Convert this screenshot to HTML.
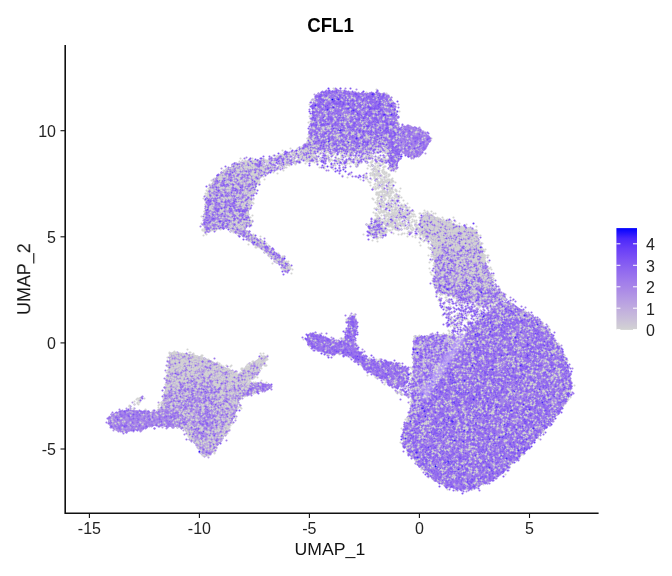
<!DOCTYPE html>
<html><head><meta charset="utf-8"><style>
html,body{margin:0;padding:0;background:#fff;width:672px;height:576px;overflow:hidden}
svg{display:block}
</style></head><body>
<svg width="672" height="576" viewBox="0 0 672 576">
<defs><filter id="bl1" x="-50%" y="-50%" width="200%" height="200%"><feGaussianBlur stdDeviation="2"/></filter><linearGradient id="cb" x1="0" y1="0" x2="0" y2="1"><stop offset="0.00" stop-color="#0000FF"/><stop offset="0.10" stop-color="#4926FB"/><stop offset="0.20" stop-color="#673DF8"/><stop offset="0.30" stop-color="#7C51F4"/><stop offset="0.40" stop-color="#8E65F0"/><stop offset="0.50" stop-color="#9D77EC"/><stop offset="0.60" stop-color="#AA89E7"/><stop offset="0.70" stop-color="#B69CE3"/><stop offset="0.80" stop-color="#C1AEDE"/><stop offset="0.90" stop-color="#CAC0D9"/><stop offset="1.00" stop-color="#D3D3D3"/></linearGradient></defs>
<rect width="672" height="576" fill="#fff"/>
<g><linearGradient id="g0" gradientUnits="userSpaceOnUse" x1="215.0" y1="205.0" x2="262.0" y2="165.0"><stop offset="0" stop-color="#B09BE2"/><stop offset="1" stop-color="#BDAFDC"/></linearGradient><path d="M250.0,161.5C246.3,160.9 243.3,161.5 240.0,162.5C236.7,163.5 233.2,165.8 230.0,167.5C226.8,169.2 223.7,170.8 221.0,173.0C218.3,175.2 216.0,177.8 214.0,180.5C212.0,183.2 210.2,186.0 209.0,189.0C207.8,192.0 207.2,195.3 206.5,198.5C205.8,201.7 205.3,204.8 205.0,208.0C204.7,211.2 204.7,214.7 204.5,218.0C204.3,221.3 203.8,225.7 204.0,228.0C204.2,230.3 204.6,231.6 206.0,232.0C207.4,232.4 209.9,231.1 212.4,230.5C214.9,229.9 218.1,228.8 221.0,228.5C223.9,228.2 227.4,227.9 229.7,228.5C231.9,229.1 231.7,230.7 234.5,232.3C237.3,234.0 242.5,236.0 246.6,238.4C250.7,240.8 254.8,243.8 258.8,246.8C262.9,249.8 267.3,253.6 270.9,256.6C274.5,259.7 278.0,262.5 280.6,265.1C283.2,267.7 285.1,272.0 286.7,272.4C288.3,272.8 290.7,269.6 290.3,267.6C289.9,265.6 286.8,262.9 284.2,260.3C281.6,257.7 278.1,254.9 274.5,251.8C270.9,248.8 266.4,245.0 262.4,242.0C258.3,239.0 253.1,235.9 250.2,233.6C247.3,231.3 244.9,229.6 245.0,228.0C245.1,226.4 250.4,226.3 251.0,224.0C251.6,221.7 248.9,217.5 248.8,214.0C248.7,210.5 249.7,206.5 250.5,203.0C251.3,199.5 252.6,196.3 253.8,193.0C255.0,189.7 256.0,186.2 257.5,183.0C259.0,179.8 262.1,176.8 262.9,174.0C263.6,171.2 264.1,168.1 262.0,166.0C259.9,163.9 253.7,162.1 250.0,161.5Z" fill="url(#g0)"/><linearGradient id="g1423" gradientUnits="userSpaceOnUse" x1="350.0" y1="100.0" x2="350.0" y2="160.0"><stop offset="0" stop-color="#9E80E9"/><stop offset="1" stop-color="#AC95E3"/></linearGradient><path d="M311.5,120.0C312.1,114.5 312.0,109.5 312.5,106.0C313.0,102.5 313.4,100.9 314.5,99.0C315.6,97.1 316.9,95.8 319.0,94.5C321.1,93.2 323.8,92.2 327.0,91.5C330.2,90.8 334.1,90.4 338.4,90.5C342.7,90.6 348.6,91.5 353.0,92.0C357.4,92.5 361.1,93.3 365.1,93.5C369.2,93.7 373.7,92.8 377.3,93.0C380.9,93.2 384.4,93.2 387.0,94.5C389.6,95.8 391.6,98.8 393.0,101.0C394.4,103.2 394.8,104.5 395.5,107.5C396.2,110.5 396.4,115.2 397.0,119.0C397.6,122.8 398.6,125.7 399.0,130.0C399.4,134.3 399.4,141.3 399.5,145.0C399.6,148.7 399.8,149.5 399.5,152.0C399.2,154.5 398.0,157.7 397.5,160.0C397.0,162.3 397.3,164.5 396.6,166.0C395.9,167.5 394.4,169.5 393.3,169.2C392.2,168.9 390.8,166.8 390.0,164.3C389.2,161.8 389.2,156.8 388.5,154.0C387.8,151.2 387.4,148.6 385.8,147.5C384.2,146.4 381.2,147.2 378.6,147.5C376.0,147.8 373.1,148.8 370.4,149.5C367.7,150.2 364.9,151.0 362.2,151.5C359.5,152.0 356.7,152.3 354.0,152.5C351.3,152.7 348.5,152.8 345.8,152.5C343.1,152.2 340.6,151.5 337.6,151.0C334.6,150.5 331.3,149.7 327.8,149.5C324.3,149.3 319.7,149.9 316.4,150.0C313.1,150.1 310.3,150.4 308.2,150.0C306.1,149.6 303.9,149.3 304.0,147.5C304.1,145.7 307.8,143.6 309.0,139.0C310.2,134.4 310.9,125.5 311.5,120.0Z" fill="url(#g1423)"/><path d="M389.0,145.0C390.2,142.5 395.4,143.3 397.0,145.0C398.6,146.7 398.3,152.0 398.5,155.0C398.7,158.0 398.5,160.7 398.0,163.0C397.5,165.3 396.6,168.1 395.5,169.0C394.4,169.9 392.5,170.0 391.5,168.5C390.5,167.0 389.9,163.9 389.5,160.0C389.1,156.1 387.8,147.5 389.0,145.0Z" fill="#9571EC"/><path d="M401.0,127.5C402.0,125.5 404.2,126.2 406.0,126.0C407.8,125.8 409.5,125.8 412.0,126.5C414.5,127.2 418.3,128.5 421.0,130.0C423.7,131.5 426.6,133.6 428.0,135.5C429.4,137.4 429.9,139.3 429.5,141.5C429.1,143.7 427.2,146.2 425.5,148.5C423.8,150.8 421.8,154.0 419.5,155.5C417.2,157.0 414.4,157.7 412.0,157.5C409.6,157.3 406.8,155.8 405.0,154.5C403.2,153.2 401.8,152.8 401.0,150.0C400.2,147.2 400.0,141.8 400.0,138.0C400.0,134.2 400.0,129.5 401.0,127.5Z" fill="#A585E8"/><linearGradient id="g3592" gradientUnits="userSpaceOnUse" x1="460.0" y1="225.0" x2="460.0" y2="305.0"><stop offset="0" stop-color="#C6BFD8"/><stop offset="1" stop-color="#AB94E4"/></linearGradient><path d="M425.0,214.0C428.4,212.0 436.9,218.3 441.3,219.8C445.8,221.3 448.2,221.7 451.7,222.9C455.1,224.1 458.6,226.1 462.0,227.0C465.4,227.9 469.6,227.7 472.0,228.5C474.4,229.3 475.2,229.8 476.5,232.0C477.8,234.2 478.7,238.4 479.8,241.7C480.9,245.0 482.0,248.5 483.0,252.0C484.0,255.5 484.8,258.7 486.0,262.5C487.2,266.3 489.0,271.2 490.3,275.0C491.6,278.8 492.6,282.6 494.0,285.4C495.4,288.1 497.0,289.4 499.0,291.5C501.0,293.6 506.3,296.2 506.0,298.0C505.7,299.8 500.7,301.2 497.0,302.0C493.3,302.8 488.5,303.4 484.0,303.0C479.5,302.6 474.7,300.6 470.0,299.5C465.3,298.4 459.7,297.3 456.0,296.5C452.3,295.7 450.5,295.2 448.0,294.5C445.5,293.8 442.9,293.6 441.0,292.5C439.1,291.4 437.5,290.1 436.5,288.0C435.5,285.9 435.3,283.8 435.0,280.0C434.7,276.2 434.9,270.0 434.5,265.0C434.1,260.0 433.2,254.5 432.5,250.0C431.8,245.5 431.9,241.0 430.0,238.0C428.1,235.0 421.8,236.0 421.0,232.0C420.2,228.0 421.6,216.0 425.0,214.0Z" fill="url(#g3592)"/><linearGradient id="g4733" gradientUnits="userSpaceOnUse" x1="500.0" y1="300.0" x2="500.0" y2="345.0"><stop offset="0" stop-color="#AB93E4"/><stop offset="1" stop-color="#A286E7"/></linearGradient><path d="M497.0,305.0C499.3,304.0 504.0,301.3 508.0,302.0C512.0,302.7 516.3,306.3 521.0,309.0C525.7,311.7 531.8,314.7 536.0,318.0C540.2,321.3 543.6,325.6 546.5,329.0C549.4,332.4 551.2,334.9 553.5,338.5C555.8,342.1 558.4,346.4 560.5,350.4C562.6,354.4 564.8,358.6 566.4,362.6C568.0,366.7 569.1,371.0 570.0,374.7C570.9,378.4 571.5,381.6 571.5,385.0C571.5,388.4 570.8,392.0 569.8,395.0C568.8,398.0 567.2,400.1 565.5,403.0C563.8,405.9 561.8,409.1 559.5,412.2C557.2,415.3 554.6,418.2 551.8,421.6C549.0,425.0 545.6,429.1 542.5,432.5C539.4,435.9 536.3,438.6 533.2,442.0C530.1,445.4 527.1,449.3 523.8,452.6C520.5,455.9 517.1,458.6 513.5,462.0C509.9,465.4 506.1,469.7 502.0,473.0C497.9,476.3 493.5,479.4 489.0,481.8C484.5,484.2 479.1,486.1 474.8,487.4C470.6,488.7 468.2,489.9 463.5,489.7C458.8,489.5 451.7,487.8 446.5,486.0C441.3,484.2 436.6,482.1 432.4,479.0C428.2,475.9 424.7,471.5 421.1,467.6C417.5,463.7 413.8,459.1 411.0,455.5C408.2,451.9 405.9,449.1 404.5,446.0C403.1,442.9 402.5,440.2 402.5,437.0C402.5,433.8 403.4,430.3 404.5,427.0C405.6,423.7 406.9,419.8 409.0,417.0C411.1,414.2 414.5,413.7 417.0,410.0C419.5,406.3 421.7,399.8 424.0,395.0C426.3,390.2 428.7,385.2 431.0,381.0C433.3,376.8 435.5,373.8 438.0,370.0C440.5,366.2 443.2,361.8 446.0,358.0C448.8,354.2 452.5,350.0 455.0,347.0C457.5,344.0 458.8,342.5 461.0,340.0C463.2,337.5 465.5,334.8 468.0,332.0C470.5,329.2 473.0,326.0 476.0,323.0C479.0,320.0 483.0,316.5 486.0,314.0C489.0,311.5 492.2,309.5 494.0,308.0C495.8,306.5 494.7,306.0 497.0,305.0Z" fill="url(#g4733)"/><path d="M414.0,338.0C415.9,335.7 421.2,336.5 425.0,336.0C428.8,335.5 433.2,335.2 437.0,335.0C440.8,334.8 444.7,334.7 448.0,335.0C451.3,335.3 454.8,336.2 457.0,337.0C459.2,337.8 461.3,338.3 461.0,340.0C460.7,341.7 457.5,344.0 455.0,347.0C452.5,350.0 448.8,354.2 446.0,358.0C443.2,361.8 440.5,366.2 438.0,370.0C435.5,373.8 433.3,376.8 431.0,381.0C428.7,385.2 426.2,390.5 424.0,395.0C421.8,399.5 420.0,404.5 418.0,408.0C416.0,411.5 413.5,414.2 412.0,416.0C410.5,417.8 409.2,420.3 409.0,419.0C408.8,417.7 410.0,411.8 410.5,408.0C411.0,404.2 411.7,400.7 412.0,396.0C412.3,391.3 412.3,385.2 412.5,380.0C412.7,374.8 412.8,370.0 413.0,365.0C413.2,360.0 413.3,354.5 413.5,350.0C413.7,345.5 412.1,340.3 414.0,338.0Z" fill="#A68BE6" opacity="0.68"/><path d="M307.1,336.3C307.4,334.6 308.2,333.8 309.9,333.5C311.6,333.2 314.5,333.6 317.3,334.4C320.1,335.2 323.5,336.9 326.6,338.1C329.7,339.4 333.3,341.6 335.9,341.9C338.5,342.2 340.5,341.4 342.4,340.0C344.2,338.6 346.1,336.1 347.0,333.5C347.9,330.9 347.7,326.9 348.0,324.2C348.3,321.5 348.0,318.8 348.8,317.5C349.6,316.2 351.4,315.9 352.7,316.5C354.0,317.1 356.0,318.5 356.5,321.0C357.0,323.5 355.9,328.0 355.6,331.6C355.3,335.2 354.1,339.7 354.5,342.8C354.9,345.9 356.3,347.7 358.2,350.2C360.1,352.7 362.6,355.8 365.7,357.7C368.8,359.6 372.5,360.5 376.8,361.4C381.1,362.3 387.8,362.5 391.7,363.2C395.6,363.9 397.8,364.4 400.0,365.5C402.2,366.6 403.9,367.8 405.0,370.0C406.1,372.2 406.7,376.2 406.5,379.0C406.3,381.8 405.6,385.9 404.0,387.0C402.4,388.1 399.7,386.4 397.0,385.5C394.3,384.6 391.4,383.3 388.0,381.8C384.6,380.3 380.5,378.5 376.8,376.3C373.1,374.1 369.1,371.3 365.7,368.8C362.3,366.3 359.2,363.6 356.4,361.4C353.6,359.2 351.7,357.1 348.9,355.8C346.1,354.6 342.7,354.2 339.6,353.9C336.5,353.6 333.1,354.2 330.3,353.9C327.5,353.6 325.7,353.0 322.9,352.1C320.1,351.2 316.1,349.8 313.6,348.4C311.1,347.0 309.1,345.7 308.0,343.7C306.9,341.7 306.8,338.0 307.1,336.3Z" fill="#9E7DEA"/><linearGradient id="g8381" gradientUnits="userSpaceOnUse" x1="200.0" y1="355.0" x2="200.0" y2="430.0"><stop offset="0" stop-color="#C5BADA"/><stop offset="1" stop-color="#B8A6DF"/></linearGradient><path d="M108.0,420.4C108.0,418.8 109.2,417.4 111.0,416.0C112.8,414.6 116.3,412.9 119.0,412.0C121.7,411.1 124.2,410.8 127.0,410.5C129.8,410.2 133.0,410.3 136.0,410.5C139.0,410.7 141.8,411.2 145.0,411.5C148.2,411.8 152.3,412.6 155.0,412.0C157.7,411.4 159.7,409.7 161.0,408.0C162.3,406.3 162.4,404.0 163.0,401.6C163.6,399.2 163.6,397.2 164.3,393.6C165.0,390.0 166.2,384.7 167.0,380.2C167.8,375.7 168.6,371.3 169.1,366.8C169.6,362.3 168.3,355.7 170.2,353.4C172.1,351.1 176.5,352.7 180.4,352.9C184.3,353.1 189.3,353.7 193.8,354.7C198.3,355.7 202.8,357.0 207.2,358.8C211.6,360.6 216.7,363.6 220.5,365.4C224.3,367.2 227.1,368.1 230.0,369.5C232.9,370.9 235.8,373.8 238.0,374.0C240.2,374.2 240.8,372.2 243.0,370.5C245.2,368.8 248.5,365.9 251.0,364.0C253.5,362.1 255.8,360.4 258.0,359.0C260.2,357.6 262.5,355.8 264.0,355.5C265.5,355.2 267.0,356.2 267.0,357.5C267.0,358.8 265.7,360.9 264.0,363.5C262.3,366.1 259.3,370.2 257.0,373.0C254.7,375.8 251.8,378.2 250.0,380.0C248.2,381.8 245.0,383.0 246.0,383.5C247.0,384.0 253.3,383.0 256.0,383.0C258.7,383.0 259.6,383.0 262.0,383.5C264.4,384.0 269.4,385.0 270.5,386.0C271.6,387.0 270.2,388.6 268.5,389.5C266.8,390.4 262.8,390.8 260.0,391.5C257.2,392.2 254.7,392.7 252.0,393.5C249.3,394.3 246.2,395.2 244.0,396.5C241.8,397.8 240.2,398.6 239.0,401.0C237.8,403.4 237.8,407.3 236.5,411.0C235.2,414.7 233.1,419.2 231.3,423.0C229.5,426.8 228.1,430.2 225.9,433.8C223.7,437.4 221.0,440.7 217.9,444.5C214.8,448.3 210.3,455.8 207.2,456.5C204.1,457.2 201.8,451.4 199.1,448.5C196.4,445.6 193.8,442.5 191.1,439.1C188.4,435.8 186.6,430.6 183.0,428.4C179.4,426.2 174.5,426.1 169.6,425.7C164.7,425.2 158.5,425.2 153.6,425.7C148.7,426.1 144.7,427.5 140.2,428.4C135.7,429.3 130.8,430.9 126.8,431.1C122.8,431.3 118.8,430.6 116.1,429.7C113.4,428.8 112.0,427.2 110.7,425.7C109.4,424.1 108.0,422.0 108.0,420.4Z" fill="url(#g8381)"/><path d="M165.0,395.0C167.0,390.2 173.0,387.2 178.0,385.0C183.0,382.8 189.3,381.5 195.0,382.0C200.7,382.5 207.8,384.2 212.0,388.0C216.2,391.8 220.0,399.0 220.0,405.0C220.0,411.0 216.2,419.8 212.0,424.0C207.8,428.2 200.3,429.8 195.0,430.0C189.7,430.2 184.8,427.7 180.0,425.0C175.2,422.3 168.5,419.0 166.0,414.0C163.5,409.0 163.0,399.8 165.0,395.0Z" fill="#B29CE2" opacity="0.6"/><path d="M108.0,420.4C108.0,418.7 109.2,417.4 111.0,416.0C112.8,414.6 116.3,412.9 119.0,412.0C121.7,411.1 124.2,410.8 127.0,410.5C129.8,410.2 133.0,410.3 136.0,410.5C139.0,410.7 141.8,411.2 145.0,411.5C148.2,411.8 152.0,412.6 155.0,412.5C158.0,412.4 160.5,410.9 163.0,411.0C165.5,411.1 167.5,411.8 170.0,413.0C172.5,414.2 176.0,416.0 178.0,418.0C180.0,420.0 182.5,423.5 182.0,425.0C181.5,426.5 177.8,426.8 175.0,427.0C172.2,427.2 168.7,426.7 165.0,426.5C161.3,426.3 157.2,425.5 153.0,426.0C148.8,426.5 144.3,428.6 140.0,429.5C135.7,430.4 131.0,431.3 127.0,431.5C123.0,431.7 118.7,431.4 116.0,430.5C113.3,429.6 112.0,427.7 110.7,426.0C109.4,424.3 108.0,422.1 108.0,420.4Z" fill="#A788E7"/><path d="M244.0,395.0C244.2,394.1 248.0,391.3 250.0,389.5C252.0,387.7 254.0,385.0 256.0,384.0C258.0,383.0 259.6,383.2 262.0,383.5C264.4,383.8 269.4,385.0 270.5,386.0C271.6,387.0 270.6,388.5 268.5,389.5C266.4,390.5 261.2,391.1 258.0,392.0C254.8,392.9 251.3,394.5 249.0,395.0C246.7,395.5 243.8,395.9 244.0,395.0Z" fill="#AA8EE6"/></g>
<g stroke-linecap="round" stroke-width="2.1" fill="none" transform="translate(0.5,0.5)"><path d="M342 96h0m21 4h0m0 1h0m27 2h0m-6 5h0m-27 1h0m27 0h0m-40 5h0m20 0h0m-26 1h0m6 2h0m-11 1h0m52 3h0m-52 2h0m-3 4h0m14 0h0m-25 2h0m75 2h0m-70 1h0m33 0h0m-20 1h0m46 0h0m-65 1h0m4 6h0m51 0h0m5 1h0m20 1h0m-69 1h0m63 0h0m-77 1h0m77 0h0m9 0h0m-92 1h0m-1 1h0m5 0h0m-10 1h0m51 0h0m7 1h0m29 0h0m-81 1h0m26 0h0m-31 3h0m7 1h0m-29 1h0m49 1h0m11 1h0m-36 1h0m58 0h0m-4 2h0m-89 1h0m-22 1h0m17 0h0m44 0h0m-62 1h0m123 2h0m-91 3h0m-17 2h0m127 1h0m-163 1h0m36 2h0m-13 1h0m127 0h0m-116 2h0m-38 4h0m12 1h0m-3 3h0m146 0h0m8 1h0m-13 2h0m19 0h0m-9 2h0m-3 2h0m-134 2h0m-25 2h0m13 0h0m-18 1h0m179 0h0m-184 1h0m18 1h0m-11 1h0m22 2h0m9 0h0m-41 3h0m34 0h0m141 1h0m-2 2h0m-175 2h0m29 4h0m157 1h0m2 0h0m36 0h0m-28 1h0m30 0h0m-216 1h0m21 0h0m195 1h0m-200 1h0m142 1h0m13 0h0m-152 2h0m153 0h0m8 0h0m47 0h0m-52 1h0m39 0h0m-200 1h0m15 0h0m179 0h0m-24 1h0m-12 1h0m68 0h0m-4 1h0m-27 2h0m39 0h0m-84 1h0m15 0h0m18 0h0m-33 1h0m42 0h0m37 0h0m14 0h0m-235 1h0m232 0h0m-225 1h0m182 0h0m5 0h0m30 0h0m-9 1h0m-10 1h0m-28 1h0m16 0h0m45 1h0m-4 1h0m-14 1h0m-196 3h0m166 0h0m-167 1h0m214 0h0m-29 1h0m-13 1h0m7 0h0m9 0h0m12 0h0m-204 2h0m1 0h0m189 0h0m6 2h0m3 0h0m18 0h0m-196 5h0m177 0h0m17 0h0m-198 2h0m195 0h0m-15 2h0m11 0h0m-7 3h0m18 0h0m-29 2h0m38 3h0m-44 2h0m34 0h0m5 0h0m-32 1h0m17 2h0m-14 1h0m0 0h0m12 2h0m-19 3h0m12 0h0m30 0h0m-49 2h0m10 0h0m16 0h0m-19 2h0m39 0h0m1 0h0m-42 2h0m24 1h0m7 0h0m-37 1h0m10 0h0m25 2h0m-34 7h0m2 4h0m35 0h0m0 1h0m28 1h0m2 5h0m-1 6h0m11 2h0m18 6h0m-18 1h0m-21 1h0m-8 1h0m-6 2h0m28 2h0m-14 1h0m18 0h0m-40 1h0m20 1h0m7 0h0m-19 3h0m-20 2h0m25 0h0m62 0h0m-193 2h0m139 1h0m30 2h0m-46 1h0m58 0h0m-35 1h0m4 0h0m-19 1h0m62 0h0m-42 1h0m32 0h0m18 0h0m-119 1h0m55 0h0m-169 2h0m10 0h0m124 1h0m38 1h0m57 1h0m-46 2h0m-156 1h0m162 1h0m23 1h0m-354 2h0m5 2h0m11 1h0m286 0h0m-288 2h0m374 0h0m-389 1h0m19 1h0m193 0h0m61 0h0m-251 1h0m276 0h0m69 0h0m-175 1h0m99 0h0m-277 1h0m222 0h0m69 0h0m-304 2h0m63 1h0m148 0h0m113 0h0m-39 1h0m-295 1h0m217 0h0m143 0h0m-304 1h0m-51 1h0m47 0h0m302 0h0m1 0h0m-303 1h0m190 0h0m82 0h0m59 0h0m-89 1h0m68 0h0m-325 1h0m329 0h0m6 0h0m-348 1h0m236 0h0m31 0h0m-254 1h0m51 0h0m186 0h0m-274 1h0m323 0h0m-274 1h0m-29 1h0m216 0h0m-169 1h0m196 0h0m-231 1h0m13 0h0m227 0h0m98 0h0m-361 1h0m50 0h0m7 2h0m1 0h0m299 0h0m-284 1h0m141 0h0m105 0h0m-327 1h0m97 0h0m3 0h0m228 0h0m71 1h0m-405 4h0m37 0h0m29 0h0m-44 2h0m34 0h0m-29 1h0m224 0h0m92 0h0m-70 1h0m15 0h0m2 0h0m-315 2h0m42 1h0m280 0h0m30 0h0m-48 1h0m73 0h0m-280 1h0m184 0h0m54 0h0m-254 2h0m288 0h0m-72 1h0m-197 2h0m179 0h0m-185 1h0m316 0h0m-341 1h0m29 0h0m274 0h0m-326 2h0m229 1h0m112 1h0m7 0h0m-116 1h0m18 1h0m61 2h0m-74 1h0m7 1h0m98 0h0m-117 1h0m11 0h0m9 0h0m86 0h0m3 0h0m15 0h0m-370 1h0m33 0h0m230 1h0m-197 1h0m217 0h0m27 1h0m10 0h0m-301 2h0m245 0h0m117 0h0m-349 1h0m323 0h0m21 0h0m-339 1h0m-20 1h0m336 1h0m-331 2h0m19 0h0m330 0h0m-327 2h0m303 0h0m-103 1h0m11 0h0m-229 1h0m244 0h0m-246 1h0m21 0h0m212 2h0m60 1h0m-268 1h0m233 0h0m66 0h0m-62 1h0m45 0h0m-296 2h0m268 0h0m-23 1h0m54 1h0m1 0h0m-299 2h0m13 0h0m-4 1h0m7 0h0m218 1h0m78 8h0m-24 2h0m-50 2h0m49 1h0m-36 1h0m33 0h0m-39 2h0m49 0h0m-51 2h0m21 4h0m14 5h0m-32 3h0m15 1h0" stroke="#D3D3D3"/><path d="M336 91h0m-15 1h0m2 1h0m11 0h0m16 3h0m8 1h0m28 0h0m-67 2h0m51 2h0m8 0h0m7 0h0m-49 1h0m11 1h0m42 1h0m-55 1h0m41 0h0m-57 4h0m5 0h0m70 1h0m-70 1h0m59 2h0m-12 1h0m12 0h0m5 0h0m-29 1h0m7 1h0m-33 2h0m-17 5h0m31 1h0m-9 1h0m-22 1h0m42 1h0m0 1h0m-38 4h0m5 0h0m77 3h0m-89 2h0m84 0h0m-51 1h0m49 0h0m-85 1h0m4 0h0m26 3h0m29 1h0m56 0h0m-72 2h0m-39 1h0m43 0h0m48 1h0m-54 1h0m41 0h0m12 2h0m-30 1h0m20 0h0m-19 1h0m43 0h0m3 0h0m-9 1h0m-122 1h0m80 1h0m11 0h0m10 0h0m-101 4h0m103 1h0m-118 1h0m77 0h0m43 0h0m-112 1h0m114 0h0m-138 3h0m81 3h0m-98 2h0m21 2h0m77 1h0m-110 3h0m123 0h0m18 2h0m-134 2h0m-17 2h0m27 4h0m-28 3h0m3 2h0m12 0h0m9 4h0m-20 1h0m17 9h0m-1 1h0m-4 2h0m-18 4h0m-2 4h0m213 10h0m7 10h0m0 1h0m42 12h0m-15 4h0m-14 4h0m18 5h0m-23 6h0m-5 1h0m40 2h0m-9 4h0m8 1h0m4 1h0m-36 1h0m25 0h0m-24 1h0m17 0h0m-19 6h0m9 2h0m32 2h0m-42 2h0m16 0h0m3 3h0m0 1h0m34 2h0m-23 1h0m32 1h0m-64 1h0m30 1h0m-14 1h0m4 0h0m17 1h0m5 0h0m-5 6h0m20 0h0m24 1h0m-29 3h0m29 1h0m1 2h0m-66 2h0m69 0h0m13 2h0m-183 1h0m139 0h0m17 0h0m18 0h0m-37 1h0m6 0h0m20 0h0m-47 1h0m-118 1h0m130 0h0m58 2h0m-1 2h0m-82 1h0m29 0h0m10 0h0m15 1h0m-33 1h0m75 1h0m-95 1h0m30 0h0m-31 1h0m-111 1h0m116 1h0m-138 1h0m136 0h0m-142 1h0m3 0h0m122 0h0m50 0h0m6 0h0m23 0h0m15 0h0m-2 1h0m-28 1h0m-195 1h0m129 0h0m-6 1h0m11 1h0m-19 1h0m62 0h0m16 0h0m-184 1h0m1 0h0m132 0h0m34 0h0m-155 1h0m133 0h0m22 0h0m-58 1h0m68 0h0m-184 1h0m179 0h0m-138 1h0m62 0h0m-100 1h0m151 0h0m54 0h0m-45 2h0m42 0h0m-73 1h0m-115 1h0m129 0h0m30 2h0m56 0h0m-11 1h0m21 0h0m-199 1h0m202 0h0m-209 1h0m118 0h0m10 0h0m-104 2h0m1 0h0m38 1h0m28 0h0m91 0h0m-140 1h0m9 0h0m128 0h0m-133 2h0m46 0h0m13 0h0m90 0h0m-112 1h0m59 0h0m37 0h0m26 0h0m-349 1h0m244 0h0m44 1h0m50 0h0m-181 1h0m2 0h0m25 0h0m55 0h0m54 0h0m-96 1h0m17 0h0m1 0h0m75 0h0m62 0h0m-54 1h0m10 0h0m14 0h0m31 0h0m2 0h0m-178 1h0m12 0h0m10 0h0m61 0h0m91 1h0m-149 1h0m-30 1h0m20 0h0m5 0h0m30 1h0m43 0h0m-90 1h0m159 0h0m4 0h0m-382 1h0m218 0h0m20 0h0m92 0h0m-250 1h0m206 0h0m39 0h0m37 0h0m34 0h0m1 0h0m-386 1h0m282 0h0m-245 1h0m335 0h0m-35 1h0m17 0h0m-77 2h0m61 0h0m-273 1h0m280 0h0m-290 1h0m169 0h0m46 0h0m52 0h0m30 0h0m-275 1h0m199 0h0m57 0h0m-3 1h0m-341 1h0m2 0h0m70 0h0m197 0h0m-257 1h0m57 0h0m204 0h0m19 1h0m-269 1h0m30 0h0m-15 1h0m23 0h0m305 0h0m-7 1h0m17 0h0m-5 1h0m-353 1h0m16 1h0m234 0h0m84 0h0m-81 1h0m104 1h0m24 0h0m-367 1h0m241 1h0m103 0h0m-111 1h0m-7 1h0m4 0h0m75 1h0m34 0h0m5 0h0m18 0h0m-46 1h0m-96 1h0m19 0h0m115 0h0m-326 1h0m190 0h0m78 0h0m-314 1h0m32 0h0m-53 1h0m268 0h0m5 0h0m-5 1h0m-310 1h0m26 0h0m296 0h0m12 0h0m-253 1h0m1 0h0m8 1h0m290 0h0m-354 1h0m57 0h0m267 0h0m77 0h0m-315 1h0m211 0h0m21 0h0m78 0h0m-109 1h0m-306 1h0m330 0h0m96 0h0m-106 1h0m62 0h0m-332 1h0m232 0h0m28 0h0m0 2h0m86 0h0m19 0h0m-343 1h0m-90 1h0m60 0h0m371 0h0m-126 1h0m-293 1h0m32 0h0m12 0h0m297 0h0m61 0h0m21 0h0m-138 1h0m32 0h0m-312 1h0m325 0h0m32 0h0m64 0h0m-53 1h0m-35 1h0m33 0h0m-78 1h0m38 0h0m11 0h0m15 0h0m41 0h0m2 0h0m-298 1h0m222 0h0m52 0h0m2 0h0m1 0h0m-23 1h0m8 0h0m-279 1h0m1 0h0m274 0h0m28 0h0m-32 1h0m23 0h0m-89 1h0m60 0h0m-265 1h0m202 0h0m113 1h0m-74 1h0m15 1h0m-53 1h0m117 0h0m-325 1h0m10 1h0m205 2h0m-12 1h0m32 1h0m54 0h0m4 0h0m2 0h0m17 0h0m-83 3h0m45 0h0m16 0h0m6 0h0m-38 1h0m-42 1h0m67 1h0m-21 3h0m13 1h0m8 0h0m8 1h0m19 1h0m6 0h0m-97 1h0m2 0h0m5 0h0m34 4h0m23 2h0m16 0h0m-57 2h0m59 0h0m6 0h0m-18 1h0m-46 1h0m-10 1h0m41 2h0m-22 3h0m-8 1h0m4 1h0m20 1h0m-21 1h0m21 0h0m14 0h0m-28 1h0m8 3h0m13 3h0m-26 3h0" stroke="#966EEE"/><path d="M376 92h0m-29 1h0m16 1h0m-18 7h0m7 0h0m18 1h0m-30 2h0m-16 4h0m16 1h0m-1 1h0m-15 2h0m0 0h0m39 0h0m22 0h0m-30 5h0m-25 2h0m34 0h0m19 0h0m-42 2h0m-7 1h0m-13 2h0m34 0h0m-41 3h0m33 1h0m-31 1h0m5 0h0m91 0h0m-97 3h0m43 0h0m9 1h0m36 0h0m-62 2h0m56 0h0m11 1h0m12 0h0m-13 1h0m0 1h0m-88 1h0m103 0h0m-34 1h0m2 0h0m20 0h0m20 0h0m-40 1h0m-55 1h0m92 1h0m-81 1h0m78 0h0m-116 1h0m2 0h0m107 0h0m-116 3h0m86 1h0m31 1h0m-54 1h0m27 0h0m-13 1h0m29 0h0m13 1h0m-67 2h0m-58 1h0m17 0h0m11 1h0m6 2h0m-93 4h0m114 3h0m-77 1h0m-36 6h0m4 3h0m-18 2h0m-10 1h0m13 2h0m16 0h0m-7 3h0m16 2h0m-23 2h0m-10 2h0m26 0h0m-1 3h0m-25 2h0m-1 6h0m19 4h0m7 2h0m3 0h0m-39 6h0m1 1h0m25 2h0m-23 1h0m217 6h0m-187 2h0m175 0h0m-207 1h0m33 5h0m206 5h0m10 0h0m-207 1h0m211 1h0m-37 2h0m-169 2h0m217 0h0m-20 4h0m-168 10h0m-3 3h0m184 1h0m-19 8h0m-157 1h0m152 0h0m-4 2h0m47 0h0m-17 1h0m-10 1h0m2 0h0m19 1h0m9 4h0m-8 6h0m-39 1h0m30 2h0m-25 2h0m44 0h0m-23 1h0m-6 5h0m20 3h0m-1 5h0m6 2h0m-37 3h0m55 5h0m-12 1h0m13 1h0m-28 1h0m-28 1h0m11 4h0m62 4h0m-16 3h0m-18 1h0m36 0h0m-169 2h0m-6 1h0m157 0h0m-152 1h0m157 0h0m-156 1h0m77 0h0m21 0h0m55 0h0m-53 1h0m46 0h0m-177 1h0m150 0h0m-24 2h0m-19 1h0m51 1h0m16 0h0m-79 1h0m93 0h0m13 1h0m-56 1h0m-141 1h0m168 0h0m38 1h0m-57 1h0m12 0h0m67 0h0m-142 1h0m46 0h0m32 0h0m8 0h0m-187 1h0m165 0h0m-115 1h0m-5 3h0m-27 1h0m93 0h0m52 1h0m40 0h0m9 0h0m14 0h0m-14 1h0m-350 1h0m348 0h0m40 0h0m-362 1h0m268 0h0m24 0h0m21 0h0m11 0h0m-167 1h0m12 0h0m46 0h0m115 0h0m-14 1h0m-95 1h0m69 0h0m-21 1h0m-267 1h0m8 0h0m237 0h0m75 0h0m-147 1h0m7 1h0m184 0h0m-376 1h0m5 0h0m182 0h0m-204 1h0m277 2h0m60 0h0m62 0h0m-200 1h0m-164 1h0m183 0h0m11 0h0m97 0h0m-110 1h0m72 2h0m26 0h0m-230 1h0m260 0h0m29 0h0m-30 1h0m1 0h0m36 0h0m-325 1h0m340 0h0m-172 1h0m104 0h0m19 0h0m-339 1h0m35 0h0m342 0h0m-173 1h0m56 0h0m1 0h0m28 1h0m-237 1h0m169 0h0m106 1h0m-303 1h0m47 0h0m7 0h0m272 0h0m-303 1h0m32 0h0m135 0h0m21 0h0m134 0h0m-107 1h0m-265 2h0m28 0h0m-17 1h0m68 0h0m-36 1h0m0 0h0m336 0h0m-378 1h0m7 0h0m370 0h0m10 0h0m-378 1h0m307 0h0m64 0h0m-386 1h0m7 1h0m259 0h0m20 0h0m84 0h0m-339 1h0m13 0h0m2 0h0m300 0h0m13 0h0m-51 1h0m15 0h0m42 0h0m20 0h0m-368 1h0m12 0h0m15 0h0m17 0h0m236 2h0m46 0h0m14 0h0m-362 1h0m8 0h0m52 0h0m-51 1h0m285 0h0m29 0h0m23 0h0m-347 1h0m291 0h0m-266 1h0m263 0h0m13 1h0m56 0h0m-102 1h0m103 0h0m23 0h0m6 0h0m-388 1h0m297 0h0m46 0h0m35 0h0m-349 1h0m42 0h0m200 1h0m16 0h0m44 0h0m-5 1h0m-321 2h0m260 0h0m-283 1h0m27 0h0m56 0h0m188 0h0m27 0h0m84 0h0m-295 1h0m-119 1h0m31 0h0m47 0h0m345 0h0m8 0h0m-427 1h0m37 0h0m398 0h0m-411 1h0m5 0h0m74 0h0m-101 1h0m47 0h0m33 0h0m235 0h0m25 0h0m-305 1h0m50 0h0m321 0h0m15 0h0m-426 1h0m40 0h0m21 0h0m314 0h0m-347 1h0m2 0h0m50 0h0m356 0h0m-377 1h0m8 0h0m-73 1h0m61 0h0m10 0h0m270 0h0m29 0h0m-353 1h0m54 0h0m24 0h0m220 0h0m70 0h0m-368 1h0m3 0h0m2 0h0m59 0h0m249 0h0m-325 1h0m16 0h0m23 0h0m30 0h0m44 0h0m218 0h0m43 0h0m-331 1h0m251 0h0m-267 1h0m66 0h0m4 0h0m-66 1h0m262 0h0m117 0h0m-390 1h0m63 0h0m-82 1h0m79 0h0m216 0h0m-215 1h0m269 0h0m51 0h0m-289 1h0m188 0h0m76 0h0m-365 1h0m301 0h0m64 0h0m13 0h0m29 0h0m-337 1h0m2 0h0m11 0h0m247 0h0m15 0h0m42 0h0m-90 3h0m-216 1h0m9 1h0m-15 1h0m270 0h0m21 0h0m-8 1h0m31 1h0m7 1h0m-49 1h0m-276 1h0m257 0h0m-16 1h0m34 0h0m-260 1h0m213 0h0m35 1h0m-22 4h0m9 0h0m-248 1h0m283 1h0m27 0h0m-303 1h0m227 1h0m30 0h0m-39 2h0m87 0h0m-55 3h0m24 0h0m26 0h0m-69 2h0m71 1h0m-54 5h0m42 0h0m-64 1h0m44 0h0m26 0h0m-57 1h0m19 2h0m25 0h0m12 0h0m-49 2h0m35 0h0m5 1h0m-20 2h0m9 2h0m-3 1h0m10 1h0m-2 1h0" stroke="#AA89E7"/><path d="M350 92h0m22 1h0m-61 7h0m13 6h0m57 4h0m-13 4h0m-18 3h0m4 2h0m34 2h0m6 5h0m-77 2h0m30 0h0m72 1h0m0 0h0m-24 1h0m13 0h0m-72 1h0m26 0h0m31 0h0m-35 2h0m9 0h0m20 0h0m-39 4h0m-3 2h0m40 1h0m4 0h0m-80 4h0m72 1h0m7 0h0m33 1h0m-102 1h0m67 0h0m21 0h0m-98 1h0m-6 1h0m13 0h0m5 1h0m31 0h0m-59 2h0m0 0h0m101 0h0m24 1h0m-168 5h0m29 1h0m110 2h0m-91 1h0m80 1h0m-142 1h0m1 0h0m14 0h0m8 0h0m-14 1h0m17 0h0m129 0h0m-129 1h0m62 0h0m-38 1h0m88 0h0m-120 1h0m11 0h0m114 0h0m15 1h0m-122 1h0m-26 1h0m-17 1h0m36 1h0m120 0h0m-155 1h0m148 1h0m-132 1h0m133 0h0m-142 1h0m134 2h0m-155 2h0m157 6h0m-162 2h0m25 0h0m-3 1h0m151 1h0m2 0h0m-157 2h0m-10 1h0m14 0h0m164 1h0m-159 6h0m2 0h0m-5 2h0m-30 1h0m38 0h0m2 0h0m144 3h0m10 3h0m-190 2h0m3 0h0m19 0h0m-25 2h0m179 2h0m57 1h0m-51 1h0m1 0h0m0 0h0m44 0h0m-216 1h0m219 0h0m-43 1h0m3 0h0m12 2h0m-210 1h0m201 0h0m29 1h0m-55 1h0m-147 1h0m165 0h0m-155 1h0m227 0h0m-233 1h0m230 0h0m-44 1h0m4 0h0m-40 3h0m1 0h0m43 2h0m31 1h0m17 1h0m-25 1h0m7 1h0m14 0h0m-5 1h0m-17 1h0m-189 1h0m199 0h0m-13 1h0m34 3h0m-43 2h0m21 0h0m-3 1h0m-189 1h0m167 3h0m24 2h0m16 0h0m3 1h0m3 0h0m-32 2h0m4 3h0m-13 1h0m16 0h0m-14 1h0m4 0h0m22 2h0m4 0h0m-7 1h0m-11 1h0m6 0h0m18 0h0m-16 1h0m-174 1h0m178 1h0m9 0h0m-22 1h0m30 1h0m-4 2h0m-9 1h0m-4 1h0m-21 1h0m38 0h0m-27 1h0m7 2h0m6 1h0m-8 1h0m32 0h0m2 1h0m-40 1h0m4 0h0m10 0h0m12 0h0m-32 1h0m5 0h0m38 1h0m-35 2h0m25 1h0m-19 6h0m-8 1h0m31 0h0m-15 2h0m31 1h0m-14 3h0m24 2h0m-11 5h0m9 0h0m-60 1h0m53 1h0m-47 1h0m61 0h0m-7 1h0m1 0h0m11 4h0m-45 2h0m37 1h0m-61 1h0m68 1h0m11 1h0m11 3h0m0 3h0m-4 2h0m-10 1h0m21 4h0m3 0h0m-82 5h0m10 1h0m27 0h0m-192 1h0m33 0h0m84 1h0m-83 1h0m146 0h0m-78 2h0m44 2h0m25 0h0m36 2h0m-64 1h0m9 0h0m-127 1h0m193 1h0m-174 1h0m-183 3h0m382 0h0m-55 1h0m-70 1h0m-239 2h0m60 0h0m-71 1h0m5 0h0m13 0h0m9 0h0m-24 1h0m174 0h0m137 1h0m-52 1h0m-254 1h0m344 0h0m-355 1h0m67 0h0m-64 1h0m16 0h0m18 0h0m28 0h0m168 0h0m23 0h0m41 0h0m53 0h0m37 0h0m-381 1h0m44 0h0m22 0h0m161 0h0m111 0h0m-350 1h0m267 0h0m-193 1h0m247 0h0m29 0h0m-330 1h0m-15 1h0m77 0h0m249 0h0m-309 1h0m9 0h0m8 0h0m30 0h0m-74 1h0m45 0h0m182 0h0m2 0h0m-208 1h0m38 0h0m196 0h0m65 0h0m-248 2h0m8 0h0m221 0h0m-289 1h0m30 0h0m229 0h0m27 1h0m-286 1h0m-9 1h0m232 0h0m-172 1h0m212 0h0m93 0h0m-364 1h0m53 0h0m204 0h0m-251 1h0m10 0h0m46 0h0m249 0h0m-50 2h0m-266 2h0m82 1h0m-29 2h0m17 0h0m227 0h0m52 0h0m-70 1h0m113 0h0m-376 1h0m47 0h0m273 0h0m-286 1h0m13 0h0m298 0h0m-360 1h0m319 0h0m-34 4h0m3 0h0m62 0h0m-293 1h0m9 1h0m243 0h0m22 0h0m-293 1h0m30 0h0m245 0h0m-301 1h0m14 0h0m-65 1h0m32 0h0m57 0h0m197 0h0m67 0h0m10 0h0m-6 1h0m64 0h0m-347 1h0m243 3h0m-240 1h0m327 0h0m-19 1h0m5 0h0m-301 1h0m300 0h0m-321 1h0m212 0h0m-192 1h0m10 0h0m240 0h0m-353 2h0m313 1h0m31 1h0m38 0h0m-265 2h0m-3 1h0m2 0h0m-85 1h0m300 0h0m-252 1h0m20 0h0m1 0h0m262 0h0m-34 1h0m89 0h0m-323 1h0m229 0h0m-209 1h0m-5 1h0m195 0h0m-209 1h0m20 0h0m177 0h0m74 0h0m17 0h0m-13 1h0m58 0h0m-96 1h0m-251 1h0m7 0h0m24 0h0m260 0h0m37 0h0m-309 2h0m5 1h0m212 6h0m87 1h0m-37 1h0m27 0h0m-308 2h0m233 0h0m-19 1h0m-203 3h0m221 0h0m38 0h0m51 1h0m-59 3h0m-30 5h0m30 3h0m38 1h0m-76 1h0m15 9h0m33 3h0m-7 10h0m2 1h0m1 1h0" stroke="#D3D3D3"/><path d="M346 91h0m-30 4h0m61 0h0m-56 1h0m67 0h0m-16 1h0m12 0h0m4 0h0m-7 1h0m-25 1h0m-15 2h0m-15 1h0m23 0h0m14 0h0m18 0h0m-10 1h0m-54 1h0m18 0h0m4 1h0m49 0h0m10 2h0m-24 3h0m-14 1h0m-35 1h0m11 0h0m-14 2h0m41 1h0m4 1h0m4 1h0m0 0h0m-58 2h0m22 1h0m13 5h0m-15 4h0m-21 1h0m20 1h0m27 0h0m55 0h0m3 0h0m-80 2h0m91 0h0m-32 1h0m7 0h0m7 0h0m-98 1h0m10 1h0m72 1h0m5 3h0m-82 1h0m30 1h0m26 0h0m-63 1h0m69 1h0m16 0h0m32 0h0m-101 1h0m-16 1h0m95 0h0m4 0h0m-93 1h0m76 1h0m-83 1h0m9 0h0m6 0h0m6 0h0m-22 1h0m5 0h0m21 0h0m-20 1h0m64 1h0m14 0h0m-40 1h0m-21 3h0m-52 1h0m23 0h0m10 0h0m2 0h0m56 0h0m-90 4h0m36 0h0m-57 1h0m-17 2h0m16 2h0m-6 1h0m27 0h0m118 0h0m-140 7h0m8 1h0m-23 1h0m1 2h0m-25 1h0m19 0h0m126 1h0m-128 2h0m2 1h0m7 3h0m8 4h0m-35 1h0m9 0h0m8 0h0m19 2h0m-38 1h0m181 0h0m-174 3h0m157 6h0m-140 1h0m166 1h0m-6 5h0m-168 1h0m9 1h0m5 1h0m-7 2h0m-17 3h0m-13 1h0m163 0h0m-131 1h0m0 0h0m164 0h0m22 0h0m-50 1h0m-172 1h0m237 1h0m-207 3h0m135 0h0m9 0h0m-143 1h0m220 1h0m-249 1h0m226 2h0m2 0h0m-67 4h0m-98 11h0m-5 1h0m168 3h0m-153 5h0m204 1h0m-209 3h0m178 2h0m17 1h0m5 1h0m3 1h0m-14 2h0m-177 1h0m174 3h0m-5 3h0m6 0h0m26 5h0m-34 1h0m37 0h0m-47 4h0m5 0h0m33 0h0m2 1h0m-20 4h0m2 1h0m34 1h0m-8 1h0m-41 3h0m49 0h0m-40 5h0m29 4h0m-9 2h0m29 1h0m-49 7h0m30 0h0m7 2h0m-35 1h0m-106 4h0m-2 1h0m132 0h0m-128 1h0m96 0h0m70 0h0m-9 1h0m7 0h0m-171 1h0m176 1h0m3 0h0m-176 1h0m3 1h0m158 0h0m-165 1h0m176 1h0m-172 1h0m131 1h0m-131 2h0m173 1h0m3 0h0m-183 1h0m158 0h0m18 0h0m-167 3h0m134 0h0m-38 1h0m13 0h0m40 0h0m24 0h0m-173 1h0m135 0h0m-62 1h0m124 0h0m-225 3h0m106 0h0m9 0h0m15 0h0m4 0h0m9 0h0m1 0h0m-26 1h0m41 0h0m-1 1h0m74 0h0m-231 1h0m99 0h0m23 0h0m23 1h0m84 0h0m-207 1h0m103 0h0m41 0h0m-63 1h0m-104 1h0m26 0h0m209 0h0m-139 4h0m23 0h0m29 0h0m66 0h0m-61 1h0m-66 1h0m5 0h0m15 0h0m5 1h0m38 0h0m87 0h0m-207 1h0m68 1h0m-54 1h0m64 0h0m92 0h0m32 0h0m-120 1h0m33 0h0m46 0h0m41 1h0m-133 1h0m55 0h0m34 1h0m43 0h0m-178 1h0m19 0h0m44 0h0m125 0h0m-387 1h0m4 0h0m189 0h0m63 0h0m2 0h0m-193 1h0m139 0h0m2 0h0m93 0h0m-74 2h0m27 0h0m12 0h0m72 0h0m-290 1h0m150 0h0m15 0h0m66 0h0m67 0h0m-140 1h0m142 0h0m-126 1h0m121 0h0m-269 1h0m118 0h0m83 1h0m-62 1h0m99 0h0m75 0h0m-131 1h0m97 0h0m-147 1h0m94 0h0m41 0h0m-120 1h0m86 0h0m61 1h0m-312 1h0m177 0h0m-6 1h0m44 0h0m-31 1h0m51 0h0m15 0h0m4 0h0m-66 1h0m36 0h0m-2 1h0m4 0h0m9 1h0m87 0h0m-99 1h0m71 0h0m-360 1h0m326 0h0m-13 1h0m84 0h0m3 0h0m-109 1h0m71 0h0m-111 1h0m77 0h0m10 0h0m9 0h0m-116 1h0m69 0h0m90 0h0m-77 1h0m-5 2h0m37 0h0m-106 1h0m94 1h0m39 0h0m-337 1h0m219 0h0m-240 1h0m327 0h0m36 0h0m-123 1h0m57 0h0m11 0h0m30 0h0m24 0h0m-359 1h0m248 0h0m48 0h0m11 0h0m29 0h0m-39 1h0m52 0h0m-120 2h0m13 0h0m-207 1h0m270 0h0m-5 1h0m-286 1h0m12 0h0m221 1h0m34 0h0m-294 2h0m376 0h0m-133 1h0m18 0h0m67 0h0m-345 1h0m16 0h0m287 0h0m30 0h0m-359 1h0m48 0h0m10 1h0m11 0h0m240 0h0m64 1h0m-58 1h0m-266 1h0m12 0h0m289 0h0m-342 1h0m346 0h0m35 0h0m-99 1h0m28 0h0m31 1h0m12 0h0m41 0h0m-414 1h0m64 0h0m6 0h0m223 0h0m118 0h0m-370 1h0m328 1h0m-350 1h0m392 0h0m-355 1h0m273 1h0m-309 2h0m16 0h0m48 0h0m253 0h0m9 0h0m12 0h0m-350 2h0m389 1h0m-389 1h0m326 1h0m56 0h0m30 0h0m-325 1h0m225 1h0m10 0h0m34 2h0m-66 1h0m25 2h0m37 0h0m19 0h0m26 0h0m-49 1h0m33 0h0m-71 2h0m4 1h0m54 2h0m-85 1h0m37 1h0m-241 1h0m316 0h0m5 0h0m-51 1h0m27 1h0m-63 2h0m55 0h0m5 0h0m3 0h0m-20 2h0m-2 1h0m-35 2h0m42 0h0m6 0h0m17 2h0m-45 1h0m-36 3h0m45 1h0m-37 1h0m1 0h0m-3 1h0m56 3h0m2 1h0m-51 4h0m-7 1h0m37 0h0m-34 4h0m28 2h0m-20 3h0m32 1h0m-7 1h0m-5 1h0" stroke="#966EEE"/><path d="M333 94h0m30 1h0m19 5h0m-18 2h0m25 1h0m-22 1h0m-32 6h0m43 1h0m-48 2h0m-1 1h0m7 2h0m11 0h0m36 1h0m-68 1h0m46 10h0m-27 7h0m10 0h0m35 2h0m-71 1h0m41 2h0m58 2h0m13 0h0m-37 3h0m-39 2h0m-11 1h0m38 0h0m-74 2h0m21 1h0m8 0h0m69 0h0m-10 1h0m12 0h0m15 0h0m-124 1h0m-2 1h0m70 0h0m-62 1h0m47 0h0m7 1h0m37 0h0m9 1h0m-89 1h0m-31 1h0m9 0h0m-22 1h0m4 0h0m119 2h0m-97 2h0m108 1h0m-157 1h0m18 0h0m74 0h0m-83 1h0m30 0h0m-11 2h0m111 2h0m-132 3h0m119 0h0m-107 1h0m85 0h0m-123 1h0m21 0h0m-16 1h0m3 0h0m16 0h0m11 2h0m-17 2h0m131 0h0m20 1h0m-136 2h0m-25 1h0m-12 1h0m162 1h0m23 1h0m-167 1h0m10 3h0m141 0h0m-150 1h0m9 0h0m-18 1h0m2 0h0m24 0h0m-11 1h0m3 0h0m7 0h0m134 0h0m8 2h0m7 0h0m-149 3h0m131 2h0m7 0h0m-180 1h0m188 1h0m-173 2h0m174 1h0m-192 1h0m23 1h0m-3 3h0m158 0h0m11 0h0m-5 2h0m-12 1h0m16 0h0m-180 1h0m182 0h0m-16 3h0m48 1h0m11 0h0m-225 1h0m9 1h0m226 0h0m-208 1h0m-30 1h0m197 0h0m19 0h0m8 0h0m7 0h0m-68 1h0m47 0h0m-208 1h0m165 0h0m56 0h0m15 0h0m-228 1h0m22 0h0m132 0h0m2 0h0m54 0h0m6 0h0m19 0h0m-74 1h0m35 0h0m42 1h0m5 0h0m-261 1h0m35 0h0m190 0h0m-181 1h0m178 0h0m1 0h0m7 0h0m29 0h0m13 1h0m0 1h0m-4 2h0m-95 1h0m99 0h0m-223 1h0m183 1h0m28 0h0m9 0h0m-26 1h0m-197 1h0m189 2h0m10 3h0m-185 4h0m193 0h0m3 0h0m-192 1h0m166 0h0m7 1h0m27 0h0m-8 1h0m6 0h0m2 0h0m6 0h0m-5 3h0m-190 1h0m156 0h0m5 3h0m10 4h0m5 0h0m-17 1h0m42 2h0m1 0h0m-33 2h0m42 0h0m-52 3h0m16 0h0m6 0h0m21 0h0m-9 1h0m-179 1h0m157 1h0m31 3h0m-21 3h0m10 0h0m2 4h0m-6 1h0m7 1h0m14 0h0m-22 2h0m23 1h0m9 0h0m-1 1h0m-33 1h0m-20 2h0m25 2h0m14 2h0m9 2h0m15 0h0m-4 7h0m-6 1h0m-24 1h0m46 2h0m-30 2h0m3 1h0m-18 1h0m23 0h0m-37 3h0m62 5h0m20 2h0m-62 1h0m62 1h0m-60 2h0m-11 2h0m64 3h0m22 5h0m-65 1h0m44 0h0m-70 1h0m39 0h0m27 1h0m-72 2h0m101 0h0m-80 1h0m62 0h0m-20 1h0m33 5h0m-44 2h0m-316 1h0m227 0h0m-238 1h0m85 1h0m261 1h0m-110 1h0m-215 3h0m277 0h0m6 0h0m-315 1h0m25 0h0m-23 1h0m89 0h0m154 0h0m-240 1h0m26 0h0m47 0h0m244 1h0m-303 1h0m330 0h0m44 0h0m-380 1h0m2 0h0m37 0h0m212 0h0m38 0h0m-218 1h0m-84 1h0m44 0h0m43 0h0m147 0h0m60 0h0m80 0h0m-67 2h0m-297 1h0m268 1h0m-266 1h0m4 0h0m19 0h0m256 0h0m4 1h0m52 0h0m-108 1h0m-172 1h0m167 0h0m-223 1h0m276 0h0m16 0h0m-255 1h0m-20 1h0m232 0h0m89 0h0m-335 1h0m33 0h0m338 0h0m-381 1h0m49 1h0m15 0h0m304 0h0m0 0h0m-25 1h0m-299 1h0m23 0h0m173 0h0m10 0h0m32 0h0m-291 1h0m39 0h0m252 0h0m-221 1h0m-39 1h0m336 0h0m-336 1h0m6 0h0m5 0h0m38 0h0m3 0h0m235 1h0m38 0h0m28 0h0m-370 1h0m41 1h0m8 0h0m11 0h0m3 1h0m312 0h0m-374 1h0m244 0h0m95 1h0m-101 2h0m-189 1h0m269 0h0m-69 1h0m69 0h0m-332 2h0m17 1h0m334 1h0m-302 1h0m203 0h0m42 0h0m2 0h0m56 1h0m27 0h0m-93 1h0m24 0h0m54 4h0m-371 1h0m67 0h0m288 1h0m-387 1h0m89 1h0m226 0h0m-215 1h0m207 0h0m-222 2h0m6 2h0m199 0h0m-295 1h0m78 0h0m261 0h0m57 0h0m-302 1h0m-102 1h0m109 0h0m318 0h0m-419 1h0m16 0h0m25 1h0m324 0h0m-281 1h0m277 0h0m-350 1h0m58 0h0m259 0h0m-39 1h0m39 1h0m47 1h0m29 1h0m9 0h0m-345 2h0m319 1h0m-287 1h0m207 0h0m-215 1h0m256 0h0m67 0h0m-51 1h0m-83 1h0m-194 2h0m8 3h0m213 0h0m-232 1h0m14 0h0m240 0h0m71 2h0m-312 1h0m242 1h0m-38 2h0m52 6h0m-38 5h0m31 3h0m21 1h0m-41 5h0m-10 1h0m19 1h0m45 1h0m-45 1h0m53 0h0m-75 2h0m24 1h0m28 5h0m-1 3h0" stroke="#D3D3D3"/><path d="M358 92h0m-11 1h0m9 3h0m-40 2h0m70 0h0m8 9h0m-2 1h0m-73 1h0m18 2h0m56 5h0m-52 3h0m-23 2h0m55 4h0m-18 2h0m-42 6h0m6 0h0m20 1h0m-2 2h0m52 1h0m7 0h0m-63 2h0m-24 3h0m81 2h0m-77 1h0m24 0h0m35 0h0m-69 1h0m30 0h0m52 0h0m8 1h0m-79 1h0m51 0h0m-61 1h0m7 0h0m14 0h0m34 0h0m-46 1h0m69 0h0m17 1h0m-89 1h0m-22 1h0m110 0h0m-30 1h0m-62 1h0m-25 1h0m16 0h0m52 0h0m44 1h0m-86 2h0m25 1h0m-79 1h0m25 0h0m22 1h0m46 1h0m-104 2h0m13 0h0m117 0h0m7 0h0m-145 2h0m15 0h0m18 0h0m52 0h0m64 2h0m-114 2h0m115 1h0m-162 1h0m17 0h0m140 0h0m-29 1h0m38 0h0m-146 1h0m-21 1h0m1 0h0m20 0h0m5 0h0m-22 2h0m12 0h0m128 0h0m-126 1h0m136 0h0m-117 1h0m-43 2h0m12 0h0m3 1h0m20 1h0m142 1h0m-181 2h0m27 0h0m149 0h0m-177 1h0m1 3h0m25 0h0m-28 1h0m33 0h0m138 0h0m-147 1h0m-20 1h0m167 1h0m-169 2h0m39 3h0m144 0h0m1 2h0m-159 3h0m-26 3h0m180 0h0m-150 4h0m162 0h0m4 0h0m20 0h0m-205 1h0m167 1h0m-181 2h0m31 0h0m1 0h0m164 0h0m26 3h0m-194 1h0m158 0h0m-143 1h0m183 0h0m-207 1h0m159 0h0m52 0h0m-213 1h0m26 0h0m137 1h0m12 0h0m55 0h0m-219 2h0m6 0h0m211 0h0m-11 1h0m23 0h0m-259 1h0m177 0h0m4 0h0m63 0h0m-243 1h0m231 0h0m4 0h0m-202 1h0m189 0h0m0 0h0m15 0h0m24 0h0m-58 1h0m22 0h0m26 0h0m-79 1h0m56 0h0m-60 1h0m67 2h0m38 0h0m-12 3h0m-33 6h0m35 0h0m-27 2h0m16 1h0m9 1h0m6 0h0m-24 1h0m15 2h0m-23 2h0m9 0h0m-13 2h0m-153 2h0m189 0h0m-22 1h0m13 1h0m-14 3h0m4 0h0m-11 1h0m42 0h0m-28 1h0m-13 1h0m2 0h0m23 0h0m6 2h0m-41 4h0m41 5h0m3 0h0m-10 1h0m-22 10h0m-2 1h0m28 0h0m13 0h0m-27 2h0m4 0h0m18 2h0m-9 1h0m8 0h0m-15 1h0m26 4h0m3 3h0m-28 2h0m-20 4h0m50 3h0m-46 4h0m74 0h0m-68 7h0m4 0h0m62 0h0m19 1h0m-184 5h0m164 0h0m-36 1h0m43 0h0m-63 7h0m78 3h0m-30 2h0m10 0h0m23 0h0m-228 1h0m1 0h0m142 0h0m52 1h0m-4 1h0m29 0h0m-220 2h0m135 0h0m-22 1h0m-96 1h0m155 0h0m-6 1h0m36 1h0m1 1h0m-76 1h0m-94 1h0m74 0h0m-254 1h0m91 0h0m279 0h0m-6 1h0m16 1h0m-66 1h0m30 0h0m13 0h0m11 0h0m-370 1h0m283 0h0m14 0h0m64 1h0m-330 1h0m226 0h0m9 0h0m10 0h0m75 0h0m-324 1h0m-18 1h0m3 0h0m329 0h0m54 0h0m-129 1h0m43 1h0m69 0h0m-121 1h0m17 0h0m30 0h0m-240 1h0m35 0h0m112 0h0m-211 1h0m25 0h0m-20 1h0m24 0h0m279 0h0m49 1h0m-269 1h0m202 0h0m14 0h0m21 1h0m-46 1h0m-70 1h0m-157 1h0m19 1h0m266 0h0m-323 1h0m27 0h0m359 1h0m-155 1h0m-202 1h0m202 0h0m53 0h0m101 0h0m-361 1h0m327 0h0m-313 1h0m-19 1h0m45 0h0m-31 1h0m257 0h0m-252 1h0m19 0h0m152 0h0m103 0h0m27 1h0m-330 1h0m202 1h0m8 0h0m-213 1h0m50 0h0m6 0h0m206 0h0m-276 1h0m378 0h0m7 0h0m-306 1h0m163 0h0m139 1h0m-338 1h0m32 1h0m167 0h0m-206 1h0m205 0h0m57 0h0m-269 1h0m14 0h0m-39 1h0m358 1h0m-394 1h0m300 0h0m16 0h0m-318 1h0m45 1h0m4 0h0m16 0h0m307 0h0m29 1h0m-379 3h0m15 0h0m352 0h0m-390 1h0m360 0h0m46 1h0m19 0h0m-152 1h0m-217 2h0m29 0h0m222 0h0m76 0h0m5 0h0m-334 2h0m40 1h0m-49 1h0m40 0h0m4 0h0m226 0h0m12 0h0m71 0h0m17 0h0m-356 1h0m218 0h0m-241 1h0m1 0h0m234 0h0m-198 5h0m2 0h0m212 0h0m115 0h0m-371 2h0m262 2h0m-288 1h0m45 1h0m344 2h0m-122 1h0m-213 1h0m266 2h0m2 1h0m-276 1h0m16 0h0m207 0h0m-221 2h0m304 0h0m-60 1h0m-1 1h0m-6 1h0m-236 1h0m261 1h0m-239 2h0m309 0h0m-108 1h0m49 0h0m-253 1h0m234 0h0m63 0h0m-18 2h0m-25 1h0m58 0h0m-312 1h0m276 1h0m24 3h0m-36 1h0m-31 1h0m-1 7h0m-7 2h0m-19 1h0m58 1h0m-44 4h0m53 0h0m-8 1h0m-22 7h0m41 0h0" stroke="#D3D3D3"/><path d="M386 94h0m-12 6h0m-58 1h0m28 2h0m6 2h0m19 0h0m-40 1h0m-2 1h0m49 0h0m-33 1h0m8 0h0m30 0h0m-30 3h0m-32 1h0m4 1h0m10 2h0m16 0h0m39 0h0m-34 2h0m6 0h0m-24 3h0m20 2h0m-37 1h0m19 0h0m1 0h0m37 0h0m15 1h0m-24 1h0m41 0h0m-30 2h0m33 0h0m-10 1h0m-2 1h0m-65 3h0m67 1h0m18 0h0m-75 1h0m79 3h0m-8 1h0m7 0h0m4 0h0m-22 2h0m-29 1h0m53 0h0m-27 1h0m10 0h0m-18 1h0m15 0h0m-88 1h0m86 0h0m-84 1h0m47 0h0m-67 3h0m3 1h0m20 2h0m36 0h0m26 0h0m22 0h0m-104 1h0m33 0h0m-34 1h0m105 1h0m8 0h0m-4 2h0m-53 4h0m-102 2h0m87 0h0m-88 1h0m137 0h0m-140 3h0m24 1h0m111 0h0m7 0h0m-142 2h0m2 0h0m10 0h0m-33 8h0m3 4h0m2 2h0m-14 1h0m18 8h0m5 6h0m-32 4h0m18 1h0m1 2h0m-14 1h0m18 0h0m-12 1h0m-17 1h0m7 2h0m26 2h0m149 2h0m-163 2h0m8 3h0m2 2h0m9 0h0m-30 1h0m187 1h0m66 4h0m-43 5h0m-169 9h0m216 1h0m7 1h0m-219 5h0m174 5h0m6 0h0m31 2h0m-39 4h0m48 2h0m3 10h0m-45 2h0m20 1h0m2 2h0m-27 5h0m50 0h0m-32 2h0m8 0h0m-23 3h0m60 0h0m-43 2h0m7 3h0m12 2h0m23 7h0m-12 4h0m-5 1h0m34 2h0m-2 3h0m4 0h0m-29 3h0m31 1h0m-168 1h0m162 2h0m19 0h0m-183 1h0m180 1h0m-18 1h0m11 1h0m-27 1h0m18 3h0m-21 1h0m0 1h0m-29 3h0m19 1h0m-132 2h0m152 1h0m25 0h0m2 0h0m23 0h0m-43 1h0m-69 1h0m-124 1h0m106 0h0m42 0h0m-22 1h0m37 0h0m37 0h0m22 0h0m-52 1h0m-21 1h0m2 0h0m76 1h0m-203 1h0m98 2h0m115 0h0m-217 1h0m2 0h0m8 1h0m157 0h0m-177 1h0m12 0h0m83 0h0m96 0h0m10 0h0m-97 1h0m80 3h0m-149 1h0m56 0h0m97 0h0m-93 1h0m32 1h0m92 0h0m2 0h0m-121 1h0m44 0h0m5 2h0m67 0h0m-362 2h0m284 0h0m95 0h0m0 0h0m2 0h0m-205 1h0m0 1h0m130 0h0m-310 1h0m285 0h0m-254 1h0m324 0h0m-360 1h0m202 0h0m171 0h0m-155 1h0m90 0h0m68 1h0m-72 1h0m-99 1h0m54 0h0m75 0h0m-60 1h0m42 0h0m2 0h0m17 0h0m-90 1h0m42 0h0m43 0h0m-97 1h0m66 0h0m20 0h0m18 0h0m-136 1h0m81 0h0m1 0h0m-243 1h0m24 0h0m329 0h0m-310 1h0m199 0h0m-263 1h0m260 0h0m29 0h0m7 1h0m52 0h0m-361 1h0m14 0h0m241 0h0m-219 1h0m178 0h0m164 0h0m-379 1h0m253 1h0m57 0h0m83 0h0m-361 1h0m209 0h0m45 0h0m-20 1h0m27 0h0m-257 1h0m22 0h0m159 0h0m53 0h0m62 0h0m10 0h0m-320 1h0m330 0h0m-346 2h0m81 0h0m1 0h0m138 0h0m100 0h0m11 0h0m-331 1h0m271 0h0m63 0h0m-290 1h0m257 0h0m-245 1h0m34 0h0m-47 1h0m40 0h0m167 0h0m5 0h0m-249 1h0m243 0h0m9 0h0m97 0h0m3 0h0m-309 2h0m283 0h0m3 1h0m-351 1h0m61 0h0m185 0h0m1 0h0m152 0h0m-102 1h0m-259 1h0m17 1h0m-56 1h0m36 0h0m292 0h0m9 0h0m14 0h0m15 0h0m10 1h0m-28 1h0m-42 1h0m81 0h0m-116 1h0m3 0h0m-276 1h0m297 0h0m85 0h0m-325 1h0m221 1h0m5 0h0m105 0h0m-91 1h0m75 0h0m14 0h0m-418 1h0m61 0h0m26 0h0m2 0h0m0 0h0m-34 1h0m41 0h0m275 0h0m-282 1h0m-95 1h0m67 0h0m1 0h0m7 0h0m-35 1h0m290 0h0m70 0h0m-372 1h0m42 0h0m254 0h0m5 0h0m-313 1h0m59 0h0m-25 1h0m53 0h0m197 0h0m43 0h0m-341 1h0m329 0h0m31 0h0m-53 1h0m92 0h0m4 0h0m-405 1h0m14 0h0m4 0h0m30 0h0m41 0h0m13 0h0m226 0h0m2 0h0m70 0h0m-353 1h0m379 0h0m-10 1h0m-420 1h0m4 0h0m29 0h0m273 0h0m-305 1h0m15 0h0m280 0h0m-298 1h0m61 0h0m48 0h0m300 0h0m11 0h0m-418 1h0m19 0h0m274 0h0m53 0h0m28 0h0m3 0h0m18 0h0m-401 1h0m23 0h0m314 0h0m-337 1h0m6 0h0m11 0h0m37 0h0m-34 1h0m3 0h0m30 0h0m239 0h0m38 0h0m59 0h0m-358 1h0m376 0h0m-327 1h0m333 0h0m-66 1h0m29 0h0m-76 1h0m48 0h0m31 0h0m26 0h0m-97 1h0m21 1h0m-218 1h0m200 0h0m57 0h0m17 0h0m-60 1h0m78 1h0m-312 1h0m311 1h0m-39 1h0m-256 1h0m224 1h0m-10 2h0m30 0h0m14 0h0m-43 3h0m75 0h0m-312 2h0m208 0h0m2 1h0m87 0h0m18 0h0m-79 1h0m15 1h0m25 0h0m2 3h0m34 0h0m-99 1h0m14 0h0m60 0h0m12 0h0m-52 2h0m24 0h0m-8 2h0m12 1h0m8 1h0m30 0h0m-12 3h0m-47 2h0m-29 3h0m80 1h0m-78 1h0m15 0h0m-10 1h0m21 0h0m27 2h0m-1 2h0" stroke="#A480EA"/><path d="M336 91h0m36 2h0m-35 1h0m-15 1h0m61 0h0m-12 1h0m-14 2h0m19 3h0m3 0h0m18 0h0m-22 1h0m-46 1h0m52 0h0m10 0h0m-34 1h0m29 0h0m-17 1h0m-20 1h0m10 0h0m-40 1h0m19 0h0m34 1h0m-9 1h0m4 2h0m5 0h0m7 0h0m6 0h0m-22 3h0m27 0h0m-65 1h0m7 0h0m-15 1h0m51 1h0m-3 1h0m-38 3h0m23 0h0m40 0h0m-19 2h0m-44 1h0m27 2h0m-31 1h0m48 0h0m-31 1h0m20 2h0m-42 1h0m2 0h0m40 0h0m22 1h0m-53 1h0m-15 4h0m103 0h0m-105 1h0m79 0h0m12 0h0m-26 1h0m12 0h0m-73 2h0m23 0h0m34 0h0m-51 1h0m65 0h0m4 1h0m-59 2h0m40 0h0m-73 2h0m66 0h0m7 1h0m19 0h0m1 1h0m7 0h0m2 1h0m17 0h0m-107 1h0m84 0h0m0 1h0m-93 1h0m-3 1h0m4 4h0m89 1h0m-63 1h0m60 0h0m4 0h0m-8 2h0m-54 1h0m63 0h0m-148 2h0m37 0h0m39 0h0m-70 2h0m83 1h0m-101 3h0m28 2h0m-40 2h0m12 2h0m124 0h0m-126 8h0m-1 1h0m-7 3h0m3 0h0m-5 5h0m25 1h0m-2 2h0m-8 7h0m-5 3h0m-23 8h0m212 0h0m-207 3h0m192 0h0m-174 3h0m218 5h0m-224 1h0m-18 4h0m161 0h0m11 0h0m-132 1h0m123 2h0m-116 1h0m5 4h0m11 17h0m180 4h0m8 5h0m2 1h0m-177 2h0m185 3h0m-34 1h0m15 0h0m38 0h0m-51 2h0m22 2h0m0 2h0m-11 2h0m-1 9h0m1 3h0m15 4h0m9 0h0m-7 2h0m50 8h0m-15 1h0m15 2h0m-6 1h0m12 0h0m-24 3h0m-31 2h0m-116 2h0m3 1h0m140 1h0m35 0h0m-18 1h0m-63 2h0m56 0h0m-150 3h0m118 0h0m53 0h0m-37 1h0m53 1h0m-67 1h0m28 0h0m-37 1h0m63 0h0m-173 1h0m-6 1h0m137 1h0m-18 2h0m12 0h0m-159 1h0m125 0h0m33 0h0m-57 1h0m33 1h0m-106 1h0m74 0h0m7 0h0m68 1h0m1 0h0m-156 2h0m175 0h0m20 0h0m-214 1h0m-9 1h0m165 0h0m-171 1h0m19 0h0m133 0h0m-110 1h0m197 0h0m-66 1h0m-152 1h0m124 0h0m66 0h0m-186 2h0m24 0h0m61 0h0m98 0h0m-191 1h0m95 0h0m62 1h0m14 0h0m-68 1h0m123 0h0m-226 1h0m3 0h0m137 0h0m54 0h0m-102 1h0m63 0h0m-44 1h0m-14 1h0m71 0h0m-14 1h0m46 0h0m-163 2h0m3 0h0m91 0h0m55 0h0m-43 1h0m25 0h0m14 2h0m-139 1h0m138 0h0m3 1h0m-45 1h0m31 0h0m17 0h0m26 0h0m1 0h0m-120 1h0m-36 1h0m12 0h0m31 0h0m29 1h0m22 0h0m18 0h0m27 0h0m8 0h0m14 0h0m-78 1h0m50 0h0m-137 1h0m11 0h0m170 0h0m-313 1h0m186 0h0m7 0h0m26 0h0m34 0h0m-53 1h0m105 0h0m12 0h0m-146 1h0m152 0h0m-182 1h0m16 0h0m11 1h0m18 0h0m71 1h0m-124 1h0m135 0h0m24 0h0m-89 1h0m-274 1h0m225 0h0m36 0h0m44 0h0m-93 1h0m50 0h0m31 0h0m-300 1h0m238 0h0m62 0h0m16 0h0m-43 1h0m20 0h0m8 1h0m69 0h0m16 0h0m-167 1h0m7 0h0m54 0h0m84 0h0m34 0h0m-63 1h0m-89 1h0m66 0h0m28 0h0m31 0h0m31 0h0m-301 1h0m185 0h0m80 1h0m18 0h0m-346 1h0m33 0h0m172 0h0m14 0h0m23 0h0m113 0h0m2 0h0m-136 1h0m16 0h0m4 0h0m78 0h0m33 0h0m-4 1h0m1 0h0m-68 1h0m41 0h0m11 0h0m9 0h0m-307 1h0m243 0h0m49 0h0m-109 2h0m41 0h0m46 0h0m-326 1h0m282 0h0m52 0h0m-102 1h0m5 1h0m122 0h0m20 0h0m-140 2h0m55 2h0m4 0h0m-300 1h0m260 0h0m15 0h0m80 0h0m3 0h0m-369 1h0m288 0h0m-50 1h0m29 1h0m-23 1h0m106 0h0m16 0h0m-14 1h0m-46 1h0m48 1h0m-312 1h0m248 0h0m84 0h0m-90 1h0m49 0h0m-19 1h0m-363 1h0m58 0h0m232 0h0m54 1h0m2 0h0m13 0h0m36 2h0m19 0h0m-379 1h0m350 0h0m-310 1h0m349 0h0m-88 1h0m-349 1h0m102 0h0m196 2h0m98 0h0m38 0h0m-114 1h0m56 0h0m46 0h0m-25 1h0m6 0h0m29 1h0m-115 1h0m5 0h0m57 1h0m53 1h0m-123 1h0m39 1h0m78 0h0m0 0h0m-106 1h0m-238 2h0m250 1h0m21 0h0m38 0h0m-15 2h0m41 1h0m-60 1h0m2 0h0m48 0h0m9 1h0m-119 1h0m3 0h0m-217 1h0m234 0h0m58 1h0m34 0h0m-98 1h0m44 0h0m1 0h0m29 1h0m4 0h0m-67 1h0m2 1h0m43 0h0m9 0h0m4 1h0m-74 1h0m65 0h0m1 0h0m-13 1h0m22 0h0m22 0h0m8 0h0m-91 1h0m62 1h0m-13 1h0m-43 1h0m-18 1h0m13 1h0m-17 1h0m76 0h0m-72 3h0m18 0h0m31 0h0m14 0h0m12 0h0m-58 5h0m47 0h0m15 0h0m-9 1h0m-58 1h0m20 0h0m11 2h0m-28 1h0m54 3h0m-14 1h0m-13 1h0m4 0h0m-19 1h0m7 1h0m-17 1h0m11 0h0m40 1h0m-44 1h0m47 0h0m-38 4h0m9 0h0m9 0h0m1 2h0m-9 2h0m0 5h0" stroke="#7C51F4"/><path d="M328 90h0m12 0h0m-9 2h0m-5 1h0m-8 5h0m54 2h0m2 1h0m-11 1h0m-19 2h0m7 0h0m-24 1h0m59 1h0m-19 2h0m-54 3h0m38 1h0m-11 1h0m21 2h0m3 0h0m8 5h0m-1 1h0m2 0h0m20 0h0m-33 1h0m44 5h0m9 2h0m-11 1h0m1 0h0m-11 1h0m22 0h0m-57 1h0m59 0h0m-10 1h0m6 0h0m-6 1h0m16 0h0m-77 1h0m76 0h0m-94 3h0m76 0h0m-46 1h0m11 0h0m-54 2h0m91 0h0m-6 1h0m17 0h0m-93 1h0m-20 2h0m-3 7h0m34 0h0m60 1h0m15 0h0m-46 1h0m34 0h0m14 1h0m-140 2h0m122 2h0m-84 1h0m34 1h0m48 0h0m1 0h0m-105 2h0m-40 1h0m9 4h0m-2 4h0m-1 3h0m0 2h0m-40 3h0m35 6h0m-33 1h0m37 3h0m-33 2h0m14 1h0m9 2h0m-16 1h0m9 1h0m-7 1h0m-20 1h0m-3 1h0m186 0h0m7 0h0m-179 1h0m-8 3h0m12 0h0m-4 3h0m-6 5h0m13 6h0m203 2h0m-50 1h0m-161 1h0m230 1h0m-14 5h0m-194 2h0m175 3h0m50 0h0m-31 1h0m-60 3h0m-117 4h0m174 3h0m38 4h0m8 3h0m-34 2h0m9 5h0m-169 1h0m-9 2h0m171 0h0m-169 1h0m195 3h0m0 0h0m13 4h0m-2 3h0m-34 2h0m-4 5h0m12 0h0m13 1h0m2 5h0m3 6h0m-30 2h0m19 2h0m6 0h0m0 1h0m-6 4h0m10 2h0m0 2h0m-26 4h0m29 0h0m41 2h0m-12 1h0m18 3h0m-66 1h0m23 2h0m-125 4h0m151 0h0m-30 3h0m32 2h0m-6 1h0m-15 1h0m59 1h0m-53 2h0m2 2h0m47 0h0m-4 2h0m-189 2h0m199 0h0m-37 2h0m-199 1h0m13 0h0m180 0h0m-198 1h0m44 0h0m144 0h0m-154 1h0m100 0h0m48 0h0m14 0h0m-193 1h0m30 0h0m-17 1h0m15 0h0m153 0h0m-6 1h0m12 1h0m-172 2h0m131 0h0m-103 1h0m-40 1h0m115 1h0m29 0h0m51 0h0m-74 1h0m20 0h0m-284 1h0m336 0h0m9 2h0m34 0h0m-282 1h0m90 0h0m148 0h0m-319 1h0m171 0h0m191 0h0m-75 1h0m-274 1h0m232 0h0m93 0h0m9 1h0m-66 1h0m-298 1h0m202 0h0m182 0h0m-344 1h0m281 0h0m70 0h0m-310 1h0m174 0h0m17 0h0m8 0h0m9 0h0m21 0h0m51 0h0m30 0h0m-394 1h0m201 0h0m123 0h0m40 0h0m-1 1h0m-108 1h0m71 0h0m52 0h0m-143 1h0m69 0h0m-261 1h0m13 0h0m276 0h0m14 0h0m37 0h0m-60 1h0m3 0h0m-297 1h0m6 0h0m29 0h0m1 0h0m-22 2h0m41 0h0m150 0h0m-216 1h0m253 0h0m97 0h0m-143 1h0m86 0h0m-304 1h0m286 0h0m-262 1h0m192 0h0m-209 1h0m27 0h0m12 0h0m-51 1h0m67 0h0m231 0h0m41 0h0m20 0h0m-337 1h0m33 0h0m250 0h0m-8 1h0m10 0h0m68 0h0m-374 1h0m55 0h0m12 0h0m-35 1h0m233 0h0m114 0h0m6 0h0m-297 1h0m-90 1h0m24 0h0m55 0h0m8 0h0m183 0h0m16 0h0m8 0h0m36 0h0m-298 1h0m72 0h0m162 0h0m98 0h0m-300 1h0m244 0h0m0 0h0m8 0h0m-287 1h0m4 0h0m22 0h0m19 0h0m203 0h0m-276 1h0m2 0h0m45 0h0m33 0h0m-79 1h0m37 0h0m-34 1h0m6 0h0m22 0h0m291 0h0m29 0h0m-326 1h0m238 0h0m21 0h0m-251 1h0m294 0h0m32 0h0m-338 1h0m17 0h0m17 0h0m333 0h0m-314 1h0m279 2h0m35 0h0m-384 1h0m25 0h0m0 1h0m346 0h0m-381 1h0m284 0h0m93 0h0m-331 1h0m-36 1h0m25 0h0m216 0h0m8 0h0m61 0h0m1 1h0m-9 1h0m87 0h0m-336 1h0m301 1h0m-346 1h0m3 0h0m18 1h0m231 0h0m122 0h0m-396 1h0m-26 1h0m53 1h0m47 0h0m-110 1h0m354 0h0m-12 1h0m9 0h0m-315 1h0m365 0h0m12 0h0m-363 1h0m299 0h0m-332 1h0m282 0h0m-305 1h0m40 0h0m10 0h0m15 0h0m225 0h0m31 0h0m100 0h0m2 0h0m-421 1h0m43 0h0m265 0h0m4 0h0m-283 1h0m66 0h0m197 0h0m0 0h0m-243 1h0m8 0h0m1 0h0m2 1h0m19 0h0m285 0h0m-349 1h0m48 0h0m4 0h0m45 0h0m-98 1h0m31 0h0m23 0h0m341 0h0m-366 1h0m360 0h0m-380 1h0m24 0h0m15 0h0m249 0h0m101 0h0m-359 1h0m329 0h0m6 0h0m-390 1h0m11 0h0m3 0h0m1 0h0m403 0h0m4 0h0m1 0h0m-315 1h0m-96 1h0m75 0h0m289 0h0m9 0h0m-17 1h0m12 0h0m-298 1h0m22 0h0m5 0h0m182 0h0m89 0h0m-285 2h0m297 1h0m-46 1h0m-35 1h0m10 1h0m7 0h0m13 0h0m58 1h0m24 1h0m-345 1h0m217 1h0m6 0h0m17 0h0m16 0h0m-21 1h0m37 1h0m7 0h0m-21 2h0m-253 1h0m318 0h0m6 0h0m-55 2h0m-54 1h0m109 1h0m-318 1h0m314 0h0m-318 1h0m300 0h0m-87 2h0m27 4h0m12 0h0m19 0h0m7 1h0m-34 3h0m-10 1h0m32 0h0m-51 1h0m60 2h0m15 1h0m-53 1h0m59 0h0m-57 3h0m-12 1h0m35 3h0m-37 1h0m45 0h0m-39 1h0m0 1h0m26 2h0m-7 2h0m-2 4h0" stroke="#AA89E7"/><path d="M339 94h0m6 0h0m11 0h0m32 1h0m-44 1h0m27 2h0m11 1h0m-53 2h0m34 5h0m11 0h0m-34 1h0m35 0h0m-19 1h0m-40 1h0m71 1h0m-70 1h0m79 0h0m-70 1h0m33 1h0m1 0h0m9 0h0m10 1h0m-55 3h0m31 1h0m0 3h0m23 3h0m-32 1h0m-15 1h0m66 1h0m13 1h0m-34 4h0m46 0h0m-22 1h0m1 0h0m-92 3h0m14 2h0m35 2h0m-45 1h0m30 0h0m44 1h0m8 1h0m-82 1h0m86 1h0m-95 1h0m75 0h0m12 0h0m25 2h0m9 0h0m-83 1h0m45 0h0m0 0h0m27 2h0m-24 3h0m3 0h0m-111 1h0m26 0h0m24 0h0m51 0h0m15 0h0m19 0h0m-140 1h0m7 1h0m20 0h0m92 0h0m-111 1h0m7 0h0m73 0h0m24 0h0m6 1h0m-132 1h0m-21 3h0m14 1h0m4 1h0m-7 1h0m68 1h0m-78 1h0m20 0h0m-31 3h0m107 0h0m-131 27h0m-1 2h0m181 3h0m-164 2h0m10 4h0m-24 2h0m31 0h0m143 4h0m0 3h0m49 0h0m-216 1h0m10 0h0m-5 3h0m-9 1h0m235 2h0m-216 3h0m140 0h0m86 1h0m-8 4h0m-25 2h0m-162 8h0m189 0h0m-14 4h0m26 7h0m14 7h0m-40 3h0m38 0h0m0 3h0m-7 15h0m11 3h0m-26 1h0m26 1h0m3 2h0m3 0h0m-46 2h0m8 0h0m20 1h0m-3 1h0m30 3h0m-23 3h0m12 1h0m7 7h0m-41 1h0m67 2h0m-56 3h0m23 0h0m-37 1h0m16 0h0m14 0h0m20 0h0m44 8h0m-21 1h0m-166 2h0m171 0h0m2 0h0m-41 4h0m18 0h0m-157 2h0m159 0h0m-196 2h0m223 2h0m-41 1h0m15 0h0m-48 1h0m-27 1h0m55 0h0m24 1h0m33 0h0m-9 1h0m-216 1h0m222 0h0m-208 1h0m-21 1h0m14 0h0m138 0h0m-156 1h0m17 0h0m-15 1h0m151 0h0m52 0h0m-170 1h0m182 1h0m-175 1h0m117 0h0m-133 1h0m211 0h0m-208 1h0m18 0h0m113 0h0m23 0h0m56 0h0m-121 1h0m37 0h0m16 0h0m-15 1h0m8 0h0m-28 1h0m6 0h0m58 0h0m8 0h0m37 2h0m-86 1h0m3 0h0m20 0h0m69 0h0m-204 1h0m63 1h0m21 0h0m89 0h0m29 0h0m-177 1h0m0 1h0m128 1h0m15 0h0m-332 1h0m226 0h0m142 0h0m-160 1h0m22 0h0m52 0h0m-302 1h0m272 0h0m31 0h0m-104 1h0m102 1h0m-253 1h0m149 0h0m138 0h0m-316 1h0m289 0h0m44 1h0m-138 1h0m64 0h0m-218 2h0m274 0h0m-306 1h0m265 0h0m-66 1h0m70 0h0m22 0h0m37 0h0m-317 1h0m193 0h0m19 0h0m29 0h0m-63 1h0m11 0h0m-18 1h0m6 0h0m-10 1h0m81 0h0m-73 1h0m19 0h0m24 1h0m-15 1h0m-21 1h0m6 0h0m2 1h0m94 0h0m34 0h0m-25 1h0m62 0h0m-307 1h0m283 0h0m-283 1h0m258 0h0m51 0h0m-390 1h0m82 1h0m-59 1h0m236 0h0m125 0h0m-330 1h0m206 0h0m44 0h0m9 0h0m-282 1h0m44 0h0m176 0h0m27 0h0m-232 1h0m317 0h0m-41 1h0m-94 1h0m19 0h0m143 0h0m-395 1h0m2 0h0m15 0h0m219 0h0m100 0h0m-326 1h0m383 0h0m-395 1h0m390 0h0m-75 2h0m-289 1h0m344 0h0m-334 1h0m238 1h0m27 0h0m-293 2h0m251 0h0m125 0h0m-387 2h0m9 0h0m371 0h0m-57 1h0m13 0h0m6 0h0m12 0h0m-63 1h0m8 0h0m9 0h0m25 0h0m16 1h0m34 0h0m-405 1h0m340 0h0m-349 1h0m313 0h0m8 0h0m49 0h0m-340 1h0m263 0h0m22 0h0m33 1h0m54 0h0m-369 1h0m250 0h0m21 0h0m62 0h0m-323 1h0m254 0h0m4 0h0m40 0h0m57 0h0m-386 1h0m18 1h0m351 0h0m-400 1h0m336 0h0m5 0h0m-328 1h0m375 0h0m7 0h0m-338 1h0m1 0h0m282 0h0m17 0h0m45 0h0m30 0h0m-434 1h0m49 0h0m358 0h0m-374 1h0m20 0h0m45 0h0m-73 1h0m75 0h0m284 0h0m39 0h0m-125 1h0m110 0h0m-307 1h0m333 0h0m-406 1h0m3 0h0m13 0h0m335 0h0m-378 1h0m392 0h0m-371 1h0m268 0h0m115 0h0m20 0h0m-81 1h0m28 0h0m-58 1h0m-228 4h0m215 0h0m89 0h0m8 0h0m-21 1h0m-297 1h0m300 0h0m25 0h0m17 0h0m-335 1h0m6 0h0m241 1h0m24 0h0m11 0h0m-62 3h0m32 0h0m78 1h0m-42 1h0m-280 2h0m212 1h0m94 0h0m9 1h0m-109 1h0m13 0h0m-12 1h0m66 0h0m-25 1h0m27 2h0m-283 1h0m270 0h0m-32 1h0m63 0h0m5 2h0m-8 1h0m-40 1h0m27 1h0m16 9h0m-67 1h0m1 0h0m12 1h0m35 0h0m-45 2h0m22 0h0m31 1h0m-8 2h0m-20 1h0m-12 2h0m44 0h0m-23 3h0m-29 3h0" stroke="#9D77EC"/><path d="M345 88h0m-13 4h0m-11 1h0m40 1h0m-45 1h0m43 2h0m-28 2h0m8 0h0m48 1h0m4 1h0m-78 2h0m71 0h0m-38 2h0m5 1h0m1 0h0m6 0h0m-10 1h0m-13 3h0m-2 5h0m60 3h0m-26 2h0m26 0h0m-52 1h0m21 0h0m-36 2h0m54 0h0m10 0h0m-31 2h0m8 0h0m42 1h0m1 1h0m-21 1h0m-79 2h0m66 0h0m40 0h0m-107 1h0m106 1h0m-18 1h0m-25 1h0m-34 1h0m70 1h0m0 2h0m-32 1h0m41 1h0m-43 2h0m-49 1h0m83 0h0m18 0h0m-110 1h0m110 0h0m-45 1h0m32 1h0m0 0h0m-13 1h0m12 0h0m-38 1h0m-56 1h0m32 1h0m-1 1h0m-17 1h0m53 0h0m9 1h0m1 2h0m17 2h0m-84 1h0m-66 1h0m26 0h0m99 1h0m10 0h0m-31 1h0m-102 1h0m-30 1h0m14 0h0m10 3h0m24 0h0m110 0h0m-162 8h0m29 0h0m-9 1h0m-29 1h0m3 1h0m10 5h0m-20 7h0m6 3h0m-11 9h0m11 0h0m21 0h0m-32 2h0m3 0h0m20 4h0m-3 3h0m6 2h0m196 3h0m-217 1h0m215 0h0m-31 1h0m42 2h0m-207 2h0m190 0h0m1 4h0m-1 2h0m-32 5h0m-146 2h0m206 2h0m-197 1h0m206 0h0m-34 2h0m-169 3h0m15 9h0m185 0h0m-184 1h0m198 2h0m0 6h0m6 3h0m-191 1h0m185 3h0m-19 2h0m-11 1h0m7 0h0m33 0h0m-12 4h0m4 0h0m11 2h0m7 1h0m-56 4h0m10 10h0m48 0h0m4 1h0m6 1h0m-28 3h0m3 0h0m-16 3h0m62 15h0m-53 1h0m26 2h0m1 0h0m21 1h0m-170 1h0m5 1h0m0 1h0m130 0h0m12 1h0m29 1h0m18 9h0m-20 1h0m7 1h0m13 0h0m-230 1h0m183 0h0m-8 2h0m-138 1h0m99 0h0m-120 1h0m188 0h0m2 0h0m-196 1h0m23 0h0m73 0h0m-97 1h0m137 0h0m0 0h0m82 0h0m12 0h0m-245 1h0m138 1h0m80 0h0m-73 1h0m15 0h0m13 0h0m50 0h0m-87 1h0m19 0h0m-140 1h0m140 0h0m84 0h0m-232 1h0m19 0h0m206 0h0m-76 1h0m12 0h0m28 0h0m31 0h0m-110 1h0m-108 1h0m157 0h0m-61 1h0m-85 1h0m122 0h0m60 0h0m-158 2h0m125 0h0m-150 1h0m113 0h0m32 0h0m8 0h0m62 0h0m-35 1h0m6 0h0m-331 1h0m284 0h0m21 0h0m-299 1h0m3 1h0m306 0h0m3 0h0m25 0h0m6 0h0m-50 2h0m-286 2h0m193 0h0m37 0h0m-208 1h0m157 0h0m170 0h0m-10 1h0m-153 1h0m63 0h0m-228 1h0m31 0h0m3 1h0m213 0h0m44 0h0m-49 1h0m10 0h0m-303 1h0m225 0h0m43 0h0m55 0h0m-293 1h0m-19 1h0m8 0h0m304 0h0m27 0h0m-142 1h0m84 0h0m19 0h0m-2 2h0m54 0h0m-92 1h0m102 0h0m-362 1h0m222 0h0m49 0h0m18 0h0m-73 1h0m78 0h0m77 0h0m-150 1h0m-204 1h0m207 0h0m160 0h0m10 2h0m-318 1h0m267 0h0m-15 1h0m-297 1h0m60 0h0m200 1h0m28 0h0m-326 2h0m97 0h0m-69 1h0m211 0h0m34 0h0m22 0h0m-20 1h0m-203 1h0m14 0h0m-45 1h0m45 0h0m291 0h0m3 0h0m-343 1h0m34 0h0m273 0h0m11 0h0m9 0h0m-289 1h0m163 0h0m16 0h0m13 0h0m91 0h0m-91 1h0m-237 1h0m30 0h0m316 0h0m-356 1h0m219 0h0m58 0h0m22 0h0m-277 1h0m21 0h0m185 0h0m32 1h0m-256 1h0m-4 1h0m29 0h0m259 0h0m-273 1h0m0 0h0m325 0h0m-323 1h0m10 0h0m226 0h0m29 0h0m53 0h0m-306 1h0m2 0h0m261 0h0m58 0h0m-333 1h0m15 0h0m1 0h0m190 0h0m100 0h0m-336 1h0m8 1h0m249 1h0m-258 1h0m266 0h0m-224 1h0m1 0h0m-98 1h0m9 0h0m38 0h0m3 0h0m313 0h0m30 0h0m-357 1h0m275 0h0m-261 1h0m260 0h0m19 0h0m103 0h0m-430 1h0m1 0h0m337 0h0m-6 1h0m-330 1h0m21 0h0m17 0h0m1 0h0m9 0h0m268 0h0m-268 1h0m264 0h0m18 0h0m20 0h0m-245 1h0m294 0h0m-334 1h0m277 0h0m-313 1h0m17 0h0m2 0h0m59 0h0m199 0h0m4 0h0m-322 1h0m5 0h0m60 0h0m33 1h0m3 0h0m5 0h0m4 0h0m270 0h0m31 0h0m-396 1h0m15 0h0m31 0h0m21 0h0m19 0h0m193 0h0m108 0h0m-396 1h0m19 0h0m14 0h0m9 0h0m21 1h0m233 0h0m125 0h0m-409 1h0m43 0h0m15 0h0m250 0h0m-301 1h0m68 0h0m205 1h0m16 0h0m84 0h0m-10 1h0m-374 1h0m72 0h0m23 1h0m198 0h0m19 0h0m-214 1h0m-36 1h0m294 1h0m-4 1h0m-76 1h0m8 0h0m110 0h0m-323 1h0m214 0h0m-221 1h0m23 0h0m299 0h0m-6 3h0m-308 1h0m220 0h0m107 0h0m-310 1h0m211 0h0m64 2h0m27 0h0m-305 3h0m252 0h0m-39 1h0m77 0h0m-87 1h0m101 1h0m-64 2h0m40 1h0m-27 1h0m-45 1h0m43 1h0m13 1h0m13 2h0m-32 2h0m3 1h0m44 2h0m-37 1h0m-31 1h0m72 3h0m-85 2h0m73 1h0m-49 6h0m41 0h0m-47 2h0m30 1h0m-19 1h0m9 4h0m2 2h0" stroke="#A480EA"/><path d="M333 94h0m21 2h0m12 1h0m23 4h0m-17 2h0m-21 1h0m8 6h0m25 2h0m-35 1h0m-30 3h0m31 1h0m4 0h0m15 0h0m10 2h0m11 0h0m6 2h0m-3 5h0m-62 1h0m10 3h0m7 2h0m4 2h0m-14 1h0m22 1h0m4 0h0m6 0h0m13 0h0m5 1h0m-73 3h0m33 0h0m31 0h0m14 0h0m-88 4h0m86 0h0m-72 1h0m11 0h0m-9 1h0m6 0h0m67 0h0m-91 2h0m10 0h0m108 2h0m-55 1h0m-54 1h0m3 0h0m69 0h0m-72 1h0m50 0h0m-80 3h0m97 2h0m9 0h0m7 0h0m-133 1h0m20 0h0m10 0h0m57 0h0m30 0h0m-99 1h0m65 1h0m-100 1h0m26 0h0m-31 1h0m47 0h0m-44 3h0m14 0h0m-3 2h0m10 0h0m9 1h0m-11 2h0m-21 2h0m4 0h0m16 0h0m6 0h0m117 1h0m-140 2h0m136 2h0m-122 1h0m-2 1h0m-15 3h0m-22 1h0m36 2h0m126 0h0m-145 1h0m-27 1h0m45 0h0m-13 3h0m-1 2h0m2 0h0m-7 1h0m13 4h0m-16 1h0m16 1h0m132 0h0m-168 1h0m38 2h0m-4 8h0m165 5h0m-179 3h0m180 0h0m17 0h0m11 3h0m-191 1h0m152 0h0m53 2h0m-217 1h0m194 0h0m-210 1h0m16 0h0m187 0h0m36 0h0m4 1h0m-86 1h0m14 0h0m46 0h0m6 0h0m5 0h0m1 0h0m-20 2h0m9 0h0m6 0h0m-17 2h0m1 1h0m0 1h0m-22 1h0m65 0h0m-16 1h0m-22 1h0m-1 2h0m25 0h0m18 2h0m-43 1h0m6 0h0m8 0h0m21 1h0m-203 1h0m1 1h0m-7 1h0m177 0h0m3 5h0m22 0h0m-2 1h0m-22 2h0m50 0h0m-206 3h0m157 0h0m11 0h0m32 0h0m2 1h0m-205 1h0m2 0h0m190 2h0m1 0h0m-20 2h0m0 0h0m11 0h0m-6 1h0m-168 1h0m186 0h0m1 2h0m-28 3h0m28 1h0m-38 1h0m26 1h0m17 4h0m-17 3h0m-10 2h0m23 1h0m12 2h0m-21 1h0m1 2h0m1 1h0m21 0h0m-14 1h0m-27 2h0m17 3h0m-28 4h0m2 1h0m61 7h0m24 3h0m-80 2h0m37 0h0m20 0h0m14 1h0m-29 1h0m5 1h0m26 0h0m-13 2h0m-17 6h0m19 3h0m42 3h0m-62 2h0m51 0h0m-8 1h0m-215 1h0m131 0h0m27 0h0m-38 1h0m73 2h0m-66 1h0m22 2h0m18 1h0m66 0h0m-95 1h0m13 1h0m70 1h0m-202 1h0m89 0h0m-82 2h0m112 0h0m-6 1h0m25 0h0m46 0h0m-179 1h0m192 0h0m-72 1h0m34 1h0m54 0h0m-115 1h0m8 0h0m81 0h0m19 0h0m-338 3h0m230 1h0m-246 1h0m269 0h0m60 0h0m-17 1h0m-8 1h0m33 0h0m0 0h0m-65 1h0m84 0h0m-331 1h0m223 0h0m89 0h0m-317 2h0m162 1h0m-152 1h0m160 0h0m120 0h0m55 1h0m-350 2h0m40 0h0m223 0h0m62 2h0m-296 1h0m-55 1h0m37 0h0m347 0h0m-362 1h0m3 1h0m198 1h0m113 1h0m-72 2h0m39 0h0m-64 3h0m105 0h0m6 0h0m-314 1h0m2 0h0m293 0h0m14 0h0m8 0h0m-362 1h0m37 0h0m42 0h0m152 0h0m-229 1h0m366 0h0m-76 1h0m-241 1h0m12 0h0m6 0h0m23 0h0m226 0h0m-256 1h0m23 0h0m-3 1h0m245 0h0m-264 1h0m-33 1h0m18 0h0m213 0h0m43 0h0m-276 1h0m57 0h0m145 0h0m38 0h0m49 0h0m58 0h0m-295 1h0m-37 1h0m15 0h0m184 2h0m33 0h0m-230 2h0m28 0h0m213 0h0m62 0h0m-338 1h0m44 0h0m-81 1h0m45 0h0m3 0h0m294 0h0m87 0h0m-397 1h0m341 0h0m43 0h0m-143 1h0m-206 1h0m-69 1h0m330 0h0m68 0h0m-371 1h0m13 0h0m40 0h0m274 0h0m-318 1h0m65 2h0m-4 1h0m286 0h0m0 0h0m6 0h0m8 0h0m-389 1h0m334 0h0m-52 1h0m126 0h0m-358 2h0m-4 2h0m42 1h0m287 0h0m1 1h0m-310 1h0m4 0h0m335 0h0m-324 1h0m266 1h0m48 0h0m-431 1h0m90 0h0m310 1h0m26 0h0m-72 1h0m82 0h0m-361 2h0m43 1h0m191 1h0m36 0h0m75 0h0m7 1h0m-48 1h0m-262 1h0m203 2h0m17 0h0m74 0h0m-296 1h0m273 0h0m-36 1h0m-247 1h0m-23 1h0m324 0h0m18 1h0m-74 1h0m-266 2h0m8 0h0m1 0h0m218 0h0m-10 3h0m64 0h0m40 0h0m1 0h0m-112 2h0m113 0h0m13 0h0m-319 1h0m241 1h0m-241 1h0m193 0h0m68 0h0m4 0h0m-28 1h0m62 0h0m-4 1h0m-38 1h0m31 0h0m9 0h0m-80 2h0m54 0h0m-23 2h0m-43 1h0m103 1h0m-88 3h0m69 3h0m-68 2h0m40 4h0m-30 2h0m40 2h0m-36 1h0m9 4h0m26 4h0m-8 3h0" stroke="#D3D3D3"/><path d="M371 92h0m-48 1h0m22 0h0m-26 1h0m11 2h0m38 0h0m-41 1h0m9 1h0m23 0h0m9 4h0m-6 1h0m-25 1h0m-25 1h0m58 1h0m24 0h0m-82 1h0m-3 2h0m82 0h0m-52 2h0m46 4h0m9 1h0m-65 2h0m4 1h0m12 1h0m49 0h0m-83 3h0m0 0h0m14 2h0m82 0h0m-65 1h0m43 1h0m-21 1h0m9 0h0m20 0h0m-63 1h0m-15 1h0m102 0h0m-2 1h0m-49 1h0m0 0h0m-42 2h0m13 0h0m39 2h0m6 1h0m27 0h0m-100 1h0m100 0h0m-4 1h0m-94 1h0m104 0h0m-67 2h0m43 0h0m-87 2h0m81 0h0m19 0h0m-56 2h0m11 1h0m11 0h0m47 0h0m-63 1h0m28 0h0m-74 1h0m32 0h0m49 0h0m23 0h0m3 0h0m-14 1h0m-28 3h0m43 0h0m-4 2h0m-40 1h0m21 0h0m-92 1h0m0 2h0m96 0h0m-106 1h0m17 0h0m-57 1h0m36 0h0m-21 1h0m15 2h0m-6 1h0m58 0h0m60 0h0m3 0h0m-131 1h0m128 0h0m-54 1h0m53 0h0m-137 5h0m-12 2h0m-7 2h0m2 0h0m-26 8h0m27 1h0m15 7h0m-25 3h0m11 4h0m-2 5h0m-22 1h0m-2 2h0m5 2h0m25 1h0m-18 10h0m176 4h0m-195 6h0m42 1h0m127 0h0m70 0h0m16 5h0m0 5h0m10 2h0m-29 5h0m33 0h0m-205 6h0m-2 1h0m193 4h0m-19 4h0m39 0h0m-44 3h0m20 0h0m33 7h0m-32 3h0m-13 1h0m20 3h0m7 2h0m16 0h0m-40 10h0m33 7h0m1 1h0m-28 3h0m43 4h0m2 0h0m-29 1h0m21 1h0m4 0h0m-21 2h0m20 0h0m-140 3h0m103 1h0m46 1h0m-20 1h0m-15 5h0m75 7h0m-188 1h0m-30 3h0m25 0h0m3 0h0m188 0h0m-191 2h0m-5 2h0m-36 1h0m7 0h0m100 0h0m16 0h0m62 0h0m-174 3h0m146 0h0m30 0h0m-184 1h0m136 0h0m32 0h0m26 0h0m-185 1h0m9 0h0m24 0h0m119 0h0m65 0h0m-184 1h0m-35 2h0m25 1h0m4 0h0m104 0h0m28 0h0m47 0h0m-203 1h0m8 0h0m118 1h0m62 0h0m43 0h0m-218 2h0m155 0h0m-316 1h0m309 0h0m57 0h0m-64 1h0m5 0h0m-138 1h0m-2 1h0m98 0h0m17 1h0m-86 1h0m75 1h0m28 0h0m81 0h0m-362 1h0m186 0h0m83 0h0m24 0h0m58 1h0m-164 3h0m62 0h0m5 0h0m-19 1h0m37 0h0m74 0h0m-151 1h0m79 0h0m30 0h0m-299 1h0m173 0h0m120 0h0m28 0h0m-71 1h0m19 0h0m57 0h0m36 0h0m-71 1h0m-97 1h0m12 0h0m15 0h0m132 0h0m-137 1h0m13 0h0m-246 1h0m6 0h0m17 1h0m228 0h0m51 0h0m66 0h0m-367 1h0m198 3h0m48 0h0m30 0h0m54 0h0m-339 1h0m305 0h0m-304 1h0m9 1h0m13 0h0m210 0h0m4 1h0m113 0h0m10 0h0m-135 1h0m24 0h0m133 0h0m-391 1h0m224 0h0m35 0h0m-22 1h0m102 0h0m30 0h0m-125 1h0m-231 1h0m2 0h0m300 0h0m-232 1h0m170 0h0m10 0h0m85 0h0m5 0h0m48 0h0m-381 1h0m365 0h0m-289 1h0m161 1h0m-243 1h0m231 0h0m26 0h0m-242 1h0m53 0h0m156 0h0m18 0h0m2 0h0m36 0h0m-262 2h0m336 0h0m8 0h0m-342 1h0m268 1h0m-299 1h0m59 0h0m243 0h0m-288 4h0m361 0h0m-354 1h0m350 0h0m5 0h0m-65 1h0m-250 1h0m301 2h0m20 0h0m-383 1h0m269 1h0m49 1h0m0 1h0m60 1h0m-121 1h0m-261 1h0m272 0h0m111 1h0m-427 1h0m100 0h0m12 0h0m258 0h0m-297 1h0m41 0h0m231 0h0m29 0h0m-282 2h0m233 0h0m3 0h0m-312 1h0m75 0h0m16 0h0m233 0h0m70 0h0m3 0h0m-421 1h0m309 0h0m85 0h0m46 0h0m-430 2h0m23 0h0m24 0h0m285 0h0m-300 1h0m255 0h0m16 0h0m106 0h0m-360 1h0m46 0h0m226 0h0m90 0h0m-85 2h0m93 0h0m4 0h0m-367 1h0m310 1h0m-357 1h0m3 0h0m277 2h0m13 0h0m87 0h0m9 0h0m-398 1h0m362 0h0m23 0h0m-318 1h0m277 0h0m38 0h0m-60 1h0m10 0h0m44 0h0m3 2h0m33 0h0m-36 1h0m-68 1h0m37 0h0m29 0h0m-58 1h0m19 0h0m58 0h0m5 1h0m0 1h0m-329 1h0m17 0h0m212 0h0m38 1h0m-52 2h0m87 0h0m16 0h0m12 0h0m-65 1h0m-27 1h0m51 0h0m11 1h0m-22 1h0m22 0h0m-20 3h0m3 0h0m-62 2h0m34 0h0m21 0h0m44 3h0m4 0h0m-93 3h0m62 0h0m14 4h0m-65 1h0m0 1h0m40 0h0m32 1h0m-43 1h0m3 0h0m-3 1h0m-18 2h0m-13 2h0m27 1h0m11 1h0m8 1h0m14 1h0m-19 2h0m-13 4h0m-12 1h0m8 5h0m8 0h0" stroke="#9D77EC"/><path d="M351 96h0m-32 8h0m43 4h0m25 4h0m-61 2h0m40 1h0m19 1h0m-50 4h0m-25 1h0m23 2h0m65 0h0m-5 4h0m0 0h0m-58 2h0m74 0h0m-14 2h0m2 2h0m-10 2h0m-10 2h0m16 2h0m-43 1h0m72 0h0m-108 1h0m-8 2h0m14 1h0m75 0h0m2 1h0m13 0h0m-83 2h0m32 0h0m-69 1h0m18 0h0m-3 1h0m48 0h0m13 0h0m56 0h0m-112 2h0m1 1h0m30 1h0m-53 1h0m13 2h0m37 2h0m41 0h0m-99 1h0m27 0h0m-35 1h0m32 0h0m68 0h0m-98 1h0m21 0h0m-36 1h0m-3 1h0m33 0h0m-37 2h0m125 0h0m-115 1h0m6 0h0m-9 1h0m134 1h0m-143 1h0m121 0h0m-139 2h0m24 1h0m-4 1h0m4 0h0m10 0h0m-22 1h0m-23 4h0m20 2h0m144 0h0m-159 1h0m159 0h0m4 0h0m-151 2h0m0 1h0m15 0h0m-33 2h0m16 2h0m142 0h0m12 2h0m-148 1h0m-10 1h0m-25 1h0m22 4h0m6 0h0m-19 1h0m161 2h0m13 1h0m9 1h0m-163 1h0m142 3h0m-133 1h0m160 3h0m22 1h0m-193 1h0m152 0h0m15 2h0m-157 1h0m132 3h0m30 0h0m-172 1h0m188 0h0m-27 1h0m-154 1h0m186 0h0m-40 2h0m66 0h0m-4 1h0m-49 1h0m-19 1h0m44 0h0m33 0h0m-219 1h0m-10 1h0m220 0h0m-9 1h0m14 0h0m2 0h0m-220 1h0m200 0h0m36 0h0m-232 2h0m140 0h0m4 0h0m37 0h0m41 0h0m6 0h0m-39 1h0m11 0h0m-6 2h0m30 0h0m9 1h0m-23 2h0m13 0h0m-21 2h0m16 0h0m-16 1h0m3 2h0m28 0h0m-3 1h0m8 0h0m-10 1h0m-26 1h0m36 2h0m-39 3h0m-3 1h0m-2 1h0m45 0h0m-22 3h0m3 6h0m11 1h0m-11 1h0m6 0h0m-180 1h0m-5 3h0m4 2h0m0 1h0m162 0h0m29 0h0m-39 1h0m46 2h0m-36 1h0m1 1h0m-5 1h0m10 0h0m-1 6h0m-5 1h0m23 1h0m4 0h0m-24 6h0m7 0h0m13 3h0m23 0h0m-31 3h0m7 2h0m1 1h0m13 2h0m24 4h0m1 0h0m-5 2h0m18 2h0m2 1h0m-23 1h0m26 3h0m-77 2h0m45 1h0m17 1h0m-16 1h0m-2 2h0m35 0h0m-42 5h0m35 0h0m-50 1h0m0 0h0m12 0h0m-34 3h0m25 0h0m3 0h0m38 1h0m1 2h0m35 1h0m-76 2h0m57 1h0m-105 1h0m110 0h0m-204 3h0m199 2h0m9 4h0m-189 1h0m137 2h0m-315 1h0m2 1h0m3 0h0m242 1h0m87 1h0m-17 1h0m15 0h0m6 1h0m-325 1h0m319 0h0m2 0h0m-308 1h0m59 0h0m300 0h0m-367 1h0m184 1h0m72 0h0m-242 1h0m11 0h0m-7 1h0m185 0h0m24 0h0m-166 1h0m-82 1h0m12 0h0m217 0h0m96 0h0m-297 1h0m310 0h0m-83 1h0m63 0h0m-231 1h0m294 0h0m-349 1h0m45 0h0m8 0h0m-50 1h0m39 0h0m6 0h0m225 0h0m73 0h0m-335 1h0m269 0h0m1 0h0m61 0h0m-331 1h0m196 1h0m77 0h0m-280 1h0m35 0h0m10 0h0m255 0h0m-321 1h0m64 0h0m144 0h0m1 0h0m87 1h0m-236 1h0m143 0h0m124 0h0m-311 2h0m12 0h0m212 0h0m124 0h0m-337 1h0m2 0h0m194 1h0m-223 1h0m49 0h0m289 0h0m-104 1h0m97 0h0m-294 2h0m7 0h0m25 0h0m11 0h0m-96 2h0m50 2h0m-36 2h0m358 0h0m-320 1h0m21 0h0m9 0h0m-71 1h0m335 1h0m-281 1h0m188 0h0m20 2h0m19 1h0m-273 1h0m0 0h0m254 0h0m-274 1h0m315 0h0m23 0h0m-329 1h0m15 0h0m45 1h0m-37 1h0m27 0h0m-57 2h0m329 0h0m-342 4h0m308 0h0m7 0h0m-284 1h0m30 0h0m-54 1h0m302 0h0m-288 1h0m246 0h0m68 0h0m-264 1h0m200 0h0m52 1h0m-298 1h0m345 0h0m-377 1h0m41 0h0m11 0h0m-10 2h0m29 0h0m226 0h0m10 0h0m45 2h0m6 0h0m2 1h0m25 2h0m-26 2h0m-325 2h0m14 0h0m280 1h0m-274 1h0m321 0h0m6 0h0m-310 1h0m184 0h0m69 0h0m27 1h0m-291 2h0m8 0h0m275 0h0m42 1h0m-7 1h0m-318 1h0m6 0h0m208 0h0m32 0h0m73 0h0m-315 2h0m-15 2h0m325 0h0m-13 2h0m10 1h0m-118 1h0m21 0h0m-216 1h0m6 0h0m303 0h0m-319 2h0m209 0h0m77 0h0m-64 1h0m99 0h0m-59 3h0m35 0h0m-67 1h0m-215 1h0m217 0h0m2 1h0m31 0h0m28 0h0m24 2h0m-58 1h0m16 0h0m-47 1h0m62 0h0m-61 1h0m79 0h0m-48 2h0m-23 4h0m7 4h0m24 0h0m-11 1h0m27 3h0m-4 1h0m-24 2h0m11 0h0m21 1h0m-31 2h0m23 0h0m5 1h0" stroke="#D3D3D3"/><path d="M363 91h0m-44 5h0m7 0h0m40 0h0m-29 1h0m11 0h0m-25 1h0m22 1h0m25 0h0m-46 1h0m21 0h0m7 0h0m15 0h0m-27 3h0m16 0h0m23 0h0m-45 1h0m4 0h0m40 0h0m3 2h0m-48 1h0m37 0h0m-58 1h0m44 0h0m-31 2h0m8 0h0m52 1h0m-64 1h0m5 1h0m46 0h0m8 0h0m-28 1h0m31 0h0m-14 1h0m14 0h0m-19 1h0m23 0h0m3 1h0m-37 1h0m10 0h0m22 0h0m-36 1h0m14 0h0m27 0h0m-67 1h0m20 0h0m32 0h0m-28 2h0m40 0h0m-22 1h0m16 0h0m-65 1h0m8 0h0m46 0h0m20 0h0m-23 1h0m-18 1h0m18 0h0m10 0h0m-50 1h0m59 1h0m-75 2h0m74 1h0m-14 1h0m-47 3h0m7 0h0m20 0h0m26 0h0m-66 2h0m35 0h0m25 0h0m6 0h0m-38 2h0m2 0h0m8 0h0m38 0h0m-75 1h0m59 1h0m-34 1h0m20 0h0m7 0h0m35 0h0m23 0h0m-1 2h0m-88 1h0m4 0h0m-18 3h0m70 0h0m7 0h0m18 0h0m-109 2h0m45 0h0m44 0h0m-90 1h0m20 0h0m2 0h0m44 1h0m23 0h0m2 0h0m-32 1h0m28 5h0m-136 1h0m8 0h0m73 2h0m-76 1h0m129 0h0m3 0h0m-139 2h0m1 0h0m3 2h0m133 0h0m-112 1h0m-28 2h0m8 2h0m87 0h0m-121 1h0m7 0h0m34 0h0m-3 2h0m-20 4h0m4 2h0m-17 4h0m17 2h0m-1 9h0m-15 7h0m13 4h0m-18 2h0m-14 3h0m30 2h0m-5 4h0m10 1h0m-35 2h0m34 1h0m134 0h0m-142 1h0m-33 1h0m172 0h0m-10 1h0m-126 1h0m215 2h0m10 0h0m-232 1h0m209 1h0m23 1h0m-21 2h0m-17 4h0m31 16h0m-25 2h0m2 1h0m2 0h0m-160 6h0m193 1h0m-185 2h0m188 7h0m-5 1h0m-13 5h0m37 3h0m-53 6h0m52 0h0m-43 2h0m-3 1h0m39 0h0m-46 1h0m25 0h0m-8 1h0m-11 1h0m14 3h0m5 0h0m28 1h0m10 0h0m-32 5h0m17 0h0m14 0h0m5 3h0m-63 2h0m65 4h0m-26 1h0m20 0h0m12 2h0m10 1h0m-14 1h0m-29 1h0m18 0h0m6 0h0m8 0h0m-50 1h0m18 0h0m10 0h0m13 1h0m7 0h0m-30 1h0m-20 4h0m45 0h0m18 0h0m-170 3h0m175 0h0m-13 5h0m15 0h0m-215 1h0m138 2h0m33 1h0m13 0h0m-67 1h0m99 0h0m17 0h0m-12 1h0m-31 1h0m-199 1h0m11 0h0m153 0h0m5 0h0m27 0h0m-19 1h0m22 1h0m-71 1h0m67 0h0m-68 1h0m15 0h0m47 0h0m-148 1h0m1 0h0m98 0h0m97 0h0m7 0h0m-123 1h0m88 0h0m29 0h0m-33 1h0m9 1h0m11 0h0m26 0h0m-142 1h0m49 1h0m24 0h0m37 0h0m-89 1h0m72 0h0m5 0h0m-186 1h0m21 1h0m139 0h0m6 0h0m32 0h0m12 0h0m-74 2h0m98 0h0m-31 1h0m23 0h0m-78 1h0m88 0h0m-118 1h0m67 0h0m3 0h0m27 0h0m-78 2h0m-97 1h0m156 0h0m-149 1h0m70 0h0m95 0h0m6 1h0m-69 1h0m17 0h0m13 1h0m7 0h0m4 0h0m-99 1h0m26 0h0m69 0h0m-259 1h0m109 0h0m92 0h0m66 0h0m1 0h0m15 0h0m-161 1h0m192 0h0m-318 1h0m-43 1h0m163 0h0m88 0h0m54 0h0m-83 1h0m92 0h0m-317 1h0m298 0h0m14 0h0m19 0h0m-85 1h0m3 0h0m15 0h0m15 0h0m61 0h0m-39 1h0m57 0h0m-120 1h0m55 1h0m-17 1h0m56 0h0m10 0h0m5 0h0m-152 1h0m35 0h0m-47 1h0m111 1h0m17 0h0m12 0h0m18 0h0m-159 1h0m116 0h0m9 0h0m21 0h0m-61 1h0m13 0h0m-52 1h0m15 0h0m58 0h0m-60 1h0m110 0h0m9 0h0m-130 1h0m64 0h0m-60 1h0m29 0h0m46 0h0m4 0h0m46 0h0m-134 1h0m1 0h0m-256 1h0m265 0h0m55 0h0m5 1h0m29 0h0m-82 1h0m16 0h0m104 0h0m-61 1h0m27 0h0m-22 1h0m3 0h0m55 1h0m-148 1h0m15 0h0m26 0h0m106 0h0m-146 1h0m31 0h0m-4 1h0m37 0h0m-6 1h0m24 0h0m32 1h0m-321 1h0m238 0h0m5 0h0m23 0h0m30 1h0m31 0h0m-111 1h0m-211 1h0m17 0h0m302 0h0m-111 1h0m92 0h0m15 1h0m-116 1h0m128 0h0m-350 1h0m216 0h0m19 0h0m104 0h0m-83 1h0m82 0h0m17 0h0m-349 1h0m257 0h0m53 0h0m14 0h0m30 1h0m-85 1h0m7 1h0m61 0h0m-80 2h0m44 0h0m-57 1h0m9 0h0m75 0h0m-103 2h0m17 0h0m65 0h0m-295 1h0m283 0h0m2 0h0m36 0h0m12 1h0m-133 3h0m7 0h0m11 0h0m12 0h0m92 0h0m-363 1h0m310 0h0m65 0h0m-72 1h0m-31 2h0m20 0h0m52 1h0m-96 1h0m60 0h0m37 0h0m-100 1h0m26 0h0m102 0h0m-139 1h0m36 0h0m-234 1h0m229 0h0m36 0h0m-285 1h0m251 0h0m12 1h0m3 0h0m8 0h0m26 0h0m33 1h0m-110 1h0m128 0h0m-126 1h0m122 0h0m-123 1h0m1 0h0m23 0h0m6 0h0m36 1h0m9 0h0m-45 1h0m51 0h0m-91 1h0m52 0h0m1 0h0m4 1h0m38 0h0m-26 1h0m49 0h0m-101 1h0m47 0h0m7 0h0m-11 2h0m11 0h0m25 0h0m-83 1h0m70 1h0m-75 1h0m14 0h0m53 0h0m-13 1h0m55 1h0m-110 1h0m79 0h0m-41 1h0m60 2h0m7 0h0m-92 2h0m53 0h0m14 0h0m6 0h0m7 2h0m-84 1h0m15 1h0m-5 2h0m46 0h0m-42 1h0m17 0h0m26 1h0m-36 1h0m-22 1h0m52 0h0m-4 1h0m-25 1h0m-11 1h0m14 0h0m64 0h0m-70 2h0m55 1h0m-12 2h0m-23 1h0m-17 3h0m2 4h0m49 0h0m-24 7h0m6 1h0m-18 1h0m4 0h0" stroke="#7248F6"/><path d="M328 88h0m0 4h0m14 0h0m24 1h0m-45 1h0m35 0h0m13 0h0m-44 2h0m27 0h0m30 0h0m-28 5h0m31 0h0m-56 1h0m14 0h0m48 0h0m-8 1h0m-57 1h0m44 0h0m13 0h0m6 0h0m-21 2h0m-39 1h0m41 0h0m-37 1h0m11 0h0m4 0h0m15 1h0m17 1h0m17 1h0m-75 1h0m14 1h0m21 0h0m20 0h0m15 1h0m-34 1h0m3 1h0m28 1h0m-54 1h0m21 1h0m26 1h0m-32 2h0m19 0h0m16 0h0m1 1h0m5 0h0m-79 1h0m0 2h0m38 0h0m-17 2h0m11 0h0m7 1h0m20 0h0m12 0h0m-49 2h0m-25 1h0m77 0h0m-40 1h0m57 0h0m-89 4h0m11 0h0m1 1h0m33 1h0m-21 1h0m3 1h0m49 1h0m-54 1h0m30 0h0m4 0h0m11 1h0m-7 3h0m14 1h0m-5 1h0m-30 1h0m45 0h0m-90 1h0m29 0h0m14 0h0m3 0h0m35 0h0m-22 1h0m30 1h0m-102 1h0m105 2h0m-85 2h0m80 0h0m-96 1h0m13 0h0m26 0h0m48 2h0m-116 1h0m12 0h0m11 0h0m47 0h0m50 0h0m-137 2h0m18 0h0m101 1h0m19 0h0m-139 1h0m75 0h0m-60 1h0m4 0h0m72 2h0m-95 2h0m-21 2h0m37 0h0m-6 5h0m131 4h0m-156 2h0m149 0h0m-142 3h0m-27 4h0m15 2h0m-11 2h0m10 1h0m-11 3h0m166 2h0m-174 6h0m21 1h0m7 0h0m140 1h0m-146 1h0m5 2h0m-23 2h0m186 3h0m-183 4h0m4 0h0m6 0h0m22 0h0m129 0h0m97 2h0m-51 4h0m-5 1h0m-208 1h0m174 0h0m56 0h0m-234 1h0m177 5h0m-128 1h0m199 3h0m20 0h0m-221 3h0m1 0h0m177 6h0m-157 6h0m165 3h0m10 0h0m25 4h0m-4 1h0m12 1h0m-1 3h0m-18 4h0m-6 6h0m31 1h0m-25 2h0m8 1h0m3 1h0m-3 2h0m-19 4h0m9 1h0m-8 3h0m10 0h0m31 1h0m-7 1h0m-20 15h0m34 2h0m-26 1h0m37 0h0m8 0h0m-38 2h0m16 1h0m5 0h0m15 0h0m0 1h0m-30 1h0m-8 1h0m37 2h0m6 0h0m-46 2h0m36 2h0m4 0h0m21 3h0m10 0h0m-14 1h0m-19 1h0m16 0h0m-38 1h0m4 0h0m16 2h0m-12 1h0m15 0h0m34 0h0m-42 1h0m11 0h0m-2 1h0m-63 3h0m48 1h0m50 2h0m-7 1h0m8 1h0m4 2h0m-19 2h0m-40 1h0m-67 1h0m47 1h0m33 0h0m2 0h0m44 0h0m-66 1h0m66 0h0m-220 1h0m123 0h0m26 2h0m50 0h0m5 0h0m0 0h0m-104 1h0m76 0h0m-92 1h0m65 1h0m5 0h0m46 0h0m-78 1h0m41 0h0m-4 1h0m-22 1h0m11 0h0m55 0h0m23 0h0m-107 1h0m78 0h0m-114 1h0m67 0h0m9 0h0m26 0h0m14 0h0m-99 3h0m5 0h0m107 0h0m-79 1h0m42 0h0m25 0h0m-149 1h0m76 1h0m35 0h0m21 0h0m36 0h0m3 0h0m-4 1h0m-156 1h0m38 0h0m1 0h0m38 0h0m31 0h0m-43 1h0m44 0h0m-112 1h0m86 0h0m1 0h0m0 0h0m1 0h0m-84 1h0m157 0h0m-56 1h0m-40 1h0m49 0h0m-71 2h0m17 0h0m3 0h0m22 0h0m88 0h0m-110 1h0m4 0h0m94 0h0m-82 1h0m72 0h0m20 0h0m-141 1h0m41 0h0m86 0h0m-94 1h0m-34 2h0m13 0h0m4 0h0m27 0h0m-222 1h0m211 0h0m59 0h0m54 0h0m-302 1h0m146 0h0m114 0h0m-55 1h0m86 0h0m2 0h0m-90 3h0m-35 1h0m51 1h0m27 0h0m2 0h0m16 0h0m-56 1h0m6 0h0m-42 1h0m28 0h0m44 0h0m-97 1h0m70 0h0m11 0h0m51 0h0m-85 1h0m54 0h0m6 0h0m31 0h0m14 0h0m-139 2h0m5 0h0m2 0h0m119 0h0m-68 1h0m10 1h0m69 0h0m-135 2h0m78 0h0m-66 1h0m23 0h0m22 0h0m59 0h0m-94 1h0m95 0h0m-361 1h0m360 0h0m-101 1h0m87 0h0m-88 1h0m3 0h0m35 0h0m-305 1h0m247 0h0m73 0h0m0 1h0m50 0h0m-118 1h0m106 0h0m-107 1h0m107 0h0m-25 1h0m23 0h0m-114 1h0m90 0h0m11 0h0m37 0h0m-50 1h0m30 1h0m7 0h0m-105 1h0m51 0h0m38 0h0m-50 1h0m-268 1h0m199 0h0m33 0h0m111 0h0m-106 1h0m59 0h0m9 0h0m22 0h0m-65 1h0m27 0h0m6 0h0m43 0h0m-39 1h0m-67 1h0m31 0h0m-51 1h0m-3 1h0m70 0h0m35 0h0m-47 1h0m23 0h0m-78 1h0m1 0h0m14 0h0m13 0h0m47 0h0m54 0h0m-78 1h0m21 0h0m45 0h0m5 0h0m-91 1h0m10 0h0m28 0h0m-29 1h0m16 0h0m55 0h0m-107 1h0m17 0h0m31 0h0m-12 1h0m1 0h0m4 0h0m-36 1h0m31 0h0m47 0h0m15 0h0m-321 1h0m264 0h0m4 0h0m-49 1h0m46 0h0m9 0h0m-64 1h0m8 0h0m73 0h0m-63 1h0m36 0h0m16 0h0m42 0h0m-76 1h0m24 0h0m50 0h0m4 0h0m-108 1h0m17 0h0m72 0h0m-44 1h0m-34 1h0m77 0h0m-106 1h0m23 0h0m17 0h0m21 0h0m10 0h0m10 0h0m41 0h0m-86 1h0m1 0h0m38 1h0m9 0h0m49 1h0m-84 1h0m-42 1h0m84 0h0m-49 2h0m16 0h0m53 0h0m-65 2h0m8 0h0m31 0h0m-75 1h0m2 0h0m107 0h0m-112 2h0m100 0h0m15 1h0m-54 1h0m-41 1h0m2 1h0m45 0h0m-18 1h0m7 0h0m32 0h0m6 0h0m-74 1h0m5 0h0m6 0h0m52 0h0m1 0h0m-8 2h0m-35 1h0m45 0h0m-55 2h0m5 0h0m52 0h0m-74 1h0m2 0h0m46 0h0m10 0h0m-62 1h0m47 0h0m-5 3h0m-20 1h0m-14 1h0m72 0h0m5 2h0m-31 1h0m2 5h0m-24 1h0m0 1h0m13 0h0m11 1h0m2 1h0m11 1h0m-20 4h0" stroke="#673DF8"/><path d="M326 90h0m10 0h0m21 4h0m-32 1h0m55 3h0m-5 1h0m-21 1h0m-43 2h0m66 1h0m-43 1h0m11 4h0m6 1h0m6 1h0m-21 1h0m-7 1h0m-1 1h0m34 3h0m8 3h0m-5 1h0m13 3h0m-46 3h0m-4 1h0m18 0h0m64 0h0m-71 1h0m-26 1h0m56 0h0m46 0h0m-7 1h0m1 0h0m6 0h0m-27 1h0m18 1h0m-6 1h0m23 0h0m-16 1h0m-51 1h0m61 0h0m-67 1h0m9 1h0m70 0h0m-61 1h0m23 0h0m-59 1h0m77 0h0m1 0h0m4 1h0m3 0h0m-75 1h0m11 0h0m15 0h0m22 3h0m-31 1h0m-38 3h0m53 0h0m41 1h0m-120 2h0m110 0h0m-118 6h0m29 1h0m5 2h0m-85 4h0m154 1h0m-158 1h0m3 2h0m91 2h0m-69 1h0m10 2h0m-7 2h0m-43 1h0m167 1h0m-160 4h0m-12 3h0m35 4h0m144 0h0m-165 6h0m1 1h0m9 0h0m5 1h0m3 0h0m-18 3h0m15 3h0m-13 5h0m199 7h0m-188 1h0m-28 1h0m24 0h0m-18 1h0m8 1h0m4 0h0m3 2h0m-11 2h0m26 0h0m-9 1h0m11 0h0m-24 1h0m149 0h0m90 3h0m-65 2h0m-156 1h0m172 1h0m10 1h0m43 1h0m-218 1h0m209 2h0m3 0h0m-214 3h0m6 4h0m182 7h0m17 2h0m26 3h0m-29 1h0m2 0h0m-10 6h0m31 1h0m-1 1h0m-29 4h0m-7 3h0m8 7h0m6 0h0m-2 6h0m42 0h0m-27 1h0m-1 1h0m-7 6h0m26 2h0m-10 4h0m1 4h0m-4 1h0m41 1h0m-47 3h0m37 0h0m-8 1h0m2 3h0m31 3h0m6 1h0m-82 1h0m49 2h0m-143 1h0m138 0h0m21 2h0m7 1h0m16 0h0m-90 1h0m31 0h0m31 0h0m13 1h0m-42 1h0m62 2h0m-190 1h0m140 0h0m14 4h0m21 0h0m-214 2h0m125 0h0m54 0h0m18 0h0m-193 1h0m226 0h0m-109 1h0m104 0h0m-212 2h0m129 0h0m3 0h0m52 2h0m2 0h0m-178 1h0m20 0h0m-15 1h0m166 0h0m-59 1h0m-105 1h0m-30 1h0m220 0h0m16 0h0m5 0h0m-213 1h0m122 0h0m55 0h0m23 0h0m-215 1h0m117 1h0m68 0h0m-173 1h0m177 0h0m16 1h0m-204 1h0m177 0h0m-169 1h0m184 0h0m2 2h0m24 0h0m-366 1h0m253 0h0m40 0h0m-300 2h0m277 0h0m-256 1h0m75 0h0m198 0h0m11 2h0m77 0h0m-121 1h0m22 0h0m109 0h0m-186 1h0m12 0h0m-134 1h0m194 0h0m37 0h0m11 0h0m-242 1h0m181 0h0m53 0h0m41 0h0m34 0h0m-164 1h0m162 0h0m-181 1h0m17 0h0m30 0h0m33 0h0m94 0h0m-183 1h0m175 0h0m-323 1h0m151 0h0m-181 1h0m276 0h0m-84 1h0m-149 1h0m155 0h0m50 0h0m78 0h0m-103 1h0m26 0h0m35 0h0m58 0h0m-66 2h0m102 0h0m-361 1h0m43 0h0m164 0h0m-238 1h0m210 0h0m37 0h0m68 0h0m-306 1h0m55 0h0m220 0h0m38 0h0m-82 1h0m-174 1h0m227 0h0m-269 1h0m2 0h0m207 0h0m87 0h0m-37 1h0m19 0h0m-7 1h0m23 0h0m75 0h0m-170 1h0m100 0h0m10 0h0m-251 1h0m242 0h0m-322 1h0m87 0h0m268 0h0m9 1h0m-303 3h0m234 0h0m72 1h0m-301 1h0m16 0h0m168 1h0m-187 1h0m275 0h0m14 0h0m-14 1h0m28 0h0m-372 1h0m73 0h0m241 0h0m12 0h0m13 0h0m32 0h0m-366 1h0m270 0h0m70 0h0m-75 1h0m9 1h0m110 0h0m-399 1h0m249 0h0m-239 1h0m296 0h0m-237 1h0m185 0h0m91 0h0m31 0h0m19 0h0m-350 1h0m290 0h0m17 0h0m31 0h0m-57 1h0m-317 1h0m9 0h0m46 0h0m193 0h0m4 0h0m17 0h0m-214 1h0m239 0h0m35 0h0m-323 1h0m5 0h0m11 0h0m227 0h0m34 0h0m-279 1h0m257 0h0m12 0h0m-274 1h0m14 0h0m18 0h0m1 0h0m262 0h0m-348 1h0m74 0h0m295 0h0m7 0h0m-65 1h0m53 0h0m19 0h0m-344 1h0m47 0h0m1 0h0m217 0h0m124 1h0m6 0h0m-142 2h0m-292 1h0m368 0h0m21 0h0m-333 1h0m30 0h0m239 0h0m-320 1h0m3 0h0m35 0h0m246 0h0m125 0h0m-373 1h0m274 0h0m1 0h0m-258 2h0m36 0h0m224 0h0m-252 1h0m264 0h0m-327 1h0m40 0h0m63 0h0m236 0h0m50 0h0m8 0h0m-402 1h0m325 0h0m86 0h0m-354 1h0m285 0h0m14 0h0m-337 1h0m28 0h0m30 1h0m309 0h0m-7 1h0m-361 1h0m310 0h0m22 0h0m-281 2h0m242 0h0m84 0h0m25 0h0m-345 1h0m253 0h0m53 0h0m-89 2h0m44 1h0m-228 1h0m178 0h0m128 0h0m6 2h0m-17 1h0m-330 1h0m344 1h0m-94 2h0m6 0h0m35 0h0m-265 1h0m1 1h0m229 0h0m36 0h0m25 0h0m-25 1h0m-35 1h0m55 0h0m-91 2h0m92 1h0m-11 1h0m21 0h0m-59 1h0m24 0h0m2 1h0m7 0h0m12 1h0m-67 3h0m50 0h0m-39 5h0m-7 1h0m53 0h0m-44 3h0m45 0h0m-71 1h0m33 0h0m3 1h0m-4 1h0m14 1h0m-12 1h0m12 3h0m1 0h0m23 2h0m-52 3h0m33 1h0m-31 1h0m35 0h0m5 0h0m-26 4h0m-9 1h0m18 4h0" stroke="#A480EA"/><path d="M336 89h0m-7 1h0m7 0h0m1 2h0m-11 1h0m19 0h0m21 0h0m-36 1h0m43 1h0m-5 1h0m-46 1h0m22 1h0m28 0h0m-24 2h0m0 0h0m-16 1h0m40 1h0m20 0h0m-55 1h0m-13 1h0m56 1h0m-48 1h0m6 0h0m22 0h0m18 0h0m-65 1h0m8 2h0m0 0h0m31 0h0m-37 1h0m-6 1h0m7 0h0m42 0h0m25 0h0m-40 1h0m19 0h0m12 0h0m-64 1h0m3 0h0m26 2h0m20 3h0m-7 1h0m-10 2h0m20 0h0m17 1h0m-64 1h0m13 0h0m26 0h0m18 0h0m25 0h0m-10 1h0m10 3h0m-56 2h0m1 0h0m-19 1h0m21 0h0m-2 1h0m-17 2h0m83 0h0m-59 2h0m2 0h0m4 0h0m-29 1h0m67 0h0m-41 1h0m25 1h0m-47 1h0m69 0h0m-34 3h0m-4 1h0m-5 1h0m23 0h0m-16 1h0m28 1h0m2 0h0m-78 1h0m-3 2h0m72 1h0m-98 2h0m51 1h0m-36 1h0m8 0h0m84 0h0m-91 2h0m73 0h0m17 1h0m-72 1h0m-8 2h0m-58 1h0m132 1h0m8 0h0m-57 1h0m-6 1h0m58 0h0m-128 3h0m-31 1h0m158 0h0m-125 1h0m74 1h0m-2 1h0m-105 2h0m-11 7h0m156 0h0m-159 6h0m-4 1h0m38 2h0m-32 1h0m-8 6h0m27 1h0m2 4h0m156 2h0m6 2h0m-151 2h0m-19 1h0m-22 2h0m-4 1h0m28 1h0m175 6h0m-179 2h0m217 0h0m-233 1h0m-9 2h0m20 3h0m154 1h0m3 0h0m-8 2h0m9 2h0m2 0h0m58 4h0m-11 5h0m-168 5h0m3 3h0m176 1h0m-169 2h0m-3 1h0m6 6h0m195 4h0m-191 1h0m168 0h0m34 3h0m-16 2h0m12 0h0m-39 14h0m17 0h0m-7 1h0m-2 1h0m34 0h0m-41 6h0m55 6h0m-37 1h0m3 2h0m30 0h0m-38 4h0m52 1h0m5 6h0m22 5h0m-17 1h0m-49 2h0m14 1h0m-32 1h0m42 0h0m42 0h0m-43 3h0m16 0h0m12 0h0m-69 1h0m51 1h0m-149 1h0m7 0h0m155 0h0m-58 1h0m48 0h0m2 0h0m26 3h0m-77 1h0m81 0h0m1 0h0m-65 2h0m12 1h0m35 0h0m1 0h0m5 0h0m14 0h0m-116 2h0m5 0h0m27 0h0m50 0h0m-86 1h0m41 0h0m2 0h0m13 0h0m30 0h0m-82 1h0m22 0h0m-92 1h0m89 0h0m17 0h0m28 0h0m64 1h0m-62 1h0m-25 2h0m28 1h0m52 0h0m-195 1h0m173 0h0m-47 1h0m-19 1h0m103 0h0m-113 1h0m71 0h0m-179 2h0m7 0h0m83 0h0m81 0h0m30 0h0m-199 1h0m136 0h0m9 0h0m79 0h0m-147 1h0m64 0h0m3 0h0m44 1h0m13 0h0m-18 2h0m-155 1h0m180 0h0m-103 1h0m84 0h0m-82 1h0m-82 1h0m8 0h0m124 0h0m-51 1h0m7 0h0m-80 1h0m120 0h0m1 0h0m-104 1h0m56 0h0m85 0h0m7 0h0m-94 1h0m112 0h0m-119 1h0m104 0h0m-73 1h0m93 0h0m-375 1h0m311 0h0m22 0h0m25 0h0m-172 1h0m12 0h0m15 0h0m120 0h0m-308 1h0m181 0h0m37 0h0m122 0h0m-175 1h0m84 0h0m12 0h0m34 0h0m31 0h0m0 0h0m-96 1h0m-10 1h0m41 0h0m63 0h0m-79 1h0m86 0h0m-114 1h0m5 0h0m-24 2h0m-27 1h0m54 0h0m2 1h0m25 0h0m7 0h0m-67 1h0m66 0h0m20 0h0m22 1h0m-115 1h0m164 0h0m-132 1h0m6 0h0m-231 2h0m215 0h0m63 0h0m-75 1h0m28 0h0m37 0h0m6 0h0m18 0h0m-237 1h0m152 0h0m61 1h0m-210 1h0m138 1h0m16 0h0m29 0h0m124 0h0m-146 1h0m131 0h0m9 0h0m-72 1h0m24 0h0m10 0h0m-100 2h0m-13 1h0m43 0h0m69 0h0m-315 2h0m341 0h0m-124 1h0m5 0h0m15 0h0m21 0h0m-35 2h0m132 0h0m-82 1h0m34 0h0m-91 1h0m16 1h0m9 0h0m1 0h0m82 0h0m-89 1h0m55 0h0m9 0h0m-50 1h0m18 0h0m-30 1h0m87 2h0m-35 1h0m-57 1h0m12 0h0m5 0h0m31 0h0m44 0h0m12 0h0m10 0h0m10 0h0m-150 1h0m11 0h0m27 0h0m56 0h0m48 0h0m-426 1h0m331 1h0m-293 1h0m391 0h0m-115 1h0m41 0h0m17 0h0m5 0h0m15 0h0m3 3h0m25 0h0m-137 1h0m33 1h0m111 0h0m-55 1h0m-68 1h0m56 0h0m59 0h0m-348 1h0m233 0h0m18 0h0m28 1h0m61 0h0m-134 1h0m127 0h0m-394 1h0m370 1h0m16 0h0m8 0h0m-92 1h0m7 0h0m83 0h0m-68 1h0m-46 1h0m1 0h0m65 0h0m-47 2h0m88 1h0m-333 1h0m9 0h0m215 3h0m68 2h0m15 0h0m-54 1h0m55 0h0m16 0h0m-51 1h0m60 2h0m-110 1h0m27 0h0m3 0h0m-41 1h0m2 1h0m10 1h0m71 0h0m-25 1h0m62 0h0m-94 1h0m2 1h0m88 1h0m-102 1h0m14 0h0m36 0h0m58 0h0m-77 1h0m-31 1h0m62 0h0m33 0h0m-12 1h0m-53 1h0m54 0h0m-14 1h0m3 0h0m-57 2h0m26 0h0m-7 2h0m47 0h0m-9 1h0m-63 1h0m52 0h0m-63 2h0m33 0h0m48 0h0m-78 1h0m58 1h0m-52 1h0m69 1h0m-33 1h0m23 1h0m16 2h0m-62 2h0m6 0h0m-18 1h0m43 3h0m25 1h0m-55 1h0m11 2h0m19 2h0m-15 3h0" stroke="#7C51F4"/><path d="M337 94h0m17 11h0m-22 4h0m47 4h0m0 2h0m-66 1h0m7 0h0m1 0h0m77 0h0m-77 2h0m44 0h0m-31 2h0m36 1h0m-32 3h0m69 3h0m-29 1h0m23 1h0m-90 2h0m20 1h0m-14 2h0m34 1h0m7 0h0m47 0h0m11 0h0m-18 1h0m22 0h0m-27 1h0m5 0h0m10 0h0m-90 1h0m94 0h0m-85 1h0m26 1h0m3 0h0m70 1h0m-12 2h0m6 0h0m-71 2h0m66 1h0m-84 1h0m75 1h0m14 0h0m-103 1h0m-10 1h0m89 0h0m-3 1h0m-101 1h0m9 0h0m103 1h0m7 0h0m-65 1h0m52 2h0m-88 3h0m-12 2h0m-51 1h0m0 1h0m34 0h0m2 0h0m58 0h0m-113 4h0m7 1h0m29 1h0m16 0h0m0 0h0m-22 4h0m-13 4h0m14 0h0m-38 3h0m30 3h0m-11 2h0m-19 7h0m-8 1h0m28 0h0m165 14h0m-191 1h0m184 5h0m-172 3h0m-19 2h0m200 2h0m-16 2h0m-155 3h0m9 0h0m-38 2h0m28 0h0m227 1h0m-217 4h0m165 0h0m15 0h0m31 2h0m-6 4h0m23 1h0m4 0h0m-10 3h0m-18 1h0m-178 5h0m202 2h0m-30 3h0m35 0h0m-14 6h0m-12 2h0m5 3h0m29 2h0m-206 1h0m165 6h0m42 0h0m-14 1h0m-22 1h0m38 0h0m-26 2h0m13 2h0m-29 1h0m-12 2h0m6 0h0m12 1h0m26 1h0m-22 12h0m12 1h0m4 1h0m43 16h0m9 2h0m-34 2h0m23 1h0m8 0h0m-45 2h0m43 0h0m-14 1h0m5 2h0m34 0h0m-195 1h0m147 0h0m0 2h0m47 0h0m-28 2h0m-165 2h0m161 1h0m28 1h0m-97 2h0m-94 1h0m115 0h0m-152 1h0m144 0h0m20 0h0m44 0h0m25 0h0m-222 2h0m227 0h0m-225 3h0m123 0h0m87 0h0m12 0h0m-120 1h0m80 0h0m-194 1h0m241 2h0m-233 1h0m225 0h0m-206 1h0m168 2h0m4 0h0m44 0h0m-235 1h0m154 0h0m-152 1h0m158 0h0m28 0h0m-69 1h0m-3 1h0m-261 1h0m365 0h0m-54 2h0m-314 1h0m21 0h0m308 0h0m62 0h0m-125 1h0m24 0h0m-270 1h0m222 2h0m12 0h0m127 0h0m-302 2h0m109 0h0m-194 1h0m84 0h0m131 0h0m146 0h0m13 0h0m19 0h0m-85 1h0m61 0h0m-28 1h0m32 1h0m-372 2h0m13 0h0m72 0h0m240 0h0m5 0h0m-312 2h0m29 0h0m189 0h0m43 0h0m37 1h0m5 0h0m62 0h0m-26 1h0m-339 1h0m199 0h0m15 0h0m39 0h0m-256 1h0m195 1h0m141 0h0m38 0h0m-332 1h0m26 0h0m228 0h0m82 0h0m-380 1h0m57 0h0m269 0h0m-332 1h0m57 0h0m205 0h0m-248 1h0m47 0h0m165 0h0m-204 1h0m195 0h0m1 0h0m-133 1h0m232 0h0m44 0h0m-273 1h0m-61 1h0m319 0h0m-332 1h0m48 0h0m223 0h0m61 0h0m-94 1h0m34 0h0m25 0h0m19 0h0m12 0h0m-9 1h0m33 0h0m-282 1h0m204 0h0m-296 1h0m305 0h0m-266 1h0m272 0h0m27 0h0m-261 1h0m164 0h0m123 0h0m-367 1h0m264 1h0m-193 1h0m7 0h0m-38 1h0m220 0h0m14 0h0m-15 1h0m52 0h0m32 0h0m-332 1h0m50 0h0m252 0h0m-29 1h0m10 0h0m67 0h0m-79 1h0m42 0h0m-312 1h0m46 0h0m313 0h0m-367 1h0m21 0h0m273 0h0m58 0h0m21 1h0m-370 2h0m49 0h0m249 0h0m31 0h0m30 0h0m19 0h0m-339 1h0m214 0h0m5 0h0m21 0h0m8 0h0m73 0h0m-347 1h0m50 0h0m256 0h0m44 0h0m-326 1h0m250 0h0m58 0h0m-341 1h0m30 0h0m353 0h0m-432 1h0m33 0h0m17 0h0m49 0h0m2 0h0m305 0h0m-401 1h0m5 0h0m34 0h0m25 0h0m214 0h0m59 0h0m35 0h0m-375 1h0m53 0h0m248 0h0m-281 1h0m13 1h0m258 0h0m60 0h0m9 0h0m59 0h0m-392 1h0m6 0h0m286 0h0m-332 1h0m97 0h0m239 0h0m0 0h0m91 0h0m-431 1h0m63 0h0m5 0h0m-22 1h0m298 0h0m78 0h0m-414 1h0m35 0h0m13 0h0m253 0h0m123 0h0m-325 1h0m300 0h0m17 0h0m-408 1h0m45 0h0m24 0h0m337 0h0m-381 1h0m19 0h0m322 0h0m3 0h0m-297 1h0m301 0h0m28 0h0m-403 1h0m0 0h0m55 0h0m318 0h0m-387 1h0m48 0h0m19 0h0m3 0h0m305 0h0m-372 1h0m7 0h0m12 0h0m306 0h0m-255 1h0m16 1h0m311 0h0m-387 1h0m15 0h0m352 0h0m-365 1h0m2 0h0m-11 1h0m7 0h0m1 0h0m71 0h0m255 0h0m-23 1h0m104 0h0m-308 1h0m207 0h0m66 0h0m-314 1h0m227 1h0m54 0h0m75 0h0m-108 1h0m26 0h0m-19 1h0m-234 1h0m311 0h0m-327 1h0m227 0h0m-206 1h0m16 0h0m237 0h0m22 0h0m8 0h0m-64 1h0m47 1h0m37 1h0m-30 1h0m-45 3h0m55 0h0m20 2h0m-306 1h0m272 0h0m-29 2h0m25 0h0m-12 2h0m-2 1h0m5 0h0m-25 1h0m49 0h0m-7 3h0m-63 4h0m44 0h0m13 0h0m11 2h0m-34 2h0m-19 1h0m28 1h0m-23 1h0m14 0h0m31 2h0m-43 2h0m53 4h0m-31 2h0m25 0h0m-33 2h0m13 0h0m-18 2h0m19 2h0m2 0h0m-5 1h0m2 0h0" stroke="#A480EA"/><path d="M324 97h0m-9 25h0m107 22h0m-9 6h0m-160 16h0m1 3h0m-16 16h0m12 13h0m-39 1h0m276 58h0m-16 11h0m-23 13h0m2 4h0m14 0h0m50 22h0m-68 10h0m83 8h0m-11 11h0m-57 12h0m56 10h0m-71 1h0m-247 4h0m181 4h0m54 1h0m-212 2h0m-40 1h0m38 0h0m-32 1h0m34 1h0m277 0h0m-262 2h0m-70 1h0m46 0h0m-18 2h0m357 0h0m1 1h0m-1 1h0m-346 5h0m34 0h0m-35 1h0m4 0h0m343 0h0m-381 1h0m15 0h0m60 0h0m4 0h0m247 1h0m-279 1h0m-52 4h0m84 0h0m183 0h0m-222 2h0m339 0h0m-386 2h0m43 0h0m12 2h0m15 0h0m-2 3h0m273 0h0m-341 1h0m4 0h0m17 2h0m20 0h0m4 0h0m-48 2h0m16 1h0m296 1h0m-315 1h0m50 4h0m-31 1h0m2 1h0m15 1h0m-78 2h0m83 0h0m-16 1h0m2 0h0m29 0h0m211 0h0m-263 1h0m-38 2h0m13 2h0m46 0h0m246 0h0m-249 2h0m39 5h0m226 5h0m-248 3h0m232 7h0m-225 1h0m250 2h0m-244 2h0m251 3h0m-7 1h0m-34 10h0m24 6h0m21 8h0m-24 1h0" stroke="#C1AEDE"/><path d="M341 93h0m2 1h0m0 0h0m37 0h0m-10 1h0m-38 1h0m19 1h0m31 4h0m-56 3h0m55 2h0m-15 3h0m-15 3h0m29 3h0m-28 1h0m32 1h0m8 0h0m-72 1h0m16 0h0m35 2h0m-58 3h0m20 3h0m60 1h0m1 0h0m-53 1h0m-27 1h0m5 0h0m45 0h0m-27 2h0m45 0h0m16 0h0m-88 1h0m85 0h0m18 1h0m-97 2h0m29 0h0m19 0h0m43 1h0m-22 1h0m26 2h0m-18 1h0m-7 1h0m-38 3h0m-36 1h0m-1 3h0m20 0h0m41 0h0m-39 1h0m60 0h0m-86 1h0m31 0h0m9 0h0m8 0h0m15 1h0m6 0h0m21 1h0m-93 2h0m-5 1h0m28 1h0m41 0h0m-73 1h0m41 1h0m-43 1h0m46 0h0m-87 1h0m36 0h0m20 0h0m4 1h0m10 0h0m36 0h0m-87 4h0m-15 1h0m137 2h0m-141 1h0m-13 1h0m143 0h0m-122 1h0m9 0h0m104 0h0m-115 1h0m2 0h0m-8 1h0m118 0h0m7 0h0m2 0h0m-143 1h0m129 2h0m20 0h0m-135 5h0m-39 5h0m40 3h0m-30 1h0m-7 1h0m6 3h0m29 0h0m-16 2h0m8 0h0m-23 1h0m-13 2h0m39 0h0m7 0h0m127 2h0m-154 1h0m17 3h0m2 1h0m-13 1h0m9 0h0m-12 1h0m173 0h0m-1 1h0m-178 1h0m188 1h0m-10 1h0m-165 1h0m150 1h0m17 0h0m-151 3h0m187 0h0m-57 1h0m56 0h0m-203 1h0m9 0h0m7 1h0m147 0h0m13 0h0m-14 1h0m41 1h0m-220 1h0m193 0h0m11 0h0m0 0h0m-177 1h0m7 0h0m128 0h0m73 1h0m-213 1h0m186 0h0m-212 1h0m170 1h0m24 0h0m-201 1h0m11 0h0m209 0h0m10 0h0m26 0h0m-38 1h0m11 0h0m20 0h0m9 0h0m8 0h0m-36 1h0m9 1h0m-239 1h0m31 0h0m168 0h0m25 0h0m42 0h0m-37 1h0m-4 1h0m-18 1h0m0 0h0m-153 6h0m201 6h0m21 0h0m-210 1h0m208 0h0m-13 2h0m-198 1h0m185 0h0m10 0h0m-190 4h0m188 0h0m14 1h0m-31 1h0m-166 2h0m157 0h0m38 0h0m10 2h0m-44 1h0m30 4h0m11 1h0m-9 1h0m-11 5h0m1 0h0m5 0h0m18 0h0m-5 1h0m-16 6h0m-3 4h0m10 2h0m-34 7h0m51 1h0m-25 1h0m27 0h0m-12 1h0m-3 1h0m9 7h0m-17 2h0m-2 4h0m45 1h0m-156 5h0m168 1h0m-43 2h0m51 1h0m13 1h0m-54 3h0m31 1h0m-17 4h0m-13 1h0m26 1h0m29 0h0m-95 4h0m47 1h0m-172 2h0m223 0h0m-28 2h0m29 5h0m-19 4h0m-106 1h0m81 0h0m4 0h0m-335 1h0m278 0h0m-4 2h0m24 0h0m-210 1h0m94 0h0m-92 1h0m-91 2h0m30 0h0m281 0h0m76 0h0m-376 1h0m379 0h0m-372 1h0m12 0h0m60 0h0m257 0h0m5 0h0m-267 1h0m158 0h0m4 0h0m144 0h0m-385 1h0m32 0h0m232 0h0m1 0h0m60 1h0m12 0h0m-24 1h0m-27 1h0m78 0h0m-339 1h0m12 0h0m-45 1h0m30 2h0m0 1h0m27 0h0m292 0h0m22 0h0m22 1h0m-147 1h0m55 0h0m-292 1h0m9 1h0m7 0h0m251 0h0m-231 1h0m25 0h0m-58 1h0m25 1h0m216 0h0m39 0h0m-260 1h0m24 0h0m4 0h0m-29 1h0m47 0h0m141 0h0m48 0h0m-258 1h0m370 0h0m-367 1h0m11 0h0m6 0h0m341 2h0m-304 1h0m290 0h0m18 0h0m-365 1h0m13 1h0m16 0h0m0 0h0m35 0h0m191 0h0m61 0h0m-238 1h0m153 0h0m18 0h0m-257 1h0m41 0h0m325 0h0m-272 1h0m302 0h0m-76 2h0m-62 1h0m-254 1h0m12 0h0m288 0h0m68 0h0m-378 1h0m346 0h0m8 1h0m-81 1h0m-238 1h0m7 0h0m226 0h0m126 0h0m-83 1h0m-30 1h0m-222 1h0m219 0h0m124 0h0m-8 1h0m-391 1h0m11 0h0m35 0h0m9 0h0m7 0h0m261 0h0m-59 1h0m-247 1h0m-20 1h0m314 1h0m-316 1h0m56 0h0m281 0h0m-318 1h0m7 1h0m39 0h0m-10 1h0m335 0h0m-357 3h0m238 1h0m70 1h0m-392 2h0m413 0h0m-344 1h0m-10 1h0m21 1h0m227 0h0m128 0h0m-77 1h0m67 0h0m-329 2h0m289 0h0m-75 1h0m13 0h0m5 0h0m10 0h0m99 0h0m-365 2h0m233 0h0m68 0h0m-367 1h0m64 0h0m33 0h0m278 0h0m-75 1h0m18 5h0m1 0h0m-212 1h0m265 1h0m-25 1h0m25 0h0m-287 1h0m9 0h0m224 1h0m95 1h0m-116 1h0m-221 1h0m16 0h0m206 0h0m43 0h0m60 4h0m-78 1h0m46 0h0m1 0h0m21 1h0m-12 8h0m22 3h0m-78 2h0m22 3h0m20 0h0m-8 8h0m10 0h0m-37 1h0m18 4h0m-14 1h0m2 1h0m-17 2h0m35 4h0m-10 5h0" stroke="#D3D3D3"/><path d="M341 92h0m4 0h0m-7 1h0m-4 7h0m37 5h0m-53 2h0m8 0h0m44 2h0m-56 2h0m38 2h0m-36 1h0m15 1h0m50 0h0m-20 2h0m25 1h0m-22 1h0m-52 4h0m17 2h0m47 0h0m-18 2h0m57 2h0m-27 3h0m10 0h0m-61 2h0m55 0h0m-72 1h0m6 0h0m67 0h0m35 1h0m-75 1h0m50 0h0m1 0h0m-94 1h0m8 0h0m96 0h0m-82 1h0m93 0h0m-107 2h0m25 0h0m38 0h0m33 0h0m-105 1h0m54 0h0m34 0h0m-79 1h0m-4 1h0m31 0h0m52 0h0m-35 2h0m58 0h0m6 0h0m-123 1h0m2 0h0m44 0h0m53 0h0m22 0h0m-85 1h0m13 0h0m-53 1h0m33 0h0m91 0h0m-76 1h0m-46 1h0m19 2h0m32 0h0m36 0h0m9 0h0m-8 1h0m-99 2h0m-21 3h0m-7 1h0m6 0h0m42 0h0m-41 2h0m3 4h0m-21 2h0m20 0h0m-33 1h0m-10 1h0m165 0h0m-125 2h0m-8 1h0m106 0h0m-115 3h0m-19 6h0m0 3h0m-19 1h0m-1 1h0m21 0h0m12 1h0m-1 4h0m-26 5h0m3 3h0m-9 2h0m13 7h0m18 3h0m-4 3h0m-2 1h0m-18 1h0m152 1h0m-166 2h0m189 2h0m-155 2h0m176 0h0m-41 2h0m1 1h0m-132 1h0m225 0h0m-39 1h0m20 0h0m-80 3h0m58 0h0m-175 5h0m125 0h0m-116 6h0m174 3h0m9 0h0m-177 4h0m172 12h0m-4 1h0m18 0h0m-17 4h0m17 0h0m-2 1h0m12 0h0m25 7h0m-14 1h0m2 1h0m-10 1h0m25 2h0m-32 5h0m-16 7h0m15 0h0m26 1h0m3 6h0m-23 1h0m20 2h0m5 0h0m-3 3h0m28 3h0m-9 5h0m7 0h0m-15 1h0m-2 2h0m-7 1h0m19 0h0m-159 1h0m178 0h0m8 0h0m-32 3h0m31 1h0m-181 7h0m163 0h0m-42 2h0m34 0h0m-13 1h0m-37 1h0m12 0h0m35 0h0m22 0h0m-211 2h0m162 3h0m46 0h0m-23 1h0m-180 1h0m12 2h0m4 0h0m2 0h0m113 0h0m-139 1h0m20 0h0m100 0h0m35 0h0m-1 1h0m26 0h0m3 0h0m5 0h0m24 0h0m-195 1h0m163 1h0m7 0h0m-73 1h0m115 0h0m-128 1h0m6 1h0m2 0h0m68 0h0m-45 1h0m29 0h0m72 0h0m-77 1h0m-44 1h0m8 0h0m32 0h0m57 0h0m-38 1h0m11 1h0m-143 1h0m85 0h0m31 0h0m39 0h0m41 0h0m-17 1h0m-361 1h0m309 0h0m-121 1h0m80 0h0m18 0h0m92 0h0m-132 2h0m96 0h0m7 0h0m24 0h0m-114 1h0m50 2h0m40 0h0m40 0h0m-3 1h0m11 0h0m-203 1h0m25 0h0m79 0h0m75 0h0m-137 1h0m111 0h0m-126 2h0m9 0h0m160 0h0m3 0h0m-160 1h0m22 0h0m74 0h0m11 0h0m-121 2h0m2 0h0m73 0h0m-32 1h0m31 0h0m-80 1h0m2 0h0m2 0h0m98 0h0m-257 1h0m148 0h0m109 0h0m-308 1h0m298 0h0m-247 1h0m194 0h0m10 0h0m61 0h0m51 0h0m-336 1h0m324 1h0m-365 1h0m314 0h0m-84 1h0m3 0h0m7 0h0m112 0h0m-312 1h0m229 0h0m37 0h0m21 0h0m11 0h0m3 0h0m35 1h0m27 1h0m-143 1h0m61 1h0m13 0h0m-88 1h0m16 0h0m9 0h0m14 0h0m12 0h0m15 0h0m22 0h0m29 1h0m41 0h0m-336 1h0m248 0h0m-280 1h0m16 0h0m29 0h0m263 0h0m-3 1h0m15 1h0m19 0h0m10 0h0m-372 1h0m68 0h0m288 0h0m-307 1h0m235 0h0m50 1h0m-344 1h0m4 0h0m264 0h0m2 0h0m4 0h0m34 0h0m23 0h0m-324 1h0m257 0h0m34 0h0m-266 1h0m211 0h0m15 0h0m57 0h0m14 0h0m51 0h0m-311 1h0m205 1h0m48 0h0m45 0h0m-108 1h0m111 0h0m-330 2h0m3 0h0m217 0h0m2 0h0m121 1h0m-102 1h0m6 1h0m-259 1h0m17 0h0m231 0h0m89 0h0m-5 1h0m18 0h0m-122 1h0m-261 1h0m331 1h0m4 0h0m-333 1h0m51 0h0m214 0h0m50 1h0m8 0h0m6 1h0m9 0h0m3 0h0m23 0h0m-394 1h0m42 0h0m28 0h0m218 0h0m-251 1h0m51 0h0m-64 1h0m29 0h0m236 0h0m6 0h0m31 0h0m45 0h0m-299 1h0m273 0h0m-305 1h0m279 0h0m81 0h0m-407 1h0m91 0h0m197 0h0m25 0h0m-252 1h0m28 0h0m319 0h0m-100 1h0m41 1h0m-16 1h0m-348 1h0m290 0h0m104 0h0m-325 1h0m363 0h0m-339 1h0m279 0h0m6 0h0m17 0h0m4 0h0m5 0h0m25 0h0m-420 1h0m99 1h0m209 1h0m13 0h0m5 0h0m-255 1h0m242 0h0m-24 1h0m95 0h0m15 1h0m9 1h0m-58 1h0m63 0h0m-326 3h0m208 0h0m41 0h0m-55 1h0m67 0h0m8 1h0m53 0h0m-333 1h0m259 0h0m62 0h0m-85 3h0m58 0h0m-59 2h0m-16 1h0m74 1h0m-279 1h0m275 0h0m39 0h0m-48 1h0m31 0h0m-66 2h0m52 1h0m18 0h0m-34 3h0m24 1h0m-61 1h0m0 2h0m54 0h0m-26 2h0m7 0h0m-34 1h0m47 0h0m18 0h0m-35 1h0m-15 1h0m2 4h0m22 0h0m-49 1h0m36 0h0m-38 1h0m46 0h0m-23 3h0m39 1h0m-18 1h0m16 0h0m-15 1h0m-45 1h0m26 1h0m18 4h0m9 1h0m-6 2h0m-7 3h0m-9 3h0" stroke="#966EEE"/><path d="M353 93h0m9 0h0m7 0h0m-28 1h0m46 3h0m-11 2h0m-41 1h0m33 1h0m8 5h0m-56 1h0m20 0h0m-22 1h0m12 2h0m35 1h0m-25 2h0m20 1h0m24 0h0m-17 4h0m5 0h0m7 6h0m-63 1h0m32 0h0m56 1h0m-1 1h0m0 0h0m11 0h0m1 0h0m-8 2h0m-98 2h0m81 0h0m32 0h0m-80 3h0m76 3h0m-109 2h0m4 0h0m55 0h0m36 0h0m-70 1h0m24 0h0m16 0h0m52 0h0m-54 1h0m57 0h0m-102 1h0m25 3h0m-23 1h0m25 0h0m-45 3h0m78 3h0m-37 1h0m40 1h0m-28 1h0m56 1h0m-138 1h0m92 1h0m-67 1h0m-29 1h0m120 3h0m-138 1h0m10 0h0m64 3h0m11 0h0m-104 6h0m9 0h0m14 0h0m-18 4h0m-21 2h0m-6 3h0m161 0h0m-161 1h0m18 3h0m10 2h0m-16 4h0m158 0h0m-161 4h0m-13 2h0m10 2h0m168 3h0m-183 2h0m28 0h0m4 11h0m-34 1h0m7 2h0m16 1h0m6 3h0m-1 1h0m11 3h0m232 12h0m-39 1h0m4 1h0m15 1h0m-204 2h0m192 3h0m-175 6h0m170 4h0m37 0h0m-31 4h0m-162 7h0m191 1h0m-191 1h0m196 2h0m10 5h0m-37 1h0m2 1h0m-15 10h0m-1 1h0m14 2h0m-3 1h0m27 11h0m27 2h0m17 0h0m-56 3h0m5 0h0m-19 3h0m36 2h0m-28 1h0m30 0h0m-136 2h0m149 0h0m-154 2h0m133 1h0m13 0h0m-6 1h0m12 0h0m1 0h0m-41 2h0m12 0h0m60 2h0m-29 2h0m11 0h0m18 3h0m-91 5h0m49 0h0m10 2h0m14 0h0m-65 1h0m-96 1h0m-30 1h0m-15 2h0m154 1h0m-134 1h0m98 0h0m88 1h0m-82 1h0m68 0h0m-178 1h0m159 0h0m57 0h0m21 0h0m-101 1h0m-128 1h0m0 1h0m116 0h0m52 1h0m-67 2h0m-73 1h0m133 0h0m16 0h0m-74 1h0m1 1h0m16 0h0m38 0h0m2 0h0m4 0h0m-137 1h0m150 1h0m-26 2h0m-312 1h0m13 0h0m175 1h0m23 0h0m126 1h0m-140 1h0m180 0h0m-78 1h0m14 1h0m46 0h0m-109 2h0m18 1h0m14 0h0m6 0h0m-274 1h0m31 0h0m222 0h0m24 0h0m74 0h0m-72 1h0m-228 1h0m198 0h0m10 0h0m16 0h0m4 0h0m-84 1h0m26 0h0m-192 1h0m261 0h0m70 0h0m-139 1h0m65 0h0m-74 2h0m22 0h0m-220 1h0m26 1h0m218 0h0m29 0h0m16 0h0m71 0h0m-161 1h0m30 0h0m53 0h0m-273 1h0m222 0h0m65 0h0m-61 1h0m-33 1h0m84 0h0m-218 2h0m233 0h0m-292 1h0m355 0h0m-315 1h0m293 0h0m26 0h0m-78 1h0m61 0h0m1 0h0m-71 2h0m33 0h0m-301 2h0m355 0h0m7 0h0m-321 1h0m187 1h0m85 1h0m36 0h0m-417 1h0m25 0h0m264 0h0m40 1h0m14 0h0m-282 1h0m24 0h0m264 0h0m-302 1h0m258 1h0m68 0h0m20 1h0m-67 1h0m7 0h0m16 0h0m23 0h0m41 0h0m-136 1h0m10 0h0m125 0h0m-32 1h0m35 0h0m-384 1h0m3 0h0m51 0h0m194 0h0m48 1h0m27 0h0m-78 1h0m3 0h0m54 0h0m48 0h0m22 0h0m-411 1h0m357 0h0m-39 1h0m48 0h0m12 0h0m6 0h0m-354 1h0m1 0h0m-33 1h0m36 0h0m43 0h0m215 0h0m132 0h0m-381 1h0m-10 1h0m7 0h0m341 0h0m9 0h0m29 0h0m-406 2h0m16 0h0m8 0h0m4 0h0m313 0h0m59 0h0m-113 1h0m19 0h0m16 0h0m43 0h0m-344 1h0m12 0h0m52 0h0m190 0h0m107 0h0m-421 1h0m74 0h0m41 0h0m222 0h0m-291 1h0m49 0h0m211 0h0m63 2h0m-333 1h0m36 0h0m272 0h0m73 0h0m-65 1h0m63 0h0m-384 1h0m31 0h0m265 0h0m68 0h0m3 0h0m4 0h0m-341 1h0m306 0h0m17 0h0m15 0h0m-364 1h0m331 0h0m48 0h0m-310 1h0m247 0h0m60 0h0m21 0h0m-324 1h0m292 0h0m27 0h0m6 0h0m-421 1h0m69 0h0m262 2h0m55 1h0m4 0h0m-387 1h0m76 0h0m6 0h0m261 0h0m25 0h0m35 0h0m3 0h0m-321 1h0m205 0h0m28 0h0m-219 2h0m246 0h0m23 0h0m6 0h0m20 0h0m-313 2h0m14 0h0m199 0h0m70 0h0m7 2h0m-6 1h0m17 0h0m-75 1h0m13 0h0m-246 1h0m208 0h0m11 0h0m41 1h0m-247 2h0m206 0h0m3 0h0m65 0h0m15 0h0m-33 1h0m-4 1h0m30 0h0m2 0h0m4 2h0m-31 1h0m50 1h0m-67 1h0m68 0h0m-109 1h0m68 2h0m3 0h0m-6 1h0m-44 1h0m53 0h0m6 1h0m-44 1h0m-7 1h0m38 0h0m8 0h0m22 0h0m-34 1h0m17 1h0m-61 2h0m16 1h0m31 0h0m28 2h0m-14 11h0m-47 4h0m4 0h0m13 3h0m3 2h0" stroke="#9D77EC"/><path d="M343 92h0m-14 5h0m10 5h0m13 0h0m16 7h0m-10 2h0m-28 1h0m-8 6h0m41 1h0m-33 6h0m50 0h0m-10 2h0m-56 2h0m2 1h0m65 0h0m13 1h0m-40 1h0m-27 2h0m6 1h0m56 2h0m-28 1h0m12 1h0m-23 3h0m49 0h0m-48 1h0m24 1h0m-69 1h0m18 2h0m14 0h0m34 1h0m18 0h0m5 2h0m5 1h0m-87 1h0m-21 2h0m0 0h0m21 0h0m-23 1h0m76 0h0m-80 1h0m30 0h0m-32 1h0m4 0h0m37 0h0m44 1h0m-28 1h0m10 1h0m42 1h0m-139 1h0m17 0h0m-18 2h0m81 0h0m-81 1h0m139 0h0m-140 3h0m18 0h0m-16 1h0m-14 1h0m20 1h0m135 0h0m-13 1h0m-153 2h0m11 1h0m12 0h0m129 0h0m-164 1h0m6 0h0m1 0h0m160 5h0m-137 1h0m137 0h0m-175 2h0m27 1h0m14 0h0m140 4h0m6 2h0m-15 1h0m10 0h0m-175 1h0m175 0h0m-151 1h0m2 0h0m136 1h0m-137 1h0m4 0h0m-13 3h0m149 1h0m-140 1h0m153 0h0m-149 1h0m132 0h0m-152 1h0m4 2h0m-20 2h0m180 0h0m-2 1h0m-159 5h0m200 0h0m-182 1h0m160 1h0m-5 1h0m12 0h0m10 0h0m-188 1h0m192 0h0m-39 2h0m55 0h0m-3 1h0m-57 1h0m37 0h0m19 0h0m-217 1h0m1 0h0m203 0h0m-204 1h0m10 0h0m159 1h0m-160 2h0m182 2h0m5 0h0m39 0h0m1 1h0m-72 1h0m4 0h0m32 0h0m43 0h0m-41 1h0m-14 1h0m-37 2h0m50 0h0m25 2h0m-199 1h0m182 1h0m6 1h0m-65 1h0m76 0h0m24 1h0m-212 1h0m159 0h0m-159 1h0m204 0h0m16 0h0m-15 2h0m8 0h0m-25 1h0m-184 3h0m186 0h0m11 2h0m-6 2h0m-22 2h0m26 1h0m-182 1h0m207 1h0m-2 1h0m-3 3h0m-196 1h0m0 3h0m184 0h0m-5 1h0m13 2h0m2 1h0m-2 3h0m-15 1h0m-25 1h0m2 0h0m2 1h0m13 2h0m8 2h0m16 2h0m12 1h0m2 2h0m1 1h0m-43 1h0m6 1h0m-13 1h0m-3 1h0m61 0h0m3 4h0m-53 1h0m35 0h0m13 2h0m-41 1h0m23 0h0m-30 1h0m45 3h0m-35 3h0m39 5h0m3 1h0m-4 1h0m-55 3h0m18 0h0m61 0h0m-9 3h0m-31 3h0m52 0h0m-9 4h0m17 1h0m-62 3h0m-31 1h0m99 0h0m-22 1h0m2 2h0m-55 3h0m43 1h0m26 1h0m-220 2h0m108 2h0m23 0h0m-110 1h0m163 0h0m-56 2h0m-33 1h0m-87 1h0m198 1h0m-181 2h0m133 0h0m-33 1h0m92 0h0m-199 3h0m196 0h0m-343 1h0m261 1h0m-95 1h0m-168 1h0m246 0h0m80 0h0m-251 1h0m111 0h0m131 0h0m-330 2h0m5 0h0m3 0h0m5 0h0m279 0h0m-298 1h0m293 0h0m-47 1h0m71 0h0m11 0h0m-105 1h0m29 0h0m55 0h0m-213 1h0m215 1h0m38 0h0m33 0h0m-340 2h0m-16 1h0m271 0h0m-294 2h0m15 0h0m30 0h0m13 0h0m154 0h0m73 0h0m-261 1h0m36 0h0m234 0h0m17 0h0m62 0h0m-107 1h0m22 0h0m5 1h0m86 0h0m-365 1h0m32 0h0m8 0h0m158 1h0m18 0h0m72 0h0m-288 1h0m40 0h0m207 0h0m102 0h0m-317 1h0m16 1h0m202 0h0m68 0h0m11 0h0m-333 1h0m14 0h0m39 0h0m291 0h0m-302 1h0m199 0h0m-237 1h0m63 0h0m163 0h0m88 0h0m-304 1h0m11 0h0m319 0h0m4 0h0m-313 1h0m-43 1h0m335 0h0m-336 1h0m73 0h0m3 1h0m-77 1h0m64 0h0m284 0h0m-339 1h0m229 0h0m14 0h0m76 0h0m50 0h0m-375 1h0m43 0h0m-44 1h0m72 0h0m1 0h0m249 2h0m-323 1h0m332 1h0m9 0h0m-348 1h0m52 0h0m323 0h0m-370 1h0m297 0h0m-269 1h0m21 0h0m223 0h0m20 0h0m-28 2h0m85 0h0m-58 1h0m7 0h0m-285 1h0m350 0h0m-83 2h0m52 1h0m-299 1h0m220 0h0m-1 2h0m82 1h0m-296 1h0m270 0h0m-66 1h0m18 0h0m51 0h0m-321 1h0m29 0h0m262 0h0m-260 1h0m4 0h0m277 0h0m-286 1h0m20 0h0m15 0h0m250 0h0m16 0h0m10 0h0m1 0h0m27 0h0m-293 1h0m-54 1h0m37 0h0m196 0h0m77 0h0m49 0h0m-112 1h0m-280 2h0m58 1h0m26 2h0m252 0h0m31 0h0m-375 1h0m376 0h0m-301 2h0m-26 4h0m338 0h0m-315 1h0m9 1h0m304 1h0m-335 2h0m27 4h0m250 0h0m-62 1h0m14 0h0m-197 1h0m-5 4h0m219 5h0m92 0h0m-31 2h0m-85 1h0m5 2h0m-213 1h0m253 1h0m33 1h0m-52 1h0m58 0h0m-37 1h0m-24 2h0m21 2h0m45 2h0m-39 2h0m6 10h0m-2 1h0m-6 1h0m-9 2h0" stroke="#D3D3D3"/><path d="M343 92h0m19 1h0m-46 6h0m52 3h0m-25 2h0m48 1h0m-44 3h0m-17 3h0m30 4h0m-47 2h0m10 0h0m12 1h0m-19 4h0m33 0h0m-27 2h0m44 1h0m-19 2h0m17 0h0m9 1h0m15 0h0m-48 1h0m23 2h0m-10 2h0m45 2h0m-1 4h0m-71 3h0m58 3h0m-25 1h0m-59 2h0m16 0h0m-7 1h0m84 1h0m5 2h0m3 4h0m-1 2h0m-79 3h0m-79 4h0m8 0h0m-28 16h0m5 4h0m15 8h0m-14 10h0m-21 6h0m183 10h0m-19 4h0m-145 1h0m215 2h0m11 13h0m13 7h0m-187 9h0m6 3h0m154 1h0m46 13h0m-17 6h0m-1 2h0m-27 3h0m41 8h0m-18 4h0m6 4h0m8 1h0m-16 10h0m56 0h0m5 10h0m-31 2h0m9 4h0m-17 1h0m39 2h0m-18 2h0m-51 1h0m68 0h0m-41 1h0m19 0h0m37 0h0m-56 5h0m48 0h0m-175 1h0m98 2h0m7 0h0m92 0h0m-51 1h0m36 0h0m-20 1h0m-63 1h0m9 1h0m14 3h0m-33 1h0m1 0h0m30 1h0m57 0h0m-77 1h0m-27 1h0m27 0h0m22 0h0m-21 1h0m0 0h0m54 1h0m-150 2h0m89 2h0m82 0h0m-111 1h0m91 0h0m39 1h0m-86 3h0m100 0h0m-109 1h0m9 0h0m-20 1h0m-15 1h0m139 1h0m-40 1h0m18 3h0m-122 1h0m110 0h0m-44 2h0m67 0h0m-3 1h0m-121 3h0m-29 1h0m49 0h0m-30 3h0m34 0h0m-27 1h0m25 0h0m33 3h0m12 0h0m-100 1h0m36 0h0m85 1h0m-70 2h0m-3 1h0m22 1h0m69 0h0m-361 1h0m394 1h0m-1 1h0m-129 1h0m117 0h0m-68 1h0m16 0h0m36 2h0m10 0h0m-41 1h0m0 0h0m51 2h0m-90 2h0m4 1h0m48 0h0m-42 1h0m16 0h0m-24 1h0m85 0h0m-136 1h0m22 0h0m-243 1h0m257 0h0m98 0h0m-101 2h0m69 0h0m-3 1h0m-24 1h0m41 0h0m-69 2h0m-55 3h0m29 1h0m16 0h0m-47 1h0m40 0h0m1 1h0m-45 2h0m93 1h0m-41 1h0m31 2h0m-80 1h0m43 0h0m-16 1h0m4 0h0m7 0h0m68 0h0m-6 2h0m-59 1h0m54 2h0m-34 1h0m-19 1h0m22 0h0m28 1h0m8 2h0m16 0h0m-82 1h0m86 0h0m-97 2h0m44 0h0m32 1h0m-95 4h0m12 0h0m2 0h0m76 0h0m3 2h0m-65 1h0m10 1h0m-27 1h0m61 0h0m-47 1h0m30 2h0m41 0h0m-63 2h0m70 1h0m-40 4h0m31 1h0m-39 2h0m20 2h0m7 1h0m-54 2h0m37 0h0m-13 1h0m-3 1h0m-22 1h0m33 0h0m-45 1h0m29 4h0m-11 1h0m20 2h0m5 1h0" stroke="#5932FA"/><path d="M348 97h0m25 1h0m-18 1h0m33 0h0m-46 1h0m43 0h0m-19 5h0m-3 4h0m-25 1h0m-23 2h0m3 1h0m8 0h0m36 0h0m-26 2h0m9 6h0m26 1h0m5 0h0m2 3h0m11 3h0m-55 2h0m-22 3h0m80 1h0m-54 1h0m8 0h0m35 1h0m18 1h0m-92 1h0m76 0h0m-53 1h0m-12 1h0m91 0h0m-72 2h0m48 1h0m1 0h0m-39 2h0m22 1h0m-44 1h0m6 0h0m-23 1h0m-7 1h0m83 0h0m-90 2h0m12 0h0m1 0h0m-11 3h0m98 0h0m-105 1h0m18 0h0m3 0h0m45 0h0m-44 1h0m44 0h0m-73 1h0m22 0h0m87 1h0m5 0h0m-97 1h0m46 2h0m-57 1h0m66 0h0m-7 1h0m-74 1h0m118 0h0m-126 2h0m14 1h0m88 1h0m-131 2h0m30 0h0m-42 1h0m32 1h0m-5 1h0m-24 2h0m3 0h0m142 0h0m-128 1h0m2 0h0m2 0h0m2 1h0m-7 1h0m148 1h0m-154 3h0m143 1h0m-122 1h0m-30 4h0m18 3h0m-36 1h0m12 0h0m166 0h0m-9 2h0m-160 8h0m4 0h0m173 1h0m-158 5h0m142 1h0m11 2h0m9 2h0m5 1h0m-172 3h0m144 1h0m31 0h0m-30 1h0m10 0h0m34 0h0m-170 1h0m139 0h0m4 0h0m43 0h0m-229 1h0m7 0h0m177 0h0m-1 2h0m37 0h0m4 0h0m-198 1h0m183 0h0m9 0h0m-203 1h0m13 0h0m149 0h0m12 0h0m13 0h0m14 1h0m33 0h0m-23 2h0m-60 1h0m12 0h0m78 0h0m-231 1h0m155 0h0m66 0h0m-85 1h0m60 0h0m-51 2h0m-16 1h0m59 0h0m35 0h0m-254 1h0m36 1h0m7 0h0m177 0h0m39 0h0m-28 1h0m28 0h0m-25 2h0m-14 2h0m20 0h0m20 2h0m-27 2h0m41 0h0m-17 1h0m1 0h0m-9 1h0m10 1h0m-3 2h0m-9 2h0m-183 1h0m191 1h0m-187 1h0m168 0h0m41 1h0m0 1h0m1 2h0m-46 1h0m39 3h0m-35 1h0m7 2h0m1 0h0m1 1h0m-19 1h0m11 0h0m-9 6h0m43 0h0m-37 5h0m2 1h0m1 0h0m10 0h0m5 4h0m22 2h0m-3 2h0m-3 1h0m26 2h0m-55 1h0m38 1h0m-35 1h0m6 0h0m10 5h0m-5 2h0m34 1h0m17 0h0m-3 1h0m-27 1h0m-27 2h0m27 2h0m34 0h0m-17 7h0m22 1h0m-33 1h0m12 0h0m-10 2h0m12 0h0m-17 6h0m-3 3h0m42 2h0m30 0h0m-71 1h0m4 2h0m-169 1h0m173 0h0m-31 1h0m55 1h0m9 2h0m-55 1h0m28 1h0m61 0h0m-71 3h0m-23 1h0m-3 1h0m-126 1h0m135 0h0m-115 1h0m69 0h0m29 1h0m-12 1h0m77 0h0m-87 2h0m128 0h0m-9 1h0m-372 1h0m178 0h0m159 1h0m4 0h0m-328 1h0m290 0h0m-287 1h0m323 0h0m-312 1h0m59 1h0m169 0h0m-251 1h0m269 1h0m-23 1h0m74 0h0m-236 1h0m3 0h0m188 0h0m-268 1h0m25 0h0m226 0h0m64 0h0m-318 1h0m15 0h0m269 1h0m-272 1h0m10 0h0m242 0h0m58 0h0m-312 2h0m346 0h0m-36 1h0m-296 1h0m309 0h0m-293 1h0m11 0h0m212 2h0m60 0h0m-325 1h0m42 0h0m27 0h0m-71 1h0m59 0h0m270 0h0m-315 1h0m239 0h0m1 0h0m121 0h0m4 0h0m-389 1h0m274 0h0m18 0h0m-293 1h0m18 0h0m17 0h0m185 0h0m40 0h0m-202 1h0m20 0h0m189 1h0m35 0h0m-218 1h0m277 0h0m24 0h0m-311 1h0m-55 1h0m354 0h0m-364 2h0m53 0h0m288 0h0m-273 1h0m254 0h0m63 0h0m-384 1h0m76 0h0m295 0h0m-355 1h0m62 0h0m212 0h0m44 0h0m-107 1h0m-216 1h0m212 1h0m-196 2h0m278 0h0m-275 1h0m322 0h0m-351 1h0m63 0h0m316 1h0m-343 1h0m217 0h0m36 0h0m10 0h0m65 0h0m19 0h0m7 0h0m-69 2h0m-279 1h0m14 0h0m0 1h0m3 0h0m316 0h0m-389 1h0m345 0h0m8 1h0m-349 3h0m377 0h0m-106 1h0m16 0h0m51 0h0m7 0h0m-73 1h0m-318 3h0m342 0h0m-283 1h0m20 0h0m-45 1h0m61 0h0m206 1h0m-218 1h0m-95 1h0m402 0h0m30 3h0m-398 3h0m39 1h0m226 1h0m-234 1h0m263 0h0m50 1h0m14 0h0m-279 1h0m-34 1h0m337 1h0m-49 1h0m-263 1h0m222 0h0m83 0h0m-303 2h0m-13 1h0m214 0h0m-213 1h0m5 0h0m13 0h0m254 2h0m33 0h0m17 0h0m11 0h0m-21 1h0m-70 1h0m-235 1h0m303 0h0m-315 1h0m11 0h0m275 1h0m6 0h0m-25 3h0m48 1h0m7 0h0m-7 2h0m-21 2h0m-283 1h0m219 5h0m67 1h0m-77 1h0m53 7h0m-49 1h0m47 1h0m35 0h0m-74 1h0m69 3h0m-9 3h0m3 1h0m-32 7h0m3 1h0" stroke="#D3D3D3"/><path d="M346 92h0m22 2h0m-12 3h0m16 2h0m-50 1h0m4 0h0m69 4h0m-62 4h0m37 0h0m21 3h0m-16 1h0m-57 2h0m13 1h0m10 0h0m52 0h0m-41 3h0m21 0h0m-55 1h0m68 0h0m2 0h0m-44 5h0m-17 4h0m84 1h0m4 0h0m-47 1h0m-48 1h0m-8 1h0m33 0h0m62 0h0m12 2h0m6 2h0m-97 1h0m56 0h0m1 0h0m23 1h0m9 1h0m-57 1h0m65 1h0m-86 1h0m-22 1h0m92 1h0m6 0h0m-92 1h0m26 0h0m13 1h0m-7 1h0m57 0h0m-74 1h0m54 1h0m-66 1h0m73 0h0m-49 2h0m63 0h0m6 0h0m-51 1h0m49 0h0m-176 9h0m11 2h0m93 1h0m-87 2h0m-37 1h0m15 4h0m5 4h0m-17 7h0m-13 2h0m9 7h0m14 0h0m-2 3h0m5 3h0m7 0h0m-5 1h0m10 1h0m-7 1h0m-16 1h0m17 1h0m-30 2h0m33 5h0m-26 4h0m-8 7h0m18 0h0m219 1h0m-243 3h0m240 1h0m-220 1h0m19 0h0m-10 3h0m5 1h0m220 2h0m-222 2h0m216 5h0m26 10h0m-14 4h0m1 2h0m-30 1h0m14 1h0m-19 1h0m32 4h0m4 3h0m-11 2h0m-171 1h0m161 2h0m0 1h0m26 4h0m-18 3h0m8 0h0m-20 7h0m23 0h0m16 5h0m4 0h0m-30 1h0m29 4h0m-6 1h0m-22 1h0m33 1h0m-25 1h0m18 9h0m-9 2h0m-123 2h0m144 1h0m-1 1h0m8 0h0m17 6h0m3 2h0m18 0h0m-85 1h0m60 1h0m-20 2h0m-25 2h0m6 0h0m26 0h0m44 0h0m-72 1h0m15 0h0m45 2h0m-215 2h0m222 0h0m-99 1h0m-1 2h0m51 0h0m4 1h0m52 0h0m-201 1h0m-38 1h0m33 0h0m167 0h0m21 0h0m-18 1h0m-199 1h0m188 0h0m1 0h0m-152 1h0m92 0h0m22 0h0m13 0h0m2 0h0m8 0h0m68 0h0m-140 1h0m82 0h0m8 1h0m-39 1h0m75 0h0m-216 1h0m142 0h0m1 0h0m21 1h0m-137 1h0m81 0h0m101 2h0m-201 1h0m140 1h0m88 0h0m-380 1h0m173 1h0m96 0h0m66 0h0m-329 1h0m244 0h0m123 0h0m-21 1h0m-99 1h0m73 0h0m-61 1h0m53 0h0m37 0h0m-62 1h0m45 0h0m-140 1h0m144 1h0m27 0h0m-365 1h0m75 0h0m3 0h0m236 0h0m58 0h0m-362 1h0m258 0h0m27 0h0m-310 1h0m266 0h0m33 0h0m-269 1h0m54 0h0m199 0h0m20 0h0m70 0h0m-14 1h0m-340 1h0m273 0h0m-68 1h0m111 0h0m-336 1h0m1 0h0m79 1h0m122 0h0m145 0h0m37 0h0m-381 1h0m6 0h0m8 0h0m189 0h0m64 0h0m30 0h0m-295 1h0m6 0h0m22 0h0m46 0h0m313 0h0m-367 1h0m5 0h0m247 0h0m103 0h0m-377 1h0m78 0h0m147 0h0m40 0h0m-263 1h0m68 0h0m134 0h0m189 0h0m-119 1h0m-14 1h0m21 1h0m-228 1h0m16 0h0m1 0h0m158 0h0m19 0h0m99 0h0m50 0h0m-374 1h0m24 0h0m4 0h0m289 0h0m-297 1h0m218 0h0m-185 1h0m181 0h0m19 0h0m53 0h0m29 0h0m-348 1h0m293 0h0m-233 1h0m20 0h0m9 0h0m173 0h0m66 0h0m-263 1h0m254 0h0m10 0h0m-308 1h0m262 0h0m-265 1h0m218 0h0m96 0h0m38 0h0m20 0h0m-362 1h0m18 0h0m173 0h0m92 0h0m23 0h0m47 0h0m-329 1h0m26 0h0m-48 1h0m37 0h0m-54 1h0m249 0h0m22 0h0m51 0h0m-348 1h0m49 0h0m10 0h0m252 0h0m-311 1h0m18 0h0m13 0h0m14 0h0m3 0h0m12 0h0m184 0h0m47 0h0m27 0h0m13 0h0m40 0h0m-362 1h0m0 0h0m2 0h0m8 0h0m33 0h0m10 0h0m288 0h0m17 0h0m23 0h0m12 0h0m-404 1h0m10 0h0m5 0h0m-9 1h0m47 0h0m232 0h0m82 0h0m16 0h0m-307 1h0m216 0h0m68 0h0m30 0h0m-337 1h0m7 0h0m-51 1h0m9 0h0m22 0h0m15 0h0m16 0h0m186 0h0m51 0h0m85 0h0m-353 1h0m5 0h0m6 0h0m321 0h0m-370 1h0m26 0h0m236 0h0m88 0h0m-344 1h0m1 0h0m9 0h0m3 0h0m15 0h0m7 0h0m250 0h0m12 0h0m26 0h0m41 0h0m8 0h0m-382 1h0m28 0h0m47 0h0m-58 1h0m36 0h0m284 0h0m46 0h0m-377 1h0m1 0h0m4 0h0m61 0h0m175 0h0m17 0h0m12 0h0m54 0h0m-288 1h0m11 0h0m275 0h0m44 0h0m1 0h0m22 0h0m2 0h0m-435 1h0m64 0h0m12 0h0m6 0h0m14 0h0m-9 1h0m15 0h0m6 0h0m184 0h0m130 0h0m5 0h0m-420 1h0m412 0h0m-424 1h0m0 0h0m23 0h0m52 0h0m38 0h0m257 0h0m58 0h0m-431 1h0m34 0h0m14 0h0m19 0h0m34 0h0m283 0h0m9 0h0m-384 1h0m296 0h0m7 0h0m21 0h0m70 0h0m-392 1h0m1 0h0m14 0h0m26 0h0m50 0h0m-99 1h0m24 0h0m14 0h0m26 0h0m31 0h0m199 0h0m-296 1h0m26 0h0m52 0h0m3 0h0m23 0h0m13 0h0m234 0h0m-361 1h0m25 0h0m40 0h0m11 0h0m11 0h0m19 0h0m235 0h0m-326 1h0m78 0h0m245 0h0m14 0h0m44 0h0m-396 1h0m37 0h0m320 0h0m9 0h0m-322 1h0m20 0h0m29 0h0m28 0h0m262 0h0m-350 1h0m36 0h0m3 0h0m240 0h0m78 0h0m37 0h0m-425 2h0m4 0h0m40 0h0m7 0h0m51 0h0m-78 1h0m15 0h0m59 0h0m212 0h0m-281 2h0m55 0h0m214 0h0m2 0h0m120 0h0m-397 1h0m8 0h0m297 0h0m98 0h0m-424 1h0m9 0h0m18 0h0m2 0h0m340 0h0m-364 1h0m68 0h0m219 0h0m-277 1h0m12 0h0m66 0h0m8 0h0m15 0h0m174 0h0m4 0h0m32 0h0m64 0h0m-381 1h0m11 0h0m344 0h0m51 0h0m-336 1h0m232 0h0m13 0h0m84 0h0m-56 1h0m4 0h0m-255 1h0m191 0h0m28 1h0m12 0h0m32 0h0m-268 1h0m236 0h0m5 1h0m77 0h0m-65 1h0m-47 1h0m62 0h0m54 0h0m-102 1h0m88 0h0m-69 1h0m9 0h0m53 0h0m-75 1h0m51 1h0m-45 1h0m56 0h0m-294 1h0m224 0h0m15 0h0m79 0h0m-47 1h0m0 0h0m12 0h0m16 0h0m-294 1h0m8 0h0m242 0h0m7 0h0m32 0h0m-84 1h0m79 0h0m-72 2h0m94 0h0m-42 1h0m-262 3h0m276 0h0m18 0h0m-84 2h0m93 1h0m3 0h0m-79 2h0m23 1h0m39 0h0m-58 4h0m45 1h0m-22 3h0m42 0h0m-70 1h0m39 0h0m21 0h0m-27 1h0m3 0h0m10 5h0m-37 2h0m23 0h0m-8 2h0m-22 3h0m1 0h0m11 0h0m20 2h0m-20 2h0m24 1h0" stroke="#B093E5"/><path d="M542 337h0" stroke="#CFCAD6"/><path d="M337 91h0m-11 4h0m-10 1h0m31 1h0m17 1h0m-41 3h0m30 0h0m-14 1h0m-1 1h0m-15 1h0m38 0h0m0 0h0m28 0h0m-71 1h0m3 0h0m68 0h0m-18 4h0m-33 1h0m45 1h0m0 0h0m2 0h0m6 3h0m-18 1h0m-53 1h0m11 2h0m45 1h0m2 0h0m-34 1h0m-25 1h0m49 0h0m16 0h0m7 2h0m-27 1h0m-46 1h0m45 1h0m24 1h0m-27 1h0m-41 2h0m71 0h0m-79 2h0m44 1h0m61 0h0m-48 1h0m11 1h0m30 1h0m-60 1h0m25 0h0m0 1h0m15 1h0m-53 2h0m28 0h0m9 0h0m-58 1h0m92 0h0m-49 1h0m-27 3h0m60 2h0m13 0h0m-58 1h0m-19 1h0m19 0h0m46 0h0m0 1h0m-3 1h0m-2 1h0m11 0h0m-5 1h0m-69 1h0m38 0h0m30 0h0m-70 2h0m-50 2h0m31 1h0m10 0h0m9 0h0m72 0h0m-1 1h0m-118 1h0m20 1h0m-46 1h0m32 0h0m-15 1h0m-7 2h0m-2 1h0m2 5h0m1 0h0m-29 1h0m8 3h0m-9 7h0m6 5h0m151 0h0m-166 15h0m4 1h0m-18 1h0m41 3h0m-38 1h0m33 0h0m-14 2h0m-13 1h0m9 0h0m14 1h0m4 5h0m-12 2h0m-18 1h0m-7 4h0m253 0h0m-6 1h0m-46 1h0m-32 1h0m26 0h0m24 0h0m-49 1h0m55 1h0m-187 3h0m0 0h0m-1 1h0m200 0h0m-191 5h0m2 3h0m222 2h0m1 0h0m-4 4h0m-14 8h0m-17 1h0m-12 1h0m21 2h0m-160 4h0m172 0h0m6 2h0m15 0h0m-4 14h0m-9 3h0m-33 2h0m46 2h0m-41 2h0m31 2h0m22 0h0m0 0h0m-29 1h0m15 3h0m-39 13h0m27 2h0m49 4h0m7 0h0m-68 2h0m54 0h0m0 2h0m-25 1h0m15 0h0m-25 4h0m30 2h0m-154 1h0m133 1h0m44 0h0m-187 3h0m114 0h0m10 1h0m48 0h0m-38 1h0m-171 1h0m222 0h0m-36 1h0m4 0h0m17 0h0m-205 1h0m141 0h0m31 1h0m-9 1h0m28 0h0m-177 1h0m219 0h0m2 0h0m-61 1h0m-159 1h0m7 0h0m-7 1h0m-12 1h0m32 0h0m79 0h0m122 0h0m-227 1h0m18 1h0m132 0h0m-32 1h0m-77 1h0m146 0h0m-172 1h0m88 0h0m9 1h0m44 0h0m-10 1h0m-25 1h0m94 0h0m-96 1h0m-85 1h0m61 1h0m101 0h0m-158 1h0m4 0h0m95 0h0m7 0h0m-118 1h0m10 0h0m102 0h0m-96 1h0m62 0h0m2 0h0m15 0h0m-81 1h0m68 1h0m12 0h0m85 0h0m32 0h0m-188 1h0m54 0h0m26 0h0m64 0h0m-65 1h0m18 0h0m-78 1h0m90 1h0m-106 1h0m50 0h0m34 0h0m7 0h0m19 0h0m-61 1h0m60 0h0m21 0h0m-97 1h0m-16 1h0m31 0h0m88 0h0m26 0h0m6 0h0m-314 1h0m255 0h0m7 1h0m36 0h0m-124 2h0m163 0h0m-168 1h0m83 0h0m38 0h0m-56 1h0m9 0h0m-24 1h0m7 0h0m102 0h0m-165 1h0m1 0h0m51 0h0m122 0h0m-128 1h0m67 0h0m11 0h0m2 0h0m-303 1h0m176 0h0m149 0h0m25 0h0m-26 2h0m-134 1h0m77 0h0m-88 1h0m1 0h0m28 0h0m-4 2h0m158 0h0m-321 1h0m162 0h0m43 0h0m20 0h0m44 0h0m12 0h0m35 0h0m-130 1h0m11 0h0m-52 1h0m15 1h0m93 0h0m-323 1h0m261 0h0m5 0h0m51 1h0m5 0h0m28 0h0m-79 1h0m64 0h0m39 1h0m4 1h0m-136 1h0m41 0h0m31 0h0m59 0h0m-152 1h0m33 0h0m22 0h0m11 0h0m-34 1h0m97 0h0m40 0h0m-356 1h0m257 0h0m-26 1h0m-280 1h0m280 0h0m84 0h0m-337 1h0m264 0h0m86 0h0m-331 2h0m334 0h0m-133 1h0m-202 1h0m259 0h0m-4 1h0m30 0h0m3 0h0m-274 1h0m201 0h0m10 0h0m24 0h0m68 0h0m24 0h0m11 0h0m-432 1h0m34 0h0m2 0h0m17 0h0m308 0h0m14 0h0m48 0h0m-130 1h0m-233 1h0m233 0h0m-262 1h0m47 1h0m-78 2h0m35 0h0m252 0h0m141 1h0m-447 1h0m306 0h0m72 0h0m58 0h0m-33 1h0m-377 1h0m282 0h0m9 0h0m124 1h0m-142 1h0m88 1h0m-54 2h0m4 0h0m39 0h0m44 0h0m11 0h0m-410 1h0m281 0h0m50 0h0m24 0h0m-291 1h0m220 0h0m60 0h0m-291 1h0m330 0h0m-95 1h0m2 0h0m54 0h0m-50 1h0m2 0h0m73 0h0m12 0h0m3 0h0m-31 1h0m4 0h0m28 0h0m-331 1h0m248 0h0m41 2h0m61 0h0m-112 2h0m3 0h0m25 0h0m-3 1h0m72 0h0m-116 1h0m61 0h0m13 4h0m1 1h0m28 0h0m-10 1h0m15 2h0m-110 4h0m19 0h0m18 0h0m25 0h0m13 0h0m-44 1h0m5 1h0m72 0h0m12 2h0m-94 2h0m21 0h0m13 0h0m-12 2h0m65 0h0m-44 1h0m42 1h0m-63 1h0m-29 1h0m50 1h0m-47 1h0m41 0h0m22 0h0m3 0h0m-61 2h0m1 1h0m4 1h0m36 0h0m-28 1h0m61 0h0m-60 2h0m36 0h0m1 0h0m-26 1h0m12 1h0m-10 1h0m-31 2h0m42 0h0m-7 1h0m14 0h0m4 2h0m8 0h0m-48 1h0m33 4h0m1 6h0m-2 3h0" stroke="#855BF2"/><path d="M354 92h0m0 2h0m-8 1h0m-12 4h0m11 0h0m25 0h0m10 0h0m-6 3h0m-35 2h0m9 0h0m-38 2h0m7 0h0m53 0h0m-16 1h0m25 0h0m-42 4h0m30 2h0m-28 2h0m-7 1h0m31 0h0m-29 1h0m41 0h0m-56 3h0m22 0h0m38 1h0m17 2h0m-46 1h0m31 1h0m-64 1h0m59 3h0m18 0h0m6 0h0m20 0h0m-93 1h0m73 0h0m-87 2h0m75 0h0m-51 1h0m11 0h0m-29 1h0m70 0h0m-43 1h0m74 3h0m3 0h0m-53 1h0m-60 1h0m13 0h0m65 1h0m-52 2h0m53 0h0m-38 1h0m11 0h0m-52 4h0m43 1h0m21 0h0m4 0h0m-69 1h0m85 1h0m2 0h0m3 0h0m0 1h0m-10 2h0m1 0h0m-35 1h0m-37 1h0m50 1h0m-118 1h0m61 0h0m38 0h0m-38 1h0m28 0h0m5 2h0m37 0h0m-132 1h0m146 0h0m-160 1h0m20 0h0m-17 2h0m35 1h0m83 0h0m-81 1h0m119 1h0m-121 1h0m-4 1h0m-9 3h0m114 1h0m-113 1h0m99 1h0m-111 2h0m8 0h0m-5 9h0m-20 1h0m11 5h0m-16 1h0m-21 4h0m18 1h0m11 0h0m-7 2h0m-12 2h0m164 1h0m-149 4h0m14 8h0m150 0h0m34 2h0m-225 4h0m25 0h0m-14 1h0m205 2h0m-215 1h0m216 0h0m9 0h0m-23 1h0m17 3h0m-189 1h0m199 2h0m-189 1h0m197 2h0m3 2h0m18 0h0m-220 1h0m206 0h0m-16 2h0m7 3h0m-173 4h0m5 0h0m189 0h0m-197 4h0m225 8h0m-210 1h0m188 1h0m2 8h0m-15 2h0m22 2h0m-23 1h0m1 1h0m-21 5h0m38 0h0m14 13h0m-32 2h0m10 2h0m-5 2h0m13 6h0m12 0h0m11 3h0m17 0h0m-19 2h0m16 1h0m10 1h0m8 0h0m1 1h0m-177 7h0m172 1h0m11 1h0m-65 1h0m-116 1h0m2 2h0m123 0h0m44 1h0m-170 1h0m138 0h0m17 0h0m-156 1h0m161 0h0m24 0h0m-34 1h0m29 1h0m-218 2h0m169 0h0m53 2h0m-98 1h0m24 0h0m7 0h0m18 0h0m-68 1h0m9 0h0m29 0h0m24 0h0m-48 1h0m108 0h0m-215 1h0m3 0h0m22 0h0m80 0h0m107 0h0m-116 1h0m129 1h0m-238 1h0m148 0h0m17 2h0m-143 1h0m1 1h0m119 0h0m16 0h0m7 0h0m2 0h0m30 0h0m13 0h0m-45 1h0m66 0h0m11 0h0m-220 1h0m109 0h0m14 0h0m-18 1h0m22 1h0m-109 1h0m6 0h0m63 0h0m100 0h0m-160 1h0m171 0h0m-207 1h0m28 0h0m65 0h0m-74 1h0m110 0h0m109 0h0m-130 1h0m0 0h0m15 1h0m15 1h0m72 1h0m14 0h0m-53 1h0m64 0h0m-117 1h0m113 0h0m3 0h0m-173 1h0m181 0h0m-146 2h0m98 0h0m32 0h0m3 0h0m-122 1h0m-67 1h0m20 0h0m125 0h0m23 0h0m-330 1h0m193 0h0m65 0h0m45 0h0m-249 1h0m127 0h0m157 1h0m-164 1h0m171 0h0m20 0h0m-134 1h0m74 0h0m5 0h0m-74 1h0m58 0h0m31 0h0m-11 1h0m-332 1h0m257 0h0m11 0h0m105 0h0m-14 1h0m4 1h0m-53 1h0m6 0h0m44 0h0m-5 1h0m-79 1h0m-27 1h0m85 0h0m-120 1h0m84 1h0m13 0h0m21 0h0m9 0h0m9 0h0m6 0h0m-283 1h0m175 0h0m66 0h0m-227 1h0m167 0h0m8 0h0m-189 1h0m159 0h0m-18 1h0m150 0h0m-363 1h0m84 0h0m170 0h0m43 1h0m7 0h0m-12 1h0m-285 1h0m209 0h0m32 0h0m57 1h0m-242 1h0m243 0h0m-65 1h0m2 0h0m78 0h0m-331 2h0m303 0h0m-66 1h0m46 0h0m77 0h0m-1 1h0m9 0h0m18 0h0m-107 1h0m80 0h0m-108 2h0m1 0h0m104 0h0m13 0h0m-89 1h0m74 0h0m6 0h0m-370 1h0m332 0h0m18 0h0m5 0h0m-100 1h0m98 0h0m-317 1h0m244 0h0m-276 1h0m299 0h0m23 0h0m56 1h0m-119 1h0m118 0h0m-13 1h0m16 0h0m-90 1h0m82 0h0m-23 2h0m-318 1h0m268 0h0m14 0h0m28 1h0m35 0h0m-132 1h0m108 0h0m-91 1h0m20 0h0m55 0h0m-37 1h0m8 0h0m1 0h0m34 0h0m32 1h0m-135 1h0m51 0h0m83 0h0m-94 1h0m101 0h0m-79 1h0m51 0h0m-24 1h0m-338 1h0m341 0h0m-283 1h0m253 0h0m20 0h0m-36 1h0m55 1h0m-329 1h0m365 0h0m-426 1h0m53 0h0m361 0h0m-67 1h0m56 1h0m20 0h0m-15 1h0m-95 1h0m-28 1h0m20 0h0m78 0h0m-85 2h0m16 1h0m-7 1h0m104 0h0m-53 1h0m19 0h0m15 0h0m-20 1h0m1 0h0m22 0h0m-110 2h0m46 0h0m-248 1h0m257 1h0m55 0h0m-19 1h0m3 0h0m-93 1h0m12 2h0m7 0h0m26 0h0m2 2h0m5 0h0m4 0h0m-37 1h0m5 0h0m15 0h0m30 0h0m-65 2h0m115 0h0m-71 2h0m1 0h0m16 0h0m-45 1h0m5 3h0m5 0h0m6 0h0m9 1h0m45 0h0m-61 1h0m41 0h0m-42 1h0m38 1h0m-14 5h0m18 0h0m29 3h0m-33 1h0m25 1h0m2 0h0m-65 1h0m62 1h0m-65 2h0m7 0h0m4 1h0m21 1h0m-6 1h0m21 0h0m-10 2h0m-6 1h0m26 2h0" stroke="#855BF2"/><path d="M340 88h0m-12 8h0m-2 2h0m63 0h0m-58 5h0m-11 1h0m53 1h0m-11 1h0m25 1h0m-69 2h0m55 2h0m-30 1h0m5 5h0m24 0h0m15 0h0m-18 2h0m14 5h0m-2 1h0m-4 1h0m24 2h0m-17 1h0m-67 1h0m55 3h0m-5 1h0m-12 1h0m24 2h0m-42 1h0m57 0h0m28 0h0m-44 1h0m11 0h0m28 2h0m-96 1h0m64 0h0m1 0h0m-11 4h0m-45 1h0m14 0h0m30 0h0m-67 1h0m1 2h0m49 0h0m-53 1h0m89 0h0m-83 2h0m81 0h0m-109 1h0m49 0h0m-48 1h0m27 0h0m-27 3h0m73 0h0m41 0h0m-46 1h0m34 1h0m-125 1h0m133 1h0m-135 1h0m4 0h0m20 0h0m-23 2h0m-24 1h0m27 3h0m10 0h0m11 1h0m-52 2h0m33 0h0m-30 1h0m-7 2h0m16 0h0m1 1h0m137 0h0m-122 1h0m116 1h0m1 1h0m-144 1h0m6 0h0m-25 1h0m0 4h0m36 4h0m-10 1h0m0 0h0m1 0h0m-26 1h0m35 1h0m3 0h0m-11 1h0m11 0h0m-8 1h0m145 3h0m-166 5h0m14 1h0m9 1h0m149 5h0m29 1h0m7 1h0m-3 3h0m-195 1h0m10 0h0m9 0h0m125 0h0m25 2h0m8 0h0m14 0h0m-23 1h0m-194 1h0m181 1h0m8 0h0m-4 1h0m39 1h0m-49 1h0m62 0h0m-223 1h0m17 0h0m185 0h0m-35 1h0m8 0h0m15 0h0m46 0h0m-233 1h0m167 0h0m-179 2h0m161 0h0m52 1h0m15 0h0m31 0h0m-1 1h0m-51 1h0m24 0h0m12 0h0m20 0h0m-106 1h0m7 1h0m92 0h0m8 0h0m-31 1h0m15 0h0m-40 1h0m6 0h0m29 0h0m1 1h0m-1 1h0m-79 1h0m80 1h0m3 0h0m-82 2h0m56 0h0m-172 1h0m202 0h0m-202 1h0m199 0h0m4 0h0m2 0h0m-19 2h0m5 1h0m-20 1h0m36 0h0m-36 2h0m47 0h0m0 2h0m-13 1h0m-7 1h0m20 2h0m-1 2h0m6 0h0m-36 2h0m36 2h0m-30 1h0m-8 3h0m-160 1h0m193 5h0m5 0h0m-22 6h0m1 1h0m-31 2h0m38 0h0m-19 1h0m-9 1h0m16 0h0m-21 1h0m29 1h0m-15 1h0m20 0h0m13 1h0m-15 7h0m15 3h0m-11 1h0m29 0h0m1 0h0m-55 2h0m42 0h0m-42 1h0m40 1h0m6 14h0m34 0h0m3 2h0m-183 3h0m146 3h0m-145 2h0m125 4h0m19 1h0m1 0h0m-24 1h0m36 0h0m36 0h0m1 1h0m-56 1h0m-10 3h0m21 0h0m-49 3h0m34 0h0m-53 1h0m90 0h0m3 0h0m-26 1h0m-155 1h0m202 1h0m-218 1h0m153 0h0m32 0h0m-79 4h0m49 1h0m14 0h0m39 0h0m-177 1h0m91 1h0m3 0h0m-259 4h0m269 0h0m92 1h0m4 2h0m-372 3h0m73 0h0m111 0h0m55 0h0m-227 1h0m254 0h0m-262 1h0m-11 1h0m77 0h0m-2 2h0m-56 1h0m12 0h0m178 0h0m28 0h0m26 0h0m115 0h0m-372 1h0m68 0h0m-63 1h0m239 1h0m-200 1h0m250 2h0m-76 1h0m-189 1h0m15 0h0m11 0h0m-46 1h0m306 0h0m-286 1h0m9 0h0m5 0h0m200 0h0m-258 1h0m352 0h0m-324 1h0m33 0h0m215 0h0m-267 1h0m3 0h0m4 0h0m37 0h0m10 0h0m263 0h0m-69 1h0m74 0h0m46 0h0m-361 1h0m68 0h0m225 0h0m23 0h0m-285 1h0m175 0h0m-211 1h0m204 0h0m45 0h0m65 0h0m-264 1h0m6 0h0m153 0h0m-217 1h0m253 0h0m-212 1h0m207 2h0m126 0h0m-373 1h0m309 0h0m-262 2h0m12 0h0m293 0h0m-304 1h0m21 0h0m223 1h0m-9 1h0m-259 1h0m277 0h0m16 0h0m-310 1h0m365 0h0m-326 2h0m-37 1h0m37 0h0m1 0h0m257 1h0m-297 1h0m294 1h0m72 0h0m2 0h0m-366 1h0m1 0h0m227 0h0m117 2h0m23 1h0m-417 1h0m75 0h0m236 0h0m-232 1h0m13 0h0m230 0h0m52 0h0m-335 2h0m38 1h0m3 0h0m9 1h0m216 1h0m-205 1h0m193 1h0m-253 1h0m62 1h0m280 0h0m-320 1h0m-83 1h0m65 0h0m47 1h0m1 3h0m313 1h0m-357 1h0m0 1h0m272 1h0m23 0h0m-360 1h0m84 0h0m266 0h0m21 0h0m-79 1h0m103 0h0m4 3h0m-298 3h0m254 0h0m-268 3h0m-12 1h0m29 0h0m209 0h0m56 0h0m36 1h0m-121 1h0m27 1h0m22 0h0m15 0h0m-29 1h0m67 0h0m-9 1h0m21 0h0m-42 1h0m-63 1h0m6 0h0m111 1h0m-115 2h0m11 2h0m-215 2h0m295 0h0m-58 1h0m-4 1h0m-21 3h0m27 0h0m-31 1h0m40 0h0m-38 1h0m69 1h0m27 0h0m-17 2h0m-53 1h0m-9 1h0m8 0h0m11 2h0m25 1h0m-4 2h0m-31 4h0m27 4h0m-20 1h0m27 0h0m-30 7h0" stroke="#D3D3D3"/><path d="M332 99h0m-110 125h0m270 65h0m-15 91h0m57 0h0m-72 3h0m-5 9h0m-22 38h0m100 5h0m-41 3h0m-8 13h0m-38 10h0m-13 5h0" stroke="#0000FF"/><path d="M322 91h0m17 0h0m24 4h0m-32 1h0m49 0h0m-57 1h0m50 2h0m-11 1h0m-33 1h0m12 0h0m5 0h0m-22 3h0m-12 2h0m6 4h0m40 1h0m8 2h0m-27 2h0m20 0h0m29 3h0m-57 1h0m56 2h0m6 2h0m-78 3h0m80 0h0m0 2h0m-27 1h0m-54 1h0m101 0h0m-97 1h0m93 0h0m-59 2h0m21 0h0m49 0h0m-111 2h0m62 0h0m-34 1h0m52 0h0m-59 2h0m63 1h0m-13 1h0m7 0h0m-62 3h0m85 1h0m9 0h0m5 0h0m-106 2h0m72 2h0m31 0h0m-77 3h0m-60 3h0m1 2h0m22 0h0m-65 2h0m137 1h0m-35 2h0m-95 2h0m7 0h0m16 2h0m117 0h0m3 0h0m-134 2h0m-1 1h0m-4 3h0m-27 1h0m-3 1h0m11 0h0m-6 1h0m15 0h0m-8 10h0m-8 6h0m-6 2h0m0 3h0m10 3h0m-11 2h0m-3 3h0m-1 1h0m30 0h0m-31 9h0m-5 2h0m2 0h0m-9 6h0m190 2h0m0 4h0m-163 3h0m216 1h0m6 4h0m19 6h0m-20 1h0m-191 1h0m187 0h0m-17 9h0m22 0h0m-18 2h0m8 2h0m23 0h0m16 0h0m-13 1h0m7 0h0m-34 5h0m0 0h0m20 4h0m22 2h0m-31 1h0m23 9h0m-16 3h0m0 6h0m28 0h0m-2 2h0m-34 2h0m16 1h0m2 5h0m6 1h0m28 1h0m-14 2h0m-42 1h0m10 2h0m26 2h0m8 0h0m28 4h0m-72 2h0m32 3h0m54 2h0m-17 1h0m-24 1h0m10 1h0m10 0h0m-10 1h0m28 1h0m-32 2h0m34 1h0m2 0h0m5 2h0m-61 1h0m26 0h0m-153 3h0m124 2h0m5 0h0m40 0h0m18 1h0m-27 1h0m2 0h0m-88 1h0m19 0h0m-22 1h0m127 0h0m-229 1h0m-13 2h0m119 0h0m26 0h0m48 0h0m37 0h0m-187 1h0m-15 1h0m155 0h0m-33 1h0m-121 1h0m154 0h0m-57 1h0m28 0h0m-113 1h0m129 0h0m-158 1h0m0 2h0m166 0h0m22 0h0m-184 1h0m15 0h0m-6 2h0m23 0h0m92 1h0m8 0h0m42 0h0m-144 2h0m4 0h0m131 0h0m-128 1h0m81 0h0m27 0h0m16 0h0m52 1h0m-184 1h0m73 0h0m32 1h0m76 0h0m10 0h0m-60 1h0m-14 1h0m73 1h0m-41 1h0m-253 1h0m7 0h0m207 0h0m16 0h0m37 0h0m29 0h0m15 0h0m-108 1h0m29 0h0m-52 1h0m9 1h0m24 0h0m63 0h0m-10 1h0m-313 2h0m56 0h0m130 0h0m-9 1h0m0 0h0m147 0h0m27 0h0m-300 1h0m146 0h0m134 0h0m-161 1h0m108 0h0m-270 1h0m185 0h0m-4 1h0m63 0h0m103 0h0m-366 1h0m223 0h0m78 0h0m-42 1h0m65 1h0m42 0h0m-89 1h0m-254 1h0m190 1h0m-222 1h0m26 0h0m189 0h0m146 0h0m-90 1h0m82 0h0m-314 1h0m272 0h0m68 0h0m-394 1h0m63 0h0m-49 1h0m-6 2h0m283 0h0m7 0h0m24 0h0m54 1h0m-290 1h0m-58 1h0m238 0h0m39 0h0m29 0h0m42 0h0m-356 1h0m302 0h0m83 1h0m-380 1h0m295 0h0m20 0h0m56 0h0m1 0h0m2 0h0m-161 1h0m53 0h0m0 0h0m-219 1h0m181 0h0m21 0h0m-266 1h0m253 0h0m-210 1h0m252 0h0m14 0h0m-259 1h0m11 1h0m255 0h0m-297 1h0m252 0h0m-219 1h0m214 0h0m-231 1h0m214 0h0m21 0h0m101 0h0m-318 2h0m249 1h0m4 0h0m0 0h0m-282 1h0m216 0h0m31 0h0m8 0h0m-288 1h0m37 0h0m31 0h0m224 1h0m-293 1h0m25 0h0m-64 1h0m74 0h0m239 0h0m9 0h0m94 0h0m-431 1h0m28 1h0m37 0h0m277 0h0m56 0h0m30 0h0m-395 1h0m270 0h0m39 0h0m43 0h0m39 0h0m1 0h0m-416 1h0m68 0h0m277 0h0m-313 1h0m80 0h0m239 0h0m33 0h0m42 0h0m-430 1h0m102 0h0m236 0h0m-285 1h0m248 0h0m95 0h0m-18 1h0m12 0h0m-45 1h0m-290 1h0m33 0h0m226 0h0m65 0h0m-390 1h0m32 0h0m8 0h0m66 0h0m323 0h0m-363 2h0m276 0h0m20 0h0m8 0h0m-324 1h0m61 0h0m251 0h0m43 0h0m2 0h0m17 0h0m-391 2h0m270 0h0m20 0h0m58 0h0m36 0h0m-327 2h0m33 0h0m-100 1h0m1 0h0m81 0h0m270 1h0m0 1h0m-291 1h0m14 0h0m207 1h0m-210 1h0m21 2h0m190 3h0m47 0h0m44 0h0m-300 1h0m262 1h0m8 0h0m52 0h0m-7 1h0m-314 2h0m290 0h0m22 0h0m4 0h0m12 1h0m-326 1h0m274 0h0m-58 1h0m12 2h0m78 0h0m-71 1h0m-230 2h0m0 0h0m202 0h0m48 0h0m13 0h0m-59 1h0m13 0h0m28 2h0m42 0h0m-72 5h0m51 0h0m38 0h0m-19 1h0m-29 2h0m9 2h0m-35 2h0m28 0h0m16 9h0m-29 1h0m4 1h0m9 1h0m3 10h0" stroke="#9D77EC"/><path d="M382 100h0m-57 12h0m23 30h0m-18 2h0m62 3h0m-155 44h0m231 94h0m24 58h0m-75 9h0m134 3h0m-43 10h0m-56 10h0m10 5h0m-27 2h0m81 0h0m-2 9h0m-38 3h0m86 6h0m-98 4h0m-6 8h0m11 9h0m-33 1h0m99 3h0m-118 3h0m47 2h0m-265 21h0m316 8h0m-53 7h0" stroke="#3318FD"/><path d="M375 95h0m-1 2h0m-23 1h0m-18 7h0m30 10h0m-37 5h0m37 2h0m-5 1h0m18 0h0m-59 3h0m11 1h0m-14 2h0m80 0h0m-83 2h0m68 5h0m-67 1h0m18 1h0m78 0h0m-78 4h0m-8 2h0m19 0h0m36 1h0m-39 4h0m80 1h0m-89 2h0m81 0h0m-50 1h0m10 0h0m46 0h0m-83 1h0m29 0h0m33 2h0m-121 2h0m2 0h0m30 0h0m89 0h0m-123 1h0m7 0h0m109 0h0m-124 1h0m124 0h0m-142 1h0m145 0h0m-52 1h0m-61 2h0m111 0h0m-153 1h0m28 0h0m-31 1h0m10 0h0m31 0h0m-44 2h0m6 1h0m33 0h0m1 0h0m103 0h0m2 0h0m-112 3h0m109 0h0m-139 1h0m22 1h0m129 5h0m-148 4h0m1 0h0m8 0h0m-26 1h0m0 2h0m12 2h0m-6 2h0m25 0h0m-11 2h0m-32 1h0m38 0h0m140 1h0m10 0h0m-158 1h0m157 0h0m-185 1h0m41 0h0m147 0h0m-160 2h0m-26 1h0m35 0h0m139 0h0m-164 1h0m160 0h0m-169 1h0m5 1h0m12 2h0m3 0h0m155 0h0m6 0h0m-3 3h0m9 1h0m-162 2h0m-33 1h0m229 2h0m-35 1h0m-159 1h0m148 0h0m21 0h0m-207 1h0m184 0h0m-174 1h0m13 0h0m2 0h0m14 0h0m167 0h0m12 0h0m11 1h0m-184 1h0m175 1h0m0 0h0m-183 2h0m182 0h0m5 0h0m-48 1h0m7 0h0m66 0h0m-58 1h0m-141 1h0m198 0h0m-39 1h0m-201 1h0m27 0h0m146 0h0m42 0h0m33 0h0m-215 2h0m140 0h0m81 0h0m-17 1h0m-61 1h0m50 0h0m3 0h0m-10 1h0m34 0h0m10 0h0m-43 1h0m-12 1h0m9 0h0m26 1h0m-19 2h0m4 0h0m-1 1h0m6 0h0m-15 1h0m13 0h0m17 0h0m-1 2h0m4 1h0m-8 2h0m-8 2h0m-3 1h0m8 0h0m17 1h0m-196 5h0m169 0h0m10 0h0m34 2h0m-30 2h0m-169 4h0m153 0h0m-165 2h0m200 0h0m6 1h0m-189 2h0m174 0h0m17 2h0m4 0h0m-9 1h0m-2 1h0m4 0h0m1 1h0m-18 4h0m3 0h0m11 0h0m4 0h0m-15 1h0m-3 1h0m11 1h0m-13 1h0m4 4h0m6 1h0m2 0h0m11 1h0m-40 2h0m35 0h0m-7 1h0m-16 4h0m37 1h0m-40 2h0m25 0h0m17 2h0m4 0h0m-46 3h0m62 0h0m-14 8h0m25 3h0m-38 4h0m-26 1h0m29 7h0m-2 1h0m50 0h0m-56 1h0m23 0h0m-39 3h0m77 0h0m-44 1h0m18 0h0m17 3h0m-10 3h0m-59 2h0m14 0h0m12 0h0m51 1h0m-219 5h0m1 0h0m211 0h0m-204 1h0m-12 1h0m210 1h0m-72 1h0m45 0h0m41 0h0m-98 1h0m83 0h0m17 2h0m-97 1h0m106 1h0m-382 1h0m266 0h0m16 0h0m19 0h0m-289 1h0m364 0h0m-375 1h0m361 0h0m-363 1h0m335 0h0m-66 1h0m6 0h0m45 1h0m-290 1h0m-17 2h0m202 0h0m127 1h0m38 0h0m13 0h0m-313 2h0m225 0h0m30 1h0m-298 1h0m194 0h0m-198 1h0m58 0h0m258 0h0m-349 1h0m33 0h0m231 1h0m-241 1h0m63 0h0m171 0h0m86 0h0m-266 1h0m148 0h0m1 0h0m45 1h0m109 0h0m-51 1h0m-320 1h0m319 0h0m-290 1h0m43 1h0m-47 1h0m41 0h0m242 0h0m-320 1h0m82 0h0m139 0h0m-199 1h0m56 0h0m200 0h0m-196 1h0m275 0h0m32 0h0m-371 1h0m299 0h0m-251 1h0m3 0h0m297 0h0m-365 1h0m39 0h0m42 0h0m-70 1h0m59 0h0m196 1h0m-247 1h0m56 0h0m280 1h0m35 0h0m-362 2h0m47 0h0m190 1h0m30 0h0m-274 1h0m30 0h0m-29 1h0m362 1h0m-106 1h0m121 0h0m-403 1h0m401 0h0m-382 1h0m-4 1h0m48 0h0m-87 1h0m408 1h0m-326 1h0m4 0h0m216 0h0m111 0h0m-386 2h0m70 0h0m307 0h0m-108 2h0m-266 1h0m312 0h0m33 1h0m-339 2h0m255 0h0m111 0h0m-372 2h0m307 0h0m10 0h0m65 0h0m-371 1h0m49 0h0m-90 1h0m317 1h0m3 0h0m-293 1h0m291 0h0m-309 1h0m323 0h0m-297 1h0m304 0h0m6 1h0m7 0h0m22 2h0m-24 1h0m-366 3h0m411 0h0m-319 1h0m1 0h0m324 0h0m-88 1h0m-258 1h0m15 0h0m19 0h0m314 0h0m-342 2h0m16 0h0m275 0h0m-19 2h0m-248 1h0m315 0h0m-131 1h0m124 0h0m-47 1h0m-295 1h0m214 0h0m17 0h0m3 0h0m67 0h0m-299 1h0m23 0h0m246 0h0m-16 1h0m-235 1h0m6 0h0m2 0h0m197 0h0m41 0h0m80 0h0m-323 1h0m268 0h0m27 0h0m22 3h0m-318 4h0m4 0h0m269 0h0m-44 1h0m-229 5h0m300 8h0m-41 3h0m20 0h0m1 0h0m-18 3h0m22 2h0m-22 6h0m2 4h0" stroke="#D3D3D3"/><path d="M385 96h0m4 6h0m-36 1h0m-16 4h0m-19 2h0m27 0h0m-17 2h0m7 0h0m-4 1h0m41 0h0m-49 1h0m18 2h0m7 0h0m-33 2h0m3 6h0m24 3h0m-15 2h0m85 1h0m-78 1h0m47 0h0m-44 4h0m1 0h0m76 0h0m-87 3h0m52 0h0m-52 1h0m43 3h0m-29 3h0m36 0h0m-76 3h0m61 0h0m-48 1h0m-13 1h0m12 2h0m31 0h0m-26 1h0m-17 2h0m7 0h0m29 0h0m-49 2h0m27 0h0m-51 3h0m43 0h0m44 3h0m26 0h0m-92 1h0m-47 1h0m22 0h0m1 0h0m23 1h0m51 0h0m49 1h0m-117 2h0m109 1h0m-122 1h0m11 1h0m110 0h0m-5 2h0m16 0h0m-20 3h0m8 0h0m14 0h0m-149 2h0m-21 1h0m159 1h0m15 0h0m-14 2h0m1 0h0m12 0h0m-165 1h0m10 0h0m-25 2h0m171 0h0m-127 1h0m-28 2h0m12 4h0m16 0h0m138 0h0m-166 1h0m-17 3h0m15 1h0m152 1h0m-134 2h0m139 1h0m-2 3h0m20 2h0m-154 1h0m137 0h0m13 1h0m10 0h0m-28 1h0m-145 1h0m-12 3h0m15 1h0m149 1h0m47 1h0m-53 1h0m-167 1h0m208 0h0m-191 1h0m1 0h0m0 1h0m156 1h0m37 0h0m-43 1h0m-174 1h0m8 0h0m170 0h0m1 0h0m7 0h0m40 0h0m19 0h0m8 0h0m-57 1h0m51 0h0m-37 1h0m-34 1h0m49 0h0m-56 2h0m87 0h0m-260 1h0m181 0h0m78 0h0m-17 1h0m17 0h0m-257 1h0m243 0h0m-73 1h0m7 0h0m58 0h0m2 0h0m-39 1h0m-156 1h0m228 0h0m-228 1h0m204 4h0m-192 1h0m206 0h0m-23 3h0m5 0h0m19 2h0m0 1h0m4 0h0m10 0h0m-210 1h0m192 0h0m0 0h0m13 0h0m-209 1h0m192 1h0m-8 4h0m-10 1h0m4 0h0m18 1h0m-175 6h0m148 1h0m37 0h0m-14 1h0m8 1h0m-20 1h0m9 1h0m23 0h0m-17 1h0m27 3h0m-23 1h0m5 1h0m12 1h0m-24 8h0m-11 2h0m41 0h0m-10 2h0m0 0h0m-43 1h0m44 8h0m32 9h0m-31 3h0m25 0h0m-28 5h0m26 1h0m18 4h0m-61 3h0m8 0h0m65 0h0m5 0h0m-68 2h0m7 1h0m3 1h0m2 0h0m47 1h0m-30 4h0m3 2h0m-154 4h0m5 0h0m-33 1h0m29 4h0m96 1h0m28 0h0m2 0h0m-134 2h0m148 0h0m40 2h0m-183 1h0m74 2h0m4 1h0m116 0h0m-61 1h0m22 0h0m-73 1h0m117 0h0m-370 1h0m347 0h0m37 0h0m-65 5h0m-54 1h0m67 0h0m-247 1h0m7 1h0m-7 1h0m236 0h0m-325 1h0m385 0h0m-299 1h0m-66 2h0m11 0h0m179 0h0m62 0h0m-268 1h0m47 0h0m5 0h0m209 0h0m74 0h0m-310 1h0m222 0h0m-174 1h0m-58 1h0m59 0h0m148 0h0m21 0h0m77 0h0m-317 1h0m207 0h0m-210 1h0m218 0h0m12 0h0m19 0h0m36 0h0m7 0h0m84 0h0m-340 1h0m1 0h0m292 0h0m29 0h0m27 0h0m-372 1h0m-16 1h0m76 0h0m225 0h0m-228 1h0m2 0h0m223 0h0m-272 1h0m55 0h0m187 0h0m11 0h0m-250 1h0m11 0h0m13 0h0m254 0h0m-296 1h0m19 0h0m46 0h0m313 0h0m-346 2h0m201 0h0m155 1h0m-361 2h0m176 0h0m16 0h0m153 0h0m-376 1h0m47 0h0m21 0h0m17 0h0m214 0h0m43 0h0m-107 1h0m78 1h0m-238 2h0m-54 1h0m358 0h0m-319 1h0m16 0h0m-88 1h0m309 0h0m14 0h0m79 0h0m-329 1h0m3 0h0m-73 1h0m395 0h0m-346 2h0m11 0h0m2 0h0m234 2h0m59 0h0m-21 1h0m-332 2h0m296 0h0m74 0h0m5 0h0m14 1h0m-365 1h0m18 0h0m-76 1h0m26 0h0m307 0h0m-283 1h0m19 0h0m16 0h0m197 0h0m-224 1h0m8 0h0m7 0h0m301 0h0m38 0h0m-386 1h0m312 0h0m-261 1h0m7 1h0m-57 1h0m334 0h0m-330 1h0m58 1h0m280 0h0m53 1h0m-67 1h0m52 1h0m13 0h0m-34 1h0m13 0h0m-29 1h0m-321 1h0m294 0h0m-254 1h0m271 0h0m45 0h0m-323 1h0m9 1h0m179 0h0m123 0h0m-119 1h0m56 1h0m-271 1h0m262 0h0m40 1h0m-77 1h0m50 0h0m-292 1h0m38 0h0m188 0h0m58 1h0m-341 2h0m386 0h0m-322 1h0m25 0h0m228 1h0m-247 1h0m3 0h0m225 0h0m-231 1h0m282 1h0m58 1h0m-4 2h0m-336 1h0m282 1h0m-18 1h0m-250 4h0m256 0h0m-259 3h0m208 1h0m67 1h0m-22 2h0m8 0h0m-35 2h0m60 1h0m-278 2h0m269 1h0m42 0h0m-107 1h0m27 2h0m64 0h0m-80 1h0m43 0h0m34 0h0m-49 2h0m10 1h0m-32 10h0m-1 4h0m15 2h0m23 1h0m21 1h0m-31 6h0" stroke="#D3D3D3"/><path d="M355 92h0m36 5h0m-6 1h0m-2 1h0m-35 2h0m-39 3h0m43 0h0m27 5h0m-27 1h0m-30 1h0m55 5h0m-16 2h0m-47 1h0m3 0h0m18 0h0m25 0h0m-12 1h0m-15 1h0m29 2h0m-34 2h0m45 1h0m11 0h0m-70 1h0m68 1h0m-28 1h0m-36 1h0m94 0h0m-79 2h0m39 0h0m11 1h0m9 2h0m-36 1h0m11 0h0m17 1h0m-22 1h0m0 0h0m69 0h0m-100 1h0m18 1h0m-9 2h0m44 0h0m33 1h0m-92 1h0m9 1h0m21 0h0m0 0h0m-11 2h0m-11 1h0m-18 1h0m7 0h0m25 1h0m3 0h0m61 0h0m-70 1h0m21 0h0m-33 1h0m30 0h0m-86 3h0m28 0h0m21 0h0m26 0h0m-71 1h0m9 2h0m92 0h0m-68 1h0m2 0h0m27 0h0m-46 2h0m-8 1h0m71 0h0m26 0h0m-94 2h0m-39 1h0m5 0h0m0 0h0m-14 1h0m6 0h0m2 1h0m5 0h0m8 0h0m114 1h0m4 2h0m3 0h0m-151 2h0m42 0h0m-29 3h0m-4 1h0m134 2h0m-110 1h0m117 0h0m-164 2h0m15 1h0m27 0h0m115 2h0m-146 1h0m1 3h0m24 0h0m130 0h0m-166 1h0m28 2h0m-15 3h0m146 0h0m-129 1h0m141 1h0m-176 1h0m17 1h0m16 2h0m-2 2h0m139 3h0m21 1h0m-14 1h0m-15 1h0m2 0h0m-150 1h0m-8 1h0m187 0h0m5 1h0m-5 2h0m3 1h0m0 0h0m-8 2h0m-167 1h0m165 0h0m-187 4h0m226 1h0m-55 1h0m16 1h0m46 0h0m11 1h0m-30 2h0m37 0h0m-39 1h0m12 0h0m7 0h0m-68 1h0m-140 1h0m204 0h0m31 0h0m-83 1h0m45 0h0m10 0h0m-57 1h0m48 0h0m10 0h0m33 0h0m-100 1h0m-126 1h0m4 0h0m174 1h0m6 0h0m42 0h0m-7 1h0m1 0h0m-43 1h0m39 0h0m-212 1h0m168 1h0m5 1h0m42 0h0m-34 2h0m11 0h0m16 0h0m8 0h0m13 1h0m-44 1h0m2 0h0m1 0h0m6 0h0m27 0h0m-54 1h0m8 2h0m13 0h0m37 0h0m2 0h0m-29 2h0m11 0h0m-23 1h0m-174 1h0m7 0h0m181 2h0m13 0h0m-24 1h0m14 1h0m0 1h0m-184 1h0m168 0h0m32 3h0m-14 1h0m18 1h0m-26 1h0m10 0h0m4 3h0m-1 2h0m1 0h0m-180 1h0m2 0h0m164 0h0m41 0h0m-21 2h0m15 3h0m-24 2h0m29 0h0m-34 6h0m34 1h0m-9 4h0m-23 1h0m12 5h0m-2 1h0m16 8h0m-6 2h0m-20 5h0m34 1h0m29 6h0m3 1h0m5 0h0m-9 1h0m-28 1h0m0 1h0m-146 1h0m8 0h0m133 1h0m49 3h0m-82 1h0m36 1h0m-6 1h0m56 1h0m1 1h0m-41 3h0m-25 1h0m-35 1h0m-129 2h0m151 1h0m85 0h0m-58 1h0m-15 1h0m-51 2h0m55 0h0m-29 1h0m0 0h0m15 0h0m-131 1h0m190 1h0m-88 2h0m60 1h0m32 0h0m13 2h0m-86 2h0m4 1h0m-42 2h0m141 0h0m-52 1h0m-25 1h0m-293 1h0m226 0h0m16 2h0m44 0h0m26 0h0m52 0h0m-357 1h0m-12 2h0m1 1h0m335 0h0m-157 1h0m-173 1h0m237 0h0m-236 1h0m190 0h0m22 1h0m160 0h0m-381 1h0m24 0h0m22 0h0m29 0h0m-75 1h0m71 0h0m174 0h0m-228 1h0m230 0h0m52 0h0m-306 1h0m382 0h0m-381 2h0m13 0h0m214 0h0m-165 2h0m256 0h0m-315 1h0m219 0h0m108 0h0m-275 1h0m5 0h0m223 1h0m-226 1h0m12 0h0m263 1h0m-316 1h0m41 0h0m35 0h0m265 0h0m-352 1h0m30 0h0m-40 1h0m45 0h0m288 0h0m-332 1h0m317 0h0m-43 2h0m1 1h0m-198 1h0m5 2h0m197 0h0m-256 1h0m15 1h0m-32 2h0m240 0h0m-228 1h0m247 2h0m-243 1h0m1 0h0m19 0h0m1 1h0m304 0h0m-332 3h0m34 0h0m262 0h0m23 0h0m-337 3h0m52 0h0m297 0h0m34 0h0m-386 1h0m393 1h0m-58 1h0m-269 1h0m224 0h0m-325 1h0m29 0h0m23 0h0m250 0h0m-299 1h0m49 0h0m42 0h0m241 3h0m7 1h0m-280 1h0m251 0h0m15 0h0m-341 1h0m99 0h0m204 0h0m129 0h0m-143 1h0m112 0h0m-338 2h0m28 0h0m17 0h0m2 0h0m242 0h0m-23 3h0m-281 1h0m27 0h0m22 1h0m329 1h0m-428 1h0m112 1h0m-13 2h0m309 1h0m-332 1h0m307 0h0m-77 1h0m-198 1h0m310 1h0m-332 1h0m309 0h0m-106 1h0m-184 2h0m192 0h0m74 0h0m-50 5h0m-26 1h0m89 3h0m-26 3h0m-51 1h0m31 5h0m4 0h0m-4 1h0m23 0h0m-52 1h0m75 0h0m-28 2h0m-14 6h0m15 0h0m-1 2h0m-41 4h0m16 0h0m14 2h0m-10 1h0m36 1h0m-19 1h0m-29 1h0m32 1h0m5 1h0" stroke="#D3D3D3"/><path d="M324 96h0m7 6h0m55 2h0m-40 2h0m8 2h0m-4 3h0m25 1h0m-22 5h0m35 4h0m-80 1h0m71 0h0m-1 3h0m13 1h0m-10 1h0m-53 5h0m29 1h0m63 0h0m-83 3h0m29 0h0m33 1h0m-90 2h0m-2 2h0m24 0h0m-20 1h0m68 1h0m-53 1h0m-16 1h0m74 0h0m-74 1h0m66 0h0m-27 2h0m-47 1h0m1 0h0m5 1h0m-4 1h0m6 0h0m22 0h0m28 0h0m54 0h0m-89 2h0m63 1h0m-90 1h0m109 0h0m-129 1h0m31 0h0m-69 2h0m155 0h0m-90 1h0m53 0h0m-42 1h0m74 0h0m-128 1h0m-24 2h0m8 0h0m15 0h0m98 0h0m16 0h0m-123 1h0m-14 2h0m12 1h0m4 4h0m128 0h0m-150 1h0m28 0h0m0 1h0m-37 1h0m152 0h0m2 0h0m12 0h0m0 1h0m-169 1h0m7 1h0m-7 1h0m31 0h0m6 0h0m120 0h0m10 1h0m4 1h0m-178 2h0m162 1h0m-123 3h0m137 3h0m-174 1h0m14 0h0m13 0h0m-19 1h0m159 1h0m4 0h0m-181 1h0m177 1h0m-161 3h0m176 0h0m-151 3h0m132 1h0m-139 2h0m8 0h0m-28 7h0m162 0h0m5 0h0m-168 2h0m188 1h0m-168 2h0m143 0h0m28 2h0m-175 1h0m190 0h0m-32 1h0m7 0h0m38 0h0m-14 1h0m-201 1h0m166 0h0m34 0h0m-180 1h0m-28 1h0m22 0h0m-1 1h0m154 2h0m63 0h0m-220 1h0m4 0h0m193 0h0m47 3h0m-2 1h0m-38 1h0m-10 2h0m10 0h0m25 0h0m-209 1h0m122 0h0m49 0h0m53 0h0m-96 2h0m68 0h0m-194 2h0m176 0h0m47 0h0m0 0h0m-229 1h0m195 1h0m-178 3h0m198 0h0m-27 8h0m14 6h0m23 0h0m4 0h0m-200 1h0m2 3h0m166 2h0m15 0h0m17 1h0m-35 3h0m42 1h0m-30 1h0m26 1h0m-24 2h0m0 3h0m-9 1h0m22 0h0m-8 2h0m19 1h0m-43 1h0m8 0h0m-2 3h0m37 0h0m-34 4h0m21 0h0m-20 3h0m51 0h0m-57 1h0m64 2h0m-5 3h0m-26 3h0m11 1h0m-7 1h0m19 0h0m-34 12h0m59 0h0m7 0h0m-13 1h0m-57 4h0m50 3h0m31 1h0m-29 2h0m-11 1h0m-18 2h0m58 0h0m8 0h0m-63 1h0m52 0h0m6 0h0m-29 6h0m-205 1h0m112 1h0m85 0h0m5 3h0m-165 1h0m95 0h0m67 0h0m4 0h0m-63 2h0m9 1h0m29 1h0m10 0h0m22 2h0m-96 1h0m96 1h0m-62 1h0m97 1h0m-131 1h0m-97 1h0m132 0h0m66 0h0m-34 1h0m-311 1h0m184 0h0m53 2h0m36 0h0m-273 1h0m82 0h0m-70 1h0m353 0h0m18 0h0m-113 2h0m54 0h0m20 0h0m8 0h0m-323 1h0m55 0h0m-70 1h0m69 0h0m236 0h0m39 0h0m-333 1h0m255 0h0m89 0h0m9 0h0m-302 1h0m258 0h0m-6 2h0m40 0h0m-353 1h0m365 1h0m-78 1h0m38 0h0m-341 1h0m81 0h0m225 0h0m-293 1h0m7 0h0m29 0h0m-18 1h0m4 0h0m286 0h0m-320 1h0m46 0h0m22 0h0m224 0h0m-289 1h0m355 0h0m-347 2h0m268 0h0m-227 2h0m13 0h0m261 0h0m-272 1h0m209 0h0m33 0h0m-286 1h0m39 0h0m236 0h0m17 0h0m-260 1h0m16 0h0m-9 1h0m10 0h0m314 0h0m-330 1h0m306 0h0m-311 1h0m14 1h0m-60 2h0m53 1h0m340 0h0m-336 1h0m-23 1h0m291 0h0m-8 1h0m14 0h0m-304 1h0m215 0h0m-167 2h0m204 0h0m-243 1h0m335 0h0m-347 1h0m246 0h0m-304 1h0m42 0h0m6 0h0m231 1h0m61 0h0m13 0h0m64 0h0m-416 1h0m53 0h0m42 0h0m310 0h0m-62 2h0m-315 1h0m284 1h0m99 0h0m-376 1h0m313 0h0m0 0h0m-322 1h0m322 0h0m-299 1h0m36 0h0m235 0h0m19 0h0m-313 1h0m5 0h0m72 0h0m210 0h0m98 0h0m6 0h0m-353 1h0m27 0h0m-15 1h0m254 0h0m24 0h0m61 0h0m-413 1h0m6 1h0m404 0h0m-101 1h0m-331 1h0m331 0h0m-22 2h0m1 1h0m-206 1h0m275 0h0m-44 1h0m-283 1h0m284 0h0m-234 1h0m297 0h0m-40 1h0m-290 1h0m30 0h0m268 0h0m-277 1h0m10 1h0m206 1h0m-237 1h0m316 0h0m34 0h0m-421 1h0m350 1h0m-258 2h0m217 1h0m14 0h0m7 0h0m56 2h0m-18 1h0m-28 2h0m-52 1h0m15 0h0m119 0h0m-133 1h0m39 0h0m31 0h0m16 1h0m-275 3h0m277 0h0m30 0h0m-323 1h0m214 1h0m105 0h0m-75 4h0m18 0h0m51 0h0m9 2h0m-80 3h0m79 0h0m-317 1h0m231 6h0m26 1h0m7 0h0m-15 1h0m42 0h0m-67 3h0m32 3h0m41 1h0m-13 1h0m12 0h0m-11 3h0m-1 1h0m-47 2h0m42 7h0m-11 5h0" stroke="#D3D3D3"/><path d="M356 89h0m-40 8h0m4 3h0m58 0h0m6 1h0m-3 1h0m-9 4h0m-41 1h0m60 4h0m-67 1h0m4 2h0m10 4h0m-22 1h0m5 0h0m36 5h0m-16 3h0m-18 1h0m77 0h0m-77 2h0m-5 1h0m93 0h0m-96 2h0m15 0h0m82 1h0m-38 1h0m23 0h0m4 1h0m-61 1h0m54 0h0m18 1h0m1 0h0m11 1h0m-22 1h0m11 0h0m12 0h0m-112 1h0m69 0h0m18 0h0m8 0h0m9 1h0m-65 1h0m1 0h0m60 0h0m-2 1h0m0 0h0m-63 1h0m64 1h0m-22 2h0m2 1h0m10 1h0m-8 3h0m18 2h0m-4 1h0m-96 1h0m43 0h0m58 0h0m-2 1h0m-150 7h0m129 1h0m-123 3h0m-33 1h0m94 0h0m-83 3h0m3 2h0m-4 1h0m-8 7h0m10 2h0m-23 3h0m3 15h0m4 0h0m-11 1h0m13 5h0m-23 2h0m36 5h0m-20 2h0m197 1h0m-194 2h0m174 0h0m-191 1h0m33 0h0m-11 1h0m-12 3h0m197 5h0m-177 2h0m231 0h0m1 0h0m-217 5h0m-4 1h0m193 1h0m-2 18h0m-1 19h0m32 1h0m-41 2h0m33 4h0m-30 2h0m19 1h0m29 1h0m0 0h0m11 0h0m-23 1h0m-15 3h0m53 5h0m-14 1h0m-13 1h0m14 10h0m25 4h0m-73 1h0m42 1h0m1 0h0m14 0h0m23 0h0m-57 1h0m29 0h0m-14 3h0m29 0h0m-43 6h0m18 0h0m-14 3h0m50 0h0m-34 1h0m4 2h0m39 1h0m-14 3h0m13 1h0m-221 1h0m177 1h0m-63 1h0m28 2h0m-29 1h0m33 0h0m93 0h0m-213 1h0m145 0h0m21 0h0m-70 1h0m98 0h0m4 3h0m-204 1h0m186 0h0m21 1h0m-213 2h0m226 2h0m6 0h0m-83 1h0m-290 1h0m316 0h0m-59 1h0m17 1h0m-20 2h0m38 0h0m-310 2h0m312 0h0m-283 2h0m3 0h0m328 0h0m-132 1h0m91 0h0m39 0h0m2 0h0m20 0h0m-50 1h0m58 0h0m3 0h0m-160 1h0m-25 1h0m24 1h0m31 0h0m101 0h0m-157 1h0m142 0h0m36 0h0m-349 1h0m168 0h0m43 0h0m143 0h0m-340 1h0m151 0h0m167 0h0m-313 1h0m167 0h0m159 0h0m-112 1h0m4 0h0m-214 1h0m14 0h0m278 0h0m23 0h0m-365 1h0m27 0h0m11 0h0m302 0h0m-316 1h0m243 0h0m106 1h0m-379 1h0m8 0h0m227 0h0m140 0h0m-362 1h0m9 1h0m254 0h0m32 0h0m-251 1h0m304 0h0m31 0h0m-392 1h0m30 0h0m60 0h0m142 0h0m168 0h0m-161 1h0m-238 1h0m285 0h0m-265 1h0m10 0h0m68 0h0m293 0h0m-305 1h0m312 0h0m-161 1h0m38 0h0m-248 1h0m54 0h0m-51 1h0m221 0h0m133 0h0m-367 1h0m213 0h0m31 0h0m-224 1h0m-39 1h0m55 0h0m5 1h0m21 0h0m241 0h0m67 0h0m-56 1h0m21 0h0m1 0h0m-42 1h0m61 0h0m-123 1h0m-225 1h0m2 0h0m349 0h0m-381 1h0m70 0h0m261 0h0m58 0h0m-383 1h0m11 0h0m17 0h0m-11 1h0m3 0h0m5 0h0m262 0h0m90 0h0m-364 1h0m252 0h0m53 0h0m25 0h0m-319 2h0m236 0h0m-269 1h0m36 0h0m272 0h0m46 1h0m1 0h0m-330 1h0m14 0h0m-25 1h0m38 0h0m217 0h0m25 0h0m68 0h0m9 0h0m-316 1h0m237 0h0m86 0h0m-367 1h0m287 0h0m4 0h0m89 0h0m-423 1h0m23 0h0m46 0h0m-70 1h0m72 0h0m25 0h0m261 0h0m26 0h0m-327 1h0m312 0h0m-375 1h0m19 0h0m59 0h0m215 0h0m106 0h0m-403 1h0m34 0h0m5 0h0m2 0h0m0 0h0m52 0h0m276 0h0m-328 1h0m57 0h0m11 0h0m-107 1h0m50 0h0m35 0h0m319 0h0m-404 1h0m45 0h0m8 0h0m23 0h0m33 0h0m193 0h0m44 0h0m11 0h0m-356 1h0m4 0h0m24 0h0m22 0h0m357 0h0m-373 1h0m16 0h0m7 0h0m371 0h0m-407 1h0m27 0h0m7 0h0m29 0h0m6 0h0m257 0h0m9 0h0m7 0h0m49 0h0m-400 1h0m279 0h0m19 0h0m48 0h0m28 0h0m44 0h0m-428 1h0m12 0h0m35 0h0m306 0h0m7 0h0m58 0h0m-389 1h0m4 0h0m378 0h0m-386 1h0m-36 1h0m38 0h0m39 0h0m-51 1h0m6 0h0m2 0h0m58 0h0m252 0h0m42 0h0m-369 1h0m75 0h0m235 0h0m-303 1h0m4 0h0m59 0h0m237 0h0m44 0h0m59 0h0m-349 1h0m1 0h0m224 0h0m11 0h0m111 0h0m-29 1h0m-31 1h0m25 0h0m-307 1h0m22 0h0m284 0h0m-310 1h0m14 0h0m16 0h0m230 0h0m13 0h0m-23 1h0m76 0h0m-324 1h0m222 0h0m81 1h0m-29 1h0m-263 1h0m265 0h0m-269 1h0m15 0h0m259 0h0m5 1h0m-260 1h0m204 0h0m23 0h0m53 0h0m14 0h0m-110 1h0m35 0h0m35 1h0m6 0h0m28 0h0m19 0h0m0 0h0m-310 1h0m236 0h0m-45 1h0m18 0h0m1 0h0m61 1h0m-285 1h0m213 0h0m102 0h0m-66 1h0m-244 1h0m1 0h0m267 0h0m35 1h0m3 0h0m-78 1h0m19 0h0m53 2h0m2 1h0m-92 1h0m0 1h0m76 2h0m-2 4h0m-39 1h0m-19 4h0m48 1h0m-20 2h0m9 0h0m6 2h0m14 1h0m-3 1h0m-37 2h0m13 4h0m20 0h0m-47 1h0m47 0h0m-18 10h0" stroke="#AA89E7"/><path d="M384 93h0m-72 6h0m62 2h0m-46 1h0m6 0h0m38 4h0m-44 2h0m46 0h0m9 0h0m-43 2h0m-4 2h0m41 0h0m0 2h0m-58 1h0m6 1h0m26 0h0m45 0h0m-40 2h0m10 4h0m-22 1h0m8 0h0m-42 1h0m92 1h0m-63 1h0m11 0h0m60 1h0m8 1h0m-46 1h0m3 0h0m44 0h0m-8 1h0m-41 1h0m35 0h0m-67 1h0m-13 1h0m35 1h0m36 0h0m-31 1h0m36 0h0m26 0h0m-77 3h0m80 0h0m-50 2h0m-20 1h0m50 0h0m-101 2h0m71 0h0m5 0h0m-66 2h0m-14 1h0m79 0h0m-74 1h0m98 1h0m-105 1h0m64 0h0m-40 1h0m85 1h0m-123 1h0m123 2h0m1 1h0m-123 1h0m104 0h0m-125 2h0m55 1h0m-76 1h0m74 1h0m-63 1h0m-5 1h0m5 5h0m23 0h0m112 0h0m-45 5h0m-124 1h0m18 15h0m-8 3h0m-5 1h0m157 0h0m-170 1h0m14 0h0m9 7h0m-16 1h0m7 0h0m-15 1h0m30 2h0m153 4h0m-167 4h0m-25 5h0m-2 3h0m11 1h0m26 2h0m2 2h0m-32 1h0m5 0h0m236 3h0m17 2h0m-60 1h0m-155 10h0m215 7h0m-1 2h0m-32 12h0m30 1h0m-13 1h0m30 7h0m-43 5h0m6 5h0m40 2h0m-42 1h0m36 8h0m-21 3h0m10 5h0m37 6h0m-46 2h0m62 2h0m-32 3h0m38 0h0m-2 2h0m-12 1h0m21 0h0m-8 1h0m1 2h0m-51 2h0m55 1h0m-70 4h0m15 0h0m31 0h0m-24 4h0m-130 1h0m139 1h0m36 2h0m-21 1h0m2 0h0m7 2h0m14 0h0m-193 2h0m178 1h0m25 1h0m-199 1h0m-32 1h0m24 0h0m7 0h0m12 0h0m104 0h0m57 0h0m42 0h0m-76 2h0m73 0h0m-83 2h0m62 0h0m-169 2h0m75 0h0m34 0h0m-111 1h0m116 0h0m-145 1h0m6 0h0m182 0h0m35 0h0m-46 1h0m-56 1h0m-271 1h0m170 0h0m66 0h0m28 1h0m15 0h0m6 0h0m-296 1h0m16 0h0m246 0h0m-172 1h0m213 0h0m47 0h0m-167 1h0m59 0h0m23 1h0m-183 4h0m139 0h0m101 0h0m65 0h0m-332 1h0m236 0h0m-85 1h0m12 0h0m22 0h0m67 0h0m-115 1h0m15 0h0m18 0h0m68 0h0m-64 1h0m98 0h0m-308 1h0m179 0h0m6 0h0m-174 1h0m52 0h0m131 0h0m117 1h0m-122 1h0m11 0h0m30 0h0m106 0h0m-347 1h0m76 0h0m136 0h0m71 2h0m31 0h0m52 0h0m-338 1h0m-44 1h0m38 0h0m270 0h0m85 0h0m-120 1h0m46 0h0m3 0h0m69 0h0m-384 1h0m43 0h0m209 0h0m111 0h0m-91 1h0m-61 1h0m43 0h0m23 0h0m100 0h0m-287 1h0m129 0h0m94 0h0m-294 1h0m283 0h0m43 0h0m-317 1h0m58 0h0m140 0h0m32 0h0m29 0h0m4 0h0m-216 1h0m2 0h0m281 0h0m-109 1h0m87 0h0m-308 1h0m56 0h0m172 0h0m-235 1h0m5 0h0m8 0h0m29 0h0m222 0h0m14 0h0m-301 1h0m226 0h0m70 0h0m19 0h0m49 0h0m-338 1h0m9 0h0m0 0h0m43 0h0m289 0h0m-363 1h0m4 0h0m11 0h0m27 0h0m260 0h0m36 0h0m-285 1h0m267 0h0m-305 1h0m256 0h0m-193 1h0m179 0h0m-218 2h0m208 0h0m12 0h0m68 0h0m4 0h0m20 0h0m-5 1h0m-302 1h0m301 0h0m5 0h0m-308 1h0m201 0h0m-200 1h0m250 0h0m94 0h0m-393 1h0m241 0h0m74 0h0m-284 1h0m272 0h0m-49 1h0m11 0h0m-241 2h0m289 0h0m-260 1h0m8 0h0m316 0h0m-375 1h0m4 0h0m13 0h0m33 0h0m227 0h0m54 0h0m-321 2h0m236 0h0m41 0h0m32 0h0m43 0h0m-363 1h0m43 0h0m257 0h0m88 0h0m-397 1h0m17 0h0m-29 1h0m318 0h0m84 0h0m-426 1h0m9 0h0m16 0h0m2 0h0m29 0h0m250 0h0m43 0h0m35 0h0m3 0h0m-385 1h0m36 0h0m250 0h0m30 0h0m106 0h0m-434 1h0m15 0h0m36 0h0m40 1h0m333 0h0m-384 1h0m296 0h0m61 0h0m36 0h0m-136 1h0m107 0h0m-351 1h0m362 0h0m-386 1h0m30 0h0m8 0h0m231 1h0m17 0h0m21 0h0m-337 1h0m27 0h0m79 0h0m260 0h0m53 0h0m-419 1h0m8 0h0m24 0h0m35 0h0m17 0h0m20 0h0m314 0h0m-359 1h0m242 0h0m137 0h0m-432 1h0m101 0h0m203 0h0m-312 1h0m96 0h0m-72 1h0m90 1h0m301 0h0m-113 1h0m36 1h0m8 0h0m-230 1h0m226 0h0m49 0h0m24 0h0m-88 1h0m51 0h0m-285 2h0m15 1h0m210 0h0m29 1h0m-42 1h0m26 0h0m43 0h0m-31 1h0m-21 1h0m6 2h0m26 0h0m35 0h0m-45 2h0m-43 1h0m47 0h0m56 0h0m-83 1h0m39 0h0m18 1h0m-279 1h0m317 0h0m-316 1h0m266 0h0m32 0h0m-37 1h0m49 2h0m-35 2h0m19 1h0m-93 1h0m3 0h0m84 0h0m-52 2h0m23 0h0m26 1h0m-54 2h0m51 0h0m-74 2h0m66 0h0m-40 2h0m32 0h0m-10 1h0m4 2h0m8 0h0m-47 1h0m45 0h0m-40 1h0m49 1h0m13 0h0m-56 1h0m37 2h0m21 0h0m-62 1h0m28 0h0m-34 3h0m39 1h0m-3 1h0m-24 1h0m5 1h0m8 8h0" stroke="#A480EA"/><path d="M475 256h0m26 116h0m-295 8h0m-31 5h0m-3 22h0m55 0h0m-6 1h0m-69 3h0m257 8h0m-297 7h0m384 22h0" stroke="#CAC0D9"/><path d="M336 89h0m-4 2h0m-8 1h0m38 0h0m-46 5h0m35 0h0m-4 1h0m15 1h0m-40 1h0m30 4h0m32 0h0m8 0h0m-21 1h0m5 3h0m15 0h0m-54 3h0m29 1h0m14 0h0m-19 1h0m21 7h0m7 0h0m-67 1h0m25 1h0m15 0h0m-18 2h0m15 0h0m49 2h0m-77 2h0m66 1h0m-72 2h0m46 0h0m27 0h0m-78 2h0m66 0h0m-20 1h0m25 2h0m-44 1h0m42 0h0m30 0h0m1 0h0m-25 1h0m34 0h0m-104 1h0m1 0h0m-13 1h0m46 0h0m48 0h0m-93 4h0m78 0h0m15 1h0m-67 1h0m7 0h0m-31 1h0m10 0h0m27 0h0m-51 1h0m4 0h0m87 0h0m3 0h0m-16 1h0m15 0h0m-50 1h0m21 0h0m17 0h0m-62 2h0m48 0h0m42 0h0m-109 1h0m21 2h0m96 0h0m-128 1h0m12 0h0m53 1h0m-53 1h0m95 0h0m-110 2h0m58 0h0m34 0h0m-122 1h0m1 0h0m5 0h0m28 0h0m33 0h0m63 0h0m2 0h0m-56 2h0m23 1h0m38 0h0m-131 1h0m-4 5h0m-42 4h0m31 0h0m2 3h0m-33 2h0m9 14h0m157 2h0m-134 3h0m-11 1h0m-25 4h0m-4 2h0m41 0h0m-10 3h0m-19 3h0m13 2h0m-1 2h0m145 3h0m-145 1h0m2 0h0m-15 1h0m166 3h0m-185 1h0m175 1h0m23 0h0m33 5h0m-198 2h0m191 3h0m32 1h0m-9 1h0m-200 3h0m204 3h0m7 23h0m6 0h0m-25 2h0m12 8h0m10 1h0m-33 6h0m5 2h0m55 2h0m-25 1h0m22 3h0m1 0h0m-1 1h0m-10 1h0m-11 5h0m28 0h0m-45 1h0m11 1h0m19 0h0m-27 3h0m-12 2h0m42 1h0m-28 2h0m38 1h0m-38 2h0m31 3h0m18 0h0m-5 2h0m22 0h0m12 1h0m2 4h0m-39 1h0m18 1h0m-34 1h0m45 0h0m-6 3h0m-45 1h0m67 1h0m-58 1h0m23 0h0m13 0h0m28 0h0m-72 1h0m21 1h0m-183 1h0m149 1h0m-113 2h0m89 0h0m60 0h0m-195 1h0m31 1h0m220 0h0m-85 1h0m75 0h0m-213 1h0m-15 1h0m10 0h0m25 0h0m72 0h0m4 0h0m124 0h0m-116 1h0m-98 1h0m173 0h0m-160 1h0m133 0h0m38 0h0m-194 1h0m94 0h0m73 0h0m-141 1h0m168 1h0m18 0h0m-217 1h0m103 0h0m59 0h0m-149 1h0m172 0h0m13 1h0m-174 1h0m169 0h0m33 1h0m-90 1h0m54 0h0m-179 1h0m111 0h0m-8 1h0m106 0h0m-99 1h0m86 3h0m-4 1h0m30 0h0m-200 1h0m-159 1h0m195 0h0m53 0h0m-60 1h0m9 0h0m4 0h0m47 0h0m111 0h0m-158 1h0m32 1h0m92 0h0m32 0h0m-139 1h0m-235 1h0m226 0h0m22 0h0m94 0h0m-5 1h0m14 0h0m20 0h0m-173 1h0m9 0h0m65 0h0m7 0h0m21 1h0m17 0h0m-110 1h0m18 0h0m83 0h0m53 0h0m-163 1h0m22 0h0m129 0h0m11 0h0m-94 1h0m15 0h0m44 0h0m-101 1h0m-216 1h0m52 0h0m146 0h0m59 0h0m23 0h0m-70 1h0m4 0h0m34 0h0m17 0h0m2 0h0m24 0h0m50 0h0m23 0h0m-373 1h0m0 0h0m358 0h0m-131 1h0m3 0h0m54 0h0m85 0h0m-143 1h0m10 0h0m34 0h0m14 0h0m4 0h0m2 0h0m33 0h0m5 0h0m-109 1h0m78 0h0m80 0h0m-115 1h0m0 0h0m43 1h0m8 0h0m-22 1h0m-234 2h0m324 0h0m-144 1h0m33 0h0m-50 1h0m46 0h0m7 0h0m51 0h0m1 0h0m-323 1h0m65 0h0m1 0h0m208 0h0m34 0h0m-13 1h0m-66 1h0m142 0h0m-39 1h0m14 0h0m34 0h0m-390 1h0m285 1h0m45 0h0m17 0h0m19 0h0m-131 1h0m18 0h0m144 0h0m-384 1h0m333 0h0m21 0h0m8 1h0m13 0h0m-67 2h0m-90 1h0m52 0h0m60 0h0m49 0h0m3 0h0m-340 2h0m-58 1h0m8 0h0m286 0h0m30 0h0m-60 1h0m25 1h0m28 0h0m64 0h0m-15 1h0m29 0h0m-332 1h0m222 0h0m93 1h0m-309 1h0m231 0h0m-37 1h0m104 0h0m-394 1h0m274 0h0m13 0h0m-216 3h0m211 0h0m48 0h0m-269 1h0m311 0h0m28 1h0m-375 1h0m258 0h0m59 0h0m-42 1h0m-332 1h0m427 0h0m-403 1h0m323 0h0m7 0h0m-282 1h0m8 0h0m259 0h0m-324 1h0m73 0h0m279 0h0m72 0h0m-420 1h0m32 0h0m19 0h0m5 0h0m51 0h0m193 0h0m23 0h0m86 0h0m-409 1h0m44 0h0m253 0h0m111 2h0m-405 1h0m67 0h0m265 0h0m37 0h0m36 0h0m-421 1h0m337 0h0m-296 1h0m262 0h0m-276 2h0m271 0h0m36 2h0m-40 1h0m90 2h0m-33 1h0m56 0h0m-319 1h0m274 0h0m-289 2h0m229 1h0m5 0h0m86 0h0m-97 2h0m5 0h0m3 0h0m36 0h0m77 0h0m-29 1h0m-47 3h0m-50 1h0m70 0h0m-62 1h0m12 2h0m34 0h0m13 2h0m-48 1h0m57 5h0m-57 1h0m15 0h0m66 0h0m-84 1h0m73 0h0m25 0h0m-10 1h0m-35 2h0m-6 2h0m-17 2h0m41 1h0m-65 3h0m35 0h0m-35 1h0m17 0h0m53 0h0m-60 1h0m14 0h0m30 1h0m16 0h0m-36 1h0m20 0h0m-45 1h0m7 0h0m0 1h0m-7 1h0m-1 2h0m21 0h0m15 1h0m2 0h0m-31 2h0m9 4h0" stroke="#966EEE"/><path d="M336 95h0m25 0h0m17 1h0m-29 5h0m36 2h0m-12 3h0m-29 1h0m-12 3h0m-15 5h0m-8 1h0m18 0h0m22 3h0m-21 1h0m28 3h0m-37 1h0m61 6h0m16 1h0m-77 1h0m33 0h0m-40 1h0m41 1h0m35 0h0m16 0h0m-77 1h0m44 0h0m-24 2h0m12 0h0m44 0h0m-62 1h0m-31 1h0m0 1h0m11 0h0m76 1h0m-7 1h0m-68 1h0m27 0h0m17 0h0m4 2h0m34 0h0m-36 1h0m13 0h0m-70 1h0m86 0h0m-27 1h0m26 0h0m-88 1h0m83 0h0m26 0h0m-103 1h0m32 1h0m-18 1h0m64 0h0m-96 2h0m124 0h0m-45 5h0m-120 2h0m116 1h0m20 2h0m-152 1h0m12 0h0m117 0h0m-104 1h0m93 0h0m21 0h0m-130 1h0m-9 1h0m16 2h0m0 0h0m4 0h0m-23 1h0m22 0h0m-14 1h0m15 0h0m117 1h0m7 0h0m-155 2h0m30 0h0m108 1h0m13 0h0m-144 1h0m-2 1h0m155 1h0m-136 1h0m6 0h0m-10 2h0m-3 1h0m2 2h0m134 1h0m-146 1h0m140 1h0m1 0h0m19 1h0m-142 3h0m135 1h0m0 0h0m1 2h0m7 0h0m-160 1h0m-11 4h0m9 3h0m10 0h0m0 2h0m135 0h0m-144 1h0m161 2h0m-4 2h0m-10 2h0m-173 1h0m19 0h0m165 0h0m-145 1h0m-1 2h0m-34 1h0m30 0h0m3 1h0m157 0h0m-18 2h0m37 1h0m7 0h0m1 0h0m-205 1h0m167 1h0m4 1h0m-183 1h0m27 0h0m149 0h0m8 1h0m36 0h0m-9 1h0m-39 1h0m14 0h0m5 0h0m6 0h0m-167 1h0m-3 1h0m213 0h0m-20 1h0m-6 1h0m4 1h0m-184 1h0m127 0h0m1 0h0m57 0h0m13 0h0m-60 1h0m65 3h0m8 0h0m-19 2h0m3 0h0m18 0h0m-205 5h0m177 2h0m2 1h0m44 0h0m0 1h0m1 0h0m-19 1h0m15 0h0m-36 1h0m34 1h0m-14 2h0m23 2h0m-6 2h0m-20 1h0m-6 1h0m35 4h0m-45 4h0m45 2h0m-14 5h0m-33 1h0m11 0h0m11 0h0m8 0h0m-22 1h0m8 0h0m30 1h0m-23 2h0m22 0h0m-13 2h0m-24 2h0m17 4h0m-21 1h0m46 0h0m-50 1h0m26 0h0m-14 1h0m45 0h0m-21 1h0m-27 3h0m43 0h0m9 0h0m-28 5h0m12 2h0m-39 1h0m48 3h0m27 6h0m-64 3h0m39 3h0m5 0h0m-25 2h0m14 2h0m44 0h0m-35 1h0m-20 3h0m-129 1h0m120 2h0m60 0h0m-49 2h0m-3 1h0m12 0h0m-29 1h0m-148 6h0m177 1h0m-69 3h0m59 0h0m40 1h0m11 0h0m27 2h0m-120 3h0m87 1h0m-28 1h0m-318 2h0m8 1h0m270 0h0m104 0h0m2 0h0m-121 1h0m3 4h0m-267 1h0m286 1h0m97 0h0m-299 1h0m280 0h0m-371 1h0m347 0h0m1 0h0m-19 1h0m-292 1h0m286 0h0m74 0h0m-378 1h0m355 0h0m-90 2h0m79 2h0m-326 1h0m23 0h0m25 0h0m153 0h0m59 0h0m-236 1h0m14 0h0m312 0h0m-343 1h0m36 0h0m-71 1h0m6 0h0m382 0h0m-140 1h0m1 0h0m9 0h0m-57 1h0m-157 1h0m240 0h0m80 0h0m-326 1h0m4 0h0m235 0h0m-221 1h0m303 0h0m14 0h0m13 0h0m-349 1h0m257 0h0m34 0h0m53 0h0m-360 1h0m21 1h0m171 0h0m23 0h0m137 0h0m-348 1h0m221 0h0m-202 1h0m224 0h0m32 0h0m-254 1h0m171 0h0m17 0h0m24 0h0m50 0h0m-267 1h0m337 0h0m-163 1h0m36 0h0m116 0h0m-336 1h0m19 0h0m13 0h0m200 0h0m-267 3h0m68 0h0m-22 1h0m1 1h0m2 0h0m174 0h0m-233 2h0m57 0h0m22 0h0m-68 1h0m266 0h0m-241 2h0m238 0h0m-298 1h0m36 0h0m-37 1h0m273 2h0m27 0h0m-259 2h0m60 1h0m224 0h0m-238 1h0m-65 1h0m7 0h0m33 0h0m33 1h0m193 0h0m127 0h0m-383 1h0m46 0h0m321 0h0m-358 1h0m34 0h0m241 1h0m50 0h0m-342 1h0m47 0h0m0 1h0m6 0h0m248 0h0m-276 2h0m23 1h0m10 0h0m261 0h0m-65 3h0m110 0h0m-303 1h0m-17 1h0m7 2h0m267 0h0m-75 1h0m85 0h0m-298 1h0m-2 1h0m330 0h0m-306 1h0m301 0h0m19 0h0m1 0h0m-97 1h0m24 0h0m-265 1h0m291 0h0m-277 3h0m275 0h0m24 0h0m-82 1h0m-218 2h0m312 1h0m-332 1h0m266 0h0m-12 4h0m-242 1h0m236 3h0m66 0h0m-68 2h0m37 0h0m-25 1h0m62 0h0m-310 2h0m248 0h0m10 0h0m-47 1h0m2 0h0m76 0h0m15 0h0m2 1h0m-51 1h0m23 1h0m44 0h0m-9 4h0m-50 7h0m44 0h0m-65 1h0m51 1h0m-73 1h0m55 0h0m8 4h0m-40 5h0m6 2h0m-16 1h0m20 3h0m16 2h0" stroke="#D3D3D3"/><path d="M355 92h0m28 1h0m-8 3h0m-8 2h0m-13 7h0m20 1h0m-54 3h0m66 2h0m-12 1h0m-56 1h0m28 0h0m20 0h0m-20 2h0m20 3h0m26 0h0m-73 2h0m63 0h0m-9 2h0m-57 1h0m35 2h0m-1 3h0m-35 1h0m86 1h0m6 1h0m12 2h0m-101 1h0m1 0h0m52 1h0m44 0h0m-45 1h0m27 1h0m-84 1h0m115 0h0m-97 1h0m81 0h0m5 3h0m-6 1h0m-64 1h0m-5 1h0m38 0h0m0 0h0m-11 2h0m41 1h0m-76 1h0m88 0h0m-73 1h0m45 2h0m8 0h0m14 1h0m-65 2h0m-105 2h0m165 0h0m-117 1h0m95 2h0m-72 1h0m-35 2h0m-44 1h0m24 4h0m-30 15h0m147 3h0m-156 3h0m11 2h0m0 4h0m-12 5h0m28 2h0m-36 3h0m0 1h0m25 2h0m5 0h0m158 3h0m25 2h0m-183 1h0m-15 1h0m168 0h0m-154 2h0m-27 5h0m20 6h0m161 1h0m31 8h0m0 0h0m-164 1h0m208 1h0m-19 9h0m-186 1h0m170 1h0m28 1h0m-197 4h0m217 12h0m-23 1h0m2 6h0m17 1h0m2 2h0m-24 5h0m27 1h0m-31 2h0m36 12h0m-50 1h0m35 4h0m-14 6h0m33 3h0m37 4h0m-10 3h0m7 0h0m-41 3h0m15 0h0m10 2h0m-161 4h0m165 1h0m23 1h0m-33 1h0m-15 2h0m7 0h0m-147 3h0m196 0h0m-90 2h0m14 0h0m-54 1h0m59 0h0m6 0h0m-6 1h0m-129 2h0m72 0h0m30 0h0m35 0h0m-176 1h0m173 0h0m9 1h0m22 0h0m22 0h0m-80 1h0m-146 1h0m27 0h0m214 0h0m-40 1h0m10 0h0m-92 1h0m94 0h0m18 0h0m-40 2h0m-31 1h0m28 0h0m-75 1h0m55 0h0m15 1h0m37 0h0m17 1h0m-90 1h0m35 1h0m39 0h0m27 0h0m-365 1h0m302 0h0m1 0h0m-39 1h0m38 0h0m-7 1h0m71 0h0m-141 1h0m105 0h0m-149 1h0m84 0h0m-288 2h0m20 0h0m67 0h0m2 0h0m191 0h0m48 0h0m-328 1h0m80 0h0m208 0h0m-43 1h0m90 0h0m-126 2h0m122 0h0m-308 1h0m223 0h0m38 1h0m26 0h0m68 0h0m-364 1h0m225 0h0m-187 1h0m186 0h0m100 0h0m-329 1h0m0 0h0m287 0h0m19 0h0m-106 1h0m6 0h0m100 0h0m22 0h0m-316 1h0m250 0h0m36 0h0m44 0h0m1 0h0m31 0h0m-331 1h0m196 0h0m-228 1h0m256 0h0m38 0h0m-258 1h0m213 1h0m11 0h0m-205 2h0m194 0h0m-46 1h0m93 0h0m36 0h0m5 0h0m-319 1h0m227 0h0m34 0h0m89 0h0m-390 1h0m38 0h0m6 0h0m210 0h0m25 0h0m-278 1h0m54 0h0m213 0h0m48 0h0m30 0h0m-330 1h0m2 0h0m13 0h0m22 0h0m25 0h0m152 0h0m113 0h0m-287 1h0m34 0h0m11 0h0m-21 1h0m323 0h0m-332 1h0m4 0h0m1 0h0m223 0h0m1 0h0m3 0h0m37 0h0m46 0h0m7 0h0m-388 1h0m40 1h0m31 0h0m11 0h0m175 0h0m19 0h0m-230 2h0m215 0h0m-20 1h0m95 0h0m48 0h0m-52 1h0m18 0h0m-347 1h0m36 0h0m0 0h0m266 0h0m79 0h0m-381 1h0m70 0h0m171 0h0m-227 1h0m281 0h0m42 0h0m18 0h0m30 0h0m-128 1h0m-260 1h0m27 0h0m9 0h0m16 0h0m16 0h0m186 0h0m28 0h0m49 0h0m28 0h0m-316 1h0m-6 1h0m246 0h0m19 0h0m54 0h0m-362 1h0m387 1h0m-113 1h0m48 0h0m-49 1h0m44 0h0m-25 2h0m92 0h0m6 0h0m-376 1h0m274 0h0m-269 1h0m30 0h0m259 0h0m33 0h0m-322 1h0m226 0h0m44 0h0m59 1h0m-327 1h0m37 0h0m-79 1h0m15 0h0m280 0h0m-286 1h0m58 0h0m2 0h0m222 0h0m122 0h0m-431 1h0m14 0h0m355 0h0m-364 1h0m13 0h0m28 0h0m2 0h0m38 0h0m266 0h0m-357 1h0m88 0h0m282 0h0m-377 1h0m16 0h0m40 0h0m-47 1h0m0 0h0m39 0h0m67 0h0m1 0h0m246 0h0m-299 1h0m42 0h0m237 0h0m82 0h0m3 0h0m-420 1h0m20 0h0m52 0h0m6 0h0m212 0h0m53 0h0m-353 1h0m79 0h0m289 0h0m73 0h0m-418 1h0m23 0h0m21 0h0m15 0h0m19 0h0m305 0h0m-382 1h0m61 0h0m218 0h0m30 0h0m-334 1h0m32 0h0m36 0h0m22 0h0m5 0h0m-40 1h0m5 0h0m-29 1h0m37 0h0m29 0h0m217 0h0m63 0h0m-377 1h0m24 0h0m78 0h0m196 0h0m-285 1h0m42 0h0m55 0h0m227 0h0m-326 1h0m17 0h0m49 0h0m-67 1h0m7 0h0m13 0h0m-21 1h0m20 0h0m77 0h0m271 0h0m-299 1h0m344 0h0m-343 1h0m15 0h0m4 0h0m268 0h0m0 0h0m-262 1h0m283 1h0m-50 1h0m36 0h0m12 2h0m-51 2h0m-31 1h0m77 0h0m13 0h0m-72 1h0m-216 2h0m0 0h0m212 0h0m-232 1h0m305 0h0m19 0h0m-317 1h0m211 0h0m-210 1h0m229 0h0m37 1h0m-257 2h0m1 0h0m-3 1h0m258 1h0m-32 1h0m5 2h0m16 0h0m43 0h0m-70 1h0m42 0h0m25 0h0m-65 2h0m1 0h0m4 0h0m55 2h0m-59 1h0m41 1h0m20 2h0m-70 3h0m72 2h0m-16 3h0m-26 1h0m18 2h0m11 2h0m3 5h0m-22 2h0m-17 2h0" stroke="#AA89E7"/><path d="M371 95h0m-12 2h0m25 0h0m-63 2h0m62 1h0m-21 1h0m-30 1h0m20 1h0m-15 1h0m0 0h0m23 0h0m23 0h0m-41 3h0m13 0h0m-40 1h0m41 0h0m-2 1h0m-36 1h0m16 0h0m47 0h0m-69 1h0m46 0h0m-15 1h0m43 0h0m-35 1h0m41 0h0m-25 1h0m-32 2h0m39 1h0m-31 1h0m22 0h0m31 2h0m-78 1h0m10 1h0m44 0h0m21 0h0m-23 1h0m-47 1h0m30 0h0m25 0h0m4 2h0m-5 1h0m37 0h0m-44 2h0m32 1h0m-81 2h0m31 0h0m3 0h0m11 0h0m52 1h0m-45 2h0m28 0h0m-1 1h0m21 0h0m-58 3h0m-28 2h0m40 0h0m-39 1h0m65 1h0m0 1h0m-45 1h0m33 1h0m-50 2h0m-19 1h0m30 0h0m13 1h0m59 0h0m-115 1h0m81 2h0m3 0h0m23 3h0m-36 1h0m17 0h0m-133 6h0m18 1h0m-23 1h0m100 0h0m33 0h0m-137 2h0m21 0h0m-36 1h0m21 1h0m-29 2h0m112 5h0m40 5h0m-130 1h0m-40 3h0m174 0h0m-147 8h0m-21 4h0m0 0h0m0 6h0m11 0h0m16 2h0m-13 4h0m-11 7h0m172 0h0m-153 3h0m-36 1h0m48 1h0m124 0h0m63 0h0m-220 2h0m169 1h0m-158 3h0m19 4h0m119 1h0m41 0h0m66 0h0m-102 2h0m-130 1h0m139 2h0m50 8h0m-161 4h0m-5 1h0m187 0h0m-4 4h0m-15 1h0m14 1h0m3 3h0m0 6h0m20 3h0m-25 1h0m-9 6h0m20 11h0m-18 1h0m1 1h0m37 0h0m21 1h0m-50 3h0m17 1h0m32 0h0m-49 1h0m55 1h0m-46 5h0m1 2h0m7 4h0m7 1h0m34 0h0m-11 1h0m0 1h0m7 1h0m-35 2h0m39 2h0m-44 1h0m29 0h0m46 2h0m-182 2h0m139 0h0m17 1h0m25 0h0m-43 1h0m5 0h0m20 0h0m-23 1h0m-12 1h0m25 1h0m31 1h0m-20 1h0m16 2h0m-184 1h0m144 0h0m48 1h0m5 1h0m-78 2h0m73 0h0m-117 3h0m52 0h0m28 0h0m-181 1h0m225 0h0m-209 1h0m111 0h0m48 0h0m-80 1h0m42 0h0m20 0h0m2 0h0m-169 1h0m205 0h0m1 0h0m29 0h0m-230 1h0m110 0h0m18 0h0m8 0h0m36 0h0m26 0h0m9 1h0m-219 1h0m167 1h0m51 0h0m-211 1h0m2 0h0m12 0h0m25 0h0m96 0h0m5 0h0m-131 1h0m10 1h0m160 0h0m61 0h0m-136 2h0m84 0h0m-57 1h0m55 0h0m57 0h0m-229 1h0m24 0h0m0 1h0m152 0h0m8 0h0m-153 1h0m75 1h0m12 0h0m-95 1h0m4 0h0m191 0h0m-199 1h0m72 0h0m41 0h0m0 0h0m-111 1h0m11 1h0m60 0h0m83 0h0m-71 1h0m13 1h0m53 1h0m29 0h0m17 1h0m16 0h0m-182 1h0m76 0h0m-73 1h0m-9 1h0m153 1h0m-96 1h0m91 0h0m44 0h0m-379 1h0m6 0h0m197 0h0m85 0h0m-71 1h0m58 0h0m87 0h0m1 0h0m-176 1h0m-5 1h0m27 0h0m68 0h0m-295 1h0m292 0h0m31 0h0m-270 1h0m219 0h0m-40 1h0m99 1h0m20 0h0m-87 1h0m71 2h0m51 0h0m-102 1h0m29 0h0m23 0h0m-68 1h0m114 0h0m-67 1h0m20 0h0m50 0h0m-160 1h0m88 0h0m15 0h0m32 0h0m31 0h0m-376 1h0m75 0h0m267 0h0m-137 1h0m41 0h0m4 0h0m-216 1h0m220 0h0m114 0h0m4 0h0m8 0h0m-337 1h0m166 1h0m111 0h0m-322 1h0m275 0h0m-250 1h0m283 1h0m29 0h0m42 0h0m-59 1h0m-257 1h0m171 0h0m85 0h0m52 0h0m-121 1h0m3 0h0m110 0h0m-28 1h0m34 0h0m-328 1h0m240 0h0m-265 1h0m299 0h0m-21 1h0m5 0h0m-291 1h0m5 0h0m218 0h0m31 0h0m27 0h0m28 0h0m-19 1h0m-284 1h0m266 0h0m9 0h0m59 0h0m-344 1h0m291 0h0m-273 1h0m246 0h0m24 1h0m36 2h0m11 0h0m-294 1h0m209 0h0m12 0h0m85 0h0m-98 1h0m-2 1h0m-239 1h0m241 0h0m63 0h0m34 0h0m16 0h0m5 0h0m-411 2h0m417 0h0m1 0h0m-334 1h0m209 0h0m39 0h0m48 0h0m-405 1h0m41 0h0m24 0h0m24 0h0m222 0h0m30 0h0m2 0h0m77 0h0m-377 2h0m305 0h0m31 0h0m1 0h0m30 0h0m4 0h0m-46 1h0m14 0h0m-328 1h0m37 0h0m287 0h0m-347 1h0m57 0h0m215 0h0m-281 1h0m34 0h0m241 0h0m71 0h0m52 0h0m17 0h0m-41 1h0m-328 2h0m29 0h0m199 0h0m9 0h0m84 0h0m-388 1h0m72 0h0m287 0h0m14 0h0m47 0h0m-413 1h0m378 0h0m14 0h0m21 0h0m-414 1h0m93 0h0m233 0h0m1 0h0m88 0h0m-361 2h0m20 2h0m295 0h0m19 1h0m-18 1h0m4 0h0m6 0h0m-302 1h0m6 2h0m-8 1h0m301 0h0m-70 2h0m62 0h0m18 1h0m21 0h0m-100 2h0m90 0h0m-91 1h0m1 0h0m31 0h0m3 0h0m14 0h0m-9 3h0m-13 1h0m-9 1h0m-28 1h0m41 0h0m38 0h0m15 0h0m10 0h0m-111 2h0m58 0h0m0 2h0m-51 1h0m29 1h0m48 1h0m7 1h0m-300 1h0m269 0h0m-24 1h0m14 0h0m-37 3h0m8 2h0m6 3h0m54 2h0m-9 5h0m4 2h0m-27 1h0m18 0h0m-16 3h0m-13 3h0m0 2h0" stroke="#966EEE"/><path d="M346 95h0m-8 1h0m-25 3h0m46 0h0m-21 6h0m27 0h0m-4 7h0m27 1h0m-77 2h0m49 1h0m-49 3h0m9 1h0m-3 5h0m-5 1h0m33 0h0m30 1h0m-65 1h0m58 1h0m10 0h0m7 1h0m-2 2h0m-21 1h0m33 0h0m-82 1h0m59 5h0m20 0h0m-80 2h0m57 2h0m1 0h0m-32 1h0m43 2h0m-76 1h0m28 0h0m36 1h0m4 0h0m-68 1h0m0 0h0m-4 1h0m13 1h0m36 0h0m64 0h0m-89 1h0m17 0h0m-54 1h0m18 0h0m-2 1h0m-19 1h0m90 2h0m-66 1h0m41 2h0m-106 1h0m54 0h0m45 0h0m-85 1h0m82 0h0m-79 1h0m-18 1h0m16 0h0m1 0h0m20 0h0m2 0h0m73 0h0m-113 1h0m26 0h0m-24 1h0m-12 1h0m9 0h0m30 0h0m112 0h0m-134 1h0m75 0h0m-68 1h0m12 0h0m116 2h0m-147 1h0m40 1h0m-41 1h0m16 0h0m-17 1h0m18 2h0m124 1h0m-139 1h0m-14 1h0m21 0h0m136 0h0m-122 1h0m-46 2h0m165 0h0m-137 7h0m138 2h0m6 0h0m5 3h0m-163 4h0m167 2h0m-184 1h0m4 1h0m1 0h0m5 0h0m161 1h0m10 0h0m-152 3h0m141 1h0m-160 1h0m171 0h0m-8 2h0m14 0h0m-181 1h0m27 0h0m0 0h0m-5 1h0m160 0h0m22 0h0m-25 1h0m-165 1h0m147 1h0m18 0h0m1 0h0m13 0h0m-21 2h0m4 0h0m8 0h0m38 0h0m-22 2h0m24 0h0m3 0h0m-233 1h0m1 1h0m10 0h0m204 0h0m12 0h0m-48 1h0m0 1h0m-18 1h0m3 0h0m69 0h0m-239 1h0m225 0h0m16 0h0m-227 1h0m7 0h0m172 0h0m21 0h0m10 0h0m-207 1h0m235 0h0m-246 1h0m179 1h0m33 0h0m33 0h0m-80 2h0m-5 1h0m67 0h0m39 0h0m-25 1h0m-25 1h0m-181 1h0m221 1h0m-16 1h0m7 0h0m-12 1h0m14 0h0m1 0h0m-199 2h0m179 0h0m37 0h0m-215 1h0m185 0h0m4 0h0m17 0h0m7 0h0m-207 3h0m209 0h0m-27 2h0m18 2h0m1 1h0m-34 1h0m49 0h0m-45 2h0m-5 1h0m-165 2h0m164 0h0m51 0h0m-11 2h0m-36 1h0m30 0h0m16 0h0m-36 1h0m-163 2h0m0 0h0m173 0h0m3 0h0m12 3h0m5 1h0m-37 1h0m-6 1h0m34 1h0m-20 1h0m-4 1h0m15 0h0m2 1h0m-19 1h0m30 0h0m-35 1h0m27 3h0m-26 5h0m42 0h0m-20 1h0m-15 1h0m14 4h0m9 0h0m-2 2h0m-1 6h0m9 2h0m-16 4h0m10 2h0m29 6h0m-5 1h0m0 6h0m26 0h0m-32 1h0m27 0h0m-46 4h0m0 9h0m12 1h0m66 0h0m-72 1h0m28 1h0m22 1h0m-11 4h0m35 0h0m-234 1h0m236 0h0m-124 1h0m79 1h0m43 4h0m-19 2h0m-15 2h0m32 0h0m-99 1h0m62 0h0m-18 1h0m51 0h0m-278 1h0m-80 2h0m350 2h0m-4 1h0m-269 2h0m4 1h0m209 0h0m11 0h0m-31 1h0m90 0h0m-348 2h0m256 0h0m-246 1h0m248 0h0m65 0h0m-97 2h0m-174 2h0m139 1h0m-184 3h0m19 0h0m280 0h0m37 0h0m-356 1h0m55 0h0m-60 1h0m11 0h0m252 0h0m-208 1h0m6 0h0m254 0h0m-109 1h0m-163 1h0m-41 2h0m223 0h0m14 1h0m91 0h0m-294 1h0m274 0h0m11 0h0m-293 1h0m-40 1h0m54 1h0m7 0h0m16 0h0m211 1h0m-270 1h0m3 0h0m21 1h0m31 0h0m307 0h0m-378 1h0m14 0h0m258 0h0m119 0h0m-364 3h0m30 0h0m264 0h0m-258 1h0m299 0h0m-56 1h0m48 0h0m-33 2h0m70 0h0m-348 1h0m317 0h0m-317 1h0m-28 3h0m52 0h0m-95 1h0m75 2h0m317 1h0m-361 1h0m45 1h0m11 0h0m-19 1h0m271 3h0m1 0h0m18 0h0m11 0h0m20 0h0m-319 1h0m-24 1h0m31 0h0m5 0h0m236 0h0m-27 1h0m-212 1h0m10 1h0m-53 1h0m55 0h0m-46 1h0m22 0h0m262 0h0m9 0h0m-366 1h0m375 0h0m63 1h0m-84 1h0m-325 1h0m48 0h0m305 0h0m-261 1h0m194 0h0m107 0h0m-411 1h0m92 0h0m235 1h0m18 0h0m27 0h0m-305 1h0m5 0h0m240 0h0m-236 1h0m8 0h0m269 0h0m14 0h0m22 0h0m-327 1h0m230 2h0m7 1h0m70 1h0m33 0h0m-304 1h0m305 0h0m14 0h0m-316 1h0m180 0h0m112 0h0m-315 2h0m223 0h0m112 0h0m-56 5h0m-11 1h0m-16 1h0m-37 2h0m107 0h0m-115 3h0m81 0h0m-70 1h0m33 0h0m-17 3h0m-9 1h0m13 0h0m32 2h0m-5 2h0m9 1h0m-15 1h0m35 1h0m-70 2h0m51 1h0m2 0h0m32 0h0m-90 1h0m45 2h0m-38 5h0m50 1h0m-18 3h0m24 2h0m-17 10h0m-18 2h0" stroke="#D3D3D3"/><path d="M371 93h0m-19 1h0m18 0h0m-8 2h0m24 0h0m-29 1h0m33 5h0m-31 3h0m24 1h0m-32 2h0m20 2h0m-41 1h0m25 0h0m17 0h0m-57 1h0m32 0h0m1 0h0m-11 1h0m9 0h0m44 0h0m5 2h0m-50 1h0m21 0h0m-32 1h0m59 0h0m-79 1h0m9 2h0m70 1h0m-30 1h0m-17 1h0m49 0h0m2 0h0m-81 1h0m47 0h0m25 2h0m-22 5h0m5 0h0m12 0h0m44 1h0m-43 1h0m24 0h0m-97 3h0m9 0h0m27 0h0m44 0h0m13 0h0m-60 1h0m31 0h0m33 0h0m7 0h0m2 1h0m-83 1h0m75 0h0m-39 1h0m-55 1h0m7 0h0m-12 1h0m65 0h0m-22 1h0m32 0h0m-18 1h0m-51 2h0m2 0h0m91 1h0m14 0h0m-120 1h0m117 2h0m-24 1h0m5 3h0m-98 1h0m5 1h0m1 0h0m82 1h0m-131 1h0m-11 1h0m148 0h0m-139 1h0m133 1h0m-1 5h0m-133 1h0m-28 2h0m7 1h0m38 0h0m-23 1h0m12 0h0m-25 3h0m-14 4h0m-7 2h0m15 0h0m13 7h0m-5 4h0m-5 1h0m21 1h0m-23 7h0m3 1h0m-28 3h0m40 3h0m-10 2h0m174 1h0m-168 1h0m156 3h0m31 2h0m-210 1h0m-17 2h0m29 1h0m215 0h0m-232 1h0m14 2h0m2 0h0m-10 1h0m250 4h0m-263 2h0m34 1h0m186 1h0m-57 2h0m108 3h0m-12 1h0m-11 17h0m-2 10h0m30 0h0m-15 1h0m-37 2h0m36 5h0m17 1h0m-19 4h0m-21 3h0m2 0h0m4 1h0m7 0h0m4 2h0m-24 5h0m49 0h0m-33 5h0m23 3h0m18 1h0m-11 5h0m-35 5h0m73 1h0m-8 4h0m-28 2h0m-15 1h0m-121 3h0m162 0h0m-28 1h0m21 0h0m-29 1h0m3 0h0m33 1h0m-160 2h0m149 0h0m-15 1h0m35 4h0m-68 1h0m16 0h0m31 0h0m37 0h0m-5 3h0m-222 2h0m4 0h0m38 0h0m119 0h0m9 1h0m-129 2h0m151 0h0m-31 1h0m-50 1h0m79 0h0m-158 2h0m133 1h0m50 0h0m-213 2h0m216 0h0m-217 1h0m118 0h0m71 0h0m-11 1h0m63 0h0m-110 1h0m72 0h0m-179 1h0m7 0h0m82 0h0m125 0h0m-231 1h0m181 0h0m46 1h0m-190 1h0m57 0h0m121 0h0m26 0h0m-72 1h0m46 0h0m10 0h0m-194 1h0m165 0h0m3 1h0m16 0h0m-77 1h0m-15 1h0m52 0h0m43 0h0m-333 1h0m151 0h0m195 0h0m-135 1h0m17 0h0m-47 1h0m64 0h0m18 0h0m-103 1h0m116 0h0m2 0h0m50 0h0m-119 1h0m128 0h0m10 0h0m-165 1h0m69 2h0m40 0h0m-243 1h0m301 0h0m-139 1h0m150 0h0m-195 1h0m27 1h0m8 0h0m26 0h0m53 0h0m-111 1h0m80 0h0m68 0h0m45 0h0m-142 2h0m111 0h0m26 0h0m-89 1h0m87 0h0m-388 1h0m269 0h0m97 0h0m8 0h0m-87 1h0m58 0h0m-126 1h0m48 0h0m-203 1h0m150 0h0m32 0h0m55 0h0m-65 1h0m61 0h0m-81 1h0m13 1h0m59 0h0m90 0h0m-368 1h0m258 0h0m60 0h0m3 0h0m-267 1h0m160 0h0m69 0h0m100 0h0m7 0h0m-54 1h0m45 0h0m-370 1h0m11 0h0m31 0h0m240 0h0m59 0h0m27 0h0m6 0h0m-306 1h0m10 0h0m184 0h0m-211 1h0m169 0h0m40 0h0m81 0h0m-360 2h0m67 0h0m241 0h0m90 0h0m-400 1h0m362 0h0m-370 1h0m22 0h0m245 0h0m67 0h0m32 0h0m-312 1h0m260 0h0m15 0h0m2 0h0m54 0h0m2 0h0m-377 2h0m20 0h0m273 1h0m60 0h0m-108 1h0m26 2h0m21 0h0m-6 1h0m89 0h0m-48 1h0m-328 2h0m259 0h0m75 0h0m39 0h0m-123 1h0m126 0h0m-75 1h0m79 0h0m-322 2h0m321 0h0m-111 1h0m11 0h0m95 0h0m-384 1h0m6 0h0m303 0h0m40 1h0m-75 2h0m17 0h0m71 0h0m11 0h0m-101 1h0m74 0h0m7 1h0m-385 1h0m42 0h0m38 1h0m-69 1h0m4 0h0m284 0h0m77 1h0m30 0h0m-359 2h0m259 2h0m93 0h0m15 1h0m5 0h0m-101 1h0m-41 1h0m3 0h0m42 0h0m32 0h0m10 0h0m-284 1h0m320 0h0m-30 1h0m11 0h0m-30 2h0m-66 1h0m-220 1h0m-69 2h0m94 0h0m251 1h0m5 0h0m35 0h0m-300 1h0m274 1h0m1 0h0m-41 1h0m81 0h0m-100 1h0m110 0h0m-101 3h0m20 1h0m-246 1h0m281 0h0m21 0h0m-16 1h0m-89 1h0m45 0h0m3 0h0m-18 2h0m43 0h0m9 0h0m11 0h0m4 0h0m-53 1h0m37 2h0m43 0h0m-47 1h0m-19 1h0m-14 1h0m3 0h0m35 0h0m-50 5h0m61 1h0m16 0h0m-23 1h0m17 0h0m2 3h0m-80 2h0m20 2h0m-31 1h0m51 2h0m-42 1h0m35 0h0m-10 3h0m25 6h0m-3 4h0m-23 4h0m24 1h0m2 1h0" stroke="#8E65F0"/><path d="M375 95h0m-29 4h0m-21 2h0m39 1h0m2 0h0m-22 5h0m-11 2h0m38 2h0m-59 4h0m8 1h0m18 1h0m32 2h0m-17 7h0m9 1h0m13 1h0m-33 3h0m79 0h0m-69 2h0m23 1h0m-56 1h0m-9 2h0m20 1h0m68 0h0m-64 1h0m-24 2h0m3 0h0m64 1h0m-65 3h0m71 0h0m-39 1h0m10 0h0m26 0h0m-59 1h0m3 0h0m11 0h0m68 0h0m-11 1h0m-85 1h0m81 0h0m-23 1h0m-67 1h0m66 0h0m-34 1h0m-22 1h0m83 2h0m-82 1h0m74 1h0m-117 3h0m53 0h0m-24 2h0m10 1h0m78 0h0m8 0h0m-142 1h0m39 0h0m-27 1h0m95 0h0m-90 1h0m5 0h0m-7 1h0m-7 1h0m8 0h0m-18 1h0m11 1h0m117 1h0m-2 3h0m8 1h0m-153 2h0m11 0h0m153 1h0m-3 1h0m-157 1h0m-1 1h0m2 1h0m157 0h0m-162 2h0m160 1h0m-137 1h0m-36 2h0m9 0h0m151 0h0m-139 3h0m9 2h0m-32 3h0m36 0h0m135 0h0m-1 1h0m8 1h0m-174 1h0m167 1h0m-171 2h0m27 0h0m2 1h0m139 3h0m14 1h0m14 0h0m-166 1h0m151 1h0m-190 2h0m6 1h0m16 1h0m197 0h0m-36 1h0m-12 1h0m-138 1h0m195 1h0m0 1h0m-34 1h0m49 0h0m-217 1h0m195 0h0m1 0h0m29 1h0m-21 1h0m-37 1h0m18 0h0m29 1h0m-49 1h0m36 0h0m10 0h0m6 0h0m-239 1h0m223 0h0m2 0h0m43 0h0m-107 1h0m-136 1h0m-29 1h0m178 0h0m-167 1h0m213 0h0m22 0h0m-41 1h0m16 0h0m8 0h0m9 0h0m34 1h0m-99 1h0m77 0h0m14 0h0m-1 1h0m-43 1h0m7 0h0m49 0h0m-31 1h0m27 3h0m-16 1h0m-18 1h0m19 0h0m8 0h0m-213 1h0m186 2h0m24 0h0m-211 1h0m208 0h0m-5 1h0m-10 1h0m15 0h0m11 2h0m-29 1h0m15 0h0m4 0h0m-22 2h0m28 0h0m-17 4h0m-19 2h0m45 2h0m2 2h0m-16 1h0m-30 2h0m22 0h0m14 0h0m-7 1h0m-4 1h0m11 1h0m-4 2h0m7 0h0m-23 5h0m1 1h0m11 0h0m28 0h0m2 2h0m-5 1h0m2 0h0m-26 1h0m-16 1h0m12 2h0m30 2h0m-40 1h0m40 1h0m-55 1h0m11 0h0m8 0h0m20 3h0m5 0h0m-9 3h0m-14 1h0m14 3h0m-3 3h0m35 7h0m1 0h0m-46 5h0m37 0h0m-26 1h0m-113 4h0m110 1h0m18 1h0m37 6h0m-29 6h0m24 1h0m34 0h0m-97 1h0m-102 1h0m-31 1h0m99 0h0m82 1h0m-182 1h0m141 0h0m17 1h0m-44 1h0m37 2h0m77 0h0m-233 4h0m133 0h0m-32 1h0m20 0h0m67 0h0m13 0h0m6 0h0m-42 2h0m64 0h0m-15 2h0m10 0h0m12 0h0m-32 1h0m-337 1h0m375 0h0m-102 1h0m-268 1h0m239 2h0m-229 1h0m169 1h0m168 0h0m-74 1h0m-30 1h0m-172 1h0m112 0h0m117 1h0m-233 1h0m233 0h0m12 0h0m-43 1h0m-68 1h0m78 0h0m5 0h0m43 0h0m-337 1h0m368 1h0m15 0h0m-379 1h0m30 0h0m37 0h0m218 0h0m46 2h0m9 1h0m-118 1h0m158 0h0m-355 1h0m233 0h0m110 0h0m-378 1h0m13 0h0m212 0h0m-167 1h0m203 0h0m-200 1h0m0 0h0m273 0h0m13 0h0m-272 1h0m-4 1h0m170 0h0m137 0h0m-373 1h0m217 1h0m164 0h0m-387 1h0m33 0h0m2 0h0m192 0h0m69 0h0m-252 1h0m13 0h0m-44 1h0m50 0h0m309 0h0m-137 1h0m168 0h0m3 0h0m-100 2h0m59 0h0m-288 1h0m284 0h0m-308 3h0m295 0h0m-320 1h0m350 0h0m-293 1h0m221 0h0m-37 1h0m-248 1h0m304 0h0m-22 1h0m90 0h0m-55 1h0m-331 1h0m257 0h0m-19 2h0m-211 1h0m270 0h0m36 0h0m-307 1h0m27 0h0m-53 1h0m48 0h0m324 1h0m14 0h0m-113 1h0m-273 1h0m8 0h0m303 0h0m-312 1h0m46 0h0m-44 1h0m45 0h0m-4 1h0m259 0h0m33 0h0m-98 1h0m-281 1h0m324 1h0m51 0h0m6 0h0m-339 3h0m241 0h0m-189 1h0m-53 1h0m62 0h0m-88 1h0m23 1h0m335 0h0m-334 2h0m300 0h0m-326 3h0m-33 1h0m22 0h0m410 0h0m-351 1h0m311 0h0m37 0h0m-320 1h0m256 0h0m51 0h0m-99 1h0m-215 2h0m3 0h0m229 2h0m63 0h0m-43 2h0m-4 1h0m-51 1h0m-196 2h0m286 1h0m32 0h0m-127 1h0m124 0h0m-324 2h0m289 0h0m-1 3h0m-281 1h0m205 0h0m-212 1h0m10 2h0m228 0h0m3 0h0m71 0h0m-306 1h0m3 0h0m198 0h0m17 1h0m-17 2h0m82 14h0m1 0h0m-39 1h0m-14 1h0m-9 2h0m14 0h0m-13 2h0m48 2h0m-16 6h0m-3 1h0m4 5h0" stroke="#D3D3D3"/><path d="M350 92h0m-25 1h0m45 0h0m-56 1h0m50 0h0m4 0h0m-38 12h0m65 1h0m-60 7h0m19 9h0m1 3h0m55 0h0m-100 3h0m33 3h0m81 1h0m-107 1h0m25 0h0m33 2h0m44 0h0m-14 3h0m23 0h0m1 0h0m-12 1h0m1 1h0m-43 1h0m18 0h0m32 0h0m-80 1h0m66 0h0m14 0h0m-4 2h0m-90 1h0m71 0h0m9 1h0m0 0h0m-79 1h0m12 1h0m69 1h0m-118 1h0m115 0h0m-126 1h0m4 2h0m127 0h0m4 1h0m-6 3h0m-126 2h0m-45 4h0m148 1h0m-134 1h0m17 2h0m123 0h0m-141 2h0m8 0h0m-6 2h0m-12 5h0m-6 1h0m-2 1h0m17 3h0m-34 2h0m32 1h0m131 3h0m-151 2h0m19 3h0m-44 3h0m36 6h0m-25 4h0m-2 2h0m6 0h0m173 1h0m-186 1h0m16 0h0m-7 1h0m-3 1h0m224 7h0m-197 1h0m-10 2h0m-13 1h0m5 0h0m-21 1h0m216 0h0m-210 1h0m17 0h0m169 0h0m-190 1h0m4 0h0m29 4h0m132 4h0m97 2h0m-30 2h0m9 3h0m-187 5h0m8 1h0m169 16h0m10 0h0m-7 4h0m27 0h0m2 1h0m-11 4h0m33 3h0m-45 6h0m27 1h0m10 2h0m6 3h0m-37 2h0m13 0h0m1 3h0m7 3h0m26 2h0m-1 1h0m5 1h0m-6 1h0m-30 1h0m41 3h0m6 3h0m-33 3h0m21 0h0m21 2h0m0 3h0m-6 1h0m-22 6h0m-34 1h0m22 0h0m43 2h0m-57 1h0m66 0h0m6 0h0m3 1h0m-5 1h0m-36 1h0m-19 1h0m33 2h0m-169 2h0m88 0h0m38 0h0m-44 2h0m100 0h0m-23 1h0m-43 2h0m22 0h0m-165 1h0m119 0h0m26 0h0m-128 1h0m162 0h0m-186 2h0m120 1h0m120 0h0m-121 1h0m49 0h0m6 0h0m36 0h0m-66 1h0m-111 1h0m180 1h0m8 0h0m7 0h0m-117 1h0m11 0h0m-17 1h0m-87 2h0m211 0h0m0 1h0m-198 1h0m167 0h0m9 0h0m-33 1h0m-309 1h0m319 0h0m23 1h0m21 1h0m-341 1h0m317 0h0m-144 1h0m101 0h0m70 0h0m-39 2h0m45 0h0m-39 1h0m-312 1h0m56 0h0m246 0h0m-255 2h0m192 0h0m24 0h0m5 0h0m-95 1h0m65 0h0m45 0h0m37 0h0m49 0h0m-343 1h0m247 0h0m73 0h0m-340 1h0m221 0h0m19 0h0m31 0h0m27 0h0m36 0h0m11 0h0m17 0h0m-399 1h0m290 0h0m-227 1h0m231 0h0m-264 1h0m24 0h0m0 0h0m23 0h0m148 0h0m62 0h0m49 0h0m13 0h0m-265 1h0m185 0h0m55 0h0m3 0h0m61 0h0m-385 1h0m14 0h0m14 0h0m295 0h0m-265 1h0m320 0h0m-349 1h0m21 0h0m172 0h0m-216 1h0m33 1h0m16 0h0m5 0h0m280 0h0m-318 1h0m1 0h0m14 0h0m233 0h0m4 0h0m28 0h0m78 0h0m-335 1h0m-25 1h0m43 0h0m301 0h0m6 0h0m-352 1h0m19 0h0m254 0h0m86 0h0m-292 1h0m190 1h0m-279 1h0m10 0h0m19 0h0m8 0h0m285 0h0m62 0h0m-381 1h0m55 0h0m8 0h0m34 0h0m292 0h0m4 0h0m-398 1h0m2 0h0m22 0h0m16 0h0m38 0h0m20 0h0m7 0h0m256 0h0m-361 1h0m3 0h0m5 0h0m15 0h0m44 0h0m282 0h0m27 0h0m-375 1h0m77 0h0m2 0h0m232 1h0m47 0h0m-292 1h0m2 0h0m30 0h0m132 0h0m34 0h0m139 0h0m-397 1h0m6 0h0m21 0h0m19 0h0m29 0h0m159 1h0m41 0h0m17 0h0m53 0h0m7 0h0m-352 1h0m9 0h0m7 0h0m55 0h0m284 0h0m31 0h0m-317 1h0m179 0h0m106 0h0m-103 1h0m6 0h0m45 0h0m16 0h0m67 0h0m-375 1h0m19 0h0m31 0h0m0 0h0m260 0h0m2 0h0m64 0h0m-347 1h0m255 0h0m95 0h0m-351 1h0m23 0h0m-43 1h0m339 0h0m22 0h0m-386 1h0m3 0h0m253 0h0m17 0h0m3 0h0m-309 1h0m56 0h0m344 0h0m1 0h0m-365 1h0m43 0h0m341 0h0m-418 1h0m30 0h0m256 0h0m22 0h0m22 0h0m23 0h0m37 0h0m11 0h0m13 0h0m14 0h0m-398 1h0m3 0h0m61 0h0m222 0h0m65 0h0m44 0h0m-382 1h0m4 0h0m54 0h0m-35 2h0m12 0h0m1 0h0m1 0h0m4 0h0m273 0h0m49 0h0m-371 1h0m10 0h0m40 0h0m1 0h0m8 0h0m1 0h0m-68 1h0m17 0h0m16 0h0m221 0h0m57 0h0m4 0h0m37 0h0m-317 1h0m243 0h0m9 0h0m46 0h0m-363 1h0m12 0h0m3 0h0m41 0h0m298 0h0m12 0h0m-347 1h0m282 0h0m40 0h0m32 0h0m24 0h0m24 0h0m-439 1h0m45 0h0m7 0h0m29 0h0m1 0h0m25 0h0m294 0h0m-370 1h0m7 0h0m69 0h0m307 0h0m-379 1h0m5 0h0m14 0h0m3 0h0m5 0h0m8 0h0m4 0h0m7 0h0m260 0h0m-329 1h0m1 0h0m31 0h0m11 0h0m5 0h0m23 0h0m29 0h0m7 0h0m214 0h0m19 0h0m50 0h0m-395 1h0m8 0h0m20 0h0m294 0h0m11 0h0m-302 1h0m24 0h0m10 0h0m24 0h0m217 0h0m41 0h0m67 0h0m-412 1h0m20 0h0m15 0h0m3 0h0m337 0h0m-385 1h0m2 0h0m10 0h0m49 0h0m14 0h0m27 0h0m332 0h0m-403 1h0m28 0h0m1 0h0m19 0h0m258 0h0m-330 1h0m26 0h0m52 0h0m234 0h0m57 0h0m31 0h0m-406 1h0m16 0h0m18 0h0m7 0h0m10 0h0m20 0h0m5 0h0m1 0h0m16 0h0m10 0h0m278 0h0m-329 1h0m17 0h0m11 0h0m219 0h0m73 0h0m4 0h0m34 0h0m-338 1h0m39 0h0m-94 1h0m32 0h0m252 0h0m-293 1h0m5 0h0m66 0h0m26 0h0m231 0h0m92 0h0m-425 1h0m26 0h0m67 0h0m256 0h0m4 0h0m-336 1h0m50 0h0m18 0h0m27 0h0m279 0h0m6 0h0m6 0h0m-322 1h0m0 0h0m236 0h0m62 0h0m1 0h0m-275 1h0m187 0h0m49 0h0m-261 1h0m23 0h0m244 0h0m24 0h0m-270 1h0m285 0h0m-284 1h0m194 0h0m23 1h0m68 0h0m9 0h0m-305 2h0m7 0h0m227 0h0m21 0h0m52 0h0m-300 1h0m209 1h0m13 0h0m62 1h0m-299 1h0m221 0h0m2 0h0m8 0h0m38 0h0m-272 2h0m13 0h0m241 0h0m19 0h0m-266 2h0m233 0h0m72 0h0m-311 1h0m273 0h0m31 0h0m-296 1h0m2 0h0m2 0h0m257 0h0m0 1h0m-37 1h0m38 0h0m45 0h0m-308 1h0m280 2h0m-67 1h0m29 1h0m54 0h0m-292 2h0m276 0h0m-16 2h0m-52 2h0m19 0h0m73 0h0m-56 1h0m-6 2h0m1 0h0m30 1h0m-28 1h0m33 0h0m-59 1h0m30 5h0m39 2h0m0 0h0m-50 2h0m0 1h0m30 0h0m-15 1h0m23 0h0m-26 3h0m16 0h0m9 2h0m-21 1h0m-1 4h0" stroke="#B69CE3"/><path d="M330 94h0m25 2h0m16 0h0m-34 4h0m53 2h0m-20 8h0m22 0h0m-59 1h0m41 1h0m-28 2h0m-4 2h0m-4 1h0m11 0h0m-14 1h0m55 2h0m-71 1h0m25 0h0m20 0h0m-27 1h0m3 0h0m24 3h0m14 0h0m-33 1h0m-1 2h0m54 0h0m-74 2h0m45 1h0m4 1h0m-17 4h0m-26 1h0m-19 1h0m76 0h0m-78 1h0m71 1h0m8 1h0m9 0h0m0 0h0m-33 2h0m11 0h0m-53 1h0m16 0h0m39 1h0m-66 1h0m105 0h0m-40 1h0m-62 1h0m-11 1h0m8 0h0m24 0h0m-26 1h0m71 1h0m-59 1h0m65 0h0m-94 1h0m9 1h0m25 2h0m-48 1h0m34 0h0m-60 1h0m41 0h0m-18 3h0m31 0h0m32 0h0m47 0h0m-132 1h0m61 0h0m62 0h0m-94 1h0m1 1h0m-17 2h0m-13 1h0m-3 1h0m8 0h0m-30 2h0m18 1h0m7 0h0m-7 1h0m10 1h0m-35 1h0m151 0h0m-118 1h0m-11 1h0m-6 1h0m13 0h0m136 0h0m-172 1h0m-3 2h0m18 0h0m-2 1h0m155 1h0m-126 1h0m-30 2h0m144 0h0m-140 1h0m152 2h0m-149 3h0m-21 1h0m18 0h0m148 2h0m5 1h0m3 0h0m12 0h0m-13 3h0m-140 4h0m7 0h0m-44 1h0m34 4h0m3 0h0m-34 4h0m198 1h0m-7 1h0m-192 1h0m18 0h0m9 0h0m175 0h0m-183 1h0m170 0h0m23 2h0m4 0h0m27 0h0m-247 3h0m22 1h0m8 0h0m0 0h0m135 0h0m34 0h0m-168 1h0m156 0h0m33 1h0m0 0h0m10 0h0m1 1h0m-51 1h0m17 0h0m-158 1h0m150 0h0m55 0h0m1 0h0m10 0h0m-92 1h0m38 0h0m-36 2h0m40 0h0m49 0h0m-20 1h0m8 0h0m-3 2h0m24 1h0m-13 1h0m9 0h0m-223 1h0m230 0h0m-90 1h0m92 1h0m1 0h0m-219 3h0m221 1h0m-39 1h0m37 1h0m-213 1h0m188 0h0m8 0h0m-8 2h0m-185 1h0m-4 1h0m207 0h0m17 1h0m-215 1h0m166 0h0m12 3h0m33 0h0m-50 1h0m46 1h0m-10 1h0m12 0h0m5 4h0m-35 1h0m32 1h0m-4 1h0m-194 1h0m189 5h0m-4 1h0m-15 1h0m23 1h0m1 3h0m-17 1h0m-5 1h0m-8 2h0m11 0h0m-11 1h0m15 1h0m16 2h0m5 0h0m-21 2h0m18 0h0m-16 4h0m24 1h0m16 6h0m2 8h0m-9 7h0m-30 4h0m14 3h0m1 0h0m-29 1h0m-104 1h0m154 0h0m-35 1h0m8 0h0m20 1h0m-9 1h0m7 2h0m30 0h0m-27 1h0m-42 1h0m-36 10h0m1 1h0m7 0h0m31 0h0m-155 1h0m192 0h0m29 0h0m-85 1h0m19 2h0m25 0h0m-33 3h0m99 0h0m-97 1h0m23 0h0m83 2h0m-22 1h0m12 2h0m-71 1h0m-139 1h0m211 0h0m-216 2h0m-151 2h0m0 0h0m10 2h0m5 0h0m65 0h0m276 0h0m3 0h0m23 0h0m-362 1h0m282 0h0m22 0h0m-29 1h0m-301 1h0m33 0h0m-18 1h0m-12 1h0m8 0h0m271 0h0m-280 1h0m327 0h0m-306 1h0m-31 1h0m242 0h0m-213 1h0m5 0h0m7 0h0m18 0h0m21 0h0m184 0h0m-244 1h0m273 0h0m-294 1h0m75 0h0m201 0h0m95 0h0m-112 1h0m27 0h0m112 0h0m-376 2h0m31 0h0m291 1h0m-286 1h0m-34 2h0m12 0h0m12 0h0m15 0h0m267 0h0m47 0h0m-126 1h0m98 0h0m-319 1h0m27 0h0m295 0h0m-282 1h0m195 0h0m-251 1h0m8 0h0m13 0h0m189 0h0m-199 1h0m298 0h0m-306 2h0m2 0h0m28 0h0m34 0h0m286 0h0m-368 1h0m50 0h0m2 0h0m6 0h0m309 0h0m-350 1h0m39 0h0m260 0h0m-261 1h0m-13 1h0m238 0h0m-275 1h0m352 0h0m-42 1h0m84 0h0m2 1h0m-370 1h0m24 0h0m202 0h0m87 0h0m-322 1h0m315 1h0m-307 2h0m3 0h0m-58 1h0m371 0h0m-296 2h0m198 0h0m13 1h0m83 0h0m-344 1h0m251 0h0m67 0h0m-319 1h0m365 1h0m-40 1h0m-295 1h0m231 0h0m-10 1h0m19 0h0m69 0h0m-302 1h0m302 0h0m-302 3h0m234 0h0m92 0h0m-90 1h0m105 0h0m11 1h0m-365 3h0m10 0h0m354 0h0m-357 1h0m-6 5h0m317 0h0m-396 2h0m49 0h0m268 0h0m-14 1h0m-187 1h0m-4 1h0m244 0h0m19 1h0m17 0h0m-76 1h0m8 0h0m5 5h0m83 0h0m15 1h0m-61 1h0m-276 1h0m203 0h0m20 1h0m19 2h0m75 0h0m-318 1h0m7 1h0m253 0h0m-24 1h0m-20 1h0m-211 1h0m-4 1h0m13 0h0m278 0h0m-30 1h0m-21 2h0m-236 1h0m250 2h0m43 0h0m-77 5h0m1 1h0m70 2h0m-23 1h0m-23 3h0m-14 3h0m77 0h0m-25 5h0m-29 1h0m30 1h0m-31 1h0m-14 8h0" stroke="#D3D3D3"/><path d="M352 93h0m-25 1h0m5 0h0m15 2h0m40 1h0m4 0h0m-52 1h0m-4 1h0m28 1h0m-25 1h0m17 4h0m26 3h0m-65 1h0m-2 1h0m79 0h0m-33 2h0m27 0h0m-19 1h0m-36 1h0m6 1h0m28 0h0m-41 1h0m67 0h0m1 2h0m-73 2h0m46 0h0m-42 2h0m-11 3h0m28 0h0m2 0h0m33 0h0m3 0h0m4 1h0m23 0h0m-62 1h0m67 1h0m-36 2h0m26 1h0m-62 1h0m-28 1h0m72 0h0m-27 1h0m35 1h0m32 0h0m-22 1h0m25 0h0m-18 1h0m-49 2h0m46 0h0m-92 1h0m108 1h0m-104 1h0m98 0h0m-49 1h0m-61 2h0m63 0h0m13 0h0m33 0h0m-51 2h0m8 0h0m-14 1h0m38 0h0m6 0h0m-32 1h0m38 0h0m-71 1h0m-1 1h0m26 0h0m0 1h0m45 0h0m-111 1h0m2 1h0m48 2h0m26 0h0m19 0h0m7 1h0m-127 1h0m9 2h0m116 1h0m-5 2h0m4 0h0m1 3h0m-111 1h0m59 0h0m53 1h0m-149 1h0m4 10h0m-2 1h0m-28 1h0m0 1h0m151 7h0m-123 1h0m-12 2h0m8 3h0m-26 1h0m-4 3h0m3 1h0m10 0h0m9 7h0m-30 8h0m4 2h0m33 0h0m-22 4h0m-22 5h0m7 5h0m40 0h0m135 2h0m39 0h0m55 3h0m-219 3h0m0 6h0m203 1h0m-26 2h0m27 1h0m20 2h0m-45 3h0m11 4h0m-167 4h0m201 0h0m-11 8h0m-33 2h0m28 0h0m1 1h0m22 1h0m-18 3h0m-12 1h0m8 5h0m30 3h0m-28 2h0m-4 1h0m-22 2h0m57 0h0m-34 1h0m36 0h0m-45 4h0m9 0h0m37 0h0m-14 1h0m-35 10h0m72 0h0m-4 5h0m-75 2h0m80 4h0m-172 1h0m162 0h0m-164 1h0m117 3h0m39 0h0m-152 1h0m150 0h0m-151 2h0m150 2h0m-155 2h0m137 0h0m42 1h0m17 0h0m-10 1h0m-186 1h0m126 1h0m-124 2h0m190 0h0m-27 2h0m6 0h0m29 0h0m-87 1h0m-125 1h0m100 0h0m48 1h0m31 0h0m-169 1h0m125 1h0m68 0h0m-109 1h0m-97 1h0m21 1h0m173 0h0m11 0h0m-198 1h0m125 0h0m5 0h0m86 1h0m-225 1h0m9 0h0m81 0h0m-7 1h0m43 0h0m-106 1h0m101 0h0m28 0h0m34 0h0m-46 1h0m-126 2h0m21 1h0m159 0h0m2 0h0m-11 1h0m18 0h0m-87 1h0m55 1h0m30 0h0m13 0h0m-173 2h0m113 0h0m-48 2h0m25 0h0m5 0h0m-283 1h0m233 0h0m63 1h0m26 0h0m41 0h0m-359 1h0m229 0h0m-17 1h0m89 0h0m-16 1h0m16 0h0m15 0h0m-327 1h0m226 0h0m63 0h0m57 0h0m-62 1h0m15 0h0m-247 1h0m338 0h0m-387 1h0m19 1h0m183 0h0m17 0h0m7 0h0m2 0h0m41 0h0m92 0h0m-345 1h0m191 0h0m19 0h0m-176 1h0m170 0h0m90 0h0m52 0h0m-156 1h0m63 0h0m63 1h0m-341 1h0m218 0h0m60 0h0m9 0h0m-70 1h0m-213 1h0m209 0h0m3 0h0m172 0h0m-165 1h0m26 0h0m4 1h0m-27 1h0m85 0h0m14 0h0m42 0h0m1 0h0m3 0h0m-130 1h0m152 0h0m-165 1h0m84 0h0m83 0h0m-81 1h0m-313 1h0m49 1h0m245 0h0m97 0h0m-354 1h0m18 0h0m186 0h0m23 0h0m4 0h0m119 0h0m-308 1h0m6 0h0m155 0h0m65 0h0m53 0h0m-355 1h0m27 0h0m61 0h0m219 0h0m-49 1h0m76 1h0m24 0h0m3 0h0m-371 2h0m31 0h0m213 0h0m17 0h0m61 0h0m-310 1h0m296 0h0m17 0h0m6 0h0m20 0h0m-94 1h0m123 1h0m-106 1h0m54 0h0m33 0h0m-351 3h0m8 0h0m7 0h0m240 0h0m3 0h0m42 0h0m22 1h0m53 0h0m-372 1h0m52 0h0m-62 1h0m312 0h0m9 0h0m-323 1h0m17 0h0m257 0h0m-271 1h0m36 0h0m304 2h0m-59 1h0m69 0h0m-396 1h0m44 0h0m258 0h0m-299 1h0m297 0h0m133 0h0m-396 1h0m35 0h0m237 0h0m49 0h0m-14 1h0m-7 1h0m36 0h0m-337 1h0m19 0h0m-39 1h0m3 0h0m-26 1h0m22 0h0m13 0h0m379 0h0m5 0h0m-411 1h0m31 0h0m65 0h0m11 0h0m-81 1h0m45 0h0m293 0h0m-323 1h0m250 0h0m21 0h0m20 0h0m47 0h0m-357 1h0m47 0h0m356 0h0m-427 1h0m98 0h0m190 0h0m-285 1h0m79 0h0m228 0h0m-229 1h0m26 0h0m295 0h0m-413 1h0m83 0h0m311 0h0m-309 1h0m7 0h0m271 1h0m15 0h0m-271 1h0m205 0h0m-285 1h0m75 0h0m205 0h0m102 0h0m-61 1h0m24 0h0m-54 1h0m64 0h0m46 0h0m-113 2h0m-16 1h0m118 0h0m10 0h0m-318 1h0m220 1h0m63 4h0m25 0h0m-98 1h0m49 1h0m35 0h0m-31 1h0m-35 2h0m45 0h0m8 0h0m-89 1h0m25 0h0m-222 1h0m194 0h0m66 0h0m20 0h0m-78 1h0m7 0h0m28 0h0m68 0h0m-53 1h0m52 1h0m7 0h0m-323 1h0m224 0h0m88 0h0m-106 2h0m8 0h0m53 0h0m13 2h0m5 0h0m-62 1h0m32 1h0m45 1h0m11 1h0m-39 3h0m-35 2h0m57 0h0m9 0h0m-56 3h0m43 0h0m-51 4h0m42 1h0m6 4h0m-1 1h0m-26 6h0m16 0h0m-9 3h0" stroke="#A480EA"/><path d="M376 89h0m2 4h0m-27 4h0m28 0h0m-33 4h0m18 3h0m13 7h0m16 1h0m-18 3h0m-31 1h0m22 1h0m-27 4h0m-20 2h0m48 1h0m-6 4h0m9 0h0m34 1h0m-15 2h0m-71 1h0m33 0h0m7 1h0m5 1h0m19 3h0m4 0h0m9 0h0m-34 2h0m-15 3h0m72 0h0m-77 1h0m54 0h0m-87 1h0m2 1h0m66 2h0m-10 2h0m-24 1h0m69 0h0m-24 1h0m-36 1h0m-50 1h0m5 0h0m9 0h0m36 0h0m-52 1h0m49 1h0m-38 1h0m4 0h0m27 0h0m71 0h0m-50 1h0m0 1h0m-73 1h0m27 0h0m15 0h0m59 0h0m-91 1h0m25 0h0m72 0h0m-142 1h0m-9 1h0m126 0h0m-54 1h0m27 0h0m5 0h0m-7 1h0m-89 1h0m15 0h0m-21 1h0m14 0h0m114 0h0m-106 2h0m75 0h0m47 0h0m-124 2h0m4 0h0m-18 3h0m124 0h0m-157 3h0m-1 1h0m128 0h0m-92 3h0m125 2h0m-153 3h0m17 0h0m-22 2h0m9 0h0m23 0h0m0 1h0m133 0h0m-171 3h0m26 0h0m8 4h0m-34 2h0m27 2h0m-27 3h0m2 0h0m3 0h0m160 1h0m-137 2h0m158 1h0m-170 1h0m-9 5h0m150 0h0m33 0h0m-183 1h0m-18 1h0m209 0h0m-183 1h0m7 0h0m165 0h0m20 4h0m-33 2h0m47 0h0m-226 1h0m39 0h0m183 0h0m-54 1h0m-161 1h0m15 0h0m6 0h0m8 0h0m2 0h0m166 1h0m2 0h0m22 0h0m-231 1h0m11 0h0m197 1h0m-212 3h0m208 0h0m33 0h0m-13 1h0m-5 1h0m5 0h0m22 2h0m-23 1h0m5 1h0m16 0h0m10 0h0m-210 1h0m202 0h0m-77 1h0m61 0h0m21 0h0m-27 2h0m21 0h0m-9 1h0m-190 1h0m184 0h0m17 4h0m7 2h0m9 1h0m-197 3h0m184 0h0m-14 1h0m-11 3h0m16 0h0m13 2h0m19 2h0m-3 1h0m-40 1h0m6 0h0m12 1h0m1 0h0m8 0h0m11 1h0m-27 1h0m20 0h0m-24 3h0m25 0h0m-19 1h0m2 0h0m26 1h0m-1 3h0m-25 1h0m27 1h0m-36 2h0m29 0h0m5 2h0m2 3h0m8 0h0m1 1h0m-36 5h0m39 1h0m-53 2h0m66 3h0m-43 3h0m8 3h0m14 1h0m0 1h0m-24 3h0m21 0h0m-9 5h0m43 3h0m-32 1h0m39 2h0m-4 1h0m-6 3h0m-166 1h0m108 0h0m71 4h0m-60 2h0m67 1h0m-38 2h0m-44 5h0m33 0h0m57 1h0m-27 1h0m-83 1h0m-76 3h0m73 0h0m21 0h0m-6 1h0m-19 2h0m81 0h0m-149 2h0m92 0h0m83 1h0m-41 2h0m16 0h0m-87 1h0m59 0h0m8 0h0m10 0h0m-23 1h0m26 1h0m61 0h0m-371 3h0m284 0h0m18 0h0m54 0h0m-194 2h0m106 0h0m-87 1h0m-190 2h0m-7 1h0m16 0h0m6 0h0m1 0h0m12 0h0m272 0h0m-271 1h0m157 0h0m-164 1h0m-1 1h0m58 0h0m-67 1h0m14 0h0m3 0h0m46 2h0m183 0h0m94 0h0m29 0h0m-380 1h0m78 0h0m-85 1h0m16 0h0m3 3h0m1 0h0m21 1h0m21 0h0m144 0h0m52 0h0m-218 1h0m20 1h0m170 0h0m-225 1h0m71 0h0m4 0h0m-66 1h0m38 0h0m17 0h0m7 0h0m5 0h0m240 0h0m-321 1h0m214 0h0m11 0h0m158 0h0m-171 1h0m146 2h0m-290 1h0m183 1h0m104 0h0m-316 2h0m4 0h0m52 0h0m204 0h0m-290 1h0m8 0h0m224 0h0m99 0h0m-320 1h0m24 0h0m13 0h0m-57 1h0m73 0h0m-32 2h0m324 0h0m-317 1h0m19 0h0m179 0h0m13 0h0m-191 1h0m194 0h0m121 0h0m-328 1h0m-53 1h0m51 1h0m184 0h0m155 0h0m-343 1h0m224 0h0m120 0h0m-365 1h0m331 0h0m-316 1h0m0 1h0m195 0h0m83 0h0m-287 1h0m238 1h0m-258 1h0m8 1h0m356 0h0m-40 1h0m-85 1h0m-259 2h0m310 0h0m-30 1h0m33 0h0m21 0h0m-315 2h0m9 1h0m223 0h0m88 1h0m12 0h0m-302 1h0m7 0h0m331 0h0m-403 1h0m32 0h0m-13 1h0m376 0h0m4 2h0m-130 1h0m21 1h0m33 0h0m58 0h0m-74 1h0m-334 1h0m94 0h0m10 0h0m177 3h0m20 0h0m121 0h0m-417 1h0m61 1h0m37 0h0m-9 1h0m192 1h0m-198 1h0m268 0h0m-253 4h0m197 0h0m86 0h0m4 0h0m-305 1h0m-8 1h0m7 0h0m13 0h0m211 0h0m41 0h0m39 0h0m25 1h0m-128 2h0m35 0h0m46 2h0m-295 1h0m239 1h0m19 0h0m-45 1h0m25 0h0m15 0h0m46 1h0m-286 5h0m264 0h0m16 0h0m-62 3h0m-220 1h0m292 3h0m7 3h0m-17 1h0m12 2h0m5 5h0m-24 1h0m-39 4h0m29 0h0m8 5h0m-47 1h0m16 0h0m34 4h0m-33 1h0" stroke="#D3D3D3"/><path d="M373 93h0m-49 2h0m9 0h0m13 0h0m34 1h0m-11 1h0m9 0h0m-15 2h0m23 0h0m-24 1h0m-29 1h0m7 0h0m-20 1h0m18 1h0m10 0h0m6 1h0m-42 1h0m5 0h0m10 0h0m21 0h0m-23 1h0m17 0h0m40 0h0m-54 1h0m20 0h0m23 0h0m-1 1h0m4 0h0m-23 1h0m0 0h0m18 0h0m6 0h0m19 0h0m-43 2h0m27 0h0m-12 2h0m5 0h0m-56 1h0m50 0h0m19 0h0m-41 3h0m20 1h0m-32 1h0m-17 1h0m29 1h0m18 0h0m-38 3h0m10 0h0m2 0h0m28 0h0m-52 1h0m57 1h0m-16 1h0m41 0h0m-34 3h0m-6 1h0m9 0h0m13 3h0m-33 1h0m11 1h0m3 0h0m33 0h0m-57 1h0m28 0h0m21 0h0m-5 3h0m-9 1h0m-43 1h0m39 0h0m-34 2h0m57 0h0m-42 1h0m21 0h0m-53 1h0m6 0h0m77 0h0m-90 1h0m34 1h0m46 0h0m-71 1h0m75 0h0m-93 1h0m31 0h0m13 0h0m-30 3h0m46 0h0m-19 1h0m-31 1h0m-20 1h0m20 1h0m3 0h0m89 0h0m-7 1h0m8 0h0m-142 2h0m19 2h0m23 0h0m41 0h0m5 0h0m-93 1h0m15 2h0m-1 1h0m-2 4h0m6 2h0m-5 1h0m-48 2h0m19 4h0m157 6h0m-147 3h0m-10 4h0m4 0h0m-31 3h0m28 2h0m0 0h0m10 6h0m-17 3h0m-9 2h0m23 3h0m-22 2h0m-9 5h0m31 1h0m5 1h0m-29 1h0m-4 3h0m34 1h0m129 0h0m85 0h0m-228 2h0m145 1h0m49 2h0m29 0h0m-43 3h0m42 0h0m-86 1h0m76 4h0m11 0h0m-201 2h0m209 10h0m2 0h0m-4 5h0m-28 1h0m10 2h0m2 5h0m-161 1h0m164 3h0m22 7h0m-1 3h0m19 3h0m-58 4h0m53 0h0m-47 1h0m4 1h0m-2 6h0m43 4h0m-24 2h0m2 1h0m4 4h0m35 3h0m-15 1h0m30 2h0m-11 2h0m-4 1h0m-20 2h0m19 0h0m18 0h0m-22 1h0m-144 2h0m107 0h0m42 1h0m-40 1h0m56 0h0m21 0h0m-51 1h0m32 1h0m-50 2h0m14 0h0m33 1h0m16 0h0m-85 1h0m40 0h0m6 1h0m9 0h0m22 0h0m-48 1h0m17 0h0m51 1h0m-60 1h0m7 0h0m-146 1h0m127 0h0m63 0h0m-32 1h0m13 1h0m-40 1h0m12 1h0m48 0h0m-223 1h0m165 0h0m25 0h0m-89 1h0m51 0h0m25 0h0m13 0h0m-68 1h0m92 0h0m-28 1h0m18 0h0m-212 1h0m159 0h0m53 0h0m-76 1h0m-17 1h0m52 0h0m59 0h0m-46 1h0m-48 2h0m26 0h0m5 0h0m10 0h0m72 1h0m-241 1h0m9 0h0m145 2h0m70 0h0m20 0h0m-143 1h0m62 0h0m46 0h0m18 0h0m-26 2h0m17 0h0m-190 1h0m5 0h0m-26 1h0m122 0h0m21 0h0m-16 1h0m-35 1h0m-51 2h0m123 0h0m55 0h0m20 1h0m-202 1h0m92 0h0m8 0h0m4 0h0m34 0h0m4 1h0m-120 2h0m77 0h0m17 1h0m-91 1h0m83 0h0m41 0h0m14 0h0m-29 1h0m75 0h0m-376 1h0m236 0h0m123 0h0m-176 1h0m88 0h0m64 0h0m2 0h0m-54 1h0m38 0h0m25 1h0m-163 1h0m13 0h0m120 0h0m55 0h0m-130 1h0m76 0h0m36 0h0m5 0h0m-76 1h0m22 0h0m49 0h0m-59 1h0m41 0h0m-4 1h0m-72 2h0m-24 1h0m89 0h0m1 0h0m21 0h0m28 0h0m-116 1h0m71 0h0m-78 1h0m11 0h0m-1 1h0m39 0h0m-74 1h0m11 0h0m34 0h0m-7 1h0m52 0h0m4 0h0m-65 1h0m37 0h0m-47 1h0m127 0h0m-357 1h0m53 0h0m268 0h0m43 1h0m-6 1h0m-151 1h0m46 0h0m62 1h0m-55 1h0m1 0h0m15 0h0m11 0h0m53 0h0m-106 1h0m1 0h0m36 0h0m15 0h0m15 0h0m42 0h0m-67 1h0m-70 1h0m6 1h0m71 0h0m5 0h0m44 0h0m29 0h0m-402 1h0m248 0h0m8 0h0m127 0h0m-99 1h0m116 0h0m-130 1h0m37 0h0m2 0h0m41 0h0m13 0h0m8 0h0m8 0h0m-108 1h0m48 1h0m64 0h0m-78 1h0m28 0h0m26 0h0m-53 2h0m11 0h0m13 1h0m-53 1h0m17 0h0m17 0h0m-55 1h0m67 0h0m-323 1h0m265 0h0m87 0h0m-34 2h0m-36 1h0m-23 1h0m72 0h0m8 0h0m18 0h0m-308 1h0m221 1h0m110 0h0m-132 1h0m66 0h0m47 1h0m6 0h0m-114 1h0m62 0h0m50 0h0m11 0h0m-89 3h0m25 0h0m9 0h0m-255 1h0m293 0h0m-80 1h0m1 1h0m80 0h0m7 1h0m-24 1h0m22 0h0m17 0h0m-101 1h0m-262 1h0m308 0h0m18 0h0m-91 1h0m19 0h0m84 0h0m9 0h0m-76 1h0m-249 1h0m263 1h0m-273 1h0m298 0h0m-83 1h0m129 0h0m-111 1h0m49 0h0m33 0h0m-15 1h0m6 0h0m14 0h0m-72 1h0m59 0h0m-95 1h0m70 0h0m13 0h0m-90 1h0m102 0h0m-88 1h0m20 0h0m86 0h0m-4 1h0m-71 1h0m-230 1h0m243 0h0m51 2h0m-102 2h0m22 2h0m51 0h0m5 0h0m45 0h0m-117 2h0m44 0h0m63 0h0m-60 1h0m65 0h0m-80 1h0m-14 1h0m49 0h0m19 0h0m-75 1h0m31 0h0m67 0h0m-36 1h0m17 0h0m-62 1h0m29 2h0m-33 1h0m75 0h0m-66 1h0m13 0h0m28 0h0m-66 2h0m25 0h0m38 1h0m13 0h0m11 0h0m-85 1h0m24 1h0m31 0h0m17 0h0m-16 2h0m-15 1h0m21 0h0m12 0h0m-26 1h0m-5 1h0m13 0h0m23 1h0m-20 1h0m5 0h0m3 0h0m-49 1h0m13 0h0m46 0h0m-17 1h0m0 0h0m-57 1h0m65 0h0m-64 1h0m3 1h0m17 0h0m24 0h0m10 1h0m-21 2h0m19 0h0m-37 1h0m28 0h0m1 0h0m-5 2h0m0 0h0m4 1h0m1 0h0m2 1h0m-23 3h0m18 0h0m-12 2h0" stroke="#7248F6"/><path d="M334 89h0m4 2h0m37 2h0m-40 4h0m17 0h0m38 4h0m-8 1h0m-66 4h0m14 0h0m45 4h0m-51 3h0m25 2h0m-15 3h0m-6 2h0m28 1h0m-15 1h0m21 0h0m-39 5h0m23 0h0m24 1h0m-44 1h0m14 2h0m78 0h0m-65 1h0m-45 2h0m97 0h0m-87 1h0m80 1h0m-42 1h0m14 0h0m-61 2h0m45 3h0m-23 2h0m30 0h0m18 0h0m-40 2h0m2 0h0m25 3h0m-29 1h0m62 0h0m-3 1h0m-105 1h0m125 2h0m-88 1h0m66 0h0m24 0h0m-134 1h0m114 0h0m-110 2h0m-5 1h0m107 0h0m-151 2h0m46 0h0m44 0h0m43 0h0m-98 1h0m-13 1h0m130 0h0m-144 2h0m36 1h0m102 0h0m-125 2h0m18 0h0m-36 1h0m-19 1h0m4 0h0m38 3h0m-22 2h0m124 4h0m-143 1h0m25 6h0m-33 1h0m32 0h0m7 2h0m-49 1h0m183 1h0m-166 2h0m-16 1h0m17 1h0m160 0h0m-152 2h0m169 0h0m-176 1h0m156 0h0m13 0h0m-17 2h0m3 0h0m1 4h0m9 1h0m-175 1h0m33 3h0m160 0h0m-187 2h0m171 1h0m16 0h0m-10 1h0m30 0h0m-39 1h0m-11 2h0m26 0h0m26 0h0m1 0h0m2 2h0m-196 2h0m10 1h0m177 1h0m-27 1h0m34 0h0m2 0h0m-52 2h0m-163 2h0m150 0h0m-150 1h0m252 0h0m-3 1h0m-263 1h0m223 0h0m-8 1h0m25 0h0m23 0h0m-18 2h0m14 0h0m-43 1h0m5 0h0m-54 1h0m98 0h0m-209 1h0m208 0h0m-23 1h0m-14 2h0m26 0h0m-196 1h0m176 1h0m-177 3h0m178 0h0m12 0h0m21 0h0m3 0h0m0 0h0m1 0h0m-21 1h0m-20 1h0m17 0h0m7 0h0m-197 2h0m213 2h0m4 2h0m-19 1h0m24 1h0m-22 2h0m-2 3h0m-171 2h0m167 0h0m29 0h0m-40 1h0m22 0h0m1 0h0m-25 2h0m-1 4h0m31 1h0m-4 2h0m20 0h0m-29 3h0m-20 1h0m49 0h0m-19 5h0m0 6h0m-25 2h0m0 1h0m20 0h0m-14 2h0m23 0h0m-5 1h0m14 0h0m1 0h0m16 0h0m-13 3h0m-8 2h0m26 6h0m-29 2h0m-31 1h0m20 5h0m-15 2h0m-96 2h0m-3 1h0m106 3h0m-4 6h0m7 0h0m40 2h0m-28 1h0m59 1h0m16 3h0m-33 1h0m-87 3h0m12 1h0m32 3h0m44 0h0m19 0h0m-39 1h0m43 1h0m11 1h0m-128 3h0m79 1h0m-73 1h0m69 0h0m11 1h0m30 0h0m-44 1h0m-14 1h0m-305 3h0m188 1h0m109 2h0m-300 1h0m95 2h0m153 1h0m6 0h0m55 0h0m69 0h0m-358 1h0m177 0h0m-159 2h0m11 0h0m200 0h0m5 0h0m-34 1h0m-213 1h0m33 0h0m0 0h0m4 0h0m282 0h0m-301 1h0m231 0h0m-172 1h0m184 0h0m-268 1h0m55 1h0m145 0h0m97 0h0m78 0h0m21 0h0m-395 1h0m8 0h0m-13 1h0m7 0h0m24 1h0m6 1h0m2 0h0m356 0h0m-382 1h0m49 0h0m-11 1h0m177 0h0m92 0h0m-308 1h0m56 0h0m-28 1h0m25 0h0m-33 1h0m48 0h0m242 0h0m31 0h0m-321 1h0m202 0h0m44 0h0m24 0h0m-248 1h0m15 0h0m188 0h0m108 1h0m-334 1h0m57 0h0m1 0h0m232 0h0m-8 1h0m86 0h0m-326 1h0m321 0h0m-127 1h0m12 0h0m17 0h0m36 0h0m-301 1h0m322 0h0m9 0h0m1 0h0m-352 1h0m24 0h0m44 0h0m-52 1h0m36 0h0m13 0h0m3 0h0m290 1h0m-358 1h0m52 0h0m194 1h0m8 0h0m-205 1h0m332 0h0m-350 1h0m27 0h0m5 0h0m4 0h0m246 0h0m-65 2h0m-260 1h0m23 0h0m2 0h0m225 0h0m29 0h0m83 0h0m14 0h0m-81 2h0m31 0h0m-327 2h0m43 0h0m230 0h0m-210 1h0m-3 1h0m-55 1h0m42 0h0m-29 2h0m1 0h0m36 0h0m340 0h0m-361 2h0m30 0h0m248 0h0m-268 1h0m214 0h0m111 0h0m-8 2h0m2 0h0m-80 1h0m107 0h0m-381 2h0m242 1h0m50 0h0m32 0h0m-268 1h0m-49 1h0m42 1h0m5 0h0m-75 1h0m44 0h0m225 0h0m65 0h0m9 0h0m-54 1h0m103 0h0m-49 1h0m13 0h0m-335 1h0m8 0h0m22 0h0m226 0h0m-16 1h0m104 0h0m-91 1h0m28 0h0m-269 1h0m247 1h0m2 1h0m-239 1h0m307 0h0m-89 2h0m-218 1h0m280 2h0m28 1h0m-301 2h0m257 0h0m6 1h0m-16 1h0m39 0h0m-41 1h0m-237 1h0m255 1h0m8 1h0m57 0h0m-90 2h0m41 1h0m25 0h0m-4 1h0m-96 1h0m8 1h0m52 1h0m23 0h0m19 2h0m-75 1h0m60 0h0m-286 2h0m218 0h0m57 3h0m-36 2h0m-5 1h0m-13 3h0m72 0h0m-31 2h0m-1 2h0m10 5h0m-34 9h0m11 9h0" stroke="#D3D3D3"/><path d="M332 91h0m44 1h0m-14 1h0m-15 1h0m27 0h0m-30 1h0m-29 1h0m40 0h0m8 0h0m-11 3h0m20 0h0m-53 2h0m13 0h0m-3 2h0m63 0h0m-27 1h0m27 2h0m-1 3h0m-62 2h0m-16 2h0m19 0h0m2 1h0m41 0h0m3 0h0m-54 2h0m44 0h0m30 1h0m-24 1h0m-54 1h0m1 0h0m56 1h0m16 1h0m-48 1h0m26 0h0m-39 3h0m22 1h0m-46 2h0m48 1h0m-12 3h0m3 1h0m44 0h0m34 0h0m-114 1h0m32 0h0m-2 1h0m72 0h0m-96 1h0m22 0h0m-22 1h0m1 0h0m15 0h0m62 0h0m20 0h0m-75 1h0m68 4h0m-15 2h0m3 2h0m-92 1h0m8 0h0m16 0h0m-14 1h0m107 0h0m-77 1h0m-44 1h0m89 1h0m-83 1h0m91 0h0m-94 1h0m92 0h0m-89 1h0m56 0h0m-52 1h0m14 0h0m34 0h0m35 0h0m-115 3h0m112 0h0m-26 1h0m-88 1h0m17 0h0m100 0h0m-115 1h0m61 1h0m56 0h0m-107 1h0m21 2h0m-50 1h0m-1 1h0m101 8h0m-135 9h0m26 0h0m-26 4h0m-13 11h0m35 0h0m-7 2h0m-30 8h0m3 6h0m192 1h0m-167 2h0m-22 2h0m13 0h0m-20 1h0m38 1h0m-19 2h0m9 2h0m191 0h0m38 1h0m-234 1h0m200 2h0m11 2h0m27 3h0m-94 1h0m81 1h0m-88 2h0m-114 4h0m6 1h0m189 2h0m-182 1h0m202 0h0m-4 3h0m13 0h0m-33 1h0m1 2h0m-169 2h0m170 10h0m39 7h0m-38 1h0m20 0h0m-29 1h0m0 4h0m3 1h0m21 3h0m3 0h0m6 1h0m-13 3h0m16 0h0m-27 2h0m11 0h0m18 0h0m-29 1h0m21 0h0m-29 2h0m50 0h0m-54 1h0m16 0h0m36 0h0m10 1h0m-34 1h0m31 0h0m-17 3h0m23 2h0m-23 5h0m12 1h0m3 1h0m-6 2h0m8 4h0m18 0h0m-49 5h0m57 0h0m-67 3h0m66 4h0m-55 2h0m-111 1h0m142 0h0m18 1h0m10 0h0m5 1h0m16 1h0m-85 1h0m10 0h0m71 1h0m-31 1h0m-193 2h0m2 0h0m-6 1h0m118 0h0m108 0h0m-71 1h0m7 0h0m-53 1h0m53 0h0m77 0h0m-234 1h0m29 0h0m118 1h0m31 0h0m-183 1h0m5 0h0m218 0h0m14 0h0m-27 1h0m-187 1h0m187 0h0m-207 1h0m201 0h0m11 0h0m-105 1h0m-111 2h0m210 0h0m10 0h0m-24 2h0m23 0h0m-30 1h0m-155 1h0m104 0h0m43 0h0m34 0h0m5 0h0m-1 2h0m-197 1h0m108 0h0m48 0h0m-119 1h0m51 0h0m-163 1h0m96 0h0m110 0h0m69 0h0m-178 1h0m113 0h0m33 1h0m-49 1h0m50 0h0m-31 1h0m58 0h0m-152 1h0m3 0h0m81 0h0m-95 2h0m-9 1h0m203 0h0m-187 1h0m117 0h0m39 0h0m21 0h0m12 0h0m-145 2h0m133 0h0m16 0h0m-199 1h0m103 0h0m21 1h0m6 0h0m-116 1h0m131 0h0m-34 1h0m34 0h0m-116 1h0m1 0h0m87 0h0m59 0h0m3 0h0m-174 1h0m42 0h0m82 1h0m63 0h0m-131 1h0m47 0h0m48 0h0m9 0h0m29 0h0m4 0h0m-163 1h0m137 0h0m-160 1h0m83 0h0m-25 1h0m60 0h0m9 1h0m2 0h0m50 1h0m-344 1h0m295 1h0m18 0h0m10 0h0m-317 1h0m4 0h0m184 0h0m152 0h0m-22 1h0m11 0h0m-77 1h0m51 0h0m12 0h0m-110 1h0m93 1h0m-85 1h0m65 0h0m-71 1h0m43 0h0m93 0h0m4 0h0m-339 1h0m234 0h0m13 0h0m-42 1h0m72 0h0m-83 1h0m14 0h0m64 0h0m-308 2h0m239 0h0m9 0h0m18 0h0m-244 1h0m22 0h0m186 0h0m68 1h0m74 0h0m-140 1h0m36 0h0m13 1h0m0 0h0m38 0h0m33 0h0m14 0h0m-347 1h0m252 0h0m23 0h0m-252 1h0m221 1h0m13 0h0m75 0h0m-318 1h0m332 0h0m-106 2h0m-8 1h0m11 0h0m5 0h0m76 0h0m15 0h0m-104 1h0m58 0h0m21 0h0m-308 1h0m252 0h0m6 0h0m65 0h0m-72 1h0m-42 1h0m1 0h0m34 0h0m7 0h0m34 1h0m-51 1h0m43 0h0m-16 1h0m29 0h0m53 0h0m-376 1h0m0 0h0m258 0h0m16 0h0m42 0h0m21 0h0m-94 1h0m10 0h0m23 0h0m-332 2h0m98 0h0m214 0h0m19 1h0m-311 2h0m4 1h0m268 0h0m-269 1h0m9 0h0m8 0h0m301 0h0m-17 2h0m76 0h0m-385 1h0m399 0h0m-123 1h0m87 0h0m36 0h0m-53 2h0m-51 1h0m23 0h0m-57 1h0m15 0h0m46 0h0m-329 1h0m277 0h0m68 3h0m-51 1h0m57 0h0m3 2h0m38 0h0m7 1h0m-51 1h0m2 1h0m12 0h0m0 0h0m-47 3h0m12 0h0m24 0h0m-45 1h0m1 0h0m32 1h0m-1 1h0m-44 1h0m-19 1h0m4 0h0m76 2h0m-72 1h0m38 1h0m11 0h0m40 3h0m-49 1h0m-30 1h0m39 0h0m42 1h0m-32 1h0m30 0h0m2 1h0m-78 1h0m30 0h0m25 0h0m-66 1h0m30 0h0m7 0h0m23 0h0m-39 1h0m12 0h0m12 0h0m12 1h0m-20 1h0m42 1h0m6 5h0m-18 3h0m-31 1h0m1 0h0m5 0h0m29 0h0m-55 1h0m18 0h0m22 4h0m-4 7h0" stroke="#855BF2"/><path d="M366 93h0m-13 2h0m-18 1h0m34 1h0m-47 2h0m12 0h0m33 1h0m3 1h0m-47 2h0m12 0h0m48 0h0m-27 2h0m19 0h0m-55 1h0m3 0h0m15 0h0m54 0h0m-49 1h0m22 0h0m13 2h0m-29 3h0m-12 3h0m36 0h0m-34 2h0m58 0h0m-77 1h0m35 0h0m19 1h0m-54 1h0m30 0h0m36 0h0m-18 2h0m-41 1h0m36 1h0m-23 1h0m11 0h0m21 1h0m-57 1h0m35 0h0m29 0h0m30 0h0m-91 2h0m-4 1h0m-5 3h0m5 1h0m6 0h0m8 4h0m101 0h0m-12 1h0m-98 1h0m72 2h0m-58 1h0m56 2h0m7 0h0m-60 2h0m58 0h0m-84 1h0m30 2h0m71 1h0m-105 2h0m38 0h0m53 0h0m-94 2h0m53 2h0m-7 1h0m-7 1h0m55 0h0m-18 1h0m-100 3h0m12 1h0m-24 1h0m-39 3h0m48 1h0m-31 2h0m-23 9h0m13 0h0m14 4h0m-26 2h0m3 0h0m16 0h0m-30 6h0m13 0h0m9 4h0m-15 1h0m-2 1h0m15 5h0m-5 2h0m-12 4h0m18 0h0m152 0h0m-139 1h0m-28 6h0m24 1h0m178 3h0m-29 2h0m-168 1h0m155 1h0m-171 3h0m258 1h0m-26 8h0m-1 1h0m13 1h0m21 2h0m-13 3h0m14 3h0m5 5h0m-17 3h0m21 17h0m-35 5h0m12 1h0m-21 4h0m40 0h0m-10 1h0m-17 4h0m-16 1h0m38 0h0m2 7h0m-39 2h0m74 4h0m-6 14h0m-30 1h0m-125 3h0m3 0h0m177 0h0m1 0h0m-10 1h0m15 2h0m-188 1h0m5 0h0m118 0h0m-27 2h0m4 1h0m62 0h0m-32 1h0m-125 1h0m146 0h0m-141 5h0m80 0h0m89 0h0m-55 2h0m-157 1h0m180 1h0m-75 1h0m-105 1h0m13 0h0m21 0h0m-34 1h0m226 0h0m-103 1h0m24 0h0m63 0h0m13 0h0m-68 1h0m-147 1h0m167 0h0m-145 1h0m114 0h0m34 0h0m-152 1h0m89 1h0m59 0h0m42 0h0m-190 1h0m130 0h0m9 0h0m-156 1h0m-6 1h0m161 0h0m21 0h0m-144 1h0m73 0h0m26 0h0m23 1h0m2 0h0m23 0h0m0 0h0m20 0h0m-71 1h0m75 0h0m36 1h0m-115 1h0m22 0h0m40 0h0m19 0h0m8 0h0m-37 1h0m14 0h0m41 0h0m-41 1h0m-35 1h0m22 0h0m51 0h0m-123 1h0m99 0h0m26 1h0m5 0h0m-103 2h0m7 0h0m3 0h0m37 2h0m-125 1h0m116 1h0m56 1h0m-179 1h0m79 0h0m112 0h0m-186 1h0m29 0h0m85 0h0m4 0h0m-99 1h0m73 1h0m43 1h0m34 0h0m-40 1h0m1 0h0m-138 1h0m136 0h0m-61 1h0m96 0h0m16 0h0m-168 1h0m75 0h0m32 0h0m6 0h0m-68 1h0m64 0h0m-5 2h0m-248 2h0m249 0h0m10 0h0m17 0h0m-57 1h0m60 0h0m35 0h0m12 0h0m-11 1h0m-370 1h0m200 0h0m93 0h0m5 0h0m7 0h0m58 0h0m2 0h0m-107 1h0m21 0h0m73 0h0m8 1h0m4 0h0m18 0h0m-180 1h0m25 0h0m-156 1h0m-85 1h0m291 0h0m-245 1h0m211 0h0m-167 1h0m4 0h0m135 0h0m39 0h0m25 0h0m18 0h0m36 0h0m-60 1h0m41 0h0m-35 1h0m5 0h0m33 0h0m51 0h0m-349 1h0m273 0h0m-58 1h0m1 1h0m15 0h0m14 0h0m11 0h0m-16 1h0m26 1h0m22 1h0m4 0h0m39 0h0m-91 1h0m110 0h0m0 0h0m-382 2h0m50 0h0m199 0h0m36 0h0m50 0h0m26 0h0m-121 1h0m38 0h0m38 0h0m46 0h0m-51 2h0m-304 1h0m275 2h0m20 0h0m-271 1h0m305 0h0m-284 1h0m231 0h0m6 0h0m45 0h0m-32 1h0m18 0h0m46 0h0m-329 1h0m246 0h0m92 0h0m5 1h0m-401 1h0m329 0h0m1 1h0m12 0h0m55 0h0m-48 1h0m-320 1h0m285 0h0m-325 1h0m30 0h0m256 0h0m28 1h0m97 0h0m-392 1h0m337 0h0m-362 1h0m390 1h0m-333 2h0m313 0h0m-377 1h0m83 0h0m324 0h0m-77 1h0m67 0h0m18 0h0m-418 1h0m54 0h0m245 0h0m-6 2h0m0 1h0m25 0h0m42 0h0m7 0h0m30 0h0m5 1h0m-401 1h0m321 0h0m1 0h0m90 0h0m-27 2h0m3 0h0m-313 1h0m214 1h0m48 0h0m-46 1h0m-217 1h0m258 0h0m46 1h0m6 0h0m-81 1h0m100 2h0m-120 1h0m13 0h0m67 0h0m29 0h0m-94 1h0m39 0h0m2 0h0m43 0h0m-69 5h0m27 0h0m13 2h0m-58 1h0m10 0h0m-10 1h0m35 0h0m49 0h0m7 1h0m-86 1h0m69 0h0m-70 1h0m34 0h0m7 0h0m-44 1h0m59 0h0m-17 1h0m3 1h0m-57 1h0m6 3h0m39 0h0m19 0h0m27 4h0m-27 1h0m31 0h0m-84 2h0m37 0h0m35 1h0m-5 2h0m-48 4h0m48 0h0m-8 2h0m1 0h0m-13 4h0m-22 1h0m3 2h0m3 3h0m0 3h0m8 0h0" stroke="#8E65F0"/><path d="M382 106h0m28 45h0m-189 24h0m10 23h0m-20 17h0m291 116h0m3 20h0m-13 1h0m27 0h0m-327 2h0m6 3h0m289 4h0m-283 6h0m46 0h0m277 7h0m-273 2h0m-37 2h0m296 4h0m-268 3h0m-18 1h0m2 2h0m-33 2h0m-18 2h0m3 3h0m26 6h0m5 5h0m-3 2h0m260 1h0m-243 3h0m244 1h0m-299 6h0m242 7h0m84 3h0m2 9h0m-291 4h0" stroke="#C6B7DB"/><path d="M381 94h0m-46 5h0m25 2h0m-45 5h0m20 0h0m57 3h0m-59 6h0m9 6h0m21 0h0m-51 1h0m51 0h0m-3 1h0m-43 3h0m-4 1h0m89 0h0m-7 2h0m-69 1h0m7 1h0m14 1h0m11 2h0m6 1h0m-51 1h0m76 2h0m-34 3h0m-13 5h0m10 0h0m17 0h0m-58 2h0m68 1h0m-64 1h0m95 0h0m-69 1h0m3 0h0m55 0h0m-51 1h0m-51 1h0m6 0h0m-1 1h0m-18 1h0m88 1h0m-55 1h0m39 0h0m13 0h0m30 0h0m-89 1h0m16 1h0m13 0h0m43 0h0m-117 2h0m-19 1h0m5 0h0m43 0h0m1 0h0m41 0h0m34 0h0m-135 1h0m158 0h0m-98 1h0m-16 1h0m-10 1h0m1 1h0m113 0h0m-122 1h0m-25 1h0m10 0h0m27 0h0m104 1h0m1 0h0m-117 2h0m-14 1h0m129 2h0m-137 1h0m7 0h0m-5 1h0m142 0h0m-7 3h0m-127 1h0m-23 3h0m1 3h0m19 0h0m140 5h0m-136 2h0m-39 1h0m-3 2h0m40 1h0m2 2h0m146 0h0m-183 2h0m37 0h0m-22 1h0m21 0h0m-2 1h0m-37 3h0m17 0h0m160 0h0m-138 1h0m-40 1h0m-3 2h0m15 0h0m-16 1h0m42 0h0m147 0h0m-150 1h0m162 1h0m20 0h0m-211 1h0m183 2h0m-158 1h0m142 1h0m-136 2h0m166 0h0m14 0h0m-218 1h0m0 0h0m9 0h0m175 0h0m24 0h0m-186 1h0m174 0h0m27 0h0m16 0h0m-81 1h0m2 1h0m10 0h0m-157 1h0m172 0h0m1 0h0m46 0h0m10 0h0m-66 1h0m-11 1h0m95 0h0m-94 2h0m58 2h0m41 1h0m-75 1h0m42 2h0m-5 1h0m23 0h0m-25 1h0m15 1h0m-198 1h0m190 1h0m-4 1h0m13 1h0m25 0h0m-6 2h0m3 0h0m6 1h0m-43 3h0m2 0h0m10 1h0m-173 1h0m191 0h0m17 3h0m-42 1h0m45 0h0m-202 1h0m1 0h0m201 1h0m-204 2h0m167 2h0m40 0h0m-42 2h0m-7 1h0m-5 1h0m16 0h0m16 0h0m13 0h0m-1 3h0m-18 2h0m24 2h0m-2 2h0m-32 2h0m36 1h0m1 0h0m-10 1h0m-35 2h0m46 0h0m-52 2h0m39 0h0m-1 6h0m1 4h0m0 0h0m-3 1h0m5 3h0m-23 1h0m20 1h0m6 1h0m22 4h0m-4 2h0m12 3h0m-2 2h0m20 3h0m-29 1h0m2 0h0m-14 2h0m46 2h0m-37 1h0m43 0h0m-9 3h0m-33 1h0m24 1h0m-170 2h0m100 0h0m63 0h0m35 0h0m-40 1h0m30 1h0m6 0h0m-17 1h0m4 2h0m13 0h0m-31 3h0m-65 1h0m39 1h0m19 1h0m-92 1h0m66 1h0m-166 1h0m110 1h0m14 0h0m115 0h0m-113 1h0m101 0h0m-25 1h0m-194 1h0m119 0h0m56 4h0m27 0h0m-62 1h0m80 0h0m-14 2h0m-88 1h0m65 0h0m24 0h0m3 1h0m-347 1h0m8 1h0m273 0h0m-293 1h0m14 0h0m14 0h0m259 0h0m-278 1h0m301 0h0m52 0h0m-181 1h0m105 2h0m-256 1h0m54 0h0m208 0h0m75 0h0m-288 2h0m108 0h0m31 0h0m133 0h0m31 0h0m-345 2h0m-14 1h0m53 0h0m123 0h0m-198 1h0m40 0h0m39 0h0m6 0h0m137 0h0m-217 1h0m42 0h0m24 0h0m9 0h0m137 0h0m98 0h0m-319 1h0m51 0h0m31 0h0m130 0h0m18 1h0m48 0h0m17 0h0m100 0h0m-342 1h0m162 1h0m18 0h0m12 1h0m139 1h0m-77 1h0m-225 1h0m202 0h0m15 0h0m-297 1h0m58 0h0m168 1h0m-166 1h0m335 0h0m-381 1h0m22 0h0m-8 1h0m230 0h0m-18 1h0m-165 1h0m-57 1h0m234 0h0m24 1h0m-264 1h0m67 0h0m-29 2h0m5 0h0m273 0h0m22 0h0m-300 1h0m206 2h0m82 0h0m-255 1h0m298 0h0m-322 1h0m278 0h0m-63 1h0m-203 1h0m-41 2h0m-66 2h0m371 4h0m50 0h0m-85 1h0m21 0h0m-294 1h0m34 0h0m293 5h0m-333 1h0m324 0h0m19 0h0m-339 1h0m234 0h0m72 0h0m-359 1h0m347 0h0m-271 3h0m-69 1h0m281 0h0m32 0h0m-248 1h0m196 0h0m-182 1h0m182 0h0m55 0h0m1 1h0m-245 2h0m7 0h0m311 0h0m6 0h0m-333 1h0m12 0h0m-61 1h0m65 1h0m-7 1h0m312 0h0m-412 1h0m293 0h0m40 0h0m-52 1h0m48 0h0m53 0h0m-278 1h0m215 0h0m101 0h0m-357 1h0m39 0h0m213 0h0m-13 2h0m83 1h0m20 0h0m-94 1h0m16 0h0m21 1h0m-278 1h0m15 0h0m206 0h0m8 0h0m51 0h0m-273 4h0m306 0h0m-309 1h0m331 0h0m-41 5h0m16 1h0m-292 1h0m201 0h0m37 4h0m25 5h0m26 0h0m-7 1h0m-62 2h0m-10 1h0m75 0h0m-72 1h0m88 0h0m-8 2h0m-56 2h0m15 1h0m18 0h0m7 5h0m-24 11h0" stroke="#D3D3D3"/><path d="M326 93h0m4 0h0m17 0h0m23 0h0m-46 2h0m1 2h0m24 0h0m-7 1h0m-24 1h0m-3 5h0m41 0h0m-26 1h0m22 0h0m21 1h0m20 0h0m-19 2h0m-1 2h0m-3 1h0m-17 1h0m-1 1h0m-28 1h0m9 0h0m26 0h0m5 0h0m3 0h0m-31 3h0m-9 1h0m54 0h0m-6 4h0m-42 1h0m15 0h0m6 0h0m-19 1h0m2 0h0m56 0h0m-7 1h0m-77 1h0m89 3h0m-85 1h0m0 1h0m51 0h0m58 1h0m-28 1h0m7 1h0m-8 2h0m-83 6h0m45 0h0m41 1h0m12 0h0m-17 1h0m-49 3h0m5 0h0m-1 2h0m50 2h0m-81 2h0m-46 3h0m13 4h0m111 0h0m1 1h0m-77 3h0m-76 1h0m-16 1h0m10 3h0m24 7h0m-43 2h0m160 1h0m-153 4h0m164 3h0m-154 2h0m2 0h0m9 5h0m-22 3h0m6 4h0m17 0h0m-24 1h0m4 1h0m-6 1h0m-3 2h0m-4 6h0m9 3h0m-18 2h0m188 0h0m32 0h0m-46 4h0m54 1h0m-227 4h0m205 0h0m-173 2h0m188 2h0m-216 2h0m32 0h0m130 2h0m90 0h0m-204 6h0m186 5h0m-5 1h0m12 2h0m3 1h0m11 0h0m-13 2h0m18 1h0m-186 14h0m203 3h0m-45 1h0m16 4h0m-22 3h0m7 0h0m35 1h0m2 3h0m-30 4h0m6 0h0m13 3h0m-29 4h0m13 2h0m34 1h0m-3 2h0m-4 1h0m-39 2h0m67 0h0m-19 7h0m4 3h0m-28 2h0m10 0h0m-8 2h0m32 2h0m-15 2h0m-25 1h0m20 0h0m17 0h0m16 0h0m-157 4h0m122 0h0m-4 1h0m36 1h0m7 0h0m21 1h0m-49 1h0m-29 1h0m88 0h0m-195 1h0m139 0h0m26 1h0m-15 3h0m1 1h0m0 2h0m-61 1h0m37 0h0m28 1h0m18 0h0m-16 1h0m-82 1h0m91 1h0m8 0h0m-106 1h0m131 0h0m-15 1h0m-222 1h0m34 0h0m72 0h0m87 1h0m-157 1h0m118 0h0m27 0h0m42 0h0m-185 1h0m129 0h0m57 0h0m-207 1h0m116 0h0m112 1h0m-46 1h0m-188 1h0m185 0h0m-67 1h0m-106 1h0m102 0h0m72 0h0m-88 1h0m38 1h0m10 0h0m78 0h0m-201 1h0m93 0h0m26 1h0m-283 1h0m-2 1h0m278 0h0m70 0h0m-99 1h0m26 0h0m1 0h0m95 0h0m3 0h0m12 0h0m-194 1h0m-170 1h0m231 0h0m44 1h0m39 0h0m45 0h0m-91 1h0m24 0h0m-131 1h0m14 1h0m8 1h0m-4 1h0m75 0h0m38 0h0m66 0h0m-193 1h0m197 1h0m-124 1h0m24 0h0m36 0h0m42 0h0m-54 1h0m-105 1h0m7 1h0m0 0h0m176 0h0m-171 1h0m9 0h0m29 0h0m-184 1h0m130 0h0m106 0h0m9 1h0m56 0h0m15 0h0m1 0h0m-95 1h0m-287 1h0m282 1h0m21 0h0m67 0h0m-140 2h0m129 0h0m-127 1h0m46 0h0m-20 1h0m61 0h0m-323 1h0m217 0h0m36 0h0m-227 1h0m191 0h0m24 0h0m30 0h0m62 0h0m-298 1h0m211 0h0m16 0h0m35 0h0m44 0h0m29 0h0m-299 1h0m1 0h0m178 0h0m12 0h0m32 0h0m15 0h0m21 0h0m10 1h0m6 0h0m-355 1h0m359 0h0m-337 1h0m246 0h0m50 0h0m19 0h0m-63 1h0m15 0h0m33 1h0m48 1h0m12 0h0m-114 1h0m-226 1h0m13 0h0m189 0h0m73 0h0m-296 1h0m304 0h0m24 0h0m-7 1h0m-294 1h0m226 0h0m78 0h0m23 0h0m-12 1h0m2 0h0m-327 1h0m241 0h0m21 0h0m-235 1h0m274 0h0m-83 1h0m2 0h0m-3 1h0m38 0h0m58 0h0m-23 1h0m7 0h0m53 1h0m-367 1h0m314 0h0m-292 3h0m8 0h0m259 1h0m-20 1h0m20 0h0m3 0h0m-302 1h0m244 0h0m35 0h0m73 0h0m-374 1h0m392 0h0m-105 1h0m-39 2h0m23 0h0m18 0h0m36 0h0m54 1h0m-65 1h0m-325 1h0m318 0h0m43 0h0m-49 1h0m51 0h0m-96 1h0m120 0h0m-6 2h0m-41 1h0m3 0h0m-14 1h0m38 0h0m-324 1h0m332 1h0m-319 1h0m208 0h0m40 0h0m52 0h0m32 0h0m-417 1h0m374 1h0m28 0h0m-302 1h0m226 0h0m-6 1h0m39 0h0m66 0h0m-64 1h0m-54 1h0m82 0h0m4 0h0m-72 2h0m10 0h0m4 0h0m18 1h0m-33 1h0m54 0h0m30 0h0m6 0h0m-36 1h0m14 0h0m-13 2h0m37 0h0m-34 2h0m26 1h0m-116 2h0m7 0h0m11 1h0m14 2h0m-26 1h0m1 0h0m80 0h0m9 0h0m-64 1h0m63 0h0m9 0h0m-91 1h0m12 1h0m86 1h0m-84 1h0m76 0h0m8 0h0m-62 1h0m6 0h0m-25 2h0m7 0h0m2 0h0m36 0h0m33 0h0m-43 1h0m27 0h0m-64 2h0m24 0h0m5 2h0m31 0h0m-15 1h0m-17 1h0m30 5h0m1 0h0m-14 2h0m-9 4h0m12 1h0m-26 2h0m-8 5h0m26 1h0" stroke="#8E65F0"/><path d="M350 88h0m27 2h0m-19 3h0m5 0h0m15 0h0m-49 4h0m-9 1h0m50 3h0m-51 1h0m18 0h0m-9 1h0m8 0h0m37 2h0m-23 2h0m5 2h0m-37 1h0m-1 1h0m52 0h0m-13 1h0m3 1h0m-21 2h0m28 0h0m-38 1h0m33 1h0m12 0h0m-58 2h0m9 0h0m13 0h0m26 1h0m12 1h0m18 0h0m-17 1h0m-2 2h0m7 0h0m-62 2h0m0 1h0m52 1h0m-50 2h0m9 0h0m12 0h0m26 1h0m-18 2h0m17 0h0m28 1h0m-34 2h0m0 0h0m31 0h0m-79 1h0m16 0h0m48 1h0m-37 1h0m56 1h0m-17 1h0m-56 3h0m4 1h0m66 1h0m-85 2h0m14 0h0m12 0h0m7 1h0m12 0h0m38 1h0m9 0h0m7 0h0m-56 2h0m39 0h0m-40 3h0m-34 1h0m81 1h0m-71 1h0m-53 1h0m90 0h0m28 0h0m6 0h0m-109 1h0m-2 2h0m-35 1h0m1 2h0m11 0h0m-13 1h0m1 2h0m5 0h0m-35 4h0m21 5h0m-12 3h0m149 5h0m-129 5h0m-18 5h0m21 0h0m-47 3h0m41 0h0m-22 1h0m172 1h0m-172 1h0m-9 1h0m170 2h0m-143 6h0m4 6h0m-6 3h0m183 2h0m-218 1h0m168 0h0m52 0h0m4 0h0m-208 3h0m-3 1h0m176 1h0m-176 1h0m150 0h0m0 0h0m2 0h0m9 2h0m-150 1h0m145 1h0m100 0h0m-211 9h0m214 2h0m-32 2h0m-2 5h0m10 6h0m24 4h0m-42 1h0m-151 2h0m-3 1h0m161 1h0m8 3h0m12 2h0m-19 7h0m4 2h0m-6 3h0m24 3h0m-20 3h0m14 5h0m18 6h0m13 1h0m17 1h0m-8 1h0m12 2h0m-54 4h0m7 1h0m-2 1h0m11 3h0m28 0h0m11 0h0m-52 1h0m44 0h0m-26 2h0m45 3h0m10 1h0m-182 1h0m139 0h0m-138 1h0m157 1h0m30 0h0m-16 2h0m-33 1h0m38 1h0m-179 1h0m124 1h0m-126 2h0m7 0h0m100 0h0m-110 1h0m122 0h0m76 1h0m-18 2h0m9 0h0m19 0h0m-237 1h0m201 0h0m-198 1h0m134 0h0m56 0h0m-31 1h0m-157 2h0m192 0h0m-172 1h0m82 0h0m92 0h0m-79 1h0m51 0h0m-164 1h0m91 0h0m3 0h0m134 0h0m-239 1h0m3 0h0m9 0h0m24 0h0m95 0h0m-105 1h0m164 0h0m25 0h0m-9 1h0m-177 1h0m84 2h0m29 0h0m-35 2h0m-58 1h0m137 1h0m-72 1h0m15 0h0m49 0h0m-41 1h0m54 0h0m-17 1h0m8 0h0m-74 1h0m49 0h0m88 0h0m-119 1h0m74 1h0m38 0h0m-80 1h0m0 1h0m9 0h0m46 0h0m-100 1h0m134 0h0m-1 3h0m-85 1h0m88 0h0m-190 2h0m138 0h0m22 0h0m16 0h0m-34 1h0m-29 1h0m59 0h0m-156 1h0m116 0h0m-19 1h0m79 0h0m-5 1h0m-67 1h0m72 0h0m-135 1h0m-37 1h0m51 1h0m63 0h0m9 0h0m-111 1h0m29 0h0m57 0h0m22 1h0m20 0h0m35 0h0m-122 1h0m91 0h0m-343 1h0m272 0h0m-16 1h0m3 0h0m30 0h0m-30 1h0m100 0h0m7 0h0m-351 1h0m221 0h0m66 0h0m-38 1h0m22 0h0m23 0h0m-294 1h0m47 0h0m175 0h0m49 0h0m-297 1h0m325 0h0m-36 1h0m78 1h0m-323 1h0m229 0h0m38 0h0m-60 1h0m-231 1h0m13 0h0m276 0h0m48 1h0m-120 1h0m46 0h0m107 0h0m-120 1h0m48 0h0m70 0h0m-30 1h0m-72 1h0m66 0h0m-112 1h0m11 0h0m-8 1h0m86 1h0m5 0h0m-49 1h0m16 0h0m55 0h0m-77 1h0m18 0h0m54 0h0m-363 1h0m300 0h0m69 0h0m-311 1h0m279 0h0m0 0h0m44 0h0m-136 1h0m25 0h0m74 0h0m31 0h0m-42 3h0m-292 1h0m304 0h0m19 0h0m-294 1h0m273 0h0m-392 1h0m353 0h0m12 0h0m42 0h0m22 0h0m-374 1h0m234 0h0m67 0h0m12 0h0m-267 1h0m296 0h0m27 0h0m-86 2h0m42 0h0m-334 1h0m27 0h0m280 0h0m20 0h0m-39 1h0m25 0h0m-320 2h0m8 0h0m373 1h0m11 0h0m-122 1h0m62 0h0m5 0h0m33 0h0m5 0h0m-91 2h0m35 0h0m17 0h0m-293 1h0m250 0h0m23 0h0m-349 1h0m380 0h0m-2 1h0m28 1h0m-336 1h0m220 0h0m64 0h0m-36 1h0m17 2h0m66 0h0m-100 1h0m75 0h0m26 0h0m-336 1h0m253 0h0m21 0h0m11 0h0m-75 1h0m24 1h0m0 2h0m41 0h0m6 0h0m-38 2h0m16 0h0m42 0h0m-80 1h0m-218 1h0m219 1h0m-201 2h0m193 0h0m2 0h0m120 0h0m-96 1h0m9 0h0m-242 2h0m235 0h0m93 0h0m2 0h0m-96 1h0m27 0h0m-26 2h0m-17 2h0m60 0h0m7 0h0m20 1h0m16 0h0m-110 1h0m39 1h0m1 0h0m45 1h0m-64 1h0m68 0h0m17 0h0m-25 1h0m-29 2h0m36 0h0m-59 1h0m39 0h0m-3 1h0m33 0h0m-42 1h0m15 0h0m-34 1h0m-27 1h0m68 1h0m-59 1h0m53 0h0m-59 1h0m25 1h0m-6 1h0m33 0h0m24 0h0m-6 1h0m-62 1h0m17 0h0m50 3h0m-8 1h0m-58 1h0m49 0h0m-46 3h0m11 1h0m10 0h0m14 0h0m3 0h0m9 0h0m2 1h0m-28 1h0m-3 4h0m7 2h0" stroke="#855BF2"/><path d="M349 93h0m6 0h0m1 1h0m7 0h0m-7 1h0m-36 1h0m38 0h0m11 0h0m-51 1h0m41 0h0m7 0h0m-32 3h0m33 2h0m-44 2h0m-3 2h0m8 1h0m17 1h0m-5 1h0m31 0h0m23 0h0m-59 1h0m31 0h0m-54 3h0m14 0h0m68 1h0m-81 1h0m56 0h0m-44 2h0m42 1h0m20 0h0m-5 3h0m-63 1h0m58 0h0m-17 2h0m-18 1h0m-27 1h0m30 0h0m35 1h0m-41 2h0m32 2h0m22 0h0m-38 1h0m14 0h0m7 0h0m-60 1h0m9 0h0m53 0h0m-35 1h0m27 0h0m-42 1h0m24 0h0m23 0h0m-54 4h0m17 0h0m-30 1h0m107 1h0m-77 1h0m15 1h0m-43 1h0m30 0h0m1 0h0m42 0h0m22 1h0m-27 1h0m-75 2h0m54 0h0m13 0h0m-57 1h0m30 1h0m10 0h0m2 0h0m-8 1h0m33 0h0m-95 2h0m23 0h0m81 0h0m-109 3h0m48 1h0m40 0h0m-107 1h0m105 0h0m31 0h0m-44 1h0m45 0h0m-123 1h0m14 0h0m2 0h0m-41 1h0m73 1h0m30 0h0m14 0h0m-123 1h0m81 0h0m-93 1h0m27 0h0m121 1h0m-120 1h0m-3 3h0m6 0h0m-22 1h0m99 0h0m-100 8h0m5 1h0m-28 1h0m35 0h0m-35 1h0m8 0h0m-9 6h0m37 0h0m-22 5h0m150 4h0m-173 4h0m26 1h0m-24 3h0m-2 4h0m181 2h0m-185 4h0m195 2h0m6 1h0m-14 2h0m-150 2h0m189 0h0m-214 3h0m9 0h0m25 0h0m169 0h0m8 0h0m-214 1h0m165 0h0m1 0h0m-159 2h0m149 0h0m-156 1h0m172 0h0m60 0h0m-217 1h0m141 3h0m91 1h0m-75 1h0m-142 1h0m-4 1h0m181 2h0m6 0h0m6 0h0m33 5h0m-199 3h0m215 1h0m-212 4h0m172 6h0m-164 5h0m8 2h0m158 0h0m2 1h0m25 1h0m-185 1h0m165 3h0m2 0h0m25 0h0m-195 1h0m200 0h0m-37 5h0m-10 2h0m26 1h0m-13 2h0m29 3h0m-33 3h0m23 0h0m16 2h0m-44 1h0m55 0h0m5 2h0m-48 7h0m48 4h0m11 1h0m-13 1h0m8 3h0m1 1h0m2 1h0m-37 1h0m5 1h0m55 6h0m-81 1h0m54 0h0m12 1h0m16 2h0m-62 1h0m7 0h0m47 0h0m-31 1h0m-37 1h0m15 1h0m-119 1h0m0 1h0m148 3h0m-19 1h0m1 0h0m39 0h0m-55 1h0m71 0h0m-230 2h0m170 0h0m15 0h0m-142 1h0m116 0h0m-36 1h0m46 0h0m-171 1h0m12 0h0m105 0h0m42 0h0m42 0h0m4 0h0m-78 1h0m-123 2h0m158 0h0m28 0h0m21 0h0m0 0h0m-51 1h0m30 1h0m61 0h0m-9 1h0m-87 1h0m31 0h0m-57 1h0m76 0h0m17 0h0m-9 1h0m21 0h0m-189 1h0m147 0h0m31 0h0m-76 1h0m98 0h0m-227 1h0m157 0h0m62 0h0m-70 1h0m58 0h0m-200 1h0m101 0h0m84 0h0m-78 2h0m90 1h0m-106 1h0m99 0h0m7 0h0m19 0h0m-70 1h0m59 0h0m29 0h0m-135 1h0m121 1h0m-177 1h0m71 0h0m71 0h0m-90 1h0m52 0h0m74 1h0m-25 1h0m-17 1h0m-27 1h0m9 0h0m8 0h0m45 0h0m7 0h0m-13 1h0m-131 2h0m69 0h0m-97 1h0m134 0h0m-118 1h0m171 0h0m-133 1h0m52 0h0m86 0h0m-147 2h0m21 0h0m-21 1h0m-47 1h0m147 0h0m1 0h0m12 0h0m-24 2h0m22 0h0m-134 1h0m-7 1h0m1 0h0m48 0h0m56 0h0m62 0h0m-124 2h0m56 1h0m-80 1h0m43 0h0m94 0h0m-155 1h0m36 0h0m62 0h0m-40 1h0m22 0h0m73 0h0m-339 1h0m301 0h0m20 3h0m33 0h0m-108 1h0m-24 1h0m77 0h0m26 0h0m-129 1h0m55 0h0m0 0h0m5 0h0m26 0h0m-69 1h0m2 0h0m27 0h0m117 0h0m-122 1h0m26 1h0m81 0h0m-80 1h0m-265 1h0m271 1h0m2 0h0m-294 1h0m348 1h0m28 0h0m-97 2h0m42 0h0m-80 1h0m51 0h0m13 0h0m26 0h0m-86 1h0m111 0h0m-109 1h0m124 0h0m-140 1h0m30 0h0m-229 1h0m308 0h0m21 0h0m-120 1h0m103 0h0m-111 1h0m46 0h0m71 0h0m-89 1h0m4 0h0m25 0h0m18 0h0m23 0h0m-72 1h0m113 0h0m-119 1h0m10 2h0m22 0h0m14 0h0m55 0h0m5 0h0m-398 1h0m53 0h0m323 0h0m-290 1h0m184 0h0m66 0h0m28 0h0m-94 3h0m26 0h0m106 0h0m-127 2h0m29 0h0m40 0h0m-9 1h0m-72 2h0m23 0h0m73 0h0m40 0h0m-41 2h0m-87 2h0m-7 2h0m83 2h0m-86 2h0m44 0h0m-239 1h0m194 0h0m3 0h0m36 2h0m41 0h0m48 0h0m-62 2h0m19 0h0m19 0h0m-56 1h0m0 1h0m-47 1h0m11 0h0m29 0h0m23 0h0m41 0h0m4 0h0m-297 1h0m258 0h0m43 0h0m-11 1h0m-86 1h0m87 1h0m3 0h0m-71 2h0m-17 2h0m13 1h0m-23 1h0m14 0h0m82 0h0m-311 1h0m209 1h0m69 0h0m23 0h0m-8 1h0m8 0h0m12 0h0m-100 2h0m69 0h0m-57 2h0m13 1h0m2 0h0m-9 1h0m60 0h0m-6 1h0m-36 2h0m6 0h0m19 0h0m-23 1h0m17 0h0m36 0h0m-10 2h0m-36 2h0m7 1h0m0 0h0m12 1h0m-29 6h0m18 2h0m-28 4h0m16 1h0m-16 2h0m24 0h0m7 2h0" stroke="#7C51F4"/><path d="M351 95h0m25 3h0m-15 1h0m-31 7h0m54 0h0m-6 3h0m-60 1h0m37 3h0m20 0h0m-59 5h0m2 4h0m2 2h0m0 0h0m42 1h0m3 3h0m7 0h0m-27 1h0m51 3h0m-30 1h0m40 0h0m-92 3h0m34 0h0m25 0h0m-49 2h0m-15 1h0m35 0h0m22 0h0m34 4h0m-59 1h0m-33 1h0m7 0h0m4 0h0m11 0h0m52 0h0m12 0h0m-76 1h0m-18 1h0m44 0h0m10 0h0m-30 1h0m99 1h0m-110 1h0m75 1h0m-71 1h0m77 0h0m-60 1h0m33 0h0m27 0h0m-102 2h0m44 0h0m-36 1h0m70 0h0m-69 1h0m3 0h0m-5 1h0m17 0h0m43 0h0m-72 1h0m50 0h0m21 0h0m38 0h0m-154 1h0m16 0h0m10 0h0m17 0h0m107 0h0m-147 2h0m21 0h0m14 0h0m-9 1h0m123 1h0m-148 3h0m4 0h0m11 0h0m-6 7h0m5 0h0m110 1h0m-135 2h0m-10 4h0m18 0h0m-12 4h0m144 1h0m9 2h0m12 2h0m-142 1h0m136 0h0m2 0h0m-148 1h0m143 2h0m-182 1h0m6 0h0m2 2h0m18 5h0m17 0h0m-9 1h0m-15 1h0m165 0h0m-168 1h0m16 0h0m163 1h0m2 0h0m4 3h0m-22 1h0m11 0h0m-1 1h0m4 1h0m-154 2h0m161 0h0m-201 1h0m34 0h0m1 1h0m154 0h0m-16 1h0m50 1h0m-179 3h0m148 0h0m4 2h0m-28 1h0m13 0h0m13 0h0m-194 1h0m217 0h0m-205 2h0m22 0h0m158 2h0m21 0h0m30 0h0m-242 1h0m6 0h0m246 0h0m-85 1h0m65 0h0m11 0h0m-7 1h0m-2 1h0m12 0h0m11 1h0m-32 1h0m33 1h0m-40 1h0m3 0h0m3 0h0m15 0h0m16 1h0m-202 3h0m178 2h0m-180 1h0m185 0h0m-186 3h0m203 0h0m-186 4h0m198 0h0m10 0h0m-205 2h0m162 2h0m12 0h0m27 1h0m-27 2h0m35 0h0m-10 1h0m6 0h0m-49 1h0m29 0h0m-3 1h0m-15 1h0m-160 1h0m153 3h0m0 0h0m46 0h0m-39 2h0m-156 1h0m168 3h0m19 0h0m-31 2h0m25 4h0m-18 1h0m-4 4h0m7 0h0m27 0h0m-42 1h0m18 0h0m33 0h0m-28 1h0m35 1h0m-39 1h0m11 0h0m-28 4h0m40 1h0m7 2h0m-31 1h0m25 4h0m13 6h0m17 3h0m-16 2h0m-16 3h0m44 0h0m-33 3h0m20 2h0m10 0h0m9 0h0m1 3h0m-6 3h0m-33 1h0m46 0h0m-64 1h0m52 0h0m12 0h0m9 3h0m4 2h0m-133 5h0m40 3h0m78 0h0m-182 1h0m-21 1h0m129 0h0m51 3h0m-60 1h0m14 1h0m80 1h0m-219 1h0m196 1h0m-79 1h0m89 0h0m-1 4h0m-67 1h0m-267 1h0m275 0h0m-272 1h0m-18 2h0m286 0h0m-301 1h0m261 0h0m127 0h0m0 1h0m-296 1h0m120 0h0m124 0h0m22 0h0m-79 1h0m11 0h0m93 0h0m-369 1h0m5 0h0m61 0h0m280 0h0m-316 1h0m-21 1h0m56 0h0m120 0h0m188 0h0m-57 1h0m51 0h0m-147 1h0m116 0h0m-328 1h0m31 0h0m154 0h0m-189 1h0m35 0h0m22 0h0m230 0h0m-280 1h0m227 1h0m121 0h0m-357 1h0m47 1h0m19 0h0m-69 1h0m33 0h0m23 0h0m225 0h0m0 2h0m39 0h0m-318 1h0m64 0h0m144 0h0m135 0h0m-314 1h0m190 0h0m-171 1h0m155 0h0m31 0h0m59 0h0m14 0h0m62 0h0m-346 1h0m14 0h0m241 0h0m-291 2h0m37 2h0m-38 1h0m49 0h0m215 0h0m101 0h0m-291 1h0m17 0h0m203 0h0m-283 1h0m3 0h0m21 0h0m355 0h0m-343 1h0m269 0h0m61 0h0m-145 2h0m82 1h0m28 0h0m-287 1h0m291 0h0m-294 1h0m5 0h0m277 0h0m20 0h0m-312 1h0m214 0h0m40 1h0m82 0h0m-345 1h0m18 0h0m2 0h0m270 1h0m-326 1h0m17 0h0m39 1h0m206 1h0m23 0h0m12 0h0m-236 1h0m270 0h0m38 0h0m-85 1h0m66 0h0m1 0h0m-357 1h0m325 0h0m50 0h0m-105 1h0m4 1h0m129 0h0m-372 1h0m-15 2h0m51 1h0m-22 1h0m327 0h0m-104 2h0m-235 1h0m15 0h0m-37 1h0m54 0h0m309 0h0m-34 1h0m-326 1h0m41 0h0m257 0h0m-23 1h0m6 0h0m36 0h0m46 0h0m-350 1h0m27 0h0m-35 4h0m17 0h0m243 0h0m-26 1h0m-296 1h0m106 0h0m211 0h0m27 0h0m24 1h0m-267 2h0m314 0h0m-337 2h0m335 1h0m-121 3h0m33 2h0m-250 1h0m261 1h0m-262 1h0m263 0h0m-6 2h0m57 3h0m-92 1h0m18 3h0m24 1h0m-253 1h0m309 0h0m-103 2h0m-206 1h0m3 2h0m276 0h0m13 3h0m-76 2h0m32 0h0m61 2h0m-17 2h0m-17 5h0m12 0h0m-44 1h0m10 4h0m6 4h0m6 0h0m12 4h0" stroke="#D3D3D3"/><path d="M334 93h0m46 2h0m-44 1h0m36 1h0m-13 1h0m-19 1h0m8 1h0m-34 1h0m0 0h0m15 0h0m58 0h0m-46 2h0m-11 4h0m53 0h0m-40 2h0m22 1h0m-39 3h0m69 0h0m-53 1h0m-20 2h0m44 1h0m21 0h0m-56 4h0m33 1h0m2 1h0m-33 1h0m37 0h0m43 4h0m3 0h0m-106 1h0m44 1h0m7 0h0m-26 1h0m-13 1h0m67 0h0m22 2h0m-67 2h0m84 0h0m-70 1h0m-20 3h0m29 0h0m53 1h0m-44 1h0m-32 1h0m36 1h0m-68 1h0m79 1h0m18 1h0m13 2h0m2 0h0m-51 1h0m32 0h0m-114 1h0m118 1h0m-38 1h0m37 2h0m-99 1h0m3 3h0m80 1h0m3 0h0m-102 1h0m31 2h0m-61 3h0m7 1h0m-18 2h0m-18 9h0m-6 1h0m-11 3h0m5 0h0m23 1h0m143 0h0m-155 7h0m165 6h0m-183 7h0m15 0h0m-22 9h0m20 4h0m12 3h0m131 2h0m-138 6h0m1 1h0m186 0h0m-50 1h0m-126 5h0m196 6h0m15 5h0m15 4h0m-205 1h0m4 0h0m170 4h0m-168 4h0m11 1h0m186 2h0m3 2h0m12 5h0m-39 7h0m1 0h0m18 0h0m-16 3h0m9 0h0m28 10h0m-26 2h0m36 1h0m-23 1h0m-31 2h0m14 0h0m45 1h0m6 5h0m-10 6h0m21 1h0m-21 4h0m13 0h0m-39 1h0m60 2h0m-55 1h0m21 0h0m32 1h0m-11 1h0m-8 3h0m-57 2h0m17 0h0m58 1h0m-9 1h0m6 0h0m-173 2h0m189 1h0m-59 1h0m-13 2h0m9 0h0m61 0h0m-29 2h0m18 2h0m-27 1h0m36 0h0m-6 1h0m13 0h0m-228 3h0m9 0h0m98 0h0m56 0h0m32 0h0m-198 1h0m182 0h0m3 1h0m13 0h0m-69 1h0m105 0h0m-66 2h0m27 0h0m-187 1h0m138 0h0m36 0h0m25 0h0m-184 1h0m16 0h0m187 0h0m12 0h0m-229 1h0m96 1h0m-79 1h0m16 0h0m112 0h0m27 0h0m56 0h0m-202 2h0m69 0h0m31 0h0m9 0h0m-114 1h0m79 0h0m45 0h0m67 2h0m5 0h0m-366 1h0m354 0h0m-345 1h0m178 1h0m-181 1h0m342 0h0m19 0h0m-89 1h0m62 0h0m12 0h0m23 1h0m-51 1h0m11 0h0m17 0h0m-32 1h0m-127 1h0m55 0h0m62 1h0m8 1h0m54 0h0m-289 1h0m295 0h0m-186 1h0m21 0h0m160 0h0m-76 1h0m38 0h0m14 0h0m21 0h0m-361 1h0m371 0h0m-34 1h0m-281 1h0m163 0h0m35 0h0m5 0h0m-216 1h0m268 0h0m-294 1h0m198 0h0m100 0h0m21 0h0m22 0h0m-153 1h0m12 0h0m173 0h0m-63 1h0m10 0h0m46 0h0m-372 1h0m342 0h0m-68 1h0m-261 1h0m31 0h0m151 0h0m66 0h0m-283 1h0m290 0h0m86 0h0m-341 2h0m8 0h0m192 1h0m33 0h0m74 0h0m15 0h0m29 0h0m1 0h0m0 1h0m-165 1h0m134 0h0m40 1h0m-306 1h0m227 0h0m33 0h0m-310 1h0m297 1h0m-325 1h0m76 0h0m186 0h0m7 0h0m42 0h0m-249 1h0m8 0h0m266 0h0m-329 1h0m254 0h0m35 0h0m-280 1h0m7 0h0m234 0h0m6 0h0m104 0h0m14 0h0m-383 1h0m26 0h0m284 0h0m-308 3h0m235 0h0m43 0h0m40 0h0m-358 1h0m75 2h0m279 0h0m58 1h0m-358 1h0m276 0h0m27 1h0m-327 1h0m264 0h0m15 1h0m-216 1h0m-43 1h0m40 0h0m297 0h0m-360 1h0m7 0h0m-8 2h0m281 0h0m81 0h0m-371 1h0m252 0h0m111 0h0m-331 1h0m19 0h0m240 0h0m52 0h0m-284 1h0m250 0h0m84 1h0m-399 1h0m-35 2h0m371 0h0m6 0h0m5 1h0m39 0h0m-419 1h0m52 0h0m61 0h0m215 0h0m-326 1h0m86 0h0m344 0h0m-441 1h0m10 0h0m2 1h0m49 0h0m32 0h0m273 0h0m-301 1h0m257 0h0m45 0h0m58 0h0m-404 1h0m15 0h0m62 1h0m227 0h0m1 0h0m31 0h0m-322 1h0m38 0h0m257 0h0m-301 1h0m338 0h0m9 0h0m-355 1h0m278 0h0m39 0h0m-334 1h0m27 0h0m267 0h0m58 1h0m73 0h0m-55 1h0m35 1h0m2 1h0m-326 1h0m20 0h0m196 0h0m117 1h0m-60 1h0m-31 2h0m34 0h0m-260 2h0m228 2h0m61 0h0m-78 1h0m20 0h0m57 0h0m-294 1h0m217 0h0m23 0h0m73 0h0m-42 1h0m1 1h0m25 0h0m-97 1h0m59 0h0m45 1h0m-58 5h0m-243 1h0m268 0h0m5 1h0m37 2h0m-95 1h0m8 0h0m22 0h0m-12 2h0m42 0h0m24 0h0m-68 1h0m38 0h0m-57 1h0m57 1h0m-61 1h0m4 0h0m57 0h0m5 0h0m-56 3h0m46 0h0m-25 2h0m-17 1h0m54 1h0m16 2h0m-52 2h0m14 0h0m21 0h0m8 1h0m-43 2h0m13 0h0m30 1h0m-2 5h0m-28 3h0m12 0h0m-13 1h0" stroke="#9D77EC"/><path d="M318 93h0m62 1h0m-31 2h0m0 0h0m21 0h0m1 0h0m-50 1h0m46 1h0m-53 4h0m53 0h0m2 3h0m18 0h0m-32 5h0m-20 1h0m-2 1h0m38 0h0m-50 1h0m1 0h0m69 1h0m-59 4h0m-8 1h0m30 4h0m-28 1h0m72 0h0m4 0h0m-37 1h0m27 0h0m-70 1h0m25 0h0m-4 1h0m17 1h0m22 0h0m34 0h0m-90 3h0m2 0h0m81 0h0m2 0h0m-70 1h0m41 0h0m7 1h0m-74 1h0m6 1h0m9 1h0m10 0h0m-19 1h0m77 0h0m-65 2h0m37 0h0m47 3h0m-101 1h0m82 0h0m-92 3h0m87 1h0m15 0h0m-90 1h0m12 1h0m5 0h0m22 2h0m-70 1h0m26 1h0m17 0h0m87 0h0m-23 1h0m14 0h0m-98 1h0m88 1h0m-110 1h0m10 0h0m-16 2h0m64 0h0m30 2h0m-10 1h0m24 1h0m5 1h0m-166 4h0m42 2h0m-12 2h0m-29 2h0m118 0h0m-111 1h0m-8 2h0m134 0h0m-130 3h0m-7 4h0m22 2h0m-16 1h0m-16 2h0m-6 11h0m8 2h0m4 0h0m23 5h0m-29 1h0m18 1h0m5 3h0m-24 1h0m-9 4h0m0 3h0m35 4h0m140 0h0m-135 1h0m159 0h0m-159 1h0m123 0h0m0 0h0m-147 1h0m218 0h0m6 2h0m-68 1h0m44 2h0m5 0h0m16 0h0m23 3h0m-206 7h0m1 6h0m173 0h0m-158 5h0m187 0h0m-21 2h0m-7 6h0m30 0h0m13 2h0m-199 1h0m168 3h0m20 1h0m22 6h0m-19 2h0m-30 2h0m9 0h0m-12 1h0m43 3h0m-22 4h0m11 3h0m-22 3h0m23 1h0m23 4h0m-30 1h0m26 1h0m7 5h0m-56 1h0m31 4h0m37 0h0m-35 1h0m-22 2h0m3 4h0m-103 2h0m1 0h0m98 0h0m21 0h0m27 0h0m22 0h0m-5 1h0m-53 1h0m55 0h0m3 0h0m-169 2h0m162 0h0m22 1h0m-48 1h0m25 0h0m-27 1h0m-7 3h0m-8 2h0m16 0h0m40 3h0m7 0h0m-37 1h0m-23 1h0m26 0h0m40 1h0m-115 1h0m68 0h0m36 0h0m-100 1h0m-75 1h0m152 0h0m-158 2h0m117 0h0m36 0h0m-185 1h0m100 0h0m45 0h0m60 0h0m-179 2h0m93 0h0m73 1h0m-168 1h0m124 0h0m-131 1h0m122 1h0m83 0h0m-81 1h0m42 0h0m-184 1h0m161 0h0m85 0h0m-234 1h0m12 1h0m11 0h0m10 0h0m142 0h0m49 0h0m-218 2h0m90 0h0m88 0h0m19 0h0m-163 2h0m99 0h0m-10 2h0m16 0h0m-115 1h0m99 0h0m-9 1h0m19 0h0m11 0h0m10 0h0m62 0h0m-342 2h0m260 0h0m84 0h0m-160 1h0m154 0h0m7 0h0m-165 1h0m138 0h0m45 0h0m-68 1h0m17 1h0m6 0h0m-303 1h0m344 0h0m-77 1h0m28 0h0m-150 1h0m14 0h0m16 0h0m85 0h0m29 0h0m-105 1h0m-8 1h0m-171 1h0m201 0h0m46 0h0m-36 1h0m35 0h0m71 0h0m-44 1h0m7 0h0m-45 1h0m1 0h0m50 0h0m-114 3h0m110 0h0m30 0h0m-346 1h0m221 0h0m46 0h0m0 0h0m-221 1h0m231 0h0m80 0h0m-109 2h0m75 0h0m2 0h0m-260 2h0m155 0h0m21 0h0m11 0h0m65 0h0m-46 1h0m19 1h0m-3 1h0m-291 1h0m4 0h0m19 0h0m263 0h0m71 0h0m-128 2h0m50 0h0m3 0h0m4 0h0m-43 3h0m14 0h0m26 0h0m-26 2h0m-32 2h0m58 0h0m74 0h0m-52 1h0m42 0h0m-69 1h0m-24 1h0m84 0h0m-345 2h0m46 0h0m203 0h0m107 0h0m-372 1h0m327 0h0m44 0h0m-345 2h0m330 0h0m-348 1h0m255 0h0m16 0h0m17 2h0m65 0h0m-83 1h0m62 0h0m-339 3h0m293 0h0m-251 1h0m252 0h0m-18 1h0m-31 1h0m83 1h0m34 0h0m-376 1h0m57 0h0m313 0h0m24 0h0m-11 1h0m-8 1h0m-95 1h0m13 0h0m100 1h0m-434 1h0m101 0h0m-33 1h0m6 1h0m-34 1h0m71 1h0m297 0h0m-337 1h0m296 0h0m6 0h0m-364 1h0m91 0h0m276 0h0m25 0h0m-6 1h0m15 1h0m-82 4h0m13 0h0m32 0h0m47 0h0m-309 1h0m214 0h0m92 0h0m-112 2h0m34 0h0m55 0h0m14 0h0m-31 1h0m23 1h0m-72 1h0m19 0h0m12 0h0m12 0h0m34 0h0m6 2h0m6 0h0m-72 1h0m17 0h0m20 0h0m-60 1h0m-24 1h0m77 0h0m7 0h0m-78 2h0m48 0h0m-36 1h0m45 0h0m-63 1h0m105 0h0m7 0h0m-312 3h0m310 0h0m5 1h0m-94 2h0m88 0h0m-29 1h0m14 0h0m-11 1h0m-42 1h0m-10 1h0m26 0h0m-23 1h0m5 0h0m-29 5h0m84 0h0m4 1h0m-42 1h0m-14 1h0m21 0h0m-5 2h0m-15 1h0m31 0h0m19 0h0m-68 1h0m51 1h0m8 2h0m4 1h0m-54 2h0m21 6h0m6 1h0m-24 2h0m10 0h0m9 0h0m-2 1h0" stroke="#8E65F0"/><path d="M344 90h0m-10 1h0m43 0h0m-50 1h0m34 5h0m-30 5h0m-1 1h0m45 0h0m-6 1h0m8 5h0m5 1h0m-15 1h0m-7 2h0m31 0h0m-77 1h0m58 0h0m-60 5h0m79 2h0m-31 1h0m-47 2h0m53 0h0m-54 1h0m83 0h0m-24 2h0m-27 1h0m56 1h0m4 0h0m14 0h0m-99 1h0m66 0h0m27 0h0m-27 2h0m-22 1h0m-31 1h0m18 1h0m32 0h0m8 1h0m-67 1h0m61 0h0m8 1h0m7 0h0m29 0h0m-58 5h0m4 0h0m1 1h0m48 0h0m-114 1h0m36 0h0m-8 2h0m3 0h0m65 0h0m-91 1h0m-1 1h0m6 0h0m7 0h0m72 0h0m-6 1h0m3 0h0m1 0h0m-66 1h0m39 0h0m-106 5h0m98 0h0m7 2h0m11 0h0m-31 1h0m13 0h0m20 0h0m12 2h0m-134 1h0m85 0h0m-88 2h0m3 1h0m133 3h0m-14 3h0m-27 1h0m-126 4h0m31 7h0m-42 1h0m10 1h0m18 12h0m-27 1h0m176 8h0m-165 1h0m23 0h0m1 1h0m-5 1h0m-2 1h0m-3 1h0m-22 4h0m1 3h0m173 2h0m-161 1h0m149 0h0m2 1h0m-178 2h0m14 1h0m8 0h0m152 1h0m-7 2h0m-157 3h0m167 2h0m-13 2h0m59 1h0m-175 6h0m211 4h0m-17 9h0m-10 5h0m32 0h0m-24 2h0m30 2h0m-20 7h0m22 0h0m17 2h0m-210 1h0m151 5h0m47 9h0m-42 1h0m44 4h0m8 0h0m13 1h0m-11 1h0m-8 6h0m14 2h0m1 0h0m-14 1h0m-18 3h0m-19 2h0m10 0h0m64 4h0m-16 1h0m-24 1h0m16 8h0m-8 2h0m19 2h0m-154 1h0m181 1h0m-85 1h0m50 0h0m-35 2h0m28 0h0m9 0h0m38 0h0m-229 1h0m187 1h0m-56 1h0m26 0h0m71 0h0m-222 1h0m26 0h0m207 0h0m-206 1h0m8 0h0m75 0h0m23 0h0m6 0h0m22 0h0m23 0h0m12 0h0m-58 1h0m84 0h0m-234 1h0m46 0h0m71 0h0m-115 1h0m22 0h0m21 0h0m134 0h0m23 1h0m-44 2h0m68 0h0m-39 1h0m-47 1h0m87 0h0m-74 1h0m-115 2h0m146 0h0m-138 1h0m187 0h0m-27 1h0m-159 1h0m1 0h0m-25 1h0m28 0h0m162 0h0m31 0h0m-218 1h0m12 1h0m120 0h0m25 0h0m73 0h0m-374 1h0m360 0h0m-69 1h0m-124 2h0m9 0h0m71 0h0m69 0h0m-141 1h0m185 0h0m-98 2h0m-272 1h0m212 0h0m60 0h0m51 0h0m-37 3h0m-7 1h0m42 0h0m15 0h0m-95 1h0m-210 1h0m320 0h0m4 0h0m-29 2h0m-109 1h0m64 0h0m34 0h0m49 0h0m-86 1h0m-60 1h0m100 0h0m59 0h0m-343 1h0m177 0h0m38 0h0m38 1h0m9 0h0m9 0h0m-263 1h0m172 0h0m-14 1h0m2 1h0m183 0h0m-371 1h0m247 0h0m53 0h0m19 0h0m31 0h0m-333 1h0m192 0h0m167 0h0m-163 1h0m61 1h0m79 0h0m17 0h0m-148 1h0m89 0h0m24 0h0m-348 1h0m26 0h0m291 0h0m40 0h0m-284 2h0m12 0h0m150 0h0m141 0h0m-92 1h0m84 0h0m-349 1h0m20 0h0m186 0h0m19 1h0m116 0h0m14 0h0m-38 2h0m1 0h0m-67 1h0m7 0h0m46 0h0m17 0h0m-41 1h0m1 1h0m-65 1h0m69 0h0m64 1h0m-343 1h0m237 1h0m27 0h0m-277 1h0m221 0h0m7 0h0m74 0h0m-320 1h0m338 0h0m-69 2h0m63 1h0m45 0h0m-13 1h0m-320 2h0m325 0h0m-74 1h0m68 0h0m-109 1h0m-221 1h0m213 0h0m68 0h0m16 0h0m31 0h0m-120 1h0m54 0h0m71 0h0m-382 1h0m365 0h0m-301 1h0m-96 1h0m17 0h0m408 0h0m-412 1h0m87 0h0m189 0h0m89 0h0m17 0h0m-89 1h0m-300 1h0m16 0h0m4 0h0m18 0h0m14 0h0m-75 1h0m9 0h0m54 0h0m248 0h0m117 0h0m9 0h0m-428 1h0m57 0h0m18 0h0m287 0h0m9 0h0m-22 1h0m73 1h0m5 0h0m-320 1h0m282 0h0m-301 1h0m262 0h0m24 0h0m-29 1h0m31 0h0m15 0h0m-390 2h0m11 0h0m89 0h0m276 0h0m-384 1h0m83 0h0m291 0h0m-362 1h0m329 0h0m11 0h0m7 0h0m58 0h0m-61 1h0m21 0h0m-352 1h0m297 1h0m61 1h0m-74 1h0m73 1h0m-304 1h0m337 1h0m-63 1h0m-60 2h0m66 0h0m-37 1h0m14 0h0m14 1h0m38 0h0m-44 1h0m32 0h0m-277 1h0m223 0h0m18 0h0m34 1h0m-58 1h0m41 0h0m5 0h0m51 0h0m-10 1h0m-69 1h0m39 1h0m-31 3h0m4 0h0m28 1h0m-10 2h0m-55 3h0m35 0h0m46 1h0m-58 1h0m-21 6h0m63 3h0m12 0h0m-48 3h0m18 0h0m-4 1h0m-21 1h0m10 0h0m38 2h0m-13 2h0m-2 1h0m15 0h0m-30 2h0m-17 2h0m8 0h0m34 1h0m-29 1h0m-7 1h0m15 2h0m6 0h0" stroke="#8E65F0"/><path d="M364 96h0m-47 2h0m64 2h0m-57 3h0m6 6h0m-17 1h0m63 0h0m-14 1h0m-35 1h0m6 4h0m-20 5h0m9 1h0m22 2h0m-8 3h0m23 0h0m-45 1h0m15 0h0m4 2h0m85 0h0m-104 4h0m44 2h0m-39 1h0m64 1h0m-72 2h0m73 0h0m22 1h0m-4 1h0m-30 1h0m-65 1h0m33 0h0m-6 2h0m32 1h0m-61 1h0m67 0h0m12 0h0m7 0h0m-86 1h0m8 0h0m-31 1h0m18 0h0m49 1h0m3 0h0m40 0h0m-88 2h0m55 0h0m33 1h0m-14 2h0m-67 1h0m16 0h0m53 1h0m-92 2h0m-23 1h0m107 4h0m-118 1h0m6 1h0m-31 1h0m162 1h0m-153 3h0m1 0h0m20 0h0m4 4h0m-20 2h0m-25 1h0m27 0h0m-21 1h0m9 0h0m-4 1h0m8 0h0m19 0h0m121 0h0m-146 1h0m-16 1h0m20 2h0m-25 2h0m33 0h0m-19 1h0m-16 2h0m-1 1h0m20 0h0m-12 4h0m174 3h0m-166 2h0m26 0h0m145 0h0m-176 1h0m1 0h0m188 2h0m-201 3h0m22 0h0m-19 2h0m2 1h0m11 1h0m156 1h0m2 1h0m19 0h0m-24 1h0m13 0h0m10 3h0m26 0h0m-39 2h0m-5 1h0m15 0h0m30 0h0m-49 1h0m63 0h0m2 0h0m-36 1h0m-192 1h0m17 1h0m149 0h0m-154 1h0m219 1h0m-213 1h0m173 0h0m21 0h0m7 0h0m-198 1h0m5 0h0m-7 3h0m138 0h0m28 0h0m78 0h0m-25 1h0m-211 1h0m139 0h0m56 0h0m-9 1h0m-52 1h0m83 0h0m18 0h0m2 1h0m-230 1h0m200 2h0m27 0h0m-4 2h0m-8 1h0m11 0h0m-215 1h0m187 1h0m0 1h0m-184 1h0m174 0h0m18 1h0m-2 1h0m18 0h0m-2 1h0m14 0h0m-36 1h0m-11 1h0m40 0h0m8 0h0m-218 2h0m173 0h0m2 2h0m26 1h0m-6 1h0m-4 3h0m-181 1h0m167 1h0m4 0h0m4 0h0m12 0h0m16 0h0m0 1h0m11 0h0m-54 1h0m27 0h0m-177 1h0m166 0h0m19 0h0m-19 2h0m25 1h0m12 1h0m-31 2h0m22 1h0m-1 3h0m-44 1h0m60 0h0m-18 1h0m12 0h0m-17 1h0m5 0h0m-12 4h0m25 3h0m-32 5h0m29 1h0m-41 1h0m7 1h0m3 5h0m50 1h0m-47 1h0m40 0h0m3 1h0m-16 3h0m-39 9h0m58 0h0m24 1h0m-173 1h0m161 2h0m3 0h0m-67 2h0m78 0h0m-4 6h0m-176 3h0m2 0h0m3 1h0m169 0h0m6 0h0m-75 1h0m16 0h0m-4 3h0m17 1h0m15 0h0m21 0h0m-200 2h0m195 0h0m-100 1h0m92 0h0m-158 3h0m103 0h0m-101 5h0m7 1h0m73 1h0m31 0h0m8 0h0m-293 6h0m376 0h0m-380 1h0m8 3h0m244 0h0m56 1h0m81 0h0m-40 1h0m-254 1h0m205 0h0m-271 1h0m6 0h0m338 0h0m-289 1h0m291 0h0m-26 1h0m37 0h0m2 0h0m-365 1h0m263 0h0m-282 1h0m14 0h0m14 0h0m304 0h0m-250 1h0m-66 1h0m-4 1h0m58 0h0m-23 1h0m26 0h0m-57 1h0m53 0h0m311 0h0m-386 1h0m88 0h0m-2 1h0m-50 1h0m3 0h0m328 0h0m-288 1h0m124 0h0m-185 1h0m231 0h0m-250 1h0m14 0h0m50 0h0m1 0h0m140 0h0m-208 1h0m17 0h0m1 0h0m4 0h0m15 0h0m182 0h0m137 0h0m-323 1h0m6 1h0m21 0h0m25 0h0m301 0h0m-382 1h0m51 0h0m184 0h0m-231 1h0m15 0h0m376 1h0m-372 1h0m5 0h0m238 0h0m118 0h0m-140 2h0m41 0h0m39 0h0m-297 1h0m270 0h0m23 0h0m-288 1h0m-5 1h0m34 0h0m19 0h0m9 0h0m1 0h0m225 0h0m76 0h0m-148 1h0m115 0h0m-355 1h0m363 0h0m-304 1h0m-47 2h0m48 0h0m13 0h0m-65 1h0m330 0h0m-325 1h0m27 1h0m19 0h0m236 0h0m-278 1h0m238 0h0m59 0h0m45 0h0m14 1h0m-326 1h0m-86 3h0m374 0h0m-87 1h0m25 0h0m70 0h0m-284 1h0m-70 1h0m62 0h0m-2 2h0m7 0h0m207 1h0m-248 1h0m15 0h0m11 0h0m5 1h0m-1 1h0m333 1h0m-366 1h0m326 0h0m-381 3h0m75 0h0m227 1h0m-215 1h0m5 1h0m234 0h0m-279 1h0m263 0h0m-225 2h0m-97 1h0m348 0h0m68 0h0m-336 2h0m10 0h0m261 0h0m12 0h0m-294 2h0m40 0h0m270 1h0m-50 1h0m9 0h0m-25 1h0m36 0h0m-345 1h0m333 0h0m5 0h0m-55 1h0m-218 1h0m304 1h0m23 0h0m-84 1h0m25 0h0m46 0h0m20 1h0m-331 1h0m234 0h0m0 1h0m-2 3h0m25 0h0m81 1h0m-322 5h0m313 0h0m-64 2h0m6 0h0m-29 7h0m11 0h0m27 0h0m-18 3h0m19 3h0m7 3h0m-54 3h0m74 1h0m7 6h0m-29 6h0" stroke="#D3D3D3"/><path d="M338 93h0m-13 9h0m73 2h0m-59 4h0m56 5h0m-84 8h0m29 3h0m24 1h0m53 4h0m-17 2h0m-79 3h0m92 0h0m2 0h0m-41 1h0m51 4h0m2 3h0m-58 1h0m51 4h0m-116 2h0m103 0h0m14 0h0m1 1h0m-63 1h0m31 1h0m31 1h0m-12 2h0m-162 24h0m-1 5h0m-37 7h0m18 2h0m5 4h0m178 14h0m-200 2h0m211 6h0m-193 2h0m152 14h0m79 0h0m-25 1h0m10 16h0m4 13h0m41 9h0m-17 4h0m2 2h0m-25 1h0m43 5h0m-52 5h0m26 0h0m31 1h0m-22 6h0m-23 14h0m68 0h0m-34 17h0m26 3h0m-47 2h0m60 0h0m-87 2h0m85 0h0m-98 1h0m65 0h0m43 1h0m2 2h0m-116 2h0m95 0h0m-25 2h0m59 1h0m-208 1h0m112 0h0m2 0h0m97 0h0m-97 2h0m-35 3h0m48 0h0m-294 4h0m376 0h0m-98 3h0m102 0h0m-70 2h0m25 0h0m-25 1h0m-300 1h0m298 1h0m-284 2h0m5 0h0m311 0h0m-30 1h0m18 1h0m-297 1h0m0 1h0m307 0h0m-2 1h0m-305 1h0m359 1h0m-361 1h0m23 0h0m23 0h0m185 0h0m-214 1h0m182 0h0m17 0h0m-251 1h0m85 0h0m-16 2h0m5 0h0m312 0h0m-357 2h0m343 0h0m-70 1h0m44 1h0m-96 1h0m-248 1h0m27 0h0m-14 2h0m38 0h0m40 0h0m307 0h0m-389 1h0m10 0h0m-24 1h0m5 0h0m283 0h0m116 0h0m-345 1h0m9 1h0m4 0h0m287 0h0m23 0h0m-351 2h0m55 0h0m201 0h0m0 1h0m62 0h0m-337 1h0m1 0h0m12 0h0m26 1h0m5 0h0m217 0h0m-240 1h0m10 0h0m243 1h0m55 0h0m12 0h0m5 0h0m9 0h0m-356 2h0m9 0h0m-9 1h0m27 0h0m309 1h0m-78 1h0m-271 1h0m10 0h0m37 0h0m251 1h0m91 0h0m-378 1h0m250 0h0m-257 1h0m2 0h0m279 1h0m-227 1h0m2 0h0m4 0h0m294 0h0m-323 1h0m-37 1h0m357 0h0m-342 1h0m-10 1h0m9 0h0m37 0h0m-39 2h0m21 0h0m15 0h0m9 0h0m16 0h0m-104 1h0m12 0h0m24 0h0m-3 1h0m62 0h0m-82 1h0m12 0h0m36 0h0m360 0h0m-365 1h0m-67 1h0m26 0h0m266 0h0m-243 1h0m-55 1h0m40 0h0m57 0h0m216 0h0m93 3h0m-399 1h0m8 0h0m27 0h0m40 0h0m10 0h0m20 0h0m281 0h0m27 0h0m-313 1h0m246 0h0m-267 1h0m206 0h0m46 0h0m-320 1h0m43 0h0m46 0h0m190 0h0m77 0h0m-369 1h0m100 0h0m214 0h0m107 0h0m-335 1h0m-15 1h0m14 0h0m7 1h0m247 1h0m-255 4h0m254 1h0m37 1h0m-50 1h0m66 0h0m-23 2h0m-64 1h0m7 0h0m-222 1h0m251 0h0m23 2h0m-282 3h0m279 2h0m-273 1h0m246 2h0m-38 4h0m33 1h0m29 3h0m5 3h0m17 10h0m-63 5h0m17 0h0m18 6h0" stroke="#BBA5E0"/><path d="M381 95h0m-58 1h0m5 2h0m45 0h0m13 4h0m-17 2h0m-48 1h0m19 3h0m44 1h0m9 6h0m-11 3h0m15 3h0m-72 2h0m15 1h0m32 0h0m-8 1h0m-13 3h0m52 2h0m13 2h0m-72 1h0m-13 1h0m93 0h0m-39 1h0m-16 1h0m-59 1h0m57 0h0m2 1h0m16 0h0m11 0h0m2 0h0m-51 2h0m-32 5h0m15 0h0m51 1h0m-67 3h0m63 2h0m13 1h0m-89 1h0m51 0h0m-64 1h0m25 0h0m58 0h0m-27 1h0m42 0h0m10 1h0m1 1h0m-99 2h0m8 0h0m-61 1h0m103 0h0m-73 1h0m120 1h0m-107 2h0m-19 1h0m-16 1h0m121 0h0m-112 2h0m4 0h0m107 0h0m-137 1h0m26 0h0m-4 1h0m2 0h0m4 2h0m-8 1h0m121 2h0m9 0h0m-169 1h0m25 2h0m-6 2h0m-7 4h0m153 1h0m-137 4h0m-31 1h0m31 0h0m142 4h0m-179 1h0m29 1h0m146 0h0m6 0h0m-11 1h0m-175 1h0m181 0h0m-166 1h0m35 4h0m-38 2h0m169 0h0m-136 1h0m140 0h0m-176 1h0m20 0h0m170 0h0m-169 2h0m166 0h0m-179 1h0m185 0h0m-24 1h0m-141 1h0m1 0h0m163 1h0m-156 1h0m138 0h0m24 2h0m-20 1h0m-187 1h0m233 0h0m-228 1h0m170 0h0m61 2h0m12 0h0m-74 1h0m-2 1h0m22 0h0m5 1h0m46 0h0m5 0h0m13 0h0m-250 1h0m194 0h0m-169 1h0m147 0h0m38 0h0m18 0h0m-212 1h0m141 0h0m24 0h0m65 0h0m-227 1h0m229 0h0m-48 1h0m34 1h0m-1 1h0m4 0h0m22 0h0m-242 1h0m14 0h0m137 1h0m-8 1h0m93 1h0m-27 1h0m-192 1h0m184 0h0m16 0h0m8 0h0m-27 3h0m12 0h0m-189 2h0m221 0h0m-210 1h0m188 1h0m-16 2h0m13 1h0m-1 1h0m-179 1h0m171 1h0m28 1h0m14 3h0m-209 2h0m170 0h0m-167 2h0m198 0h0m7 0h0m-13 1h0m7 1h0m-28 1h0m-168 2h0m184 0h0m7 0h0m-181 3h0m176 1h0m-177 1h0m158 5h0m23 0h0m16 0h0m-3 1h0m-42 1h0m33 0h0m12 0h0m-37 2h0m33 0h0m0 2h0m11 1h0m-30 1h0m-21 1h0m-9 1h0m26 0h0m14 0h0m-38 3h0m42 1h0m-12 2h0m-27 1h0m34 1h0m-12 2h0m41 3h0m-4 2h0m-36 4h0m29 5h0m24 0h0m-26 1h0m12 1h0m-18 6h0m20 1h0m-23 1h0m24 1h0m25 0h0m-35 1h0m26 0h0m10 1h0m-29 1h0m16 3h0m-31 7h0m-133 1h0m97 1h0m22 1h0m33 1h0m16 3h0m-176 1h0m70 0h0m-63 1h0m101 1h0m30 0h0m43 2h0m-52 1h0m27 1h0m-165 2h0m132 1h0m-277 4h0m254 0h0m20 0h0m-290 1h0m8 0h0m336 3h0m-255 1h0m184 0h0m83 0h0m-330 2h0m179 0h0m46 0h0m-244 1h0m3 0h0m236 2h0m139 0h0m-340 1h0m31 0h0m130 0h0m143 0h0m-267 1h0m-7 1h0m251 0h0m-312 1h0m70 0h0m-82 1h0m222 0h0m78 0h0m-274 1h0m15 0h0m44 0h0m-20 1h0m-20 1h0m267 0h0m-280 2h0m250 0h0m3 0h0m15 0h0m-233 1h0m-16 1h0m302 0h0m-2 1h0m28 0h0m-377 1h0m-9 1h0m54 0h0m237 0h0m76 2h0m-356 1h0m17 0h0m31 0h0m33 0h0m156 3h0m-160 1h0m196 0h0m22 0h0m-260 1h0m190 0h0m-158 1h0m-69 1h0m247 0h0m127 0h0m-28 1h0m31 0h0m-85 1h0m-256 1h0m274 0h0m28 0h0m-329 1h0m263 0h0m-285 1h0m297 0h0m61 0h0m-302 1h0m21 0h0m-65 1h0m43 0h0m22 0h0m242 0h0m-251 1h0m0 0h0m336 0h0m-397 1h0m69 0h0m175 0h0m-213 1h0m11 0h0m13 0h0m336 0h0m-128 2h0m-210 1h0m1 0h0m214 0h0m94 0h0m6 0h0m-9 2h0m-318 2h0m8 0h0m6 0h0m-25 3h0m209 1h0m108 1h0m-37 1h0m16 0h0m-327 2h0m12 0h0m-1 1h0m279 1h0m-239 1h0m1 1h0m8 0h0m276 0h0m17 0h0m-305 2h0m3 2h0m299 0h0m-57 2h0m-322 2h0m272 0h0m87 0h0m-320 1h0m10 0h0m9 1h0m267 0h0m-26 1h0m83 0h0m-101 2h0m110 0h0m-343 1h0m276 0h0m-251 1h0m207 0h0m17 0h0m-248 1h0m253 0h0m47 2h0m-292 1h0m24 0h0m184 1h0m-199 1h0m285 0h0m-303 1h0m244 1h0m69 0h0m-307 2h0m-1 1h0m19 0h0m189 1h0m62 0h0m-254 1h0m206 3h0m52 0h0m-8 2h0m27 0h0m4 0h0m12 0h0m12 2h0m-302 1h0m245 1h0m43 1h0m13 1h0m-79 3h0m68 4h0m-49 3h0m29 0h0m13 0h0m6 0h0m-43 1h0m-14 2h0m-18 4h0m56 0h0m-11 2h0m-24 1h0m-7 5h0m31 3h0m-7 6h0" stroke="#D3D3D3"/><path d="M348 91h0m-21 2h0m34 0h0m18 0h0m-57 1h0m26 0h0m6 1h0m-5 1h0m15 1h0m-28 1h0m20 0h0m-12 3h0m30 0h0m-14 1h0m-43 4h0m11 0h0m15 0h0m-17 2h0m12 1h0m54 0h0m-65 1h0m1 2h0m31 0h0m-46 4h0m7 1h0m31 0h0m21 1h0m-3 2h0m16 3h0m-8 4h0m31 4h0m-84 1h0m74 0h0m-68 1h0m84 0h0m-92 1h0m78 0h0m-84 1h0m70 1h0m33 0h0m-6 1h0m-37 3h0m53 1h0m-94 1h0m43 0h0m26 0h0m18 0h0m-101 1h0m4 0h0m-17 1h0m92 0h0m-52 1h0m57 0h0m-58 2h0m15 0h0m33 1h0m-42 1h0m39 0h0m-82 4h0m13 0h0m8 0h0m57 2h0m2 0h0m-111 1h0m56 1h0m-61 2h0m-15 3h0m-2 4h0m-14 1h0m-16 4h0m0 2h0m2 2h0m29 0h0m105 0h0m-121 2h0m9 22h0m-36 5h0m3 0h0m162 2h0m-141 4h0m168 4h0m-160 3h0m-13 1h0m220 2h0m-246 2h0m232 0h0m-20 1h0m25 3h0m-222 2h0m-10 1h0m166 0h0m-135 3h0m-4 1h0m195 1h0m-184 1h0m225 6h0m-219 2h0m195 1h0m-189 1h0m10 4h0m-2 1h0m178 2h0m11 3h0m-181 2h0m199 2h0m-12 2h0m-179 2h0m165 1h0m11 1h0m13 0h0m-191 1h0m201 1h0m-41 1h0m8 3h0m42 13h0m-16 2h0m10 4h0m-2 1h0m10 1h0m-36 2h0m-13 1h0m15 2h0m31 4h0m21 0h0m-25 1h0m-50 1h0m3 0h0m70 1h0m-14 2h0m-30 1h0m28 0h0m-36 3h0m23 0h0m35 1h0m-21 2h0m-12 2h0m-132 1h0m97 1h0m40 1h0m3 2h0m-17 1h0m11 3h0m7 0h0m18 1h0m-6 3h0m26 1h0m2 2h0m-8 1h0m-47 1h0m-125 1h0m154 0h0m19 0h0m1 0h0m-212 1h0m153 0h0m-149 1h0m122 0h0m51 0h0m3 2h0m-151 1h0m73 1h0m-102 1h0m6 0h0m16 0h0m208 0h0m-199 1h0m144 1h0m-53 1h0m79 0h0m-52 1h0m51 0h0m-60 1h0m-111 3h0m203 0h0m-62 1h0m58 1h0m-96 1h0m-90 1h0m116 0h0m68 0h0m-215 2h0m95 0h0m22 0h0m24 0h0m-21 1h0m107 0h0m-108 1h0m65 0h0m-47 1h0m88 1h0m-63 1h0m73 0h0m-201 2h0m73 0h0m13 0h0m16 0h0m24 0h0m-72 1h0m30 0h0m107 0h0m-183 1h0m114 0h0m24 0h0m47 0h0m-100 1h0m17 0h0m7 0h0m54 0h0m-116 1h0m63 0h0m78 0h0m-191 1h0m41 0h0m74 0h0m-229 1h0m179 0h0m6 0h0m27 0h0m19 1h0m-309 1h0m191 0h0m17 0h0m15 0h0m23 0h0m26 0h0m-43 1h0m2 0h0m59 0h0m-89 1h0m37 0h0m40 0h0m38 0h0m-93 1h0m71 0h0m-74 1h0m22 0h0m110 1h0m24 0h0m-365 1h0m244 0h0m18 0h0m82 0h0m-67 1h0m60 0h0m-129 1h0m-226 1h0m237 0h0m37 0h0m11 0h0m16 0h0m33 0h0m10 0h0m19 1h0m13 0h0m-123 1h0m-225 1h0m192 1h0m31 0h0m25 0h0m17 0h0m61 0h0m19 0h0m-301 1h0m22 0h0m154 0h0m26 0h0m26 0h0m-72 1h0m75 0h0m24 0h0m41 0h0m-274 1h0m132 0h0m176 0h0m-116 1h0m-203 1h0m197 0h0m25 0h0m8 0h0m56 0h0m-316 1h0m205 0h0m128 0h0m-115 1h0m33 0h0m-230 1h0m12 0h0m3 0h0m218 0h0m79 0h0m-336 1h0m179 0h0m43 1h0m-22 1h0m9 0h0m64 0h0m52 0h0m-367 1h0m57 0h0m181 0h0m55 0h0m2 0h0m23 0h0m11 0h0m38 0h0m-381 1h0m259 0h0m105 0h0m-300 2h0m258 0h0m22 0h0m4 1h0m47 0h0m-375 2h0m290 0h0m-31 2h0m116 0h0m-372 3h0m299 0h0m74 0h0m-348 1h0m18 1h0m201 0h0m39 0h0m16 0h0m-311 1h0m335 0h0m-87 1h0m30 0h0m-256 1h0m265 0h0m81 0h0m-387 1h0m44 0h0m230 0h0m67 0h0m-290 1h0m22 0h0m236 0h0m42 0h0m-74 1h0m50 0h0m-308 1h0m270 0h0m38 0h0m8 0h0m54 0h0m6 0h0m-349 1h0m290 1h0m4 0h0m16 0h0m5 0h0m-341 1h0m10 0h0m310 0h0m3 0h0m34 0h0m-389 1h0m18 0h0m20 0h0m242 1h0m3 0h0m59 1h0m60 1h0m-114 1h0m19 0h0m5 0h0m17 0h0m40 0h0m-103 1h0m-256 1h0m258 0h0m-295 1h0m21 0h0m46 0h0m232 0h0m81 1h0m-381 1h0m322 1h0m56 0h0m-68 2h0m40 1h0m31 0h0m3 0h0m14 0h0m26 0h0m-62 1h0m-41 1h0m-15 2h0m48 0h0m24 2h0m2 0h0m-88 1h0m96 0h0m-58 1h0m51 0h0m-90 1h0m98 0h0m-37 1h0m-23 2h0m30 0h0m-263 1h0m205 0h0m97 0h0m6 1h0m-96 1h0m35 2h0m-18 1h0m49 0h0m6 0h0m-91 1h0m105 0h0m-17 1h0m4 0h0m2 0h0m-66 1h0m-17 1h0m22 0h0m23 0h0m-15 1h0m40 0h0m-38 1h0m37 1h0m5 0h0m-36 1h0m61 0h0m1 0h0m-77 1h0m1 2h0m42 4h0m-61 1h0m45 0h0m-13 1h0m58 0h0m-12 1h0m0 1h0m-38 3h0m-27 1h0m56 0h0m-56 1h0m26 2h0m34 0h0m-59 2h0m8 0h0m3 0h0m-1 1h0m31 5h0m5 6h0" stroke="#966EEE"/><path d="M324 98h0m4 1h0m26 3h0m-32 4h0m11 2h0m-11 2h0m68 3h0m-51 3h0m44 2h0m-17 1h0m9 2h0m5 0h0m-31 1h0m12 1h0m-10 3h0m-28 3h0m16 0h0m-14 1h0m91 1h0m-55 1h0m-48 1h0m38 1h0m15 0h0m-30 1h0m-10 2h0m13 0h0m-32 1h0m40 0h0m22 0h0m13 3h0m-69 1h0m72 1h0m-25 1h0m36 0h0m-84 2h0m15 1h0m49 0h0m-58 1h0m-5 1h0m0 1h0m-11 3h0m-22 1h0m23 2h0m38 1h0m26 0h0m-64 1h0m-41 1h0m11 0h0m12 0h0m23 0h0m57 0h0m18 0h0m-86 1h0m33 0h0m-83 2h0m-2 1h0m4 0h0m141 2h0m-129 1h0m-16 3h0m140 8h0m-166 1h0m31 2h0m136 0h0m-16 2h0m13 0h0m7 3h0m-140 2h0m125 2h0m-148 1h0m26 0h0m-15 1h0m13 2h0m134 1h0m-154 8h0m152 0h0m-154 3h0m16 1h0m-7 2h0m166 4h0m-186 1h0m158 0h0m18 1h0m-177 1h0m172 2h0m42 1h0m-195 1h0m140 0h0m54 1h0m-2 1h0m-187 2h0m9 0h0m-13 2h0m154 0h0m-172 1h0m160 0h0m2 0h0m61 0h0m-35 1h0m0 1h0m39 0h0m22 0h0m-231 1h0m225 0h0m-34 1h0m-198 1h0m212 0h0m-56 1h0m59 0h0m-24 1h0m-44 1h0m71 0h0m-12 1h0m-189 1h0m177 0h0m18 0h0m-64 1h0m68 0h0m-14 1h0m43 0h0m-21 1h0m18 1h0m-9 1h0m-28 1h0m-7 1h0m7 0h0m18 0h0m1 0h0m10 1h0m-8 1h0m23 0h0m-6 1h0m-23 3h0m33 0h0m-217 2h0m175 2h0m20 0h0m-26 1h0m3 0h0m32 0h0m18 1h0m-52 1h0m44 0h0m3 0h0m-3 3h0m-4 1h0m7 1h0m-44 1h0m-5 1h0m3 0h0m15 1h0m-13 1h0m17 1h0m9 0h0m4 0h0m-181 1h0m191 0h0m-189 1h0m191 3h0m-40 1h0m2 0h0m26 1h0m11 0h0m-21 4h0m-1 1h0m3 1h0m15 0h0m-38 5h0m49 1h0m-12 2h0m13 0h0m-43 3h0m26 0h0m3 0h0m-30 1h0m32 11h0m19 1h0m11 11h0m1 0h0m16 1h0m-3 1h0m9 4h0m4 4h0m-56 4h0m-7 1h0m60 2h0m-50 1h0m47 1h0m8 2h0m-97 3h0m19 0h0m34 0h0m-145 3h0m149 0h0m-146 1h0m135 1h0m-10 1h0m17 0h0m-43 1h0m31 0h0m0 0h0m-36 1h0m75 1h0m-75 2h0m60 0h0m-37 1h0m26 0h0m22 0h0m23 0h0m-67 1h0m25 1h0m-45 2h0m2 0h0m-261 1h0m373 0h0m-105 1h0m55 0h0m-320 2h0m2 0h0m70 1h0m159 2h0m86 0h0m43 0h0m-137 1h0m146 0h0m-395 2h0m377 0h0m-176 1h0m196 0h0m-364 2h0m-20 1h0m24 0h0m178 0h0m93 0h0m8 0h0m-301 1h0m30 0h0m0 0h0m221 0h0m-1 2h0m24 0h0m-273 1h0m3 0h0m49 0h0m17 0h0m3 0h0m181 0h0m-32 1h0m121 0h0m-329 2h0m38 0h0m235 0h0m-249 1h0m-54 1h0m67 0h0m1 0h0m4 0h0m293 0h0m-357 1h0m27 0h0m199 0h0m17 0h0m129 1h0m-375 1h0m69 1h0m155 0h0m16 0h0m77 0h0m51 0h0m-113 1h0m10 1h0m21 0h0m-253 1h0m21 0h0m6 0h0m163 0h0m-227 1h0m10 0h0m334 0h0m-2 1h0m-336 1h0m15 0h0m229 0h0m-196 1h0m-20 2h0m3 0h0m20 0h0m249 0h0m18 0h0m-287 1h0m-38 1h0m60 0h0m-51 1h0m257 0h0m123 0h0m-345 1h0m7 0h0m184 0h0m106 0h0m31 0h0m-360 1h0m2 0h0m63 0h0m311 0h0m10 0h0m-386 1h0m6 1h0m2 0h0m-24 1h0m66 0h0m237 0h0m-260 1h0m30 0h0m-15 1h0m214 0h0m81 1h0m-355 1h0m75 0h0m-10 1h0m218 0h0m35 0h0m-345 1h0m24 1h0m288 0h0m-237 1h0m16 0h0m193 0h0m-229 1h0m273 1h0m48 0h0m2 0h0m-36 1h0m22 0h0m-36 1h0m-8 1h0m9 0h0m30 0h0m-292 1h0m319 0h0m-337 2h0m353 0h0m-356 2h0m51 0h0m198 0h0m-206 2h0m283 1h0m-303 1h0m210 1h0m13 0h0m-15 1h0m27 0h0m-249 1h0m276 0h0m78 0h0m-64 1h0m-296 2h0m-6 1h0m16 0h0m36 0h0m-114 1h0m109 0h0m239 0h0m-266 1h0m25 1h0m201 1h0m88 0h0m-289 2h0m195 1h0m-208 1h0m252 0h0m-252 1h0m217 2h0m88 0h0m9 0h0m-64 1h0m-251 1h0m241 1h0m-251 1h0m211 2h0m7 1h0m22 1h0m46 0h0m35 2h0m-50 1h0m16 5h0m-31 2h0m39 1h0m1 0h0m22 2h0m-77 3h0m28 3h0m39 0h0m-76 2h0m41 1h0m-13 1h0m-33 2h0m28 5h0m28 4h0m-4 1h0m-34 3h0m34 0h0m-1 2h0" stroke="#D3D3D3"/><path d="M342 91h0m5 3h0m-30 1h0m14 0h0m12 0h0m-28 2h0m65 0h0m-31 1h0m33 0h0m-67 1h0m29 0h0m20 0h0m12 0h0m-59 1h0m73 0h0m-25 1h0m-46 1h0m2 2h0m5 0h0m39 1h0m-29 1h0m-4 1h0m14 2h0m-26 1h0m74 2h0m-63 1h0m-12 1h0m50 0h0m6 0h0m-58 1h0m64 1h0m-20 1h0m-23 1h0m20 1h0m35 0h0m-62 2h0m52 0h0m-23 1h0m-49 1h0m26 0h0m1 0h0m-18 2h0m55 1h0m23 0h0m-1 1h0m-81 1h0m1 0h0m37 0h0m-22 1h0m0 0h0m38 2h0m-15 1h0m22 0h0m35 0h0m-43 1h0m5 0h0m-24 2h0m-9 1h0m35 0h0m-20 2h0m30 0h0m18 0h0m-59 1h0m59 0h0m-19 1h0m-33 1h0m53 0h0m-25 5h0m-9 2h0m-48 1h0m4 0h0m46 0h0m22 1h0m-100 1h0m34 0h0m37 0h0m51 0h0m-24 1h0m1 1h0m-101 1h0m66 1h0m7 1h0m42 0h0m-114 1h0m99 0h0m-122 1h0m98 0h0m-44 2h0m57 0h0m-85 1h0m56 0h0m-76 2h0m-38 1h0m35 1h0m-35 1h0m153 2h0m-152 3h0m7 6h0m-12 4h0m9 0h0m-29 2h0m23 0h0m-17 2h0m7 0h0m-5 1h0m161 2h0m-152 2h0m8 0h0m-24 2h0m31 6h0m134 1h0m-174 5h0m11 1h0m17 0h0m-29 3h0m194 0h0m-170 1h0m10 0h0m169 4h0m-169 3h0m-22 1h0m190 5h0m-195 3h0m203 4h0m23 2h0m-191 4h0m17 13h0m195 2h0m-194 1h0m193 0h0m-1 3h0m-180 1h0m200 3h0m-11 1h0m4 2h0m-34 3h0m38 1h0m-13 2h0m-20 1h0m45 2h0m-11 5h0m-32 2h0m35 0h0m-11 4h0m-16 3h0m2 0h0m-4 4h0m-10 2h0m2 0h0m53 3h0m-21 1h0m-21 1h0m10 0h0m8 2h0m26 0h0m-30 4h0m-3 1h0m14 1h0m-11 2h0m-19 2h0m29 2h0m42 0h0m-45 1h0m1 0h0m-10 1h0m27 1h0m33 3h0m-4 3h0m12 2h0m-177 3h0m95 0h0m73 0h0m-47 4h0m22 0h0m-151 1h0m201 1h0m-58 2h0m-1 1h0m-145 2h0m6 0h0m133 0h0m-24 1h0m-112 1h0m5 0h0m153 0h0m-189 1h0m4 0h0m149 0h0m-47 1h0m-87 2h0m-15 1h0m185 0h0m-15 1h0m34 0h0m22 3h0m-122 1h0m19 0h0m-110 1h0m-23 1h0m16 0h0m212 1h0m9 0h0m-51 1h0m4 2h0m28 0h0m-343 1h0m239 0h0m73 1h0m-39 1h0m102 1h0m-230 1h0m192 0h0m-104 2h0m42 1h0m21 0h0m-45 1h0m11 0h0m10 0h0m3 0h0m1 0h0m-32 2h0m-35 2h0m96 1h0m14 0h0m26 0h0m-144 1h0m100 0h0m-86 1h0m5 0h0m32 0h0m11 0h0m1 0h0m37 0h0m20 0h0m18 0h0m21 0h0m-125 1h0m68 0h0m4 0h0m5 0h0m-100 1h0m-7 1h0m22 0h0m51 0h0m54 0h0m34 0h0m-338 1h0m164 1h0m12 0h0m99 0h0m52 1h0m1 0h0m-139 1h0m22 0h0m48 0h0m89 0h0m-353 2h0m43 0h0m130 0h0m149 0h0m37 0h0m-61 1h0m25 0h0m-141 1h0m4 0h0m2 0h0m93 0h0m-46 1h0m34 0h0m88 0h0m-61 1h0m57 0h0m-380 1h0m8 0h0m209 0h0m-192 1h0m224 0h0m-173 1h0m7 0h0m207 0h0m51 0h0m-11 1h0m-63 1h0m3 0h0m31 0h0m19 0h0m-302 1h0m195 0h0m31 0h0m5 0h0m17 0h0m49 0h0m70 0h0m-128 1h0m121 0h0m-309 1h0m176 0h0m-183 1h0m179 0h0m-172 1h0m2 0h0m309 0h0m-69 1h0m-68 1h0m-177 1h0m159 0h0m-172 1h0m305 0h0m-359 2h0m-16 1h0m284 0h0m-243 2h0m19 0h0m216 0h0m121 0h0m-373 1h0m305 0h0m45 0h0m15 0h0m-85 1h0m16 1h0m-289 1h0m326 1h0m6 0h0m-321 1h0m295 1h0m-319 2h0m302 0h0m-331 1h0m266 0h0m28 0h0m98 0h0m-413 1h0m15 0h0m264 0h0m30 0h0m10 0h0m100 0h0m-374 1h0m321 0h0m-384 1h0m414 0h0m-331 1h0m276 0h0m83 0h0m-435 1h0m427 0h0m-120 1h0m-320 1h0m6 0h0m49 0h0m323 0h0m10 0h0m1 0h0m36 0h0m2 0h0m10 0h0m1 0h0m-428 1h0m318 0h0m52 0h0m-274 2h0m-33 1h0m39 0h0m318 0h0m-104 1h0m-325 1h0m96 0h0m224 0h0m-262 1h0m236 0h0m55 0h0m-280 1h0m227 0h0m106 0h0m7 0h0m7 0h0m-368 1h0m338 0h0m-378 1h0m101 2h0m187 0h0m-196 1h0m323 0h0m-99 1h0m16 0h0m87 0h0m-73 2h0m-15 1h0m18 0h0m11 0h0m54 0h0m-331 1h0m317 0h0m-37 1h0m1 0h0m4 0h0m-78 1h0m108 0h0m12 0h0m-113 2h0m34 0h0m12 0h0m6 0h0m-41 1h0m33 0h0m56 1h0m-76 1h0m-36 1h0m46 0h0m1 0h0m53 1h0m-79 2h0m100 0h0m-29 2h0m-16 2h0m-59 2h0m4 2h0m69 0h0m-42 1h0m-27 2h0m73 0h0m-63 1h0m66 0h0m8 0h0m3 0h0m2 0h0m-77 1h0m9 2h0m15 0h0m26 1h0m14 0h0m-38 5h0m11 0h0m5 1h0m-45 1h0m11 0h0m2 2h0m17 0h0m38 0h0m-27 1h0m21 1h0m-44 1h0m9 2h0m3 3h0m-17 2h0m37 0h0m-22 1h0m-16 4h0" stroke="#966EEE"/><path d="M345 91h0m-19 2h0m13 2h0m8 2h0m38 1h0m-48 1h0m48 4h0m-72 2h0m55 0h0m-48 1h0m6 1h0m27 1h0m-15 3h0m42 2h0m-7 2h0m-37 1h0m-14 2h0m0 1h0m49 3h0m-46 1h0m44 0h0m-12 3h0m-21 2h0m15 1h0m54 0h0m-30 1h0m-13 2h0m40 0h0m-23 1h0m-57 1h0m21 0h0m7 0h0m-3 1h0m27 1h0m-43 2h0m15 0h0m11 0h0m27 2h0m-16 1h0m11 2h0m-1 2h0m45 0h0m-116 1h0m60 0h0m9 0h0m41 1h0m-93 1h0m18 0h0m48 0h0m2 0h0m32 0h0m-85 1h0m1 0h0m10 2h0m72 1h0m-76 1h0m17 0h0m26 3h0m-110 1h0m71 2h0m41 0h0m-16 1h0m-16 1h0m-50 2h0m-23 1h0m-54 1h0m18 0h0m2 9h0m-26 1h0m2 0h0m4 9h0m17 2h0m-7 2h0m0 2h0m15 0h0m-32 5h0m7 0h0m160 5h0m-178 6h0m-8 8h0m6 5h0m21 0h0m1 0h0m7 1h0m137 2h0m-144 2h0m198 0h0m-53 2h0m-163 2h0m155 2h0m52 0h0m-1 2h0m23 1h0m-60 2h0m69 1h0m-203 1h0m183 2h0m33 20h0m-12 5h0m-10 4h0m-1 8h0m-6 4h0m26 1h0m25 4h0m7 1h0m-25 1h0m-16 2h0m32 1h0m6 0h0m-4 6h0m24 3h0m-61 2h0m29 1h0m24 0h0m-62 1h0m29 1h0m15 1h0m21 1h0m-47 1h0m-12 1h0m61 0h0m-16 7h0m-4 1h0m-42 2h0m89 1h0m-20 1h0m10 0h0m13 1h0m-79 1h0m-4 1h0m11 0h0m32 0h0m8 0h0m18 1h0m-20 2h0m-5 1h0m-25 1h0m36 0h0m33 0h0m-198 2h0m152 0h0m45 0h0m2 1h0m-201 1h0m136 0h0m13 2h0m8 1h0m-191 1h0m131 0h0m27 1h0m37 0h0m-73 1h0m32 0h0m1 0h0m67 0h0m19 0h0m-220 1h0m122 0h0m15 0h0m22 0h0m26 0h0m11 0h0m26 1h0m-225 1h0m206 0h0m-118 2h0m21 0h0m3 0h0m110 0h0m-205 1h0m103 0h0m107 0h0m-8 1h0m-213 1h0m98 1h0m43 0h0m24 0h0m38 0h0m3 0h0m-128 1h0m7 0h0m79 0h0m34 0h0m-188 1h0m2 1h0m176 0h0m33 1h0m-94 1h0m-4 1h0m33 0h0m15 0h0m-41 1h0m-33 1h0m46 0h0m65 0h0m-179 1h0m179 0h0m7 0h0m-137 2h0m127 0h0m15 0h0m11 0h0m-91 1h0m-37 2h0m31 0h0m-34 1h0m123 0h0m-172 1h0m12 0h0m17 0h0m51 0h0m-250 1h0m155 0h0m13 0h0m102 0h0m24 1h0m-25 1h0m0 0h0m59 0h0m15 0h0m-78 1h0m-5 1h0m27 1h0m39 1h0m-140 1h0m26 0h0m49 0h0m19 0h0m5 0h0m-25 1h0m-14 1h0m4 0h0m-289 1h0m300 0h0m87 0h0m-175 1h0m-7 1h0m4 0h0m95 0h0m-47 1h0m58 2h0m12 1h0m14 0h0m18 0h0m19 0h0m-104 1h0m27 0h0m68 0h0m0 1h0m-291 1h0m183 0h0m34 0h0m75 0h0m19 0h0m-116 1h0m-248 1h0m51 0h0m268 0h0m-262 1h0m4 0h0m268 0h0m12 0h0m-88 1h0m37 0h0m-291 1h0m276 0h0m-290 1h0m31 0h0m266 1h0m17 0h0m17 0h0m9 0h0m-66 1h0m27 1h0m59 0h0m7 0h0m-57 1h0m13 1h0m0 0h0m-6 1h0m-68 1h0m97 0h0m-57 1h0m54 0h0m35 0h0m-423 1h0m408 0h0m-129 1h0m45 0h0m24 0h0m19 0h0m34 0h0m-124 1h0m55 0h0m84 1h0m-137 2h0m61 0h0m-30 1h0m13 0h0m26 2h0m37 1h0m3 0h0m-58 1h0m41 0h0m-13 1h0m15 0h0m8 0h0m-50 1h0m6 0h0m78 1h0m-383 1h0m371 0h0m-33 1h0m-291 1h0m218 0h0m99 0h0m-394 1h0m288 1h0m68 0h0m4 1h0m-74 2h0m-226 1h0m208 0h0m56 0h0m-33 1h0m73 0h0m39 0h0m-325 1h0m210 0h0m49 0h0m-43 1h0m-318 1h0m35 0h0m47 0h0m247 0h0m98 0h0m-409 1h0m22 0h0m318 0h0m39 0h0m-403 1h0m289 0h0m85 0h0m43 1h0m-102 1h0m-232 1h0m205 0h0m2 0h0m28 0h0m56 0h0m50 1h0m-348 1h0m346 0h0m-64 1h0m6 1h0m-39 3h0m1 0h0m22 0h0m10 0h0m-251 2h0m263 1h0m40 3h0m-86 2h0m7 0h0m72 0h0m4 0h0m-86 1h0m14 0h0m50 1h0m23 0h0m-62 1h0m51 0h0m-59 1h0m1 0h0m20 0h0m30 0h0m-64 3h0m39 0h0m-13 1h0m-257 1h0m218 0h0m-19 2h0m20 0h0m70 0h0m2 0h0m-30 1h0m-47 1h0m32 0h0m12 1h0m36 0h0m-23 1h0m-19 2h0m49 2h0m-42 1h0m36 0h0m-18 1h0m-30 1h0m5 1h0m13 0h0m-37 1h0m29 0h0m36 4h0m-67 2h0m21 0h0m3 0h0m27 3h0m-2 1h0m4 2h0m-32 3h0m4 0h0" stroke="#8E65F0"/><path d="M322 93h0m40 4h0m14 2h0m16 2h0m2 3h0m-46 2h0m18 4h0m7 5h0m5 3h0m-11 2h0m-40 2h0m39 1h0m14 0h0m-3 1h0m1 1h0m-52 1h0m39 1h0m-42 1h0m76 4h0m-44 1h0m3 1h0m25 2h0m-70 1h0m111 0h0m-103 2h0m51 2h0m-59 2h0m68 0h0m14 1h0m-86 6h0m41 1h0m-52 3h0m11 1h0m-29 4h0m28 0h0m71 0h0m-94 1h0m8 0h0m98 2h0m-141 1h0m29 0h0m9 1h0m45 0h0m-101 1h0m57 0h0m-37 1h0m-8 1h0m13 1h0m134 0h0m-153 1h0m25 0h0m1 1h0m-12 1h0m8 0h0m-28 3h0m25 1h0m117 0h0m-150 1h0m-4 1h0m33 0h0m-32 2h0m32 2h0m-3 1h0m138 3h0m-169 3h0m-8 2h0m16 3h0m150 0h0m-169 3h0m42 1h0m-44 2h0m185 2h0m-14 2h0m24 1h0m-190 1h0m12 0h0m4 0h0m22 2h0m143 0h0m-179 3h0m171 1h0m17 0h0m-5 1h0m-161 1h0m161 0h0m3 2h0m-1 1h0m-154 1h0m150 0h0m-166 1h0m197 0h0m25 2h0m-243 1h0m230 0h0m-203 1h0m207 0h0m-224 1h0m227 0h0m-53 1h0m31 0h0m18 1h0m-15 2h0m-31 1h0m36 0h0m7 0h0m19 0h0m-33 1h0m8 0h0m1 0h0m11 0h0m-235 1h0m161 0h0m66 0h0m19 0h0m9 0h0m-34 1h0m32 0h0m13 0h0m-92 1h0m58 0h0m-234 2h0m236 2h0m18 1h0m-205 1h0m219 1h0m-33 1h0m15 1h0m11 0h0m0 0h0m-25 7h0m13 0h0m25 2h0m-31 1h0m-12 1h0m26 1h0m-32 3h0m47 1h0m-17 1h0m23 0h0m-25 1h0m-23 1h0m31 0h0m11 1h0m-191 1h0m182 0h0m-28 1h0m0 1h0m11 0h0m-11 1h0m29 0h0m-18 2h0m-12 1h0m-152 1h0m175 1h0m20 0h0m-30 3h0m33 3h0m-44 3h0m50 1h0m-56 2h0m4 1h0m33 0h0m-10 2h0m22 3h0m-15 4h0m5 0h0m-6 10h0m36 1h0m-31 2h0m3 0h0m28 1h0m-25 5h0m43 2h0m-12 3h0m-32 2h0m-133 1h0m155 4h0m34 0h0m-77 2h0m31 0h0m48 1h0m-10 3h0m-54 5h0m2 0h0m37 1h0m-57 1h0m21 1h0m1 1h0m-144 3h0m87 0h0m14 2h0m4 2h0m-129 1h0m155 3h0m75 1h0m5 0h0m-98 1h0m-23 4h0m-247 1h0m21 0h0m268 0h0m-288 1h0m83 0h0m-56 1h0m360 0h0m-384 1h0m13 0h0m358 0h0m-346 1h0m2 0h0m-26 2h0m18 0h0m13 0h0m289 0h0m-41 1h0m35 1h0m-314 1h0m36 0h0m47 0h0m1 0h0m-87 1h0m285 0h0m4 0h0m47 0h0m-339 1h0m2 0h0m42 0h0m299 0h0m-61 1h0m-61 1h0m-224 1h0m22 0h0m7 0h0m49 0h0m1 0h0m254 0h0m39 0h0m-346 1h0m33 0h0m-40 1h0m49 0h0m7 0h0m299 0h0m-326 2h0m21 0h0m219 0h0m-258 1h0m5 0h0m24 0h0m170 0h0m125 0h0m-271 1h0m188 0h0m64 0h0m29 0h0m-341 1h0m32 0h0m148 0h0m106 0h0m-270 1h0m23 0h0m19 0h0m316 0h0m-372 1h0m319 0h0m9 0h0m-348 1h0m59 0h0m274 0h0m26 1h0m-142 1h0m-161 1h0m200 0h0m14 0h0m110 0h0m-311 1h0m4 0h0m6 0h0m275 0h0m-342 1h0m247 2h0m131 0h0m-306 1h0m152 0h0m-199 1h0m352 1h0m-106 1h0m-64 1h0m57 0h0m28 0h0m-81 1h0m53 0h0m-219 2h0m218 0h0m30 2h0m83 0h0m5 0h0m-334 1h0m183 0h0m24 0h0m-222 1h0m314 0h0m21 1h0m-341 1h0m2 0h0m-56 1h0m23 0h0m340 0h0m-326 1h0m301 0h0m-328 1h0m359 0h0m-348 1h0m20 0h0m22 0h0m196 1h0m21 0h0m82 0h0m-330 1h0m33 0h0m202 0h0m43 0h0m-240 1h0m305 0h0m-116 2h0m-241 1h0m15 0h0m288 0h0m-356 1h0m100 0h0m186 0h0m68 0h0m9 1h0m2 0h0m-335 1h0m13 0h0m23 1h0m216 2h0m132 0h0m-111 1h0m42 1h0m69 0h0m11 0h0m-105 2h0m28 0h0m-256 1h0m-3 1h0m209 0h0m53 0h0m-295 2h0m23 0h0m-10 2h0m32 0h0m196 0h0m-3 1h0m-196 1h0m295 0h0m-300 1h0m-4 1h0m281 5h0m-91 1h0m70 0h0m-69 2h0m70 0h0m12 1h0m17 0h0m1 0h0m-31 1h0m-256 1h0m191 0h0m52 1h0m27 1h0m-289 1h0m206 0h0m0 0h0m-198 1h0m5 4h0m197 0h0m11 0h0m55 0h0m-21 1h0m17 0h0m-62 2h0m67 0h0m-8 3h0m27 0h0m-17 3h0m1 2h0m-27 6h0m46 0h0m-78 2h0m74 0h0m-6 1h0m11 0h0m-38 1h0m-30 1h0m34 0h0m21 2h0m-44 1h0m21 2h0m23 5h0m-21 2h0" stroke="#D3D3D3"/><path d="M340 88h0m43 6h0m-4 1h0m-54 1h0m14 2h0m-13 1h0m35 0h0m-24 4h0m23 0h0m-16 1h0m24 3h0m-5 1h0m11 0h0m-44 2h0m13 0h0m-30 1h0m6 1h0m62 0h0m15 2h0m-56 1h0m-29 3h0m48 1h0m-21 1h0m35 1h0m-38 1h0m-8 1h0m27 0h0m-33 1h0m7 0h0m13 0h0m52 0h0m-77 1h0m52 0h0m-36 1h0m48 4h0m-50 1h0m8 0h0m36 0h0m-34 1h0m54 0h0m9 0h0m-78 1h0m75 1h0m-19 1h0m13 0h0m-54 2h0m16 0h0m-28 1h0m57 0h0m42 1h0m-109 1h0m11 0h0m25 1h0m-33 1h0m46 0h0m34 0h0m19 1h0m-86 1h0m18 0h0m15 0h0m-59 1h0m12 0h0m3 1h0m6 0h0m67 0h0m23 0h0m-109 1h0m3 0h0m79 3h0m-75 1h0m81 1h0m-120 1h0m18 0h0m94 0h0m8 0h0m10 3h0m-23 4h0m3 0h0m-95 1h0m30 0h0m38 0h0m-78 1h0m75 0h0m-87 2h0m121 0h0m-144 1h0m147 1h0m-142 1h0m70 0h0m-55 1h0m-3 1h0m-4 1h0m10 0h0m-39 2h0m23 0h0m-38 3h0m7 5h0m6 0h0m24 1h0m5 3h0m-41 6h0m17 0h0m-19 5h0m8 12h0m14 2h0m-21 1h0m190 0h0m-168 1h0m3 0h0m-28 1h0m1 2h0m19 1h0m-5 5h0m-13 4h0m218 0h0m-57 1h0m-9 1h0m-136 2h0m165 0h0m-160 1h0m141 0h0m65 3h0m-6 2h0m-54 1h0m85 0h0m-22 3h0m15 1h0m-19 5h0m8 1h0m-2 5h0m13 0h0m-183 12h0m186 3h0m-24 5h0m2 7h0m32 2h0m-28 2h0m46 1h0m-39 3h0m14 0h0m25 0h0m-11 1h0m-12 1h0m7 1h0m-9 2h0m18 1h0m-29 2h0m21 3h0m-17 1h0m33 0h0m6 2h0m-59 1h0m47 3h0m23 2h0m-64 2h0m10 2h0m49 0h0m-22 3h0m-39 1h0m-1 1h0m32 0h0m9 1h0m31 0h0m-20 2h0m15 1h0m-28 1h0m6 0h0m40 2h0m-25 1h0m-54 2h0m43 1h0m-15 1h0m-127 2h0m151 1h0m-40 1h0m38 1h0m-150 1h0m-29 3h0m27 0h0m77 1h0m51 0h0m1 0h0m-131 1h0m138 1h0m-171 1h0m39 1h0m169 0h0m12 0h0m-116 1h0m25 0h0m-101 1h0m150 0h0m-55 1h0m42 1h0m9 0h0m68 1h0m3 0h0m-244 1h0m171 0h0m4 0h0m59 0h0m10 0h0m0 0h0m-34 1h0m-83 2h0m95 0h0m-201 1h0m112 0h0m47 0h0m56 0h0m-120 1h0m30 0h0m74 0h0m-190 1h0m108 0h0m-4 1h0m21 1h0m15 0h0m55 0h0m-82 1h0m74 0h0m15 1h0m4 0h0m-221 1h0m97 0h0m80 0h0m56 0h0m-206 1h0m104 1h0m103 0h0m-198 1h0m124 1h0m-276 2h0m205 2h0m124 0h0m-72 2h0m77 0h0m-99 1h0m76 0h0m-94 1h0m11 0h0m11 0h0m20 0h0m9 0h0m10 0h0m30 0h0m33 0h0m-3 1h0m-90 2h0m4 0h0m37 0h0m44 0h0m-370 1h0m210 0h0m64 0h0m-18 1h0m-55 1h0m10 0h0m40 1h0m78 0h0m-105 1h0m54 0h0m66 0h0m-45 1h0m49 0h0m15 0h0m-54 1h0m31 0h0m-84 1h0m8 0h0m2 0h0m-37 2h0m-146 2h0m186 0h0m-31 2h0m23 0h0m119 0h0m-12 1h0m3 0h0m-44 1h0m49 0h0m-348 1h0m227 0h0m16 0h0m55 0h0m-327 2h0m232 0h0m43 0h0m25 0h0m32 0h0m47 0h0m-74 1h0m7 0h0m-25 1h0m78 0h0m-74 1h0m13 0h0m84 0h0m-143 1h0m65 0h0m84 0h0m-72 1h0m47 1h0m-56 1h0m-51 1h0m3 0h0m-25 1h0m5 0h0m74 1h0m-69 1h0m34 0h0m-243 2h0m5 1h0m264 0h0m66 0h0m-127 1h0m103 0h0m-359 1h0m323 0h0m49 0h0m-56 1h0m5 0h0m47 0h0m-11 1h0m19 0h0m-115 1h0m63 0h0m32 0h0m-399 1h0m421 0h0m-429 1h0m419 0h0m-18 1h0m-384 1h0m370 0h0m22 0h0m-397 1h0m335 0h0m12 0h0m11 0h0m4 0h0m52 2h0m-107 1h0m38 0h0m22 0h0m0 0h0m-378 1h0m421 0h0m-130 1h0m78 0h0m-71 2h0m31 0h0m43 0h0m-48 1h0m83 0h0m1 0h0m-110 1h0m52 0h0m2 0h0m65 0h0m-326 1h0m260 0h0m-344 1h0m22 0h0m275 0h0m99 0h0m-38 1h0m29 0h0m3 0h0m-87 1h0m57 0h0m-15 1h0m-336 1h0m373 0h0m-91 2h0m41 0h0m0 0h0m29 0h0m-52 2h0m54 0h0m24 0h0m7 0h0m8 1h0m-113 1h0m11 0h0m27 0h0m-39 1h0m-2 1h0m26 0h0m-19 2h0m35 0h0m42 0h0m-60 1h0m18 0h0m70 0h0m-28 2h0m-37 1h0m13 0h0m34 1h0m1 1h0m-101 1h0m31 0h0m65 0h0m17 1h0m-65 1h0m31 0h0m3 0h0m-76 2h0m2 0h0m53 2h0m50 1h0m4 2h0m-101 1h0m6 0h0m35 0h0m57 1h0m-57 1h0m6 0h0m-20 1h0m42 0h0m-36 2h0m32 0h0m14 0h0m17 0h0m-91 2h0m46 1h0m37 0h0m-24 1h0m-44 2h0m12 0h0m22 4h0m15 0h0m-44 1h0m54 0h0m-49 1h0m41 0h0m-58 1h0m54 1h0m-26 1h0m8 1h0m17 1h0m-36 1h0m9 1h0m21 0h0m-9 3h0m4 2h0m1 0h0m-28 1h0m18 0h0" stroke="#7C51F4"/><path d="M366 92h0m-20 3h0m42 8h0m-58 7h0m42 0h0m-30 1h0m42 1h0m-9 2h0m-50 3h0m22 0h0m2 0h0m40 0h0m-29 4h0m-16 1h0m40 1h0m11 1h0m0 0h0m-5 2h0m-77 2h0m42 0h0m-34 4h0m94 0h0m-103 1h0m66 1h0m7 1h0m-8 5h0m-50 2h0m10 0h0m43 0h0m-66 3h0m3 0h0m101 0h0m-109 1h0m4 0h0m-4 2h0m36 0h0m35 0h0m-57 1h0m42 0h0m10 4h0m-48 2h0m63 0h0m-102 2h0m41 1h0m-56 4h0m122 0h0m-144 2h0m16 0h0m3 0h0m16 0h0m-36 3h0m-19 1h0m27 0h0m4 0h0m11 1h0m-28 3h0m7 1h0m118 0h0m-138 3h0m25 1h0m117 0h0m-155 1h0m141 1h0m-146 1h0m181 2h0m-151 1h0m14 0h0m-6 1h0m138 4h0m-178 1h0m170 1h0m13 0h0m-144 1h0m130 0h0m-158 4h0m-13 1h0m8 0h0m177 0h0m-172 2h0m16 2h0m164 0h0m-19 3h0m-7 1h0m27 0h0m-190 1h0m24 0h0m11 1h0m-1 1h0m-25 2h0m174 1h0m-183 3h0m197 0h0m-195 1h0m0 0h0m18 0h0m152 2h0m29 0h0m13 4h0m-40 1h0m47 2h0m-210 1h0m23 0h0m-17 1h0m203 0h0m-192 1h0m150 0h0m9 0h0m8 0h0m22 0h0m-19 1h0m15 0h0m5 1h0m-58 1h0m86 0h0m11 0h0m-91 1h0m84 0h0m11 0h0m-94 4h0m20 0h0m38 0h0m29 1h0m-27 1h0m-22 1h0m47 0h0m-32 1h0m28 0h0m10 0h0m-219 2h0m211 1h0m-23 2h0m-4 2h0m-181 2h0m201 1h0m17 0h0m-38 1h0m-2 1h0m41 0h0m8 0h0m-49 3h0m15 0h0m-2 1h0m33 0h0m-4 1h0m-42 4h0m45 1h0m4 0h0m-19 1h0m9 0h0m10 0h0m-41 17h0m27 1h0m-11 2h0m10 0h0m21 0h0m-50 1h0m1 1h0m3 0h0m21 2h0m14 0h0m2 1h0m-40 3h0m18 0h0m33 2h0m-15 4h0m10 0h0m12 1h0m-25 1h0m20 3h0m-30 1h0m24 4h0m7 3h0m7 8h0m29 0h0m-44 5h0m12 0h0m-3 2h0m-8 4h0m37 0h0m18 1h0m-30 1h0m-22 1h0m25 2h0m-68 4h0m33 0h0m-14 1h0m83 0h0m-20 1h0m-99 1h0m96 0h0m-75 2h0m54 0h0m18 1h0m-59 1h0m0 0h0m27 0h0m-176 1h0m191 0h0m-49 3h0m33 0h0m30 0h0m41 1h0m-144 2h0m142 0h0m-8 1h0m-127 1h0m-254 3h0m7 0h0m305 0h0m-295 1h0m8 2h0m71 0h0m163 1h0m90 1h0m3 0h0m44 1h0m-366 1h0m339 1h0m-364 1h0m264 0h0m-255 3h0m44 2h0m199 0h0m67 1h0m-312 2h0m32 0h0m1 0h0m-47 1h0m38 0h0m28 0h0m186 0h0m137 0h0m-382 2h0m266 0h0m92 0h0m-331 1h0m-31 1h0m18 0h0m212 0h0m-168 1h0m301 0h0m-359 1h0m37 0h0m15 0h0m7 0h0m245 0h0m-41 1h0m-231 1h0m-25 1h0m73 0h0m165 0h0m68 0h0m-311 1h0m12 1h0m337 0h0m7 0h0m-310 1h0m-56 1h0m31 0h0m296 0h0m28 0h0m-322 1h0m16 0h0m17 0h0m10 0h0m226 0h0m-58 2h0m-184 1h0m9 0h0m3 0h0m205 1h0m44 0h0m82 0h0m-22 1h0m9 0h0m6 0h0m-347 1h0m37 0h0m292 0h0m18 0h0m-13 2h0m-369 1h0m37 1h0m197 0h0m8 0h0m20 1h0m-209 1h0m261 0h0m-259 1h0m0 0h0m294 0h0m28 0h0m-380 1h0m15 0h0m287 0h0m17 0h0m-327 2h0m25 0h0m255 1h0m-243 1h0m20 0h0m224 0h0m82 0h0m-362 1h0m293 0h0m5 0h0m83 0h0m-381 1h0m288 0h0m34 0h0m47 0h0m-373 1h0m283 0h0m-273 1h0m32 0h0m8 0h0m12 1h0m243 0h0m-298 1h0m29 0h0m316 0h0m10 0h0m15 1h0m-99 1h0m16 0h0m90 0h0m-54 1h0m45 0h0m-358 1h0m8 0h0m7 0h0m36 0h0m215 0h0m23 0h0m-288 1h0m13 0h0m26 1h0m204 0h0m98 0h0m-406 1h0m433 0h0m-374 1h0m14 0h0m-14 1h0m249 1h0m77 0h0m-277 1h0m314 0h0m-366 1h0m361 0h0m-379 1h0m23 0h0m323 0h0m11 0h0m-330 2h0m12 0h0m313 0h0m-81 1h0m7 0h0m3 0h0m-238 1h0m329 1h0m-313 1h0m292 0h0m-304 1h0m1 0h0m3 1h0m203 0h0m117 0h0m1 0h0m-309 2h0m1 0h0m192 0h0m115 0h0m-66 1h0m3 0h0m67 0h0m-342 1h0m8 0h0m220 0h0m-210 4h0m255 1h0m-25 1h0m-32 2h0m-192 1h0m291 0h0m-84 3h0m23 2h0m-13 2h0m-8 1h0m58 0h0m-43 1h0m0 2h0m49 0h0m-50 3h0m4 2h0m20 2h0m-36 5h0m32 2h0m16 1h0m-32 1h0m12 12h0" stroke="#D3D3D3"/><path d="M339 95h0m43 1h0m-40 1h0m39 1h0m-60 1h0m58 0h0m7 0h0m-63 1h0m27 0h0m6 0h0m-46 2h0m61 0h0m-11 1h0m28 0h0m-46 1h0m19 0h0m-19 1h0m-31 1h0m3 0h0m61 0h0m3 2h0m7 0h0m-23 1h0m18 0h0m15 2h0m1 3h0m-66 3h0m20 0h0m24 0h0m7 0h0m-5 1h0m-9 1h0m-26 1h0m-16 1h0m59 0h0m-30 1h0m24 0h0m-6 2h0m-52 1h0m24 1h0m20 0h0m21 3h0m2 1h0m22 0h0m-19 2h0m7 0h0m-86 1h0m56 0h0m-53 1h0m41 0h0m8 0h0m8 0h0m48 0h0m-29 1h0m-28 1h0m-52 1h0m52 0h0m21 0h0m-4 1h0m19 0h0m-69 1h0m58 1h0m-74 1h0m49 0h0m-3 1h0m12 0h0m18 0h0m3 0h0m2 0h0m-12 1h0m-40 1h0m51 0h0m-72 1h0m17 0h0m48 3h0m-77 1h0m16 0h0m15 0h0m1 0h0m27 0h0m7 0h0m22 0h0m26 0h0m-113 1h0m63 0h0m-88 1h0m75 0h0m29 0h0m-94 1h0m82 0h0m11 1h0m-104 1h0m83 0h0m32 0h0m-57 1h0m72 1h0m-18 1h0m-6 2h0m-78 1h0m22 0h0m-35 1h0m-65 2h0m26 0h0m21 1h0m109 1h0m-17 4h0m-130 5h0m13 3h0m-41 4h0m8 4h0m-17 1h0m15 0h0m-9 12h0m-2 3h0m187 0h0m-188 1h0m32 0h0m5 3h0m-19 4h0m-21 3h0m193 0h0m-160 3h0m-15 1h0m153 3h0m72 0h0m-239 2h0m165 0h0m-166 1h0m164 4h0m0 1h0m103 5h0m-40 9h0m31 9h0m-196 1h0m205 0h0m-202 3h0m166 6h0m-158 1h0m169 0h0m16 2h0m-180 1h0m187 2h0m-186 4h0m196 3h0m-10 4h0m-3 3h0m-32 4h0m25 3h0m5 0h0m1 0h0m-6 2h0m3 0h0m-28 1h0m2 0h0m29 0h0m-8 1h0m3 0h0m15 0h0m-20 1h0m18 2h0m-15 5h0m-17 1h0m2 1h0m54 0h0m-10 1h0m-11 1h0m-25 2h0m52 1h0m-67 1h0m53 5h0m22 0h0m-26 3h0m-26 3h0m25 0h0m5 0h0m38 3h0m-48 1h0m3 0h0m-6 1h0m-133 2h0m116 0h0m19 0h0m41 0h0m8 0h0m-23 1h0m7 0h0m-56 3h0m7 0h0m35 3h0m1 0h0m5 1h0m-153 1h0m2 0h0m110 0h0m84 0h0m-118 1h0m-85 1h0m140 1h0m-138 2h0m73 0h0m16 0h0m37 0h0m62 0h0m-96 2h0m73 0h0m24 0h0m-214 1h0m14 1h0m208 0h0m-92 1h0m33 0h0m5 0h0m17 0h0m30 0h0m16 0h0m-211 1h0m159 0h0m52 0h0m-116 1h0m9 0h0m107 0h0m-44 1h0m21 0h0m-176 1h0m-33 3h0m140 0h0m-138 1h0m188 0h0m-20 1h0m-145 1h0m173 0h0m-60 1h0m-103 1h0m-6 1h0m90 1h0m117 1h0m-73 1h0m-298 1h0m227 0h0m100 0h0m-75 1h0m-266 1h0m187 0h0m11 0h0m17 0h0m92 0h0m6 0h0m23 0h0m-136 1h0m46 0h0m29 0h0m109 0h0m-162 1h0m-19 1h0m149 0h0m22 0h0m-95 1h0m74 3h0m-151 1h0m70 0h0m118 0h0m-139 1h0m77 0h0m-126 1h0m88 0h0m28 0h0m12 0h0m-307 1h0m348 0h0m-106 1h0m71 0h0m58 0h0m-187 1h0m67 0h0m72 0h0m26 0h0m-160 1h0m86 0h0m87 2h0m-372 1h0m230 1h0m4 0h0m112 0h0m22 0h0m-136 1h0m13 0h0m130 0h0m2 0h0m-68 1h0m1 0h0m21 1h0m-116 1h0m29 0h0m63 0h0m50 0h0m25 0h0m-388 1h0m249 2h0m49 1h0m-301 1h0m69 0h0m199 0h0m-5 2h0m53 0h0m25 0h0m-59 1h0m-14 1h0m-267 2h0m260 0h0m24 0h0m6 2h0m40 0h0m25 0h0m-306 1h0m281 0h0m-34 1h0m7 1h0m34 1h0m-62 1h0m-290 1h0m20 0h0m243 0h0m56 0h0m-52 1h0m77 0h0m-9 1h0m-53 2h0m-319 1h0m389 0h0m-70 1h0m111 1h0m-50 1h0m31 0h0m-395 1h0m44 0h0m317 2h0m-32 1h0m-25 1h0m89 0h0m9 0h0m-94 1h0m-315 1h0m313 0h0m100 0h0m-16 1h0m-99 1h0m20 0h0m86 1h0m-77 1h0m53 0h0m-101 1h0m120 0h0m-320 1h0m-84 1h0m304 0h0m92 0h0m-385 2h0m262 0h0m28 0h0m21 0h0m-259 1h0m238 0h0m4 0h0m17 0h0m35 0h0m-69 1h0m65 0h0m26 0h0m20 0h0m3 0h0m-100 2h0m68 0h0m-94 1h0m100 0h0m28 1h0m-315 1h0m229 1h0m70 0h0m-64 1h0m52 0h0m21 0h0m3 0h0m-331 1h0m289 0h0m-39 1h0m29 0h0m-65 1h0m46 0h0m5 0h0m-247 2h0m264 0h0m16 0h0m-84 3h0m1 0h0m47 0h0m20 1h0m-45 1h0m15 0h0m-30 2h0m-5 1h0m75 1h0m-287 1h0m264 1h0m47 0h0m-81 2h0m13 0h0m18 2h0m13 0h0m-47 1h0m26 1h0m33 0h0m-66 2h0m28 0h0m44 0h0m-72 2h0m45 0h0m6 0h0m-21 1h0m5 1h0m4 1h0m-40 1h0m33 1h0m33 0h0m-18 2h0m-21 1h0m13 1h0m-20 1h0m-17 3h0m75 0h0m-51 3h0m22 0h0m-28 1h0m3 0h0m12 0h0m32 0h0m-22 1h0m-21 1h0m23 2h0m-26 1h0" stroke="#855BF2"/><path d="M338 91h0m5 1h0m-25 1h0m45 0h0m2 3h0m-40 1h0m19 1h0m-14 3h0m35 1h0m-49 5h0m27 0h0m-1 1h0m-28 5h0m47 0h0m-28 1h0m15 0h0m-31 4h0m31 1h0m18 0h0m-49 2h0m56 2h0m-59 3h0m95 0h0m1 0h0m9 1h0m-5 1h0m-88 1h0m51 0h0m26 1h0m-81 1h0m101 0h0m2 1h0m-12 1h0m-31 3h0m25 0h0m-98 1h0m96 1h0m-6 1h0m11 0h0m-44 1h0m34 0h0m3 1h0m0 1h0m-15 1h0m16 0h0m-88 1h0m37 0h0m47 0h0m9 0h0m-38 1h0m51 0h0m-61 1h0m59 4h0m-4 2h0m9 1h0m-30 5h0m-9 2h0m4 0h0m-29 2h0m32 4h0m-134 3h0m-15 1h0m-23 2h0m39 0h0m120 3h0m-24 1h0m-127 1h0m-13 1h0m30 0h0m-32 3h0m-5 4h0m35 3h0m-34 8h0m43 2h0m-22 1h0m8 4h0m-11 1h0m-11 1h0m-2 3h0m10 0h0m-12 1h0m24 4h0m-15 2h0m-2 2h0m-17 3h0m14 0h0m153 4h0m63 0h0m-227 1h0m33 5h0m-30 1h0m215 0h0m-4 2h0m49 4h0m-4 2h0m-200 8h0m196 1h0m-19 2h0m2 2h0m4 3h0m-13 1h0m-149 10h0m181 0h0m-1 2h0m18 2h0m3 1h0m-3 4h0m2 1h0m-33 2h0m-6 1h0m0 1h0m24 0h0m-33 2h0m57 2h0m-41 3h0m24 0h0m-19 1h0m-4 2h0m12 7h0m-19 4h0m14 1h0m24 0h0m4 1h0m3 0h0m5 2h0m-1 2h0m-20 1h0m14 2h0m27 2h0m10 0h0m-49 2h0m44 2h0m-174 1h0m193 6h0m-35 8h0m6 0h0m4 0h0m-65 1h0m-131 1h0m111 0h0m37 0h0m30 0h0m-69 1h0m9 1h0m69 1h0m24 0h0m-201 1h0m119 0h0m50 2h0m-64 1h0m-10 1h0m62 0h0m41 0h0m9 0h0m-225 1h0m189 0h0m-88 1h0m143 1h0m-211 1h0m111 0h0m12 0h0m7 0h0m85 0h0m-77 2h0m70 0h0m-226 1h0m168 0h0m-25 1h0m24 0h0m27 0h0m-166 1h0m179 0h0m-78 2h0m82 0h0m21 0h0m-382 2h0m298 0h0m-24 1h0m-16 1h0m25 0h0m4 0h0m37 0h0m28 0h0m-355 1h0m364 1h0m-86 1h0m5 1h0m-249 1h0m151 0h0m139 0h0m-47 1h0m32 0h0m58 0h0m21 0h0m-347 1h0m212 0h0m106 0h0m-283 3h0m247 0h0m50 0h0m-127 2h0m-48 1h0m9 0h0m22 0h0m14 0h0m43 0h0m21 0h0m13 0h0m-263 1h0m11 0h0m1 0h0m231 0h0m22 0h0m41 0h0m-341 1h0m2 0h0m301 0h0m-307 1h0m22 0h0m245 0h0m-203 1h0m117 0h0m123 0h0m30 0h0m-334 1h0m21 0h0m13 0h0m12 0h0m182 0h0m20 0h0m18 0h0m102 0h0m-380 1h0m5 0h0m213 0h0m52 0h0m116 0h0m-399 1h0m77 0h0m175 0h0m68 0h0m-287 1h0m243 0h0m29 0h0m64 0h0m-88 1h0m64 0h0m29 0h0m-355 1h0m34 0h0m211 0h0m2 0h0m61 0h0m-284 1h0m251 1h0m7 0h0m20 0h0m-307 1h0m8 0h0m25 0h0m25 0h0m198 0h0m-270 1h0m26 0h0m17 0h0m-9 1h0m54 0h0m225 0h0m23 0h0m-323 1h0m2 0h0m29 0h0m13 0h0m223 0h0m9 0h0m92 0h0m2 0h0m-362 1h0m6 0h0m56 0h0m9 0h0m164 0h0m80 0h0m-12 1h0m39 0h0m18 0h0m11 0h0m-350 1h0m194 0h0m69 0h0m45 0h0m33 0h0m-340 1h0m1 0h0m12 0h0m6 0h0m310 0h0m-305 1h0m243 0h0m27 0h0m25 0h0m25 0h0m10 0h0m-361 1h0m23 0h0m23 0h0m175 0h0m48 0h0m-284 1h0m54 0h0m206 0h0m111 0h0m-386 1h0m8 0h0m15 0h0m321 0h0m17 0h0m17 0h0m-343 1h0m40 0h0m313 0h0m-377 1h0m2 0h0m43 0h0m11 0h0m197 0h0m120 0h0m-355 1h0m275 0h0m-301 1h0m42 0h0m6 0h0m201 0h0m65 0h0m45 0h0m-361 1h0m24 0h0m41 0h0m206 0h0m14 0h0m52 0h0m3 0h0m-88 1h0m38 0h0m-301 1h0m24 0h0m0 0h0m279 0h0m87 0h0m-396 2h0m8 0h0m72 0h0m307 0h0m6 1h0m14 0h0m-380 1h0m11 0h0m17 0h0m9 0h0m254 0h0m-307 1h0m12 0h0m283 0h0m39 2h0m50 0h0m-387 1h0m8 0h0m15 0h0m231 0h0m122 0h0m-362 1h0m52 0h0m-68 1h0m16 0h0m40 0h0m9 0h0m185 0h0m7 0h0m93 0h0m18 0h0m23 0h0m-383 1h0m23 0h0m16 0h0m211 0h0m28 0h0m10 0h0m79 0h0m12 0h0m-405 1h0m8 0h0m19 0h0m23 0h0m234 0h0m-314 1h0m26 0h0m346 0h0m17 0h0m20 0h0m-414 1h0m3 0h0m31 0h0m2 0h0m1 0h0m-2 1h0m0 0h0m77 0h0m7 0h0m1 0h0m311 0h0m-425 1h0m59 0h0m5 0h0m10 0h0m342 0h0m-420 1h0m19 0h0m9 0h0m1 0h0m30 0h0m20 0h0m31 0h0m2 0h0m191 0h0m116 0h0m-377 1h0m6 0h0m48 0h0m-73 1h0m7 0h0m33 0h0m273 0h0m-291 1h0m49 0h0m7 0h0m17 0h0m4 0h0m196 0h0m31 0h0m-306 1h0m30 0h0m290 0h0m19 0h0m-342 1h0m17 0h0m5 0h0m22 0h0m325 0h0m-394 1h0m2 0h0m66 0h0m21 0h0m243 0h0m38 0h0m-386 1h0m23 0h0m54 0h0m3 0h0m2 0h0m329 0h0m13 0h0m-392 1h0m64 0h0m1 0h0m338 0h0m-398 1h0m2 0h0m21 0h0m35 0h0m322 0h0m-415 1h0m59 0h0m37 0h0m237 0h0m49 0h0m30 0h0m-406 1h0m2 0h0m-4 1h0m103 0h0m199 0h0m70 0h0m-377 1h0m4 0h0m10 0h0m69 0h0m11 0h0m221 0h0m34 0h0m-17 1h0m96 0h0m-31 1h0m-305 1h0m278 0h0m-266 1h0m300 0h0m-54 1h0m-247 1h0m212 0h0m32 0h0m19 0h0m-274 1h0m241 0h0m40 0h0m47 0h0m-25 1h0m25 0h0m-313 1h0m244 0h0m-50 1h0m82 0h0m33 0h0m-104 1h0m35 0h0m7 1h0m-266 1h0m15 0h0m315 0h0m-331 1h0m225 0h0m32 0h0m69 0h0m-5 2h0m-83 1h0m21 0h0m-6 1h0m31 0h0m-36 1h0m54 0h0m-299 1h0m6 0h0m215 0h0m68 0h0m4 0h0m-287 1h0m3 0h0m252 0h0m2 0h0m-255 1h0m-5 2h0m310 0h0m-71 1h0m71 0h0m-70 3h0m8 0h0m-9 1h0m68 0h0m3 1h0m-87 1h0m12 0h0m23 0h0m-23 2h0m32 2h0m-33 1h0m16 0h0m-22 2h0m26 4h0m28 0h0m1 0h0m-21 1h0m16 0h0m-27 1h0m-18 1h0m-7 1h0m56 2h0m-1 2h0m-38 1h0m24 1h0m-18 2h0m0 2h0" stroke="#B093E5"/><path d="M372 94h0m-34 5h0m-23 6h0m76 1h0m-58 1h0m-6 2h0m25 1h0m1 0h0m31 4h0m7 0h0m-53 16h0m2 0h0m16 8h0m-28 3h0m-16 1h0m-57 44h0m-1 56h0m226 5h0m-2 9h0m-31 33h0m34 3h0m43 23h0m-41 1h0m54 8h0m-35 1h0m-12 6h0m-15 3h0m40 3h0m-44 7h0m56 0h0m-114 5h0m38 0h0m50 6h0m26 0h0m-79 8h0m24 2h0m48 0h0m-120 2h0m92 2h0m-84 5h0m56 6h0m-32 1h0m-3 2h0m110 6h0m-117 5h0m51 5h0m-19 3h0m88 0h0m-95 2h0m76 0h0m-109 4h0m8 0h0m107 1h0m-18 1h0m34 0h0m-121 1h0m1 5h0m23 2h0m-38 3h0m42 0h0m24 2h0m28 1h0m29 4h0m-97 5h0m69 0h0m-6 4h0m-94 1h0m84 1h0m-35 1h0m9 1h0m61 7h0m-6 2h0m-102 2h0m84 3h0m-83 2h0m89 1h0m-61 4h0m9 2h0m4 5h0m-29 2h0m73 1h0" stroke="#4926FB"/><path d="M327 92h0m42 1h0m-36 2h0m23 1h0m18 0h0m0 1h0m-58 3h0m58 0h0m-56 1h0m9 2h0m23 1h0m42 0h0m-63 1h0m15 0h0m-5 1h0m32 0h0m-12 1h0m32 0h0m-57 1h0m10 0h0m-6 1h0m24 1h0m-15 2h0m-9 1h0m-23 4h0m35 0h0m0 1h0m-29 1h0m16 2h0m40 4h0m12 0h0m-16 2h0m21 0h0m-50 1h0m76 3h0m-12 3h0m-1 1h0m-78 1h0m78 1h0m0 2h0m3 1h0m-99 2h0m83 0h0m23 0h0m-110 1h0m82 1h0m-58 1h0m2 0h0m36 1h0m28 0h0m-16 1h0m28 1h0m-70 3h0m21 0h0m38 1h0m22 1h0m-132 1h0m13 0h0m118 0h0m-133 2h0m20 2h0m64 0h0m11 1h0m-91 2h0m103 2h0m-126 5h0m-42 2h0m8 5h0m11 1h0m4 2h0m-28 6h0m28 1h0m-23 3h0m-16 3h0m34 4h0m-20 1h0m19 0h0m-15 9h0m13 1h0m-35 2h0m12 6h0m23 1h0m164 3h0m-156 1h0m138 6h0m-181 2h0m26 2h0m209 2h0m-11 2h0m-181 3h0m13 8h0m208 0h0m-2 10h0m-188 2h0m162 1h0m-158 10h0m183 1h0m10 2h0m-30 3h0m-1 6h0m-9 6h0m0 2h0m0 4h0m34 6h0m14 7h0m-36 3h0m46 2h0m-6 1h0m31 0h0m-30 5h0m16 1h0m-154 1h0m135 1h0m48 1h0m-77 4h0m23 0h0m43 0h0m-45 3h0m4 0h0m30 0h0m-34 2h0m49 0h0m-173 1h0m114 0h0m52 0h0m-29 1h0m1 1h0m15 0h0m38 0h0m-32 1h0m-11 1h0m14 0h0m32 0h0m-102 2h0m19 0h0m72 0h0m11 0h0m-113 1h0m4 0h0m-88 1h0m70 0h0m90 0h0m31 0h0m-110 1h0m38 1h0m1 0h0m4 1h0m80 0h0m-94 1h0m87 0h0m3 0h0m-100 1h0m-113 1h0m98 0h0m-122 1h0m6 0h0m167 0h0m-158 1h0m141 1h0m51 0h0m13 0h0m20 0h0m-38 2h0m17 0h0m-178 1h0m66 0h0m105 0h0m-26 2h0m-46 1h0m42 0h0m-138 1h0m93 0h0m73 0h0m-46 1h0m9 0h0m29 0h0m46 0h0m-137 1h0m-241 1h0m276 0h0m-106 1h0m59 0h0m47 0h0m88 1h0m-369 1h0m186 0h0m1 0h0m93 0h0m10 0h0m-8 1h0m34 0h0m39 0h0m-326 1h0m165 0h0m153 0h0m-157 1h0m-5 1h0m114 0h0m42 0h0m-306 1h0m217 0h0m29 0h0m56 0h0m-154 1h0m199 0h0m-69 2h0m-89 1h0m49 0h0m-74 1h0m15 0h0m82 0h0m29 0h0m-284 2h0m166 0h0m-161 1h0m270 0h0m-118 1h0m33 0h0m41 0h0m-47 1h0m-237 1h0m229 0h0m37 0h0m70 0h0m-7 1h0m22 0h0m-126 1h0m33 0h0m-39 1h0m51 0h0m50 0h0m-243 1h0m143 0h0m15 0h0m-234 1h0m213 0h0m117 0h0m-324 1h0m53 0h0m5 0h0m325 0h0m5 0h0m-355 1h0m191 1h0m66 0h0m-269 1h0m252 0h0m31 0h0m-269 1h0m229 0h0m21 0h0m80 0h0m-335 1h0m5 0h0m41 0h0m253 0h0m28 0h0m-350 1h0m33 0h0m-30 2h0m51 0h0m219 0h0m103 0h0m-301 1h0m280 0h0m-321 1h0m3 0h0m312 0h0m22 0h0m-377 2h0m17 1h0m2 0h0m345 0h0m-296 1h0m222 0h0m42 0h0m3 0h0m27 0h0m-368 1h0m293 0h0m62 0h0m-61 1h0m28 0h0m-316 1h0m18 0h0m42 0h0m233 0h0m29 0h0m35 0h0m-352 2h0m255 0h0m73 1h0m-68 1h0m68 0h0m46 0h0m0 0h0m-81 1h0m-25 1h0m18 0h0m40 0h0m23 0h0m-341 1h0m52 0h0m299 0h0m19 0h0m-132 1h0m119 0h0m-345 1h0m230 1h0m56 0h0m19 0h0m-66 1h0m96 0h0m-364 1h0m319 0h0m32 0h0m-61 1h0m-324 1h0m59 0h0m339 0h0m-376 2h0m44 0h0m4 0h0m213 0h0m33 0h0m-288 1h0m9 0h0m6 0h0m30 0h0m235 0h0m41 2h0m56 0h0m-413 1h0m28 1h0m395 0h0m-438 1h0m29 0h0m37 0h0m24 0h0m215 0h0m76 1h0m-309 1h0m44 0h0m183 0h0m2 0h0m-192 2h0m266 0h0m-52 1h0m21 0h0m17 1h0m-33 2h0m-245 2h0m246 2h0m42 0h0m49 0h0m-107 2h0m1 3h0m-227 1h0m310 1h0m5 0h0m-59 1h0m31 0h0m-279 2h0m293 0h0m-302 1h0m206 0h0m54 0h0m3 1h0m-22 1h0m0 0h0m-9 1h0m9 1h0m86 0h0m-108 1h0m78 0h0m-67 2h0m20 0h0m3 0h0m50 2h0m-69 1h0m58 1h0m-28 1h0m33 0h0m-28 1h0m4 2h0m-6 1h0m31 1h0m3 1h0m7 0h0m-79 2h0m29 1h0m44 1h0m-61 1h0m15 2h0m-27 1h0m23 0h0m-22 2h0m10 0h0m7 0h0m21 1h0m11 0h0m4 2h0m15 1h0m-31 1h0m-29 1h0m14 0h0m14 1h0m-12 9h0" stroke="#9D77EC"/><path d="M321 92h0m22 0h0m14 5h0m-38 1h0m25 0h0m31 0h0m-61 1h0m58 0h0m2 0h0m-20 2h0m-1 1h0m18 0h0m-54 2h0m2 0h0m-7 1h0m14 3h0m16 0h0m17 2h0m0 0h0m16 1h0m9 1h0m-42 5h0m10 0h0m43 0h0m-38 3h0m28 0h0m-29 1h0m19 0h0m-34 2h0m-27 2h0m36 0h0m11 0h0m-2 1h0m-8 1h0m50 0h0m-49 1h0m23 0h0m5 0h0m-55 1h0m6 2h0m12 0h0m13 2h0m-27 1h0m-1 2h0m-17 2h0m50 0h0m52 0h0m-102 1h0m47 1h0m-7 2h0m37 0h0m2 0h0m-38 1h0m63 0h0m-41 1h0m37 0h0m-73 1h0m60 0h0m-43 1h0m43 1h0m10 0h0m-85 1h0m30 0h0m17 2h0m-56 1h0m31 0h0m9 0h0m45 0h0m-47 1h0m40 0h0m-89 1h0m91 0h0m-69 2h0m66 0h0m4 0h0m-114 1h0m1 1h0m102 0h0m-103 1h0m2 1h0m52 1h0m30 1h0m30 0h0m-148 2h0m23 0h0m69 2h0m-98 6h0m0 7h0m-4 2h0m1 4h0m-6 3h0m10 0h0m-2 2h0m132 0h0m-152 5h0m12 0h0m-26 8h0m28 1h0m-2 1h0m-3 1h0m18 3h0m-37 4h0m193 4h0m-157 3h0m181 2h0m-211 1h0m4 2h0m-14 5h0m170 0h0m-2 5h0m-124 1h0m222 0h0m-46 1h0m-172 2h0m4 2h0m193 9h0m29 2h0m-1 1h0m-22 1h0m4 3h0m-3 3h0m-23 1h0m14 0h0m-8 2h0m3 2h0m34 10h0m2 6h0m-16 2h0m-16 8h0m18 0h0m30 3h0m-19 3h0m-15 9h0m28 1h0m14 0h0m-58 4h0m53 0h0m-45 1h0m34 1h0m43 0h0m-83 1h0m62 0h0m-25 4h0m7 1h0m18 1h0m-162 2h0m7 0h0m117 1h0m16 0h0m43 0h0m-9 1h0m-7 1h0m-46 3h0m8 0h0m45 0h0m-176 1h0m108 0h0m21 0h0m16 0h0m3 2h0m-21 1h0m65 0h0m-184 1h0m193 0h0m-51 1h0m-34 1h0m-143 2h0m172 0h0m-168 1h0m160 0h0m14 1h0m-171 1h0m2 0h0m141 0h0m39 0h0m-81 1h0m31 0h0m5 0h0m-48 1h0m-82 1h0m167 2h0m-148 1h0m4 0h0m142 0h0m7 0h0m35 0h0m1 0h0m-17 1h0m2 0h0m-195 1h0m135 1h0m13 0h0m34 3h0m26 0h0m-96 1h0m34 0h0m55 0h0m-80 1h0m52 0h0m-24 1h0m34 0h0m-21 1h0m-130 3h0m0 0h0m174 0h0m-94 1h0m-235 1h0m186 0h0m-192 1h0m153 0h0m27 1h0m70 1h0m82 0h0m-169 1h0m80 0h0m21 0h0m10 0h0m74 0h0m15 0h0m-194 1h0m131 3h0m-316 1h0m1 0h0m208 0h0m143 0h0m-34 2h0m23 0h0m-109 1h0m29 0h0m46 0h0m-55 1h0m38 0h0m-298 1h0m259 0h0m41 0h0m-237 1h0m263 0h0m39 0h0m-309 2h0m167 0h0m26 0h0m15 0h0m-50 1h0m34 1h0m9 0h0m65 0h0m-309 1h0m271 0h0m69 0h0m-33 1h0m54 0h0m-164 1h0m52 0h0m17 0h0m-56 1h0m14 0h0m113 0h0m-348 1h0m210 0h0m1 1h0m141 0h0m5 1h0m8 0h0m-311 1h0m162 0h0m55 0h0m-198 1h0m9 0h0m218 0h0m42 0h0m-96 1h0m58 1h0m-70 1h0m92 0h0m-57 1h0m-191 1h0m177 0h0m-244 1h0m361 0h0m-381 1h0m258 0h0m56 1h0m26 0h0m-56 1h0m8 0h0m4 1h0m46 0h0m-308 1h0m228 0h0m59 0h0m-67 2h0m10 0h0m32 1h0m-283 1h0m4 0h0m326 0h0m-57 1h0m48 0h0m-322 1h0m237 0h0m-2 1h0m110 0h0m16 0h0m-359 1h0m346 0h0m30 0h0m-350 1h0m299 0h0m35 0h0m-21 1h0m-380 2h0m-7 1h0m70 0h0m253 0h0m1 0h0m-319 1h0m271 0h0m12 0h0m133 0h0m-358 1h0m246 0h0m39 0h0m-42 1h0m-322 1h0m332 0h0m14 0h0m-351 1h0m337 0h0m-309 1h0m267 0h0m128 1h0m6 1h0m-342 1h0m315 1h0m-101 1h0m37 1h0m72 0h0m-370 1h0m272 0h0m-262 1h0m262 0h0m33 0h0m-12 1h0m76 0h0m-4 1h0m-384 1h0m287 0h0m-14 2h0m29 0h0m63 0h0m20 0h0m-9 2h0m-78 1h0m11 0h0m16 0h0m21 0h0m-74 1h0m120 0h0m8 0h0m-50 2h0m23 0h0m-107 1h0m76 1h0m22 2h0m-37 1h0m8 0h0m55 0h0m-55 1h0m6 0h0m-5 1h0m2 0h0m39 0h0m8 2h0m-94 3h0m-17 1h0m0 0h0m11 0h0m9 0h0m-6 4h0m66 0h0m7 0h0m-38 1h0m8 0h0m-26 1h0m19 1h0m-16 2h0m11 1h0m17 1h0m39 1h0m-61 1h0m35 0h0m12 2h0m-21 1h0m6 2h0m-4 2h0m-34 2h0m55 0h0m-46 1h0m-11 1h0m41 2h0m-45 1h0m45 0h0m-28 1h0m-13 1h0m47 1h0m-33 1h0m23 0h0m-31 3h0m2 0h0m13 3h0" stroke="#8E65F0"/><path d="M342 91h0m44 2h0m-45 6h0m-27 11h0m29 0h0m56 1h0m-25 1h0m7 0h0m-56 1h0m51 0h0m11 0h0m9 4h0m-51 5h0m45 4h0m-67 1h0m54 0h0m-4 3h0m-30 2h0m2 0h0m-15 3h0m18 0h0m11 0h0m7 0h0m21 1h0m12 1h0m-60 2h0m-12 1h0m82 1h0m-48 1h0m-14 3h0m23 0h0m5 0h0m34 0h0m-37 3h0m-68 3h0m2 0h0m21 0h0m61 0h0m-86 3h0m0 0h0m17 0h0m70 0h0m4 0h0m-30 1h0m-87 1h0m80 2h0m29 0h0m10 0h0m-81 1h0m-22 2h0m-38 1h0m112 0h0m13 1h0m-141 2h0m132 1h0m-126 1h0m32 0h0m-14 2h0m-37 1h0m38 0h0m-6 1h0m-1 2h0m117 0h0m6 0h0m-128 1h0m1 0h0m123 1h0m-136 3h0m-19 1h0m162 0h0m-157 4h0m158 1h0m9 0h0m-15 1h0m7 0h0m-163 2h0m2 0h0m-15 1h0m12 0h0m162 0h0m-153 2h0m-17 1h0m30 1h0m2 1h0m-22 4h0m150 1h0m-160 1h0m12 0h0m29 0h0m-40 6h0m-3 1h0m168 0h0m5 0h0m2 1h0m11 0h0m11 0h0m-197 1h0m191 2h0m-163 3h0m157 0h0m40 0h0m-205 2h0m161 0h0m1 2h0m31 0h0m-16 1h0m15 0h0m-201 1h0m153 1h0m40 0h0m19 0h0m2 1h0m10 0h0m-209 1h0m163 0h0m-158 1h0m187 0h0m21 0h0m-229 1h0m16 2h0m193 0h0m17 1h0m-40 1h0m-10 1h0m26 0h0m34 0h0m-243 1h0m165 0h0m73 0h0m-9 2h0m1 0h0m-1 1h0m-2 2h0m-190 1h0m3 0h0m122 0h0m79 0h0m-22 1h0m32 0h0m-27 2h0m15 0h0m-190 2h0m217 2h0m-43 4h0m23 0h0m-30 1h0m2 0h0m9 0h0m39 0h0m-40 1h0m27 0h0m-11 1h0m-17 4h0m-169 1h0m166 1h0m33 2h0m-4 2h0m-21 1h0m36 1h0m-191 2h0m191 1h0m-33 3h0m29 0h0m-1 1h0m-28 1h0m-16 2h0m31 1h0m-22 1h0m17 1h0m33 0h0m-16 5h0m6 3h0m7 0h0m6 0h0m-48 1h0m33 2h0m22 2h0m-57 2h0m28 0h0m23 2h0m-40 1h0m32 1h0m15 0h0m-15 3h0m17 2h0m-9 1h0m-13 1h0m23 7h0m-3 7h0m-26 9h0m19 2h0m36 2h0m-9 1h0m-10 1h0m-11 1h0m22 3h0m-102 1h0m-5 1h0m82 1h0m-164 3h0m188 0h0m-68 3h0m103 0h0m3 1h0m-3 2h0m-212 1h0m186 0h0m-188 1h0m96 2h0m5 0h0m-110 1h0m140 1h0m26 0h0m27 0h0m-330 4h0m261 0h0m43 0h0m-87 1h0m86 0h0m-8 1h0m-284 2h0m54 0h0m297 0h0m-300 2h0m198 0h0m-17 1h0m70 0h0m4 0h0m-113 1h0m95 0h0m-25 1h0m13 0h0m31 0h0m-266 2h0m285 0h0m-345 1h0m8 0h0m6 0h0m54 0h0m291 0h0m4 0h0m-328 1h0m3 0h0m196 0h0m122 0h0m16 0h0m-335 1h0m201 0h0m11 0h0m37 2h0m-305 1h0m74 0h0m213 0h0m62 0h0m-304 1h0m306 0h0m-300 1h0m197 0h0m23 0h0m115 0h0m5 0h0m-152 1h0m-30 1h0m62 0h0m56 0h0m-310 1h0m261 0h0m114 0h0m-165 1h0m-218 1h0m259 0h0m31 0h0m97 2h0m-324 1h0m217 0h0m104 0h0m-322 1h0m21 0h0m275 0h0m-342 1h0m5 0h0m276 0h0m48 0h0m-269 1h0m204 0h0m61 0h0m-301 1h0m-50 1h0m2 0h0m312 1h0m-285 1h0m25 0h0m-12 1h0m335 0h0m-295 1h0m283 0h0m-345 1h0m3 0h0m366 0h0m-343 2h0m329 0h0m-314 1h0m310 2h0m24 0h0m-332 1h0m254 0h0m-345 2h0m42 0h0m55 0h0m212 0h0m-247 1h0m33 0h0m321 0h0m-61 1h0m-329 1h0m-36 2h0m35 0h0m63 0h0m1 0h0m-70 1h0m305 1h0m-333 1h0m284 0h0m66 0h0m14 0h0m-278 2h0m16 0h0m182 0h0m112 1h0m-366 1h0m61 0h0m190 0h0m42 0h0m-266 1h0m262 0h0m107 0h0m-56 1h0m-18 1h0m-298 1h0m232 0h0m16 0h0m-19 2h0m-301 2h0m10 0h0m107 0h0m179 0h0m-194 1h0m314 0h0m-103 1h0m-7 2h0m39 0h0m40 0h0m-295 2h0m264 0h0m5 0h0m-335 1h0m331 0h0m-254 2h0m210 0h0m6 0h0m103 0h0m-345 1h0m261 0h0m95 1h0m-137 4h0m71 0h0m-255 1h0m-18 1h0m253 1h0m-54 1h0m95 0h0m-284 1h0m237 0h0m-246 1h0m264 0h0m-261 1h0m281 0h0m-49 1h0m34 2h0m15 0h0m-45 2h0m-32 1h0m20 1h0m29 0h0m-28 1h0m77 3h0m-302 1h0m217 0h0m74 0h0m-28 1h0m17 2h0m-7 2h0m5 0h0m-21 2h0m-10 2h0m-15 6h0m14 0h0m10 0h0m30 0h0m-65 4h0m65 1h0m-20 8h0" stroke="#D3D3D3"/><path d="M358 93h0m-13 1h0m19 0h0m-41 1h0m48 1h0m-26 1h0m-5 1h0m45 0h0m-24 2h0m7 2h0m-29 1h0m34 2h0m-22 4h0m-36 2h0m67 1h0m-66 1h0m14 0h0m63 2h0m-7 1h0m-66 1h0m-10 1h0m42 1h0m15 0h0m12 0h0m-47 2h0m60 1h0m-34 1h0m24 1h0m1 0h0m-27 2h0m52 3h0m5 0h0m5 1h0m-73 2h0m57 0h0m2 2h0m-55 1h0m66 1h0m-82 1h0m42 0h0m28 1h0m3 1h0m-48 3h0m50 0h0m19 1h0m-3 2h0m-116 1h0m-4 1h0m85 1h0m-56 2h0m3 0h0m57 0h0m-28 3h0m55 1h0m-4 2h0m-138 1h0m65 0h0m17 0h0m-6 2h0m36 0h0m-125 10h0m-10 1h0m4 0h0m15 0h0m-30 5h0m122 2h0m-131 5h0m-10 3h0m-1 5h0m-10 1h0m-10 5h0m39 2h0m-35 5h0m11 3h0m-1 4h0m-9 1h0m24 3h0m-24 3h0m187 0h0m5 0h0m20 0h0m-206 1h0m-7 1h0m230 2h0m-189 2h0m-35 1h0m228 0h0m-228 1h0m35 1h0m222 3h0m-95 1h0m6 0h0m-3 1h0m85 0h0m-229 1h0m233 0h0m-7 1h0m-218 3h0m3 3h0m202 6h0m-9 10h0m9 0h0m-166 5h0m154 0h0m12 0h0m19 3h0m1 1h0m13 15h0m-19 3h0m-17 2h0m12 0h0m1 4h0m-21 2h0m53 1h0m-23 6h0m-27 2h0m25 2h0m-21 1h0m42 1h0m15 2h0m-32 3h0m29 0h0m13 0h0m-166 7h0m8 2h0m176 3h0m-52 1h0m47 0h0m-72 1h0m9 2h0m22 0h0m-135 2h0m112 1h0m83 0h0m-38 3h0m-19 1h0m39 3h0m18 0h0m9 2h0m-206 1h0m196 1h0m-36 1h0m-31 1h0m-122 1h0m60 0h0m1 0h0m-88 1h0m6 0h0m102 1h0m77 0h0m-198 1h0m10 0h0m123 0h0m70 1h0m-178 1h0m116 0h0m-110 1h0m10 0h0m-2 1h0m98 0h0m35 0h0m-165 2h0m33 0h0m94 2h0m11 0h0m38 0h0m29 0h0m-190 1h0m129 0h0m49 0h0m-79 1h0m9 0h0m55 0h0m-135 1h0m99 2h0m-201 1h0m237 0h0m-82 1h0m47 0h0m19 0h0m-52 1h0m69 0h0m-289 1h0m144 0h0m11 0h0m83 0h0m-59 1h0m156 1h0m-161 1h0m-195 1h0m183 0h0m49 0h0m20 0h0m17 0h0m-80 1h0m8 0h0m65 0h0m85 0h0m-327 1h0m188 0h0m28 0h0m8 0h0m-60 1h0m46 0h0m63 0h0m-259 1h0m279 0h0m21 0h0m-268 3h0m3 0h0m161 0h0m43 0h0m14 0h0m3 0h0m-307 1h0m201 0h0m164 0h0m20 0h0m-167 2h0m82 0h0m-80 1h0m-154 1h0m200 0h0m101 0h0m-341 1h0m6 0h0m279 0h0m51 0h0m-29 2h0m-116 1h0m12 0h0m-11 1h0m166 0h0m-372 1h0m216 0h0m66 0h0m51 1h0m-346 2h0m20 0h0m344 0h0m-13 1h0m-262 1h0m271 0h0m-316 1h0m291 0h0m38 0h0m-306 1h0m270 0h0m0 0h0m14 0h0m-96 4h0m-261 1h0m77 0h0m198 0h0m70 1h0m-322 1h0m2 0h0m282 0h0m67 0h0m-325 1h0m246 0h0m-222 1h0m262 2h0m5 0h0m61 0h0m-86 2h0m-268 1h0m11 0h0m285 0h0m-60 1h0m67 1h0m31 0h0m-340 1h0m25 0h0m279 0h0m38 0h0m-368 1h0m46 0h0m184 0h0m27 0h0m6 0h0m62 0h0m54 0h0m-341 2h0m0 0h0m224 0h0m11 0h0m37 0h0m28 0h0m-397 1h0m326 0h0m69 0h0m29 0h0m-89 1h0m28 0h0m10 0h0m25 0h0m-90 1h0m-257 1h0m325 0h0m-327 1h0m270 0h0m19 0h0m55 0h0m-299 1h0m217 0h0m50 0h0m-33 1h0m63 0h0m-94 1h0m81 0h0m5 0h0m1 0h0m-10 1h0m-50 1h0m-248 1h0m271 0h0m50 0h0m-403 1h0m55 0h0m321 0h0m-370 2h0m24 0h0m16 0h0m3 0h0m347 0h0m1 0h0m-397 1h0m58 0h0m36 0h0m251 0h0m30 0h0m35 0h0m6 0h0m-420 1h0m21 0h0m400 0h0m-316 1h0m287 0h0m-384 1h0m23 0h0m283 0h0m-288 1h0m308 0h0m20 0h0m39 0h0m-310 2h0m294 0h0m-37 1h0m23 0h0m-261 1h0m238 0h0m-29 1h0m112 0h0m-332 1h0m289 1h0m-70 1h0m38 1h0m26 0h0m-78 1h0m-190 1h0m259 0h0m14 0h0m20 0h0m-64 1h0m22 0h0m42 0h0m-37 1h0m31 2h0m-81 2h0m18 0h0m44 0h0m3 0h0m-288 1h0m214 0h0m22 3h0m41 0h0m14 0h0m8 1h0m-44 1h0m-245 1h0m233 0h0m52 2h0m-76 1h0m12 2h0m59 0h0m23 0h0m-76 1h0m18 1h0m18 0h0m2 6h0m9 0h0m-58 2h0m54 0h0m25 1h0m-65 3h0m-12 2h0m51 0h0m12 0h0m0 0h0m-47 5h0m48 0h0m-57 1h0m24 0h0m28 0h0m-22 1h0m-12 1h0" stroke="#9D77EC"/><path d="M322 97h0m-8 2h0m41 3h0m0 5h0m30 0h0m-1 3h0m-59 1h0m70 2h0m-69 2h0m47 1h0m13 1h0m-68 1h0m15 4h0m17 2h0m46 0h0m-7 2h0m-67 1h0m22 5h0m9 0h0m20 0h0m28 2h0m-76 1h0m49 0h0m37 1h0m-70 1h0m23 0h0m-25 1h0m-26 1h0m48 1h0m-2 1h0m12 0h0m-64 1h0m38 0h0m-18 2h0m50 0h0m-47 2h0m31 1h0m-30 1h0m72 2h0m-77 1h0m-14 1h0m-3 2h0m-2 1h0m3 0h0m-28 2h0m85 2h0m30 1h0m-149 1h0m81 0h0m-88 2h0m134 0h0m7 1h0m-116 2h0m58 0h0m68 1h0m-151 1h0m36 1h0m96 0h0m-132 1h0m25 0h0m-25 3h0m12 1h0m-26 1h0m22 1h0m117 0h0m-113 1h0m-32 2h0m162 4h0m6 0h0m-12 1h0m-160 1h0m13 1h0m7 0h0m-11 2h0m13 0h0m14 1h0m-41 1h0m42 0h0m-19 2h0m141 1h0m14 0h0m-152 1h0m138 0h0m23 1h0m-3 1h0m-168 1h0m-2 1h0m18 0h0m137 0h0m-141 2h0m-2 3h0m152 2h0m3 1h0m11 0h0m-198 2h0m170 0h0m-149 1h0m156 1h0m11 0h0m-184 2h0m13 0h0m169 1h0m-188 2h0m28 1h0m156 0h0m-169 1h0m21 0h0m-11 1h0m210 0h0m-207 1h0m13 2h0m139 0h0m7 2h0m45 1h0m-7 1h0m-48 1h0m5 0h0m66 0h0m-240 1h0m5 0h0m176 0h0m38 0h0m-188 1h0m134 0h0m78 0h0m1 0h0m-85 1h0m99 0h0m-50 1h0m-40 1h0m44 0h0m7 0h0m44 0h0m-34 1h0m23 1h0m1 0h0m-85 1h0m57 0h0m5 0h0m-71 1h0m93 1h0m-49 1h0m26 1h0m5 2h0m4 1h0m-13 1h0m15 0h0m24 0h0m-210 1h0m167 1h0m20 1h0m13 0h0m2 1h0m-16 1h0m15 0h0m-4 3h0m10 0h0m-201 1h0m177 0h0m23 3h0m-197 1h0m153 0h0m9 0h0m17 0h0m31 0h0m-31 1h0m18 2h0m9 2h0m2 0h0m-41 1h0m5 0h0m-9 2h0m26 0h0m-181 6h0m190 4h0m-20 1h0m-11 1h0m50 0h0m-57 8h0m9 0h0m40 1h0m5 0h0m-3 1h0m-39 1h0m25 1h0m12 2h0m-10 2h0m12 0h0m9 0h0m-47 1h0m-8 2h0m24 2h0m7 3h0m9 3h0m11 1h0m18 2h0m-65 2h0m72 3h0m-3 6h0m-6 1h0m3 0h0m-50 1h0m83 7h0m-89 1h0m1 0h0m47 0h0m26 1h0m-35 4h0m-178 2h0m198 0h0m-18 4h0m-142 1h0m-18 2h0m96 0h0m67 2h0m41 0h0m-96 2h0m22 1h0m3 0h0m49 0h0m17 0h0m-180 1h0m171 5h0m-356 1h0m20 0h0m353 0h0m-214 2h0m131 1h0m-264 1h0m313 0h0m41 0h0m-370 2h0m256 0h0m25 0h0m-287 2h0m193 0h0m-192 1h0m84 0h0m-87 1h0m281 0h0m23 0h0m-212 1h0m-63 1h0m269 2h0m29 0h0m9 1h0m-315 1h0m-12 1h0m13 0h0m35 0h0m-48 1h0m44 0h0m319 0h0m-320 1h0m195 0h0m-225 1h0m26 0h0m-21 1h0m1 0h0m17 0h0m-19 1h0m5 0h0m303 0h0m36 0h0m8 0h0m-182 1h0m168 0h0m-76 1h0m104 0h0m-341 1h0m190 0h0m31 0h0m66 0h0m-327 1h0m-14 1h0m14 0h0m346 1h0m27 0h0m-372 1h0m240 0h0m59 0h0m-88 1h0m-218 1h0m-7 1h0m9 0h0m28 0h0m11 0h0m318 0h0m-299 1h0m330 0h0m-394 2h0m57 0h0m7 0h0m-27 1h0m-40 1h0m288 0h0m-283 1h0m26 0h0m285 0h0m30 0h0m28 0h0m26 0h0m-329 1h0m252 0h0m27 0h0m-333 1h0m40 2h0m11 0h0m305 0h0m-298 2h0m-70 1h0m375 0h0m-42 1h0m40 0h0m20 0h0m-398 1h0m60 2h0m268 1h0m55 0h0m-326 1h0m190 0h0m45 0h0m-286 1h0m3 0h0m33 0h0m16 0h0m220 0h0m-284 2h0m273 0h0m50 1h0m52 0h0m-326 1h0m315 0h0m-41 1h0m-329 1h0m380 0h0m-349 1h0m291 0h0m-64 1h0m-265 1h0m377 0h0m-326 1h0m27 1h0m185 1h0m82 0h0m-49 1h0m26 0h0m75 0h0m-426 1h0m97 0h0m228 0h0m66 1h0m-331 2h0m-17 1h0m54 0h0m285 0h0m-388 1h0m362 0h0m-257 1h0m-18 4h0m6 0h0m258 0h0m36 1h0m19 0h0m-320 1h0m302 0h0m-288 1h0m-24 2h0m347 0h0m-343 1h0m258 0h0m32 0h0m-286 1h0m-9 1h0m29 1h0m3 0h0m200 0h0m71 0h0m2 0h0m-291 2h0m-3 2h0m18 0h0m253 0h0m32 0h0m-82 1h0m32 0h0m-8 1h0m-28 1h0m99 0h0m-319 3h0m14 0h0m226 1h0m51 2h0m-12 5h0m-8 3h0m0 0h0m-12 4h0m-27 1h0m68 1h0m-68 7h0m22 6h0m23 5h0" stroke="#D3D3D3"/><path d="M344 92h0m26 4h0m-52 1h0m10 0h0m19 1h0m35 0h0m-29 1h0m4 0h0m-10 1h0m3 1h0m3 2h0m-36 1h0m22 1h0m8 2h0m37 2h0m-43 1h0m11 1h0m16 0h0m21 0h0m-61 2h0m42 1h0m5 0h0m-20 1h0m-26 2h0m36 0h0m7 0h0m9 1h0m-29 1h0m34 0h0m-55 1h0m54 2h0m-51 1h0m60 0h0m-68 1h0m29 2h0m12 2h0m-48 1h0m13 1h0m-17 1h0m-4 1h0m80 7h0m-16 1h0m16 1h0m20 2h0m-18 2h0m-47 1h0m-26 1h0m40 0h0m-23 2h0m2 0h0m26 0h0m28 1h0m-79 1h0m101 0h0m-25 2h0m6 0h0m-46 1h0m-76 1h0m35 1h0m15 2h0m74 2h0m-102 1h0m96 0h0m2 1h0m-140 2h0m-21 2h0m98 1h0m-54 1h0m-13 4h0m-22 2h0m-11 6h0m21 4h0m-10 1h0m12 4h0m-3 6h0m-38 5h0m29 2h0m-8 5h0m168 2h0m-178 2h0m13 0h0m-20 3h0m17 1h0m-2 1h0m14 0h0m2 1h0m131 7h0m74 0h0m-76 1h0m-159 1h0m7 0h0m231 0h0m-76 2h0m-3 1h0m2 3h0m30 2h0m65 5h0m-36 1h0m9 7h0m35 4h0m-212 1h0m4 0h0m2 3h0m1 2h0m180 0h0m-10 1h0m-10 2h0m18 0h0m24 2h0m-41 6h0m10 1h0m13 5h0m-11 1h0m1 1h0m-15 2h0m42 1h0m-44 2h0m56 2h0m-45 1h0m34 5h0m1 0h0m13 0h0m-37 1h0m34 3h0m-21 4h0m38 5h0m-9 1h0m-21 8h0m38 0h0m-27 3h0m-3 4h0m-12 1h0m16 1h0m-134 1h0m-9 1h0m5 2h0m103 0h0m30 1h0m45 0h0m-57 1h0m30 0h0m28 0h0m-17 1h0m25 0h0m-73 3h0m59 1h0m3 0h0m-173 4h0m98 2h0m45 1h0m35 0h0m-179 1h0m-38 1h0m121 0h0m28 0h0m65 3h0m-221 1h0m36 0h0m132 0h0m50 0h0m-71 1h0m57 0h0m-171 1h0m113 0h0m-140 1h0m4 0h0m14 2h0m7 0h0m-10 1h0m6 0h0m19 1h0m71 0h0m45 1h0m54 0h0m-58 1h0m92 0h0m-102 1h0m91 0h0m-92 1h0m71 0h0m24 0h0m-112 2h0m47 0h0m1 0h0m-23 1h0m56 0h0m10 0h0m-155 1h0m124 0h0m53 0h0m-167 1h0m75 0h0m90 0h0m-107 1h0m92 0h0m15 1h0m-153 1h0m70 0h0m13 1h0m-284 1h0m180 0h0m121 1h0m-125 1h0m180 0h0m-160 1h0m8 0h0m23 0h0m85 0h0m18 0h0m4 0h0m9 0h0m-165 1h0m9 0h0m71 0h0m93 0h0m16 0h0m-80 1h0m7 1h0m79 0h0m-167 1h0m59 0h0m-53 1h0m79 1h0m-100 1h0m104 0h0m-106 1h0m22 0h0m21 0h0m-26 1h0m4 0h0m124 0h0m-342 1h0m63 0h0m235 0h0m-64 1h0m22 0h0m119 0h0m-134 1h0m22 1h0m19 0h0m72 0h0m28 0h0m-352 1h0m189 0h0m132 0h0m-345 1h0m70 1h0m152 0h0m-184 2h0m340 0h0m-322 2h0m4 0h0m-42 2h0m192 0h0m56 0h0m18 0h0m-251 1h0m301 0h0m19 0h0m-299 1h0m180 0h0m71 0h0m53 0h0m-110 1h0m119 0h0m1 0h0m-314 1h0m264 0h0m-90 2h0m48 0h0m-31 1h0m64 0h0m-328 1h0m356 0h0m-88 1h0m44 0h0m80 0h0m-426 1h0m307 0h0m-268 1h0m25 0h0m252 0h0m61 0h0m30 1h0m-336 1h0m226 0h0m53 0h0m-279 1h0m309 0h0m40 0h0m-387 1h0m328 0h0m47 0h0m-78 1h0m19 0h0m-273 1h0m291 1h0m9 0h0m-74 1h0m109 0h0m-425 1h0m411 0h0m-397 1h0m8 0h0m389 0h0m9 0h0m-421 1h0m314 0h0m-319 2h0m322 0h0m21 0h0m16 0h0m17 0h0m44 1h0m-366 1h0m39 0h0m288 0h0m-385 1h0m387 0h0m-330 1h0m314 0h0m-27 2h0m36 0h0m-281 2h0m248 0h0m-263 1h0m209 0h0m62 0h0m79 0h0m-344 1h0m232 0h0m93 0h0m-409 1h0m85 0h0m288 0h0m31 0h0m-108 2h0m-299 1h0m373 0h0m52 0h0m-86 1h0m28 0h0m-51 1h0m-16 1h0m107 0h0m-48 1h0m14 0h0m46 0h0m-100 1h0m79 0h0m-64 1h0m58 0h0m-302 1h0m-17 1h0m11 0h0m199 0h0m92 1h0m-82 1h0m91 0h0m-39 2h0m-49 1h0m72 0h0m38 0h0m-18 1h0m12 0h0m12 1h0m-118 2h0m70 0h0m-62 1h0m69 0h0m-59 2h0m14 0h0m-37 2h0m7 0h0m-5 2h0m49 1h0m-51 1h0m45 0h0m27 2h0m2 0h0m20 1h0m-3 1h0m-4 2h0m-50 1h0m-7 1h0m0 0h0m39 0h0m-55 1h0m22 0h0m3 1h0m40 0h0m18 3h0m-63 1h0m17 0h0m45 1h0m-74 1h0m1 0h0m68 0h0m-67 1h0m4 0h0m4 0h0m1 0h0m27 1h0m-30 1h0m22 1h0m38 0h0m-63 6h0m36 0h0m7 1h0m8 1h0" stroke="#8E65F0"/><path d="M327 97h0m17 0h0m10 1h0m-40 3h0m47 2h0m-11 6h0m22 2h0m3 1h0m-8 4h0m-43 2h0m21 8h0m12 0h0m54 4h0m-52 3h0m-8 1h0m19 2h0m26 0h0m-74 2h0m-12 2h0m2 2h0m-1 1h0m41 1h0m12 1h0m-56 1h0m33 0h0m33 0h0m-25 1h0m11 0h0m-63 1h0m79 0h0m9 0h0m-28 1h0m33 0h0m-10 1h0m-71 1h0m44 1h0m-13 1h0m-52 2h0m-11 1h0m0 0h0m3 0h0m71 1h0m26 2h0m7 0h0m-128 1h0m31 0h0m-31 1h0m11 0h0m40 0h0m-58 1h0m89 0h0m-59 2h0m3 0h0m98 0h0m-129 1h0m2 0h0m142 0h0m-148 1h0m26 0h0m-19 1h0m140 0h0m-143 1h0m138 0h0m-126 1h0m110 0h0m-136 1h0m-9 2h0m24 0h0m-9 1h0m18 1h0m-4 4h0m-39 1h0m17 1h0m22 0h0m119 0h0m-156 1h0m20 0h0m140 0h0m2 0h0m4 1h0m-155 4h0m151 0h0m5 1h0m-3 3h0m8 1h0m7 0h0m-22 1h0m1 0h0m-146 2h0m146 3h0m18 0h0m2 1h0m-155 1h0m130 0h0m-134 3h0m0 0h0m-33 3h0m182 0h0m-145 1h0m152 1h0m8 0h0m-176 1h0m165 1h0m-180 1h0m23 3h0m184 0h0m4 0h0m-177 3h0m154 2h0m4 0h0m-156 1h0m159 0h0m23 1h0m9 0h0m-195 1h0m190 0h0m14 0h0m-22 1h0m8 0h0m-184 1h0m194 0h0m-226 1h0m183 0h0m-11 1h0m58 0h0m-56 2h0m-148 1h0m176 0h0m35 2h0m3 0h0m2 0h0m15 0h0m-52 2h0m9 0h0m-39 1h0m76 0h0m-33 3h0m-2 2h0m39 1h0m2 0h0m-220 1h0m181 0h0m-186 1h0m198 0h0m-193 2h0m176 0h0m16 2h0m0 1h0m13 1h0m-11 2h0m-14 4h0m25 0h0m-13 1h0m31 0h0m-202 2h0m172 0h0m9 0h0m4 1h0m2 0h0m15 0h0m-35 1h0m27 0h0m1 0h0m-195 4h0m205 2h0m-24 1h0m5 0h0m0 0h0m10 0h0m-36 2h0m54 0h0m-208 1h0m207 0h0m-51 2h0m33 2h0m2 0h0m-27 2h0m39 0h0m-35 2h0m9 0h0m-7 4h0m0 1h0m-2 5h0m43 1h0m-27 2h0m-13 2h0m30 0h0m-41 3h0m15 0h0m6 1h0m22 0h0m-2 3h0m12 5h0m15 0h0m-48 2h0m26 0h0m4 0h0m-46 4h0m34 8h0m5 0h0m38 0h0m11 4h0m-18 4h0m-48 2h0m7 3h0m20 1h0m49 4h0m-76 1h0m-125 2h0m106 1h0m68 0h0m-25 1h0m-168 2h0m140 0h0m3 0h0m23 2h0m-68 1h0m71 0h0m62 0h0m-45 1h0m-91 1h0m-232 2h0m263 1h0m40 0h0m38 0h0m-6 1h0m-89 3h0m116 0h0m-355 1h0m7 0h0m336 0h0m27 0h0m-54 1h0m-77 1h0m-225 2h0m-22 2h0m227 1h0m-232 1h0m1 0h0m74 0h0m-47 1h0m-40 2h0m13 0h0m65 0h0m302 0h0m-368 1h0m32 0h0m6 0h0m33 0h0m199 0h0m-259 1h0m220 0h0m76 0h0m-300 1h0m19 0h0m248 0h0m17 0h0m26 0h0m61 0h0m-380 1h0m44 0h0m175 0h0m-219 1h0m76 0h0m209 0h0m98 0h0m-370 1h0m13 0h0m199 0h0m143 0h0m-315 1h0m-37 1h0m2 0h0m-24 1h0m14 0h0m1 0h0m43 0h0m-24 1h0m29 0h0m14 0h0m188 0h0m-257 1h0m69 0h0m155 0h0m-237 1h0m42 0h0m0 0h0m-18 1h0m29 0h0m1 0h0m28 0h0m155 0h0m111 0h0m-302 2h0m2 0h0m27 0h0m6 0h0m197 0h0m-272 1h0m69 0h0m221 1h0m3 0h0m-264 1h0m56 0h0m301 0h0m-109 1h0m-203 1h0m185 1h0m66 0h0m-245 2h0m254 0h0m-249 1h0m-77 3h0m62 0h0m-59 1h0m9 0h0m208 0h0m33 0h0m59 0h0m-320 1h0m41 1h0m215 0h0m-189 1h0m264 1h0m-266 1h0m200 1h0m0 0h0m81 1h0m-313 2h0m319 1h0m-316 1h0m307 0h0m4 0h0m-392 1h0m84 0h0m266 0h0m78 0h0m-353 1h0m25 0h0m-48 2h0m55 0h0m179 2h0m36 1h0m-23 1h0m80 0h0m-365 1h0m303 0h0m25 0h0m-1 1h0m35 0h0m-37 1h0m34 0h0m-311 3h0m218 0h0m-234 1h0m370 0h0m-317 1h0m198 1h0m23 0h0m40 0h0m45 0h0m-19 1h0m9 2h0m-299 1h0m202 1h0m-209 1h0m183 0h0m19 0h0m45 0h0m-264 1h0m18 0h0m253 1h0m31 3h0m-56 1h0m53 0h0m-65 3h0m1 0h0m-17 1h0m76 2h0m-68 1h0m-230 1h0m251 0h0m34 0h0m-284 1h0m241 1h0m0 2h0m32 0h0m52 0h0m-22 1h0m-54 2h0m-8 1h0m35 0h0m-270 5h0m235 1h0m24 4h0m-21 1h0m27 7h0m-24 2h0m-14 4h0m45 5h0m9 0h0m-19 5h0" stroke="#D3D3D3"/><path d="M335 88h0m16 6h0m10 0h0m0 0h0m6 1h0m-8 3h0m1 1h0m27 2h0m-61 2h0m67 3h0m2 0h0m-10 3h0m-64 1h0m13 0h0m-13 2h0m76 5h0m-70 2h0m40 0h0m-39 1h0m44 0h0m-36 1h0m21 0h0m30 0h0m-30 3h0m2 0h0m-46 6h0m-1 1h0m36 3h0m24 0h0m30 0h0m-74 1h0m96 0h0m-71 1h0m74 0h0m-33 1h0m-63 2h0m21 1h0m36 0h0m1 0h0m8 0h0m-40 1h0m13 0h0m4 0h0m28 0h0m22 0h0m-32 1h0m6 0h0m-38 1h0m56 0h0m-111 1h0m59 1h0m-20 4h0m65 0h0m9 0h0m-2 2h0m0 3h0m-6 1h0m-135 3h0m100 1h0m-23 2h0m-61 1h0m-12 1h0m11 0h0m105 3h0m-185 21h0m8 0h0m22 3h0m0 2h0m0 1h0m-8 8h0m-24 1h0m23 1h0m-16 2h0m17 0h0m157 0h0m-150 1h0m-10 4h0m8 2h0m7 0h0m-37 11h0m168 3h0m-165 1h0m13 1h0m21 0h0m130 1h0m-169 3h0m171 0h0m56 2h0m18 2h0m5 3h0m-11 8h0m4 2h0m-3 7h0m34 3h0m-3 4h0m9 0h0m-50 3h0m8 0h0m27 1h0m-16 3h0m-167 2h0m170 1h0m-19 1h0m50 1h0m-26 2h0m-29 1h0m2 0h0m1 3h0m52 1h0m-10 4h0m-1 1h0m-25 6h0m5 1h0m19 1h0m-14 5h0m8 1h0m39 2h0m-35 3h0m26 0h0m-17 1h0m11 1h0m13 1h0m-39 2h0m-19 3h0m44 2h0m4 3h0m-5 3h0m34 3h0m-79 1h0m69 0h0m1 0h0m-51 1h0m7 2h0m3 2h0m-129 1h0m171 0h0m21 0h0m6 0h0m-46 1h0m46 0h0m3 1h0m-95 2h0m34 0h0m-18 1h0m14 0h0m-172 1h0m7 0h0m228 0h0m-225 1h0m199 1h0m7 0h0m-179 1h0m69 0h0m-81 1h0m155 1h0m-51 1h0m29 0h0m2 1h0m-149 1h0m31 0h0m-3 2h0m3 2h0m168 0h0m-189 1h0m155 0h0m7 0h0m7 1h0m-161 1h0m7 1h0m83 3h0m14 0h0m1 0h0m60 0h0m-291 1h0m271 0h0m75 0h0m-57 1h0m6 0h0m-9 2h0m-118 1h0m159 0h0m-277 1h0m187 0h0m-241 2h0m296 0h0m24 0h0m-156 1h0m173 0h0m-341 1h0m211 0h0m-218 2h0m2 0h0m179 0h0m23 0h0m26 0h0m56 1h0m-116 1h0m5 0h0m-193 1h0m250 1h0m-52 1h0m44 0h0m76 0h0m-85 1h0m124 0h0m2 0h0m-60 2h0m58 0h0m28 0h0m-50 1h0m54 0h0m-404 2h0m361 0h0m-136 1h0m8 0h0m-197 1h0m273 0h0m38 0h0m7 0h0m-269 1h0m175 0h0m1 0h0m43 0h0m97 0h0m-155 1h0m27 0h0m65 0h0m-238 1h0m2 0h0m-74 1h0m212 0h0m144 0h0m-377 1h0m323 0h0m2 0h0m-245 1h0m194 0h0m-182 2h0m149 0h0m14 0h0m100 1h0m24 0h0m-344 1h0m276 0h0m-302 1h0m64 0h0m-20 1h0m18 0h0m182 0h0m131 0h0m-109 1h0m16 0h0m-299 1h0m50 0h0m196 0h0m20 0h0m44 0h0m-255 1h0m228 0h0m57 0h0m-306 1h0m316 1h0m42 0h0m-32 1h0m32 0h0m-344 1h0m230 0h0m32 0h0m-252 2h0m213 0h0m42 0h0m-257 1h0m-52 1h0m28 0h0m270 0h0m8 0h0m22 0h0m62 0h0m-345 1h0m201 1h0m52 0h0m-281 1h0m23 0h0m6 0h0m235 0h0m7 0h0m75 1h0m-402 1h0m78 0h0m233 0h0m-279 1h0m3 0h0m40 0h0m244 0h0m-300 1h0m18 0h0m6 1h0m-60 1h0m45 0h0m275 0h0m70 0h0m-304 1h0m7 0h0m217 0h0m24 0h0m71 0h0m-350 1h0m245 0h0m-269 1h0m29 0h0m12 0h0m35 0h0m218 1h0m55 1h0m-372 1h0m46 0h0m324 0h0m-265 1h0m247 0h0m-306 1h0m12 0h0m305 0h0m-351 1h0m48 0h0m-64 1h0m32 0h0m73 0h0m291 0h0m22 1h0m-415 1h0m67 0h0m218 0h0m-194 1h0m265 0h0m35 0h0m-395 1h0m1 0h0m87 0h0m1 0h0m231 0h0m62 1h0m-376 2h0m91 0h0m261 0h0m22 0h0m3 0h0m-31 2h0m18 0h0m10 0h0m-60 1h0m101 0h0m-69 1h0m2 0h0m-252 1h0m190 0h0m19 1h0m3 0h0m101 0h0m-314 1h0m228 0h0m34 0h0m43 0h0m-317 1h0m12 0h0m221 0h0m7 0h0m-254 1h0m266 1h0m19 0h0m-70 1h0m10 1h0m-199 1h0m244 0h0m14 0h0m-20 1h0m0 0h0m12 1h0m-252 4h0m240 1h0m2 0h0m29 0h0m3 1h0m21 1h0m-54 3h0m-17 1h0m-7 1h0m83 0h0m-94 3h0m14 0h0m39 0h0m25 0h0m-27 1h0m-29 2h0m56 0h0m-31 1h0m-3 1h0m5 0h0m-28 6h0m24 1h0m14 2h0m-12 3h0m-14 3h0m5 1h0m20 1h0m-3 1h0m-11 1h0m-7 3h0" stroke="#9D77EC"/><path d="M333 88h0m-4 11h0m30 2h0m32 0h0m-75 6h0m42 2h0m37 2h0m-10 1h0m-70 1h0m72 0h0m-35 2h0m2 0h0m29 4h0m-29 1h0m-42 2h0m69 1h0m17 0h0m-25 6h0m-43 1h0m43 1h0m-27 2h0m-34 5h0m95 0h0m-60 3h0m-21 2h0m68 2h0m-26 1h0m2 0h0m-9 1h0m-55 1h0m3 1h0m55 1h0m23 0h0m-45 1h0m13 0h0m-60 1h0m87 0h0m-90 1h0m1 0h0m6 0h0m2 2h0m14 1h0m52 0h0m-72 1h0m9 0h0m1 1h0m15 0h0m-21 1h0m56 0h0m10 0h0m17 1h0m-97 2h0m9 0h0m-30 3h0m-15 1h0m146 0h0m-139 1h0m28 0h0m93 0h0m-114 2h0m-25 1h0m9 1h0m-26 5h0m4 0h0m34 0h0m-26 2h0m5 0h0m11 1h0m138 2h0m5 0h0m-23 1h0m-150 1h0m-8 1h0m7 0h0m-1 1h0m27 0h0m-10 1h0m-11 1h0m27 0h0m139 0h0m0 2h0m-6 2h0m-164 3h0m162 1h0m-151 2h0m-11 3h0m18 0h0m13 1h0m125 1h0m-170 2h0m184 2h0m-171 1h0m18 1h0m-1 4h0m2 0h0m151 0h0m-9 1h0m10 0h0m14 0h0m-10 6h0m-177 1h0m26 0h0m138 1h0m-148 1h0m146 0h0m22 0h0m-184 1h0m223 0h0m-70 1h0m-125 1h0m-14 2h0m13 1h0m213 0h0m-225 1h0m190 0h0m21 0h0m27 1h0m2 0h0m-33 1h0m13 0h0m-80 1h0m10 0h0m26 1h0m47 0h0m9 1h0m3 2h0m-25 2h0m-182 1h0m162 0h0m13 0h0m41 0h0m-43 2h0m2 0h0m38 0h0m7 0h0m-5 2h0m-219 1h0m7 0h0m217 1h0m-216 3h0m189 0h0m4 2h0m-22 6h0m21 0h0m-6 3h0m23 0h0m-29 2h0m-166 1h0m152 0h0m48 1h0m-191 4h0m159 0h0m19 0h0m11 0h0m-18 1h0m9 0h0m-174 1h0m145 0h0m43 1h0m-38 2h0m1 0h0m24 0h0m13 3h0m-20 1h0m8 1h0m18 0h0m-28 1h0m12 0h0m15 0h0m-42 4h0m34 1h0m-14 4h0m-16 4h0m46 0h0m-25 2h0m6 0h0m25 1h0m-53 3h0m43 1h0m4 0h0m-26 1h0m-18 5h0m62 0h0m-11 2h0m5 9h0m16 2h0m-22 5h0m21 2h0m-43 2h0m3 1h0m55 0h0m-184 2h0m-6 1h0m135 0h0m-18 1h0m46 1h0m41 1h0m-109 2h0m69 0h0m19 0h0m-93 1h0m62 1h0m-157 1h0m108 0h0m53 0h0m-190 1h0m32 0h0m134 0h0m9 0h0m13 0h0m-184 1h0m168 2h0m-151 2h0m127 1h0m14 0h0m46 2h0m-97 1h0m8 0h0m86 0h0m40 1h0m-66 1h0m-75 1h0m91 1h0m-47 2h0m26 0h0m37 0h0m-347 1h0m15 0h0m283 0h0m-296 2h0m240 0h0m47 0h0m49 1h0m5 0h0m-58 1h0m53 1h0m-326 1h0m65 0h0m293 0h0m-339 1h0m-19 1h0m25 0h0m38 0h0m268 0h0m11 0h0m-348 1h0m293 1h0m-244 1h0m205 0h0m55 1h0m-290 2h0m15 0h0m13 0h0m-52 1h0m9 0h0m38 0h0m257 0h0m-267 1h0m240 0h0m15 0h0m74 0h0m-355 1h0m25 0h0m7 0h0m202 0h0m137 0h0m-131 1h0m89 0h0m-325 1h0m2 0h0m41 0h0m13 0h0m284 0h0m-120 1h0m67 2h0m19 0h0m-254 1h0m195 0h0m23 0h0m42 1h0m-297 1h0m11 0h0m-41 1h0m42 0h0m1 1h0m-48 1h0m290 0h0m18 0h0m70 0h0m-53 1h0m-288 1h0m21 0h0m241 0h0m-279 1h0m40 0h0m223 0h0m53 2h0m-8 1h0m-244 1h0m254 0h0m38 0h0m-304 1h0m10 0h0m214 0h0m76 0h0m26 0h0m-396 1h0m-8 1h0m66 0h0m178 0h0m102 1h0m-86 2h0m-252 1h0m285 0h0m48 0h0m-283 1h0m309 0h0m-351 1h0m31 1h0m198 1h0m82 0h0m-277 1h0m-32 1h0m253 0h0m-266 1h0m347 0h0m36 0h0m-331 1h0m219 0h0m-222 1h0m-47 1h0m44 0h0m-6 1h0m208 0h0m125 1h0m-130 2h0m79 0h0m-271 1h0m-42 1h0m268 0h0m-332 1h0m385 1h0m-328 3h0m5 1h0m20 1h0m233 1h0m-300 1h0m363 0h0m-71 1h0m-233 1h0m269 0h0m12 0h0m21 1h0m3 0h0m-276 1h0m-96 1h0m356 0h0m-259 2h0m-95 2h0m66 0h0m2 0h0m16 0h0m10 0h0m193 1h0m-223 1h0m-1 1h0m258 0h0m-229 1h0m269 0h0m-267 2h0m253 0h0m25 0h0m25 3h0m6 1h0m-119 3h0m43 1h0m5 1h0m-47 1h0m67 0h0m-8 2h0m-49 1h0m93 0h0m-30 2h0m4 0h0m-75 2h0m88 0h0m-20 5h0m1 2h0m28 0h0m-78 1h0m45 0h0m-18 3h0m9 1h0m-29 1h0m-14 1h0m15 0h0m4 2h0m29 1h0m-3 1h0m-21 7h0m-5 1h0m23 3h0" stroke="#D3D3D3"/><path d="M338 90h0m9 3h0m-25 2h0m48 0h0m11 1h0m-49 1h0m37 1h0m17 0h0m-68 1h0m72 0h0m-20 1h0m-27 1h0m-6 1h0m34 0h0m12 1h0m-26 2h0m-44 1h0m59 3h0m-1 2h0m-51 1h0m-4 3h0m42 1h0m1 0h0m-16 2h0m36 0h0m-41 3h0m42 0h0m17 2h0m-41 1h0m27 1h0m-31 1h0m43 0h0m-60 2h0m85 2h0m-86 1h0m69 0h0m-86 1h0m73 0h0m1 2h0m-48 1h0m3 1h0m40 2h0m-64 2h0m41 0h0m37 0h0m16 0h0m-76 2h0m-14 3h0m74 0h0m21 0h0m-46 1h0m50 1h0m-63 1h0m-38 1h0m99 0h0m-113 1h0m95 0h0m-64 1h0m75 0h0m-60 1h0m60 0h0m2 0h0m-114 2h0m-6 1h0m85 0h0m34 0h0m-134 3h0m117 0h0m-113 1h0m29 0h0m-45 1h0m86 0h0m19 1h0m21 0h0m-142 3h0m18 0h0m0 0h0m-12 1h0m131 1h0m-138 3h0m3 0h0m134 1h0m-36 6h0m-124 1h0m18 7h0m6 0h0m-23 4h0m19 0h0m-14 2h0m-28 1h0m28 0h0m-10 2h0m-5 2h0m-8 6h0m11 3h0m173 1h0m-193 1h0m13 2h0m194 2h0m-206 3h0m28 2h0m141 5h0m59 5h0m-208 1h0m-4 1h0m-15 1h0m219 3h0m-50 3h0m78 1h0m-206 1h0m128 0h0m69 6h0m-189 2h0m9 2h0m177 1h0m28 5h0m-22 2h0m-173 2h0m205 1h0m-198 1h0m157 5h0m14 0h0m-21 7h0m-147 1h0m210 9h0m-23 2h0m-10 4h0m37 3h0m-55 3h0m44 4h0m16 0h0m-43 3h0m14 2h0m16 0h0m-43 7h0m39 0h0m-17 1h0m24 1h0m14 6h0m-155 1h0m148 0h0m19 0h0m-33 3h0m32 2h0m13 0h0m0 0h0m1 1h0m1 1h0m-36 2h0m0 0h0m43 0h0m-58 1h0m55 0h0m-71 1h0m64 5h0m-94 1h0m82 0h0m29 0h0m-234 1h0m35 0h0m176 1h0m-208 1h0m103 0h0m60 0h0m38 0h0m-23 1h0m11 0h0m-27 1h0m29 0h0m32 0h0m-206 1h0m11 0h0m89 0h0m-101 1h0m16 0h0m105 2h0m12 0h0m0 0h0m-35 1h0m-118 1h0m133 0h0m6 0h0m57 0h0m7 0h0m-177 1h0m150 0h0m47 0h0m-200 1h0m10 0h0m164 0h0m-85 1h0m50 0h0m-134 1h0m93 0h0m25 0h0m68 0h0m19 0h0m-228 1h0m6 0h0m27 0h0m-18 1h0m132 0h0m-15 2h0m78 0h0m-175 1h0m7 0h0m89 0h0m72 0h0m-160 2h0m98 0h0m32 0h0m42 0h0m-84 1h0m2 0h0m83 0h0m7 0h0m9 0h0m-360 1h0m367 0h0m-107 1h0m41 0h0m-3 1h0m6 0h0m-327 1h0m193 0h0m58 0h0m55 1h0m-77 1h0m24 0h0m86 0h0m33 0h0m2 0h0m-336 3h0m255 0h0m28 0h0m16 0h0m37 0h0m-284 1h0m140 0h0m87 0h0m-120 1h0m120 0h0m86 0h0m-385 2h0m320 0h0m10 0h0m-267 1h0m170 0h0m50 0h0m5 0h0m2 0h0m32 0h0m-49 1h0m71 0h0m22 0h0m-308 1h0m9 0h0m285 0h0m19 0h0m-331 1h0m149 0h0m134 0h0m54 0h0m-61 1h0m-108 1h0m26 0h0m118 0h0m26 0h0m-360 1h0m205 0h0m23 0h0m50 0h0m-80 1h0m61 0h0m5 0h0m9 0h0m-82 1h0m-177 1h0m205 0h0m135 0h0m-347 1h0m293 0h0m-324 1h0m335 0h0m-122 2h0m93 0h0m9 0h0m-256 1h0m202 0h0m-258 1h0m13 0h0m12 0h0m251 0h0m54 0h0m-348 1h0m96 0h0m150 0h0m16 0h0m14 2h0m30 0h0m45 0h0m-82 1h0m52 0h0m-300 1h0m12 0h0m326 0h0m-312 1h0m29 1h0m3 0h0m5 0h0m172 1h0m66 0h0m38 0h0m26 0h0m-15 1h0m1 0h0m23 0h0m-113 1h0m95 0h0m-109 1h0m131 0h0m-387 1h0m27 0h0m5 0h0m31 0h0m183 2h0m47 0h0m-270 1h0m-29 1h0m24 0h0m7 0h0m18 0h0m236 0h0m61 0h0m17 0h0m6 0h0m-108 1h0m45 0h0m13 0h0m33 0h0m-341 4h0m318 0h0m-272 1h0m217 0h0m113 0h0m-144 2h0m85 0h0m-355 1h0m74 0h0m252 0h0m-327 1h0m266 0h0m11 0h0m-272 1h0m70 0h0m16 0h0m188 0h0m37 0h0m20 0h0m-350 1h0m404 0h0m-319 1h0m8 0h0m236 0h0m91 0h0m-370 1h0m-54 1h0m303 0h0m-8 1h0m120 0h0m-355 1h0m30 0h0m-48 1h0m51 1h0m287 0h0m-367 1h0m267 0h0m131 0h0m-426 1h0m330 0h0m83 0h0m-361 1h0m281 0h0m88 0h0m-103 1h0m23 0h0m20 0h0m-324 2h0m331 0h0m-296 1h0m-50 2h0m302 0h0m-207 1h0m226 0h0m18 0h0m8 0h0m14 0h0m-56 1h0m48 0h0m3 2h0m56 0h0m-48 1h0m-80 1h0m21 0h0m25 0h0m18 3h0m-56 1h0m6 0h0m37 0h0m2 0h0m23 0h0m-64 1h0m12 2h0m32 1h0m-261 2h0m206 0h0m45 0h0m-247 1h0m232 0h0m45 0h0m-81 1h0m113 0h0m-47 1h0m24 0h0m-52 3h0m-25 1h0m65 0h0m17 0h0m13 1h0m-10 1h0m-28 1h0m16 1h0m-32 1h0m33 5h0m-49 2h0m41 0h0m13 0h0m-20 1h0m18 0h0m-46 1h0m20 0h0m-28 4h0m-14 1h0m57 0h0m13 0h0m-54 2h0m5 7h0m3 1h0m13 7h0" stroke="#966EEE"/><path d="M347 97h0m-21 1h0m23 1h0m19 1h0m-52 2h0m68 1h0m-28 1h0m14 1h0m-23 1h0m44 2h0m-33 1h0m18 4h0m-56 1h0m16 1h0m20 1h0m34 1h0m3 3h0m-42 3h0m-32 3h0m78 0h0m-6 1h0m-39 2h0m-31 1h0m17 1h0m30 2h0m9 5h0m-66 3h0m-4 5h0m9 1h0m22 0h0m61 0h0m7 0h0m-80 2h0m60 0h0m4 0h0m-86 1h0m9 0h0m27 0h0m28 0h0m2 1h0m-76 3h0m98 0h0m-110 1h0m30 0h0m35 0h0m19 0h0m-59 1h0m-14 4h0m-36 1h0m-11 2h0m110 0h0m-111 1h0m8 0h0m29 0h0m-42 1h0m13 0h0m10 0h0m-10 2h0m-27 1h0m27 0h0m80 1h0m-76 1h0m120 1h0m-153 1h0m162 0h0m-124 1h0m116 0h0m-117 3h0m128 4h0m4 1h0m-159 2h0m20 3h0m125 0h0m-136 2h0m149 1h0m-16 3h0m-128 2h0m-41 1h0m41 0h0m142 0h0m-144 2h0m-41 3h0m175 0h0m8 0h0m-156 1h0m155 1h0m-165 1h0m20 0h0m153 2h0m-8 1h0m-3 5h0m29 0h0m-179 1h0m145 0h0m1 0h0m-133 1h0m148 0h0m-4 1h0m12 0h0m10 0h0m-191 3h0m155 2h0m-162 2h0m17 0h0m10 0h0m9 0h0m163 0h0m19 0h0m-210 1h0m210 1h0m17 0h0m-14 1h0m-64 1h0m91 2h0m-24 1h0m-219 1h0m181 0h0m22 0h0m-4 1h0m41 0h0m-83 1h0m43 2h0m32 1h0m-206 1h0m230 0h0m-222 1h0m-4 1h0m188 1h0m-12 1h0m3 0h0m44 1h0m-37 1h0m28 0h0m-30 2h0m22 0h0m-208 1h0m12 0h0m5 0h0m168 0h0m4 0h0m-174 1h0m191 1h0m-5 1h0m-180 3h0m180 0h0m28 1h0m-43 2h0m20 0h0m-8 3h0m36 0h0m-37 1h0m6 1h0m7 2h0m-182 1h0m7 0h0m190 0h0m1 0h0m0 0h0m-29 4h0m-9 3h0m24 1h0m-8 3h0m14 4h0m18 0h0m-48 3h0m14 0h0m2 5h0m4 0h0m-19 2h0m21 1h0m3 0h0m-5 1h0m19 3h0m1 4h0m-31 2h0m37 1h0m4 0h0m19 1h0m-59 1h0m33 7h0m17 0h0m16 2h0m4 4h0m-23 1h0m27 0h0m-70 3h0m76 1h0m10 0h0m-73 1h0m32 0h0m-6 1h0m-39 1h0m46 9h0m47 0h0m1 0h0m-101 3h0m-20 6h0m45 1h0m2 0h0m-133 1h0m134 0h0m50 0h0m-101 1h0m92 0h0m-62 1h0m62 1h0m20 0h0m23 1h0m-88 3h0m-142 2h0m117 0h0m113 0h0m-215 2h0m102 0h0m76 0h0m-81 1h0m-265 1h0m241 1h0m-233 2h0m1 0h0m20 0h0m301 0h0m35 0h0m9 0h0m-356 2h0m289 0h0m4 0h0m14 0h0m-315 1h0m327 0h0m-37 1h0m2 0h0m-298 1h0m7 0h0m248 0h0m104 0h0m13 0h0m-289 1h0m210 0h0m-52 1h0m-224 1h0m336 0h0m15 0h0m-144 1h0m137 1h0m-313 1h0m213 0h0m91 0h0m-338 1h0m56 0h0m-78 1h0m294 0h0m-230 1h0m154 0h0m42 0h0m75 0h0m33 0h0m-5 1h0m-322 1h0m10 0h0m259 0h0m74 0h0m-85 1h0m92 0h0m-333 1h0m162 1h0m16 0h0m35 0h0m-253 1h0m365 0h0m-317 2h0m-47 1h0m207 0h0m-213 1h0m247 0h0m139 0h0m-353 1h0m-22 1h0m23 0h0m353 0h0m-349 1h0m16 0h0m295 0h0m-357 1h0m49 1h0m0 1h0m5 0h0m180 0h0m8 0h0m1 0h0m-243 1h0m4 0h0m65 0h0m-76 1h0m42 0h0m233 0h0m23 0h0m74 1h0m12 0h0m-11 3h0m-298 1h0m233 0h0m34 1h0m-89 1h0m47 0h0m68 0h0m-390 2h0m31 1h0m275 1h0m60 0h0m-291 1h0m276 0h0m-321 1h0m3 0h0m30 0h0m-36 1h0m18 0h0m230 0h0m-218 1h0m241 2h0m-202 1h0m-30 1h0m264 0h0m-257 1h0m2 1h0m270 0h0m-275 1h0m204 0h0m-205 2h0m238 0h0m14 0h0m19 0h0m9 0h0m23 1h0m-359 1h0m6 0h0m25 2h0m313 0h0m-94 1h0m110 0h0m-321 2h0m15 0h0m196 0h0m128 0h0m-316 1h0m188 0h0m5 0h0m-186 2h0m198 0h0m35 0h0m44 0h0m-322 2h0m283 0h0m17 0h0m12 0h0m-307 1h0m6 0h0m228 0h0m96 0h0m-57 1h0m38 1h0m12 1h0m-310 1h0m283 1h0m61 0h0m-336 1h0m1 0h0m302 0h0m-45 1h0m39 0h0m-284 1h0m-1 1h0m249 0h0m58 0h0m1 1h0m-36 4h0m-277 2h0m262 0h0m-275 1h0m268 2h0m-51 1h0m-6 2h0m95 0h0m-299 1h0m282 0h0m-42 1h0m-13 2h0m35 1h0m51 1h0m-5 1h0m-15 2h0m-85 6h0m95 0h0m-60 2h0m32 0h0m22 2h0m-64 2h0m35 0h0m1 2h0m-35 1h0m20 4h0m-20 2h0" stroke="#D3D3D3"/><path d="M325 91h0m27 0h0m-29 1h0m17 4h0m32 0h0m10 0h0m-37 1h0m2 3h0m33 1h0m-46 2h0m5 0h0m55 0h0m-75 1h0m58 1h0m-65 1h0m64 2h0m-54 1h0m59 0h0m-67 3h0m61 1h0m19 0h0m-66 1h0m48 0h0m0 1h0m9 0h0m7 0h0m1 0h0m-39 1h0m-15 1h0m46 0h0m-70 1h0m13 1h0m3 0h0m27 0h0m-38 3h0m-7 1h0m10 1h0m52 0h0m-22 1h0m-3 2h0m49 1h0m-47 1h0m1 0h0m25 0h0m6 1h0m-13 1h0m17 0h0m-39 1h0m10 0h0m14 0h0m-5 1h0m27 0h0m-31 2h0m14 1h0m-8 1h0m7 2h0m-34 2h0m4 0h0m18 1h0m27 0h0m31 0h0m-109 1h0m66 0h0m-18 1h0m-57 1h0m2 1h0m85 0h0m17 0h0m-91 2h0m53 0h0m-79 2h0m44 0h0m56 0h0m-12 1h0m15 0h0m-36 1h0m31 3h0m15 0h0m-125 1h0m-3 3h0m-20 1h0m54 0h0m80 0h0m-131 1h0m122 0h0m-38 2h0m-107 1h0m46 0h0m113 1h0m-4 1h0m-47 1h0m-99 4h0m-17 3h0m18 1h0m14 0h0m-4 3h0m-30 6h0m-17 11h0m11 0h0m27 2h0m-43 2h0m28 3h0m0 4h0m-18 2h0m171 0h0m-168 1h0m-12 1h0m30 0h0m-19 1h0m26 3h0m-1 1h0m4 2h0m-34 1h0m22 0h0m-27 2h0m168 1h0m-152 1h0m15 0h0m-4 2h0m230 1h0m-256 3h0m15 0h0m144 3h0m70 1h0m-191 4h0m127 1h0m55 4h0m31 0h0m-195 2h0m1 4h0m197 0h0m12 2h0m-27 3h0m27 1h0m-32 2h0m12 0h0m19 2h0m-23 2h0m0 1h0m10 2h0m-18 6h0m34 0h0m-12 1h0m1 0h0m-21 1h0m3 2h0m32 6h0m3 3h0m-3 9h0m-10 2h0m16 1h0m-19 6h0m3 1h0m15 1h0m17 3h0m-40 1h0m32 6h0m-141 5h0m94 1h0m60 2h0m23 0h0m-74 1h0m-103 1h0m184 1h0m-59 1h0m21 2h0m-6 1h0m-20 2h0m62 0h0m-81 2h0m40 0h0m36 0h0m9 2h0m-190 5h0m180 0h0m-111 1h0m119 0h0m10 0h0m-218 1h0m88 1h0m64 1h0m14 0h0m20 1h0m33 0h0m-217 2h0m137 0h0m44 0h0m24 0h0m-57 1h0m75 0h0m-241 1h0m220 1h0m20 0h0m-106 1h0m37 0h0m47 0h0m15 0h0m16 0h0m-216 1h0m79 0h0m39 0h0m35 0h0m64 0h0m-107 2h0m40 0h0m44 0h0m-96 1h0m-84 1h0m140 0h0m39 0h0m-91 1h0m39 0h0m13 0h0m-21 1h0m22 0h0m-145 1h0m163 0h0m-165 1h0m173 0h0m-11 1h0m-152 2h0m79 0h0m120 0h0m-176 1h0m55 0h0m124 1h0m-90 2h0m-87 1h0m92 0h0m60 0h0m-126 1h0m28 0h0m-273 1h0m209 0h0m49 0h0m30 0h0m30 0h0m-42 1h0m81 0h0m-49 2h0m-107 1h0m24 2h0m41 0h0m-233 1h0m304 1h0m-107 1h0m39 0h0m43 0h0m30 0h0m-285 1h0m159 0h0m46 0h0m89 0h0m10 0h0m-123 1h0m5 0h0m82 0h0m21 0h0m-96 1h0m76 1h0m6 0h0m61 0h0m7 0h0m-150 1h0m2 0h0m99 1h0m-48 1h0m1 1h0m70 1h0m-89 1h0m49 0h0m13 0h0m54 0h0m-135 1h0m0 0h0m123 1h0m10 0h0m-318 1h0m227 0h0m13 1h0m-285 1h0m289 0h0m32 0h0m-269 1h0m206 0h0m84 0h0m-136 1h0m84 1h0m-2 1h0m49 0h0m-33 1h0m50 0h0m9 0h0m-133 1h0m9 0h0m82 0h0m6 0h0m-86 1h0m-31 2h0m41 0h0m72 0h0m8 0h0m5 0h0m-363 1h0m48 0h0m339 0h0m-7 1h0m-67 1h0m2 0h0m17 0h0m9 0h0m-22 1h0m-40 1h0m-252 1h0m207 0h0m92 0h0m6 0h0m-3 1h0m21 0h0m2 0h0m5 0h0m26 0h0m-121 1h0m29 0h0m10 1h0m9 0h0m38 0h0m34 0h0m-324 1h0m268 0h0m3 0h0m-7 1h0m54 0h0m-38 1h0m-69 2h0m51 0h0m13 0h0m43 0h0m-142 1h0m58 0h0m14 0h0m-53 1h0m-260 1h0m275 0h0m3 0h0m5 0h0m9 0h0m-330 1h0m294 1h0m96 1h0m21 0h0m-130 1h0m-231 1h0m272 0h0m6 0h0m65 0h0m18 0h0m-337 1h0m210 1h0m15 0h0m83 0h0m26 0h0m-74 1h0m-356 1h0m431 0h0m-351 1h0m7 1h0m281 0h0m-4 1h0m60 1h0m-76 1h0m-56 1h0m32 0h0m11 0h0m-39 1h0m10 0h0m17 0h0m6 0h0m45 0h0m-40 1h0m49 1h0m-25 1h0m53 1h0m-88 1h0m-13 1h0m38 0h0m-50 1h0m125 0h0m-11 2h0m-110 1h0m60 1h0m2 1h0m-54 2h0m81 0h0m27 0h0m-75 1h0m50 0h0m23 0h0m-324 1h0m214 0h0m73 0h0m13 0h0m-96 1h0m101 0h0m-14 1h0m8 0h0m-20 1h0m29 0h0m-78 1h0m10 0h0m71 0h0m-54 3h0m35 1h0m-56 2h0m24 0h0m47 0h0m7 0h0m-49 1h0m-50 1h0m78 1h0m-73 1h0m65 1h0m-59 1h0m48 1h0m30 0h0m-70 1h0m-1 1h0m15 0h0m15 1h0m-35 2h0m19 0h0m4 0h0m32 1h0m-53 1h0m30 1h0m-23 3h0m54 0h0m-5 1h0m-47 2h0" stroke="#855BF2"/></g>
<path d="M462,336C456,347 449,357 442,367C436,376 431,384 424,396" fill="none" stroke="#fff" stroke-opacity="0.38" stroke-width="7" stroke-linecap="round" filter="url(#bl1)"/>
<path d="M65.2,44.9V513.2H598.6" fill="none" stroke="#111" stroke-width="1.6"/>
<g opacity="0.995"><line x1="89.4" y1="513" x2="89.4" y2="518" stroke="#111" stroke-width="1.1"/><text x="89.4" y="534" text-anchor="middle" font-size="16" fill="#222" font-family="Liberation Sans, sans-serif">-15</text><line x1="199.4" y1="513" x2="199.4" y2="518" stroke="#111" stroke-width="1.1"/><text x="199.4" y="534" text-anchor="middle" font-size="16" fill="#222" font-family="Liberation Sans, sans-serif">-10</text><line x1="309.4" y1="513" x2="309.4" y2="518" stroke="#111" stroke-width="1.1"/><text x="309.4" y="534" text-anchor="middle" font-size="16" fill="#222" font-family="Liberation Sans, sans-serif">-5</text><line x1="419.4" y1="513" x2="419.4" y2="518" stroke="#111" stroke-width="1.1"/><text x="419.4" y="534" text-anchor="middle" font-size="16" fill="#222" font-family="Liberation Sans, sans-serif">0</text><line x1="529.5" y1="513" x2="529.5" y2="518" stroke="#111" stroke-width="1.1"/><text x="529.5" y="534" text-anchor="middle" font-size="16" fill="#222" font-family="Liberation Sans, sans-serif">5</text><line x1="60.5" y1="130.7" x2="65" y2="130.7" stroke="#111" stroke-width="1.1"/><text x="56" y="136.5" text-anchor="end" font-size="16" fill="#222" font-family="Liberation Sans, sans-serif">10</text><line x1="60.5" y1="236.8" x2="65" y2="236.8" stroke="#111" stroke-width="1.1"/><text x="56" y="242.6" text-anchor="end" font-size="16" fill="#222" font-family="Liberation Sans, sans-serif">5</text><line x1="60.5" y1="342.9" x2="65" y2="342.9" stroke="#111" stroke-width="1.1"/><text x="56" y="348.7" text-anchor="end" font-size="16" fill="#222" font-family="Liberation Sans, sans-serif">0</text><line x1="60.5" y1="449.0" x2="65" y2="449.0" stroke="#111" stroke-width="1.1"/><text x="56" y="454.8" text-anchor="end" font-size="16" fill="#222" font-family="Liberation Sans, sans-serif">-5</text>
<text x="307.2" y="31.8" font-size="20.6" font-weight="bold" fill="#000" textLength="46.6" lengthAdjust="spacingAndGlyphs" font-family="Liberation Sans, sans-serif">CFL1</text>
<text x="294.6" y="555" font-size="17.4" fill="#111" textLength="70.6" lengthAdjust="spacingAndGlyphs" font-family="Liberation Sans, sans-serif">UMAP_1</text>
<text transform="translate(30.2,315) rotate(-90)" x="0" y="0" font-size="17.8" fill="#111" textLength="71.8" lengthAdjust="spacingAndGlyphs" font-family="Liberation Sans, sans-serif">UMAP_2</text>
<rect x="616.4" y="228.1" width="20.6" height="101.8" fill="url(#cb)"/><line x1="616.4" y1="329.6" x2="620.4" y2="329.6" stroke="#fff" stroke-width="1"/><line x1="633" y1="329.6" x2="637" y2="329.6" stroke="#fff" stroke-width="1"/><text x="646" y="336.0" font-size="16" fill="#222" font-family="Liberation Sans, sans-serif">0</text><line x1="616.4" y1="308.2" x2="620.4" y2="308.2" stroke="#fff" stroke-width="1"/><line x1="633" y1="308.2" x2="637" y2="308.2" stroke="#fff" stroke-width="1"/><text x="646" y="314.6" font-size="16" fill="#222" font-family="Liberation Sans, sans-serif">1</text><line x1="616.4" y1="286.8" x2="620.4" y2="286.8" stroke="#fff" stroke-width="1"/><line x1="633" y1="286.8" x2="637" y2="286.8" stroke="#fff" stroke-width="1"/><text x="646" y="293.2" font-size="16" fill="#222" font-family="Liberation Sans, sans-serif">2</text><line x1="616.4" y1="265.3" x2="620.4" y2="265.3" stroke="#fff" stroke-width="1"/><line x1="633" y1="265.3" x2="637" y2="265.3" stroke="#fff" stroke-width="1"/><text x="646" y="271.7" font-size="16" fill="#222" font-family="Liberation Sans, sans-serif">3</text><line x1="616.4" y1="243.8" x2="620.4" y2="243.8" stroke="#fff" stroke-width="1"/><line x1="633" y1="243.8" x2="637" y2="243.8" stroke="#fff" stroke-width="1"/><text x="646" y="250.2" font-size="16" fill="#222" font-family="Liberation Sans, sans-serif">4</text></g>
</svg>
</body></html>
